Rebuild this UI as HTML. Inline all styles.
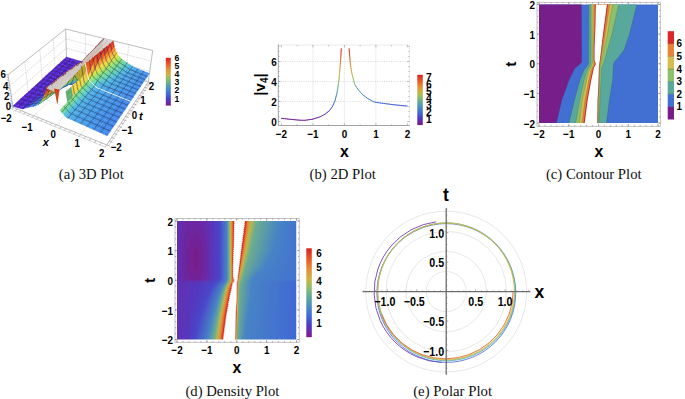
<!DOCTYPE html><html><head><meta charset="utf-8"><style>html,body{margin:0;padding:0;background:#fff;overflow:hidden}svg{display:block}</style></head><body>
<svg width="685" height="399" viewBox="0 0 685 399">
<rect width="685" height="399" fill="#fff"/>
<text x="58.8" y="179.2" textLength="64.9" lengthAdjust="spacingAndGlyphs" style="font-family:'Liberation Serif',serif;font-size:14px" fill="#111">(a) 3D Plot</text>
<text x="309.5" y="179.2" textLength="66.4" lengthAdjust="spacingAndGlyphs" style="font-family:'Liberation Serif',serif;font-size:14px" fill="#111">(b) 2D Plot</text>
<text x="545.9" y="179.2" textLength="95.7" lengthAdjust="spacingAndGlyphs" style="font-family:'Liberation Serif',serif;font-size:14px" fill="#111">(c) Contour Plot</text>
<text x="185.4" y="395.5" textLength="94.0" lengthAdjust="spacingAndGlyphs" style="font-family:'Liberation Serif',serif;font-size:14px" fill="#111">(d) Density Plot</text>
<text x="413.2" y="395.5" textLength="78.9" lengthAdjust="spacingAndGlyphs" style="font-family:'Liberation Serif',serif;font-size:14px" fill="#111">(e) Polar Plot</text>
<g transform="translate(539,4.5)">
<rect x="0" y="0" width="119.0" height="118.5" fill="#4270d2"/>
<polygon points="0,0 42.4,0 42.4,0.5 42.4,1 42.41,1.5 42.41,2 42.41,2.5 42.41,3 42.41,3.5 42.41,4 42.42,4.5 42.42,5 42.42,5.5 42.42,6 42.42,6.5 42.42,7 42.43,7.5 42.43,8 42.43,8.5 42.43,9 42.43,9.5 42.43,10 42.44,10.5 42.44,11 42.44,11.5 42.44,12 42.44,12.5 42.45,13 42.45,13.5 42.45,14 42.45,14.5 42.45,15 42.45,15.5 42.46,16 42.46,16.5 42.46,17 42.46,17.5 42.46,18 42.46,18.5 42.47,19 42.47,19.5 42.47,20 42.47,20.5 42.47,21 42.47,21.5 42.48,22 42.48,22.5 42.48,23 42.48,23.5 42.48,24 42.49,24.5 42.49,25 42.49,25.5 42.49,26 42.49,26.5 42.49,27 42.5,27.5 42.5,28 42.5,28.5 42.5,29 42.5,29.5 42.5,30 42.51,30.5 42.51,31 42.51,31.5 42.51,32 42.51,32.5 42.51,33 42.52,33.5 42.52,34 42.52,34.5 42.52,35 42.52,35.5 42.53,36 42.53,36.5 42.53,37 42.53,37.5 42.53,38 42.53,38.5 42.54,39 42.54,39.5 42.54,40 42.54,40.5 42.54,41 42.54,41.5 42.55,42 42.55,42.5 42.55,43 42.55,43.5 42.55,44 42.55,44.5 42.56,45 42.56,45.5 42.56,46 42.56,46.5 42.56,47 42.57,47.5 42.57,48 42.57,48.5 42.57,49 42.57,49.5 42.57,50 42.58,50.5 42.58,51 42.58,51.5 42.58,52 42.58,52.5 42.58,53 42.59,53.5 42.59,54 42.59,54.5 42.59,55 42.59,55.5 42.59,56 42.6,56.5 42.6,57 42.6,57.5 42.17,58 41.73,58.5 41.3,59 40.87,59.5 40.43,60 40,60.5 39.33,61 38.67,61.5 38,62 37.33,62.5 36.67,63 36,63.5 35.75,64 35.5,64.5 35.25,65 35,65.5 34.75,66 34.5,66.5 34.25,67 34,67.5 33.75,68 33.5,68.5 33.25,69 33,69.5 32.75,70 32.5,70.5 32.25,71 32,71.5 31.75,72 31.5,72.5 31.25,73 31,73.5 30.75,74 30.5,74.5 30.25,75 30,75.5 29.82,76 29.64,76.5 29.46,77 29.28,77.5 29.1,78 28.92,78.5 28.74,79 28.56,79.5 28.38,80 28.2,80.5 28.02,81 27.84,81.5 27.66,82 27.48,82.5 27.3,83 27.12,83.5 26.94,84 26.76,84.5 26.58,85 26.4,85.5 26.22,86 26.04,86.5 25.86,87 25.68,87.5 25.5,88 25.32,88.5 25.14,89 24.96,89.5 24.78,90 24.6,90.5 24.42,91 24.24,91.5 24.06,92 23.88,92.5 23.7,93 23.52,93.5 23.34,94 23.16,94.5 22.98,95 22.8,95.5 22.68,96 22.57,96.5 22.45,97 22.33,97.5 22.21,98 22.1,98.5 21.98,99 21.86,99.5 21.74,100 21.63,100.5 21.51,101 21.39,101.5 21.27,102 21.16,102.5 21.04,103 20.92,103.5 20.8,104 20.69,104.5 20.57,105 20.45,105.5 20.33,106 20.22,106.5 20.1,107 19.98,107.5 19.87,108 19.75,108.5 19.63,109 19.51,109.5 19.4,110 19.28,110.5 19.16,111 19.04,111.5 18.93,112 18.81,112.5 18.69,113 18.57,113.5 18.46,114 18.34,114.5 18.22,115 18.1,115.5 17.99,116 17.87,116.5 17.75,117 17.63,117.5 17.52,118 17.4,118.5 0,118.5" fill="#781e8a"/>
<polygon points="49.75,0 49.75,0.5 49.75,1 49.74,1.5 49.74,2 49.74,2.5 49.74,3 49.74,3.5 49.73,4 49.73,4.5 49.73,5 49.73,5.5 49.72,6 49.72,6.5 49.72,7 49.72,7.5 49.72,8 49.71,8.5 49.71,9 49.71,9.5 49.71,10 49.71,10.5 49.7,11 49.7,11.5 49.7,12 49.7,12.5 49.69,13 49.69,13.5 49.69,14 49.69,14.5 49.69,15 49.68,15.5 49.68,16 49.68,16.5 49.68,17 49.68,17.5 49.67,18 49.67,18.5 49.67,19 49.67,19.5 49.66,20 49.66,20.5 49.66,21 49.66,21.5 49.66,22 49.65,22.5 49.65,23 49.65,23.5 49.65,24 49.65,24.5 49.64,25 49.64,25.5 49.64,26 49.64,26.5 49.63,27 49.63,27.5 49.63,28 49.63,28.5 49.63,29 49.62,29.5 49.62,30 49.62,30.5 49.62,31 49.62,31.5 49.61,32 49.61,32.5 49.61,33 49.61,33.5 49.6,34 49.6,34.5 49.6,35 49.6,35.5 49.6,36 49.59,36.5 49.59,37 49.59,37.5 49.59,38 49.59,38.5 49.58,39 49.58,39.5 49.58,40 49.58,40.5 49.57,41 49.57,41.5 49.57,42 49.57,42.5 49.57,43 49.56,43.5 49.56,44 49.56,44.5 49.56,45 49.56,45.5 49.55,46 49.55,46.5 49.55,47 49.55,47.5 49.54,48 49.54,48.5 49.54,49 49.54,49.5 49.54,50 49.53,50.5 49.53,51 49.53,51.5 49.53,52 49.53,52.5 49.52,53 49.52,53.5 49.52,54 49.52,54.5 49.51,55 49.51,55.5 49.51,56 49.51,56.5 49.51,57 49.5,57.5 49.5,58 49.5,58.5 49.38,59 49.25,59.5 49.12,60 49,60.5 48.6,61 48.2,61.5 47.8,62 47.4,62.5 47,63 46.6,63.5 46.2,64 45.8,64.5 45.4,65 45,65.5 44.8,66 44.6,66.5 44.4,67 44.2,67.5 44,68 43.8,68.5 43.6,69 43.4,69.5 43.2,70 43,70.5 42.8,71 42.6,71.5 42.4,72 42.2,72.5 42,73 41.8,73.5 41.6,74 41.4,74.5 41.2,75 41,75.5 40.86,76 40.73,76.5 40.59,77 40.45,77.5 40.31,78 40.17,78.5 40.04,79 39.9,79.5 39.76,80 39.62,80.5 39.49,81 39.35,81.5 39.21,82 39.08,82.5 38.94,83 38.8,83.5 38.66,84 38.52,84.5 38.39,85 38.25,85.5 38.11,86 37.98,86.5 37.84,87 37.7,87.5 37.56,88 37.42,88.5 37.29,89 37.15,89.5 37.01,90 36.88,90.5 36.74,91 36.6,91.5 36.46,92 36.33,92.5 36.19,93 36.05,93.5 35.91,94 35.77,94.5 35.64,95 35.5,95.5 35.38,96 35.26,96.5 35.14,97 35.02,97.5 34.9,98 34.78,98.5 34.66,99 34.54,99.5 34.42,100 34.3,100.5 34.18,101 34.07,101.5 33.95,102 33.83,102.5 33.71,103 33.59,103.5 33.47,104 33.35,104.5 33.23,105 33.11,105.5 32.99,106 32.87,106.5 32.75,107 32.63,107.5 32.51,108 32.39,108.5 32.27,109 32.15,109.5 32.03,110 31.91,110.5 31.79,111 31.67,111.5 31.55,112 31.43,112.5 31.32,113 31.2,113.5 31.08,114 30.96,114.5 30.84,115 30.72,115.5 30.6,116 30.48,116.5 30.36,117 30.24,117.5 30.12,118 30,118.5 67.4,118.5 67.47,118 67.53,117.5 67.6,117 67.66,116.5 67.73,116 67.79,115.5 67.86,115 67.92,114.5 67.99,114 68.05,113.5 68.12,113 68.18,112.5 68.25,112 68.31,111.5 68.38,111 68.44,110.5 68.51,110 68.57,109.5 68.64,109 68.7,108.5 68.77,108 68.83,107.5 68.9,107 68.97,106.5 69.03,106 69.1,105.5 69.16,105 69.23,104.5 69.29,104 69.36,103.5 69.42,103 69.49,102.5 69.55,102 69.62,101.5 69.68,101 69.75,100.5 69.81,100 69.88,99.5 69.94,99 70.01,98.5 70.07,98 70.14,97.5 70.2,97 70.27,96.5 70.33,96 70.4,95.5 70.48,95 70.56,94.5 70.64,94 70.72,93.5 70.8,93 70.88,92.5 70.96,92 71.04,91.5 71.12,91 71.2,90.5 71.28,90 71.36,89.5 71.44,89 71.52,88.5 71.6,88 71.68,87.5 71.76,87 71.84,86.5 71.92,86 72,85.5 72.08,85 72.16,84.5 72.24,84 72.32,83.5 72.4,83 72.48,82.5 72.56,82 72.64,81.5 72.72,81 72.8,80.5 72.88,80 72.96,79.5 73.04,79 73.12,78.5 73.2,78 73.28,77.5 73.36,77 73.44,76.5 73.52,76 73.6,75.5 73.63,75 73.66,74.5 73.69,74 73.72,73.5 73.75,73 73.78,72.5 73.81,72 73.84,71.5 73.87,71 73.9,70.5 73.93,70 73.97,69.5 74,69 74.03,68.5 74.06,68 74.09,67.5 74.12,67 74.15,66.5 74.18,66 74.21,65.5 74.24,65 74.27,64.5 74.3,64 74.31,63.5 74.33,63 74.34,62.5 74.36,62 74.37,61.5 74.39,61 74.4,60.5 74.55,60 74.7,59.5 74.85,59 75,58.5 75.15,58 75.3,57.5 75.74,57 76.17,56.5 76.61,56 77.05,55.5 77.49,55 77.92,54.5 78.36,54 78.8,53.5 79.19,53 79.58,52.5 79.96,52 80.35,51.5 80.74,51 81.12,50.5 81.51,50 81.9,49.5 82.29,49 82.67,48.5 83.06,48 83.45,47.5 83.84,47 84.22,46.5 84.61,46 85,45.5 85.17,45 85.35,44.5 85.52,44 85.69,43.5 85.87,43 86.04,42.5 86.21,42 86.39,41.5 86.56,41 86.73,40.5 86.91,40 87.08,39.5 87.25,39 87.43,38.5 87.6,38 87.77,37.5 87.95,37 88.12,36.5 88.29,36 88.47,35.5 88.64,35 88.81,34.5 88.99,34 89.16,33.5 89.33,33 89.51,32.5 89.68,32 89.85,31.5 90.03,31 90.2,30.5 90.33,30 90.45,29.5 90.58,29 90.7,28.5 90.83,28 90.95,27.5 91.08,27 91.21,26.5 91.33,26 91.46,25.5 91.58,25 91.71,24.5 91.83,24 91.96,23.5 92.09,23 92.21,22.5 92.34,22 92.46,21.5 92.59,21 92.71,20.5 92.84,20 92.97,19.5 93.09,19 93.22,18.5 93.34,18 93.47,17.5 93.59,17 93.72,16.5 93.85,16 93.97,15.5 94.1,15 94.22,14.5 94.35,14 94.47,13.5 94.6,13 94.72,12.5 94.85,12 94.97,11.5 95.09,11 95.22,10.5 95.34,10 95.46,9.5 95.58,9 95.71,8.5 95.83,8 95.95,7.5 96.08,7 96.2,6.5 96.32,6 96.45,5.5 96.57,5 96.69,4.5 96.82,4 96.94,3.5 97.06,3 97.18,2.5 97.31,2 97.43,1.5 97.55,1 97.68,0.5 97.8,0" fill="#58a89c"/>
<polygon points="51.4,0 51.41,0.5 51.41,1 51.42,1.5 51.42,2 51.43,2.5 51.43,3 51.44,3.5 51.44,4 51.45,4.5 51.45,5 51.46,5.5 51.46,6 51.47,6.5 51.47,7 51.48,7.5 51.48,8 51.49,8.5 51.49,9 51.5,9.5 51.5,10 51.51,10.5 51.51,11 51.52,11.5 51.52,12 51.53,12.5 51.53,13 51.54,13.5 51.54,14 51.55,14.5 51.55,15 51.56,15.5 51.56,16 51.57,16.5 51.57,17 51.58,17.5 51.58,18 51.59,18.5 51.59,19 51.6,19.5 51.61,20 51.61,20.5 51.62,21 51.62,21.5 51.63,22 51.63,22.5 51.64,23 51.64,23.5 51.65,24 51.65,24.5 51.66,25 51.66,25.5 51.67,26 51.67,26.5 51.68,27 51.68,27.5 51.69,28 51.69,28.5 51.7,29 51.7,29.5 51.71,30 51.71,30.5 51.72,31 51.72,31.5 51.73,32 51.73,32.5 51.74,33 51.74,33.5 51.75,34 51.75,34.5 51.76,35 51.76,35.5 51.77,36 51.77,36.5 51.78,37 51.78,37.5 51.79,38 51.79,38.5 51.8,39 51.81,39.5 51.81,40 51.82,40.5 51.82,41 51.83,41.5 51.83,42 51.84,42.5 51.84,43 51.85,43.5 51.85,44 51.86,44.5 51.86,45 51.87,45.5 51.87,46 51.88,46.5 51.88,47 51.89,47.5 51.89,48 51.9,48.5 51.9,49 51.91,49.5 51.91,50 51.92,50.5 51.92,51 51.93,51.5 51.93,52 51.94,52.5 51.94,53 51.95,53.5 51.95,54 51.96,54.5 51.96,55 51.97,55.5 51.97,56 51.98,56.5 51.98,57 51.99,57.5 51.99,58 52,58.5 51.8,59 51.6,59.5 51.4,60 51.2,60.5 51,61 50.7,61.5 50.4,62 50.1,62.5 49.8,63 49.5,63.5 49.2,64 48.9,64.5 48.6,65 48.3,65.5 48,66 47.85,66.5 47.69,67 47.54,67.5 47.39,68 47.24,68.5 47.08,69 46.93,69.5 46.78,70 46.63,70.5 46.47,71 46.32,71.5 46.17,72 46.02,72.5 45.86,73 45.71,73.5 45.56,74 45.41,74.5 45.25,75 45.1,75.5 45,76 44.89,76.5 44.79,77 44.68,77.5 44.58,78 44.47,78.5 44.37,79 44.26,79.5 44.16,80 44.05,80.5 43.95,81 43.84,81.5 43.73,82 43.63,82.5 43.52,83 43.42,83.5 43.31,84 43.21,84.5 43.1,85 43,85.5 42.9,86 42.79,86.5 42.69,87 42.58,87.5 42.48,88 42.37,88.5 42.27,89 42.16,89.5 42.05,90 41.95,90.5 41.84,91 41.74,91.5 41.63,92 41.53,92.5 41.42,93 41.32,93.5 41.21,94 41.11,94.5 41,95 40.9,95.5 40.81,96 40.72,96.5 40.63,97 40.53,97.5 40.44,98 40.35,98.5 40.26,99 40.17,99.5 40.08,100 39.99,100.5 39.9,101 39.8,101.5 39.71,102 39.62,102.5 39.53,103 39.44,103.5 39.35,104 39.26,104.5 39.17,105 39.07,105.5 38.98,106 38.89,106.5 38.8,107 38.71,107.5 38.62,108 38.53,108.5 38.43,109 38.34,109.5 38.25,110 38.16,110.5 38.07,111 37.98,111.5 37.89,112 37.8,112.5 37.7,113 37.61,113.5 37.52,114 37.43,114.5 37.34,115 37.25,115.5 37.16,116 37.07,116.5 36.97,117 36.88,117.5 36.79,118 36.7,118.5 59.8,118.5 59.83,118 59.85,117.5 59.88,117 59.9,116.5 59.93,116 59.96,115.5 59.98,115 60.01,114.5 60.03,114 60.06,113.5 60.09,113 60.11,112.5 60.14,112 60.17,111.5 60.19,111 60.22,110.5 60.24,110 60.27,109.5 60.3,109 60.32,108.5 60.35,108 60.37,107.5 60.4,107 60.43,106.5 60.45,106 60.48,105.5 60.5,105 60.53,104.5 60.56,104 60.58,103.5 60.61,103 60.63,102.5 60.66,102 60.69,101.5 60.71,101 60.74,100.5 60.77,100 60.79,99.5 60.82,99 60.84,98.5 60.87,98 60.9,97.5 60.92,97 60.95,96.5 60.97,96 61,95.5 61.02,95 61.05,94.5 61.08,94 61.1,93.5 61.12,93 61.15,92.5 61.17,92 61.2,91.5 61.23,91 61.25,90.5 61.27,90 61.3,89.5 61.33,89 61.35,88.5 61.38,88 61.4,87.5 61.42,87 61.45,86.5 61.48,86 61.5,85.5 61.52,85 61.55,84.5 61.58,84 61.6,83.5 61.62,83 61.65,82.5 61.67,82 61.7,81.5 61.73,81 61.75,80.5 61.77,80 61.8,79.5 61.83,79 61.85,78.5 61.88,78 61.9,77.5 61.92,77 61.95,76.5 61.98,76 62,75.5 62.02,75 62.05,74.5 62.08,74 62.1,73.5 62.12,73 62.15,72.5 62.17,72 62.2,71.5 62.23,71 62.25,70.5 62.27,70 62.3,69.5 62.33,69 62.35,68.5 62.38,68 62.4,67.5 62.42,67 62.45,66.5 62.48,66 62.5,65.5 62.57,65 62.64,64.5 62.71,64 62.79,63.5 62.86,63 62.93,62.5 63,62 63.28,61.5 63.56,61 63.84,60.5 64.12,60 64.4,59.5 64.55,59 64.7,58.5 64.85,58 65,57.5 65.15,57 65.3,56.5 65.45,56 65.6,55.5 65.74,55 65.88,54.5 66.03,54 66.17,53.5 66.31,53 66.45,52.5 66.59,52 66.74,51.5 66.88,51 67.02,50.5 67.16,50 67.3,49.5 67.45,49 67.59,48.5 67.73,48 67.87,47.5 68.01,47 68.16,46.5 68.3,46 68.44,45.5 68.58,45 68.72,44.5 68.87,44 69.01,43.5 69.15,43 69.29,42.5 69.43,42 69.58,41.5 69.72,41 69.86,40.5 70,40 70.14,39.5 70.29,39 70.43,38.5 70.57,38 70.71,37.5 70.85,37 71,36.5 71.14,36 71.28,35.5 71.42,35 71.56,34.5 71.71,34 71.85,33.5 71.99,33 72.13,32.5 72.27,32 72.42,31.5 72.56,31 72.7,30.5 72.81,30 72.93,29.5 73.04,29 73.16,28.5 73.27,28 73.39,27.5 73.5,27 73.62,26.5 73.73,26 73.85,25.5 73.96,25 74.08,24.5 74.19,24 74.31,23.5 74.42,23 74.54,22.5 74.65,22 74.77,21.5 74.88,21 75,20.5 75.11,20 75.22,19.5 75.34,19 75.45,18.5 75.57,18 75.68,17.5 75.8,17 75.91,16.5 76.03,16 76.14,15.5 76.26,15 76.37,14.5 76.49,14 76.6,13.5 76.72,13 76.83,12.5 76.95,12 77.06,11.5 77.18,11 77.29,10.5 77.4,10 77.52,9.5 77.63,9 77.75,8.5 77.86,8 77.98,7.5 78.09,7 78.21,6.5 78.32,6 78.44,5.5 78.55,5 78.67,4.5 78.78,4 78.9,3.5 79.01,3 79.13,2.5 79.24,2 79.36,1.5 79.47,1 79.59,0.5 79.7,0" fill="#8cc06c"/>
<polygon points="53,0 53,0.5 53.01,1 53.01,1.5 53.02,2 53.02,2.5 53.03,3 53.03,3.5 53.03,4 53.04,4.5 53.04,5 53.05,5.5 53.05,6 53.06,6.5 53.06,7 53.06,7.5 53.07,8 53.07,8.5 53.08,9 53.08,9.5 53.09,10 53.09,10.5 53.09,11 53.1,11.5 53.1,12 53.11,12.5 53.11,13 53.12,13.5 53.12,14 53.12,14.5 53.13,15 53.13,15.5 53.14,16 53.14,16.5 53.15,17 53.15,17.5 53.15,18 53.16,18.5 53.16,19 53.17,19.5 53.17,20 53.18,20.5 53.18,21 53.18,21.5 53.19,22 53.19,22.5 53.2,23 53.2,23.5 53.21,24 53.21,24.5 53.21,25 53.22,25.5 53.22,26 53.23,26.5 53.23,27 53.24,27.5 53.24,28 53.24,28.5 53.25,29 53.25,29.5 53.26,30 53.26,30.5 53.26,31 53.27,31.5 53.27,32 53.28,32.5 53.28,33 53.29,33.5 53.29,34 53.29,34.5 53.3,35 53.3,35.5 53.31,36 53.31,36.5 53.32,37 53.32,37.5 53.32,38 53.33,38.5 53.33,39 53.34,39.5 53.34,40 53.35,40.5 53.35,41 53.35,41.5 53.36,42 53.36,42.5 53.37,43 53.37,43.5 53.38,44 53.38,44.5 53.38,45 53.39,45.5 53.39,46 53.4,46.5 53.4,47 53.41,47.5 53.41,48 53.41,48.5 53.42,49 53.42,49.5 53.43,50 53.43,50.5 53.44,51 53.44,51.5 53.44,52 53.45,52.5 53.45,53 53.46,53.5 53.46,54 53.47,54.5 53.47,55 53.47,55.5 53.48,56 53.48,56.5 53.49,57 53.49,57.5 53.5,58 53.5,58.5 53.33,59 53.17,59.5 53,60 52.83,60.5 52.67,61 52.5,61.5 52.23,62 51.95,62.5 51.68,63 51.41,63.5 51.14,64 50.86,64.5 50.59,65 50.32,65.5 50.05,66 49.77,66.5 49.5,67 49.38,67.5 49.26,68 49.15,68.5 49.03,69 48.91,69.5 48.79,70 48.68,70.5 48.56,71 48.44,71.5 48.32,72 48.21,72.5 48.09,73 47.97,73.5 47.85,74 47.74,74.5 47.62,75 47.5,75.5 47.4,76 47.29,76.5 47.19,77 47.08,77.5 46.98,78 46.87,78.5 46.77,79 46.66,79.5 46.55,80 46.45,80.5 46.34,81 46.24,81.5 46.13,82 46.03,82.5 45.92,83 45.82,83.5 45.71,84 45.61,84.5 45.5,85 45.4,85.5 45.3,86 45.19,86.5 45.09,87 44.98,87.5 44.88,88 44.77,88.5 44.66,89 44.56,89.5 44.45,90 44.35,90.5 44.24,91 44.14,91.5 44.03,92 43.93,92.5 43.82,93 43.72,93.5 43.61,94 43.51,94.5 43.41,95 43.3,95.5 43.23,96 43.17,96.5 43.1,97 43.04,97.5 42.97,98 42.91,98.5 42.84,99 42.78,99.5 42.71,100 42.65,100.5 42.58,101 42.52,101.5 42.45,102 42.39,102.5 42.32,103 42.26,103.5 42.19,104 42.13,104.5 42.06,105 42,105.5 41.93,106 41.87,106.5 41.8,107 41.73,107.5 41.67,108 41.6,108.5 41.54,109 41.47,109.5 41.41,110 41.34,110.5 41.28,111 41.21,111.5 41.15,112 41.08,112.5 41.02,113 40.95,113.5 40.89,114 40.82,114.5 40.76,115 40.69,115.5 40.63,116 40.56,116.5 40.5,117 40.43,117.5 40.37,118 40.3,118.5 59.3,118.5 59.32,118 59.33,117.5 59.35,117 59.36,116.5 59.38,116 59.39,115.5 59.41,115 59.42,114.5 59.44,114 59.45,113.5 59.47,113 59.48,112.5 59.5,112 59.51,111.5 59.53,111 59.54,110.5 59.56,110 59.57,109.5 59.59,109 59.6,108.5 59.62,108 59.63,107.5 59.65,107 59.67,106.5 59.68,106 59.7,105.5 59.71,105 59.73,104.5 59.74,104 59.76,103.5 59.77,103 59.79,102.5 59.8,102 59.82,101.5 59.83,101 59.85,100.5 59.86,100 59.88,99.5 59.89,99 59.91,98.5 59.92,98 59.94,97.5 59.95,97 59.97,96.5 59.98,96 60,95.5 60.01,95 60.02,94.5 60.04,94 60.05,93.5 60.06,93 60.07,92.5 60.09,92 60.1,91.5 60.11,91 60.12,90.5 60.13,90 60.15,89.5 60.16,89 60.17,88.5 60.18,88 60.2,87.5 60.21,87 60.22,86.5 60.23,86 60.24,85.5 60.26,85 60.27,84.5 60.28,84 60.29,83.5 60.3,83 60.32,82.5 60.33,82 60.34,81.5 60.35,81 60.37,80.5 60.38,80 60.39,79.5 60.4,79 60.41,78.5 60.43,78 60.44,77.5 60.45,77 60.46,76.5 60.48,76 60.49,75.5 60.5,75 60.52,74.5 60.54,74 60.56,73.5 60.58,73 60.6,72.5 60.62,72 60.63,71.5 60.65,71 60.67,70.5 60.69,70 60.71,69.5 60.73,69 60.75,68.5 60.77,68 60.79,67.5 60.81,67 60.83,66.5 60.85,66 60.87,65.5 60.88,65 60.9,64.5 60.92,64 60.94,63.5 60.96,63 60.98,62.5 61,62 61.1,61.5 61.2,61 61.3,60.5 61.4,60 61.5,59.5 61.62,59 61.75,58.5 61.88,58 62,57.5 62.12,57 62.25,56.5 62.38,56 62.5,55.5 62.62,55 62.73,54.5 62.85,54 62.96,53.5 63.08,53 63.2,52.5 63.31,52 63.43,51.5 63.54,51 63.66,50.5 63.78,50 63.89,49.5 64.01,49 64.12,48.5 64.24,48 64.36,47.5 64.47,47 64.59,46.5 64.7,46 64.82,45.5 64.94,45 65.05,44.5 65.17,44 65.28,43.5 65.4,43 65.52,42.5 65.63,42 65.75,41.5 65.86,41 65.98,40.5 66.1,40 66.21,39.5 66.33,39 66.44,38.5 66.56,38 66.68,37.5 66.79,37 66.91,36.5 67.02,36 67.14,35.5 67.26,35 67.37,34.5 67.49,34 67.6,33.5 67.72,33 67.84,32.5 67.95,32 68.07,31.5 68.18,31 68.3,30.5 68.39,30 68.47,29.5 68.56,29 68.64,28.5 68.73,28 68.81,27.5 68.9,27 68.98,26.5 69.07,26 69.15,25.5 69.24,25 69.32,24.5 69.41,24 69.49,23.5 69.58,23 69.66,22.5 69.75,22 69.83,21.5 69.92,21 70,20.5 70.09,20 70.18,19.5 70.26,19 70.35,18.5 70.43,18 70.52,17.5 70.6,17 70.69,16.5 70.77,16 70.86,15.5 70.94,15 71.03,14.5 71.11,14 71.2,13.5 71.28,13 71.37,12.5 71.45,12 71.54,11.5 71.62,11 71.71,10.5 71.8,10 71.88,9.5 71.97,9 72.05,8.5 72.14,8 72.22,7.5 72.31,7 72.39,6.5 72.48,6 72.56,5.5 72.65,5 72.73,4.5 72.82,4 72.9,3.5 72.99,3 73.07,2.5 73.16,2 73.24,1.5 73.33,1 73.41,0.5 73.5,0" fill="#d4bc4e"/>
<polygon points="54.9,0 54.9,0.5 54.89,1 54.89,1.5 54.89,2 54.89,2.5 54.88,3 54.88,3.5 54.88,4 54.88,4.5 54.87,5 54.87,5.5 54.87,6 54.86,6.5 54.86,7 54.86,7.5 54.86,8 54.85,8.5 54.85,9 54.85,9.5 54.84,10 54.84,10.5 54.84,11 54.84,11.5 54.83,12 54.83,12.5 54.83,13 54.83,13.5 54.82,14 54.82,14.5 54.82,15 54.81,15.5 54.81,16 54.81,16.5 54.81,17 54.8,17.5 54.8,18 54.8,18.5 54.79,19 54.79,19.5 54.79,20 54.79,20.5 54.78,21 54.78,21.5 54.78,22 54.78,22.5 54.77,23 54.77,23.5 54.77,24 54.76,24.5 54.76,25 54.76,25.5 54.75,26 54.74,26.5 54.74,27 54.73,27.5 54.72,28 54.71,28.5 54.7,29 54.7,29.5 54.69,30 54.68,30.5 54.67,31 54.66,31.5 54.66,32 54.65,32.5 54.64,33 54.63,33.5 54.63,34 54.62,34.5 54.61,35 54.6,35.5 54.59,36 54.59,36.5 54.58,37 54.57,37.5 54.56,38 54.55,38.5 54.55,39 54.54,39.5 54.53,40 54.52,40.5 54.52,41 54.51,41.5 54.5,42 54.49,42.5 54.48,43 54.48,43.5 54.47,44 54.46,44.5 54.45,45 54.44,45.5 54.45,46 54.45,46.5 54.45,47 54.45,47.5 54.46,48 54.46,48.5 54.46,49 54.46,49.5 54.46,50 54.47,50.5 54.47,51 54.47,51.5 54.47,52 54.47,52.5 54.48,53 54.48,53.5 54.48,54 54.48,54.5 54.49,55 54.49,55.5 54.57,56 54.66,56.5 54.74,57 54.83,57.5 54.91,58 55,58.5 55.04,59 55.08,59.5 54.86,60 54.63,60.5 54.4,61 54.18,61.5 53.9,62 53.62,62.5 53.34,63 53.15,63.5 52.97,64 52.78,64.5 52.6,65 52.41,65.5 52.22,66 52.03,66.5 51.84,67 51.72,67.5 51.61,68 51.49,68.5 51.38,69 51.27,69.5 51.15,70 51.04,70.5 50.92,71 50.81,71.5 50.7,72 50.58,72.5 50.47,73 50.36,73.5 50.24,74 50.13,74.5 50.01,75 49.9,75.5 49.8,76 49.7,76.5 49.61,77 49.51,77.5 49.41,78 49.31,78.5 49.22,79 49.12,79.5 49.02,80 48.92,80.5 48.83,81 48.73,81.5 48.63,82 48.53,82.5 48.44,83 48.34,83.5 48.24,84 48.14,84.5 48.05,85 47.95,85.5 47.85,86 47.75,86.5 47.66,87 47.56,87.5 47.46,88 47.36,88.5 47.27,89 47.17,89.5 47.07,90 46.97,90.5 46.88,91 46.78,91.5 46.68,92 46.59,92.5 46.49,93 46.39,93.5 46.29,94 46.2,94.5 46.1,95 46,95.5 45.93,96 45.87,96.5 45.8,97 45.74,97.5 45.67,98 45.61,98.5 45.54,99 45.48,99.5 45.41,100 45.35,100.5 45.28,101 45.22,101.5 45.15,102 45.09,102.5 45.02,103 44.96,103.5 44.89,104 44.83,104.5 44.76,105 44.7,105.5 44.63,106 44.57,106.5 44.5,107 44.43,107.5 44.37,108 44.3,108.5 44.24,109 44.17,109.5 44.11,110 44.04,110.5 43.98,111 43.91,111.5 43.85,112 43.78,112.5 43.72,113 43.65,113.5 43.59,114 43.52,114.5 43.46,115 43.39,115.5 43.33,116 43.26,116.5 43.2,117 43.13,117.5 43.07,118 43,118.5 58.8,118.5 58.81,118 58.82,117.5 58.83,117 58.84,116.5 58.85,116 58.87,115.5 58.88,115 58.89,114.5 58.9,114 58.91,113.5 58.92,113 58.93,112.5 58.94,112 58.95,111.5 58.96,111 58.97,110.5 58.98,110 59,109.5 59.01,109 59.02,108.5 59.03,108 59.04,107.5 59.05,107 59.06,106.5 59.07,106 59.08,105.5 59.09,105 59.1,104.5 59.12,104 59.13,103.5 59.14,103 59.15,102.5 59.16,102 59.17,101.5 59.18,101 59.19,100.5 59.2,100 59.21,99.5 59.22,99 59.23,98.5 59.25,98 59.26,97.5 59.27,97 59.28,96.5 59.29,96 59.3,95.5 59.32,95 59.34,94.5 59.36,94 59.38,93.5 59.41,93 59.43,92.5 59.45,92 59.47,91.5 59.49,91 59.51,90.5 59.53,90 59.55,89.5 59.57,89 59.6,88.5 59.62,88 59.64,87.5 59.66,87 59.68,86.5 59.7,86 59.72,85.5 59.74,85 59.76,84.5 59.79,84 59.81,83.5 59.83,83 59.85,82.5 59.87,82 59.89,81.5 59.91,81 59.93,80.5 59.95,80 59.96,79.5 59.97,79 59.98,78.5 60,78 60.01,77.5 60.02,77 60.03,76.5 60.05,76 60.06,75.5 60.07,75 60.09,74.5 60.1,74 60.12,73.5 60.13,73 60.15,72.5 60.17,72 60.18,71.5 60.2,71 60.21,70.5 60.23,70 60.25,69.5 60.26,69 60.28,68.5 60.29,68 60.31,67.5 60.33,67 60.34,66.5 60.36,66 60.38,65.5 60.39,65 60.41,64.5 60.42,64 60.44,63.5 60.46,63 60.47,62.5 60.49,62 60.54,61.5 60.6,61 60.72,60.5 60.83,60 60.95,59.5 61.04,59 61.14,58.5 61.23,58 61.33,57.5 61.42,57 61.51,56.5 61.61,56 61.7,55.5 61.79,55 61.88,54.5 61.96,54 62.05,53.5 62.14,53 62.23,52.5 62.32,52 62.4,51.5 62.49,51 62.58,50.5 62.67,50 62.76,49.5 62.84,49 62.93,48.5 63.02,48 63.11,47.5 63.2,47 63.28,46.5 63.37,46 63.46,45.5 63.55,45 63.64,44.5 63.72,44 63.81,43.5 63.9,43 63.99,42.5 64.08,42 64.16,41.5 64.25,41 64.34,40.5 64.43,40 64.52,39.5 64.6,39 64.69,38.5 64.78,38 64.87,37.5 64.96,37 65.04,36.5 65.13,36 65.22,35.5 65.31,35 65.4,34.5 65.48,34 65.57,33.5 65.66,33 65.75,32.5 65.84,32 65.92,31.5 66.01,31 66.1,30.5 66.18,30 66.25,29.5 66.33,29 66.4,28.5 66.48,28 66.55,27.5 66.63,27 66.7,26.5 66.78,26 66.85,25.5 66.93,25 67,24.5 67.08,24 67.16,23.5 67.23,23 67.31,22.5 67.38,22 67.46,21.5 67.53,21 67.61,20.5 67.68,20 67.76,19.5 67.83,19 67.91,18.5 67.99,18 68.06,17.5 68.14,17 68.21,16.5 68.29,16 68.36,15.5 68.44,15 68.51,14.5 68.59,14 68.66,13.5 68.74,13 68.81,12.5 68.89,12 68.97,11.5 69.04,11 69.12,10.5 69.19,10 69.27,9.5 69.34,9 69.42,8.5 69.49,8 69.57,7.5 69.64,7 69.72,6.5 69.8,6 69.87,5.5 69.95,5 70.02,4.5 70.1,4 70.17,3.5 70.25,3 70.32,2.5 70.4,2 70.47,1.5 70.55,1 70.62,0.5 70.7,0" fill="#e8843a"/>
<polygon points="56.12,0 56.11,0.5 56.1,1 56.09,1.5 56.09,2 56.08,2.5 56.07,3 56.07,3.5 56.06,4 56.05,4.5 56.04,5 56.04,5.5 56.03,6 56.02,6.5 56.01,7 56.01,7.5 56,8 55.99,8.5 55.99,9 55.98,9.5 55.97,10 55.96,10.5 55.96,11 55.95,11.5 55.94,12 55.93,12.5 55.93,13 55.92,13.5 55.91,14 55.91,14.5 55.9,15 55.89,15.5 55.88,16 55.88,16.5 55.87,17 55.86,17.5 55.85,18 55.85,18.5 55.84,19 55.83,19.5 55.83,20 55.82,20.5 55.81,21 55.8,21.5 55.8,22 55.79,22.5 55.78,23 55.77,23.5 55.77,24 55.76,24.5 55.75,25 55.75,25.5 55.73,26 55.71,26.5 55.7,27 55.68,27.5 55.67,28 55.65,28.5 55.64,29 55.62,29.5 55.6,30 55.59,30.5 55.57,31 55.56,31.5 55.54,32 55.53,32.5 55.51,33 55.5,33.5 55.48,34 55.46,34.5 55.45,35 55.43,35.5 55.42,36 55.4,36.5 55.39,37 55.37,37.5 55.35,38 55.34,38.5 55.32,39 55.31,39.5 55.29,40 55.28,40.5 55.26,41 55.25,41.5 55.23,42 55.21,42.5 55.2,43 55.18,43.5 55.17,44 55.15,44.5 55.14,45 55.12,45.5 55.12,46 55.12,46.5 55.12,47 55.12,47.5 55.12,48 55.12,48.5 55.13,49 55.13,49.5 55.13,50 55.13,50.5 55.13,51 55.13,51.5 55.13,52 55.13,52.5 55.13,53 55.13,53.5 55.13,54 55.13,54.5 55.13,55 55.14,55.5 55.27,56 55.41,56.5 55.55,57 55.69,57.5 55.82,58 55.96,58.5 56.13,59 56.31,59.5 56.05,60 55.78,60.5 55.52,61 55.25,61.5 54.97,62 54.69,62.5 54.4,63 54.27,63.5 54.14,64 54.01,64.5 53.88,65 53.75,65.5 53.61,66 53.47,66.5 53.33,67 53.22,67.5 53.11,68 53,68.5 52.88,69 52.77,69.5 52.66,70 52.55,70.5 52.44,71 52.33,71.5 52.22,72 52.1,72.5 51.99,73 51.88,73.5 51.77,74 51.66,74.5 51.55,75 51.44,75.5 51.34,76 51.25,76.5 51.16,77 51.07,77.5 50.97,78 50.88,78.5 50.79,79 50.69,79.5 50.6,80 50.51,80.5 50.42,81 50.32,81.5 50.23,82 50.14,82.5 50.05,83 49.95,83.5 49.86,84 49.77,84.5 49.67,85 49.58,85.5 49.49,86 49.4,86.5 49.3,87 49.21,87.5 49.12,88 49.03,88.5 48.93,89 48.84,89.5 48.75,90 48.66,90.5 48.56,91 48.47,91.5 48.38,92 48.28,92.5 48.19,93 48.1,93.5 48.01,94 47.91,94.5 47.82,95 47.73,95.5 47.66,96 47.6,96.5 47.53,97 47.47,97.5 47.4,98 47.34,98.5 47.27,99 47.21,99.5 47.14,100 47.08,100.5 47.01,101 46.95,101.5 46.88,102 46.81,102.5 46.75,103 46.68,103.5 46.62,104 46.55,104.5 46.49,105 46.42,105.5 46.36,106 46.29,106.5 46.23,107 46.16,107.5 46.1,108 46.03,108.5 45.97,109 45.9,109.5 45.84,110 45.77,110.5 45.71,111 45.64,111.5 45.58,112 45.51,112.5 45.45,113 45.38,113.5 45.31,114 45.25,114.5 45.18,115 45.12,115.5 45.05,116 44.99,116.5 44.92,117 44.86,117.5 44.79,118 44.73,118.5 58.48,118.5 58.49,118 58.5,117.5 58.5,117 58.51,116.5 58.52,116 58.53,115.5 58.54,115 58.54,114.5 58.55,114 58.56,113.5 58.57,113 58.58,112.5 58.59,112 58.59,111.5 58.6,111 58.61,110.5 58.62,110 58.63,109.5 58.63,109 58.64,108.5 58.65,108 58.66,107.5 58.67,107 58.67,106.5 58.68,106 58.69,105.5 58.7,105 58.71,104.5 58.71,104 58.72,103.5 58.73,103 58.74,102.5 58.75,102 58.75,101.5 58.76,101 58.77,100.5 58.78,100 58.79,99.5 58.8,99 58.8,98.5 58.81,98 58.82,97.5 58.83,97 58.84,96.5 58.84,96 58.85,95.5 58.88,95 58.91,94.5 58.93,94 58.96,93.5 58.99,93 59.01,92.5 59.04,92 59.07,91.5 59.09,91 59.12,90.5 59.15,90 59.17,89.5 59.2,89 59.23,88.5 59.25,88 59.28,87.5 59.31,87 59.33,86.5 59.36,86 59.39,85.5 59.41,85 59.44,84.5 59.47,84 59.5,83.5 59.52,83 59.55,82.5 59.58,82 59.6,81.5 59.63,81 59.66,80.5 59.67,80 59.68,79.5 59.69,79 59.71,78.5 59.72,78 59.73,77.5 59.74,77 59.76,76.5 59.77,76 59.78,75.5 59.8,75 59.81,74.5 59.82,74 59.84,73.5 59.85,73 59.87,72.5 59.88,72 59.89,71.5 59.91,71 59.92,70.5 59.94,70 59.95,69.5 59.96,69 59.98,68.5 59.99,68 60.01,67.5 60.02,67 60.03,66.5 60.05,66 60.06,65.5 60.08,65 60.09,64.5 60.1,64 60.12,63.5 60.13,63 60.14,62.5 60.16,62 60.19,61.5 60.22,61 60.34,60.5 60.47,60 60.6,59.5 60.67,59 60.75,58.5 60.82,58 60.89,57.5 60.97,57 61.04,56.5 61.11,56 61.19,55.5 61.26,55 61.33,54.5 61.4,54 61.47,53.5 61.54,53 61.61,52.5 61.68,52 61.75,51.5 61.82,51 61.89,50.5 61.96,50 62.03,49.5 62.1,49 62.17,48.5 62.24,48 62.31,47.5 62.38,47 62.45,46.5 62.52,46 62.59,45.5 62.66,45 62.73,44.5 62.8,44 62.87,43.5 62.94,43 63.01,42.5 63.08,42 63.15,41.5 63.22,41 63.29,40.5 63.36,40 63.43,39.5 63.5,39 63.57,38.5 63.64,38 63.71,37.5 63.78,37 63.85,36.5 63.92,36 63.99,35.5 64.06,35 64.13,34.5 64.2,34 64.27,33.5 64.34,33 64.41,32.5 64.48,32 64.55,31.5 64.62,31 64.69,30.5 64.76,30 64.83,29.5 64.9,29 64.97,28.5 65.04,28 65.11,27.5 65.18,27 65.24,26.5 65.31,26 65.38,25.5 65.45,25 65.52,24.5 65.59,24 65.66,23.5 65.73,23 65.8,22.5 65.87,22 65.94,21.5 66.01,21 66.07,20.5 66.14,20 66.21,19.5 66.28,19 66.35,18.5 66.42,18 66.49,17.5 66.56,17 66.63,16.5 66.7,16 66.77,15.5 66.83,15 66.9,14.5 66.97,14 67.04,13.5 67.11,13 67.18,12.5 67.25,12 67.32,11.5 67.39,11 67.46,10.5 67.53,10 67.59,9.5 67.66,9 67.73,8.5 67.8,8 67.87,7.5 67.94,7 68.01,6.5 68.08,6 68.15,5.5 68.22,5 68.29,4.5 68.36,4 68.42,3.5 68.49,3 68.56,2.5 68.63,2 68.7,1.5 68.77,1 68.84,0.5 68.91,0" fill="#d8282a"/>
<polygon points="56.8,0 56.79,0.5 56.78,1 56.77,1.5 56.76,2 56.75,2.5 56.74,3 56.73,3.5 56.72,4 56.71,4.5 56.7,5 56.69,5.5 56.68,6 56.67,6.5 56.66,7 56.65,7.5 56.64,8 56.63,8.5 56.62,9 56.61,9.5 56.6,10 56.59,10.5 56.58,11 56.57,11.5 56.56,12 56.55,12.5 56.55,13 56.54,13.5 56.53,14 56.52,14.5 56.51,15 56.5,15.5 56.49,16 56.48,16.5 56.47,17 56.46,17.5 56.45,18 56.44,18.5 56.43,19 56.42,19.5 56.41,20 56.4,20.5 56.39,21 56.38,21.5 56.37,22 56.36,22.5 56.35,23 56.34,23.5 56.33,24 56.32,24.5 56.31,25 56.3,25.5 56.28,26 56.26,26.5 56.24,27 56.22,27.5 56.2,28 56.18,28.5 56.16,29 56.14,29.5 56.12,30 56.1,30.5 56.08,31 56.06,31.5 56.04,32 56.02,32.5 56,33 55.98,33.5 55.96,34 55.94,34.5 55.92,35 55.9,35.5 55.88,36 55.86,36.5 55.84,37 55.82,37.5 55.8,38 55.78,38.5 55.76,39 55.74,39.5 55.72,40 55.7,40.5 55.68,41 55.66,41.5 55.64,42 55.62,42.5 55.6,43 55.58,43.5 55.56,44 55.54,44.5 55.52,45 55.5,45.5 55.5,46 55.5,46.5 55.5,47 55.5,47.5 55.5,48 55.5,48.5 55.5,49 55.5,49.5 55.5,50 55.5,50.5 55.5,51 55.5,51.5 55.5,52 55.5,52.5 55.5,53 55.5,53.5 55.5,54 55.5,54.5 55.5,55 55.5,55.5 55.67,56 55.83,56.5 56,57 56.17,57.5 56.33,58 56.5,58.5 56.75,59 57,59.5 56.71,60 56.43,60.5 56.14,61 55.86,61.5 55.57,62 55.29,62.5 55,63 54.9,63.5 54.8,64 54.7,64.5 54.6,65 54.5,65.5 54.39,66 54.28,66.5 54.17,67 54.06,67.5 53.95,68 53.84,68.5 53.73,69 53.62,69.5 53.51,70 53.4,70.5 53.29,71 53.18,71.5 53.07,72 52.96,72.5 52.85,73 52.74,73.5 52.63,74 52.52,74.5 52.41,75 52.3,75.5 52.21,76 52.12,76.5 52.03,77 51.94,77.5 51.85,78 51.76,78.5 51.67,79 51.58,79.5 51.49,80 51.4,80.5 51.31,81 51.22,81.5 51.13,82 51.04,82.5 50.95,83 50.86,83.5 50.77,84 50.68,84.5 50.59,85 50.5,85.5 50.41,86 50.32,86.5 50.23,87 50.14,87.5 50.05,88 49.96,88.5 49.87,89 49.78,89.5 49.69,90 49.6,90.5 49.51,91 49.42,91.5 49.33,92 49.24,92.5 49.15,93 49.06,93.5 48.97,94 48.88,94.5 48.79,95 48.7,95.5 48.63,96 48.57,96.5 48.5,97 48.44,97.5 48.37,98 48.31,98.5 48.24,99 48.18,99.5 48.11,100 48.05,100.5 47.98,101 47.92,101.5 47.85,102 47.79,102.5 47.72,103 47.66,103.5 47.59,104 47.53,104.5 47.46,105 47.4,105.5 47.33,106 47.27,106.5 47.2,107 47.13,107.5 47.07,108 47,108.5 46.94,109 46.87,109.5 46.81,110 46.74,110.5 46.68,111 46.61,111.5 46.55,112 46.48,112.5 46.42,113 46.35,113.5 46.29,114 46.22,114.5 46.16,115 46.09,115.5 46.03,116 45.96,116.5 45.9,117 45.83,117.5 45.77,118 45.7,118.5 58.3,118.5 58.31,118 58.31,117.5 58.32,117 58.33,116.5 58.33,116 58.34,115.5 58.35,115 58.35,114.5 58.36,114 58.37,113.5 58.37,113 58.38,112.5 58.38,112 58.39,111.5 58.4,111 58.4,110.5 58.41,110 58.42,109.5 58.42,109 58.43,108.5 58.44,108 58.44,107.5 58.45,107 58.46,106.5 58.46,106 58.47,105.5 58.48,105 58.48,104.5 58.49,104 58.5,103.5 58.5,103 58.51,102.5 58.52,102 58.52,101.5 58.53,101 58.53,100.5 58.54,100 58.55,99.5 58.55,99 58.56,98.5 58.57,98 58.57,97.5 58.58,97 58.59,96.5 58.59,96 58.6,95.5 58.63,95 58.66,94.5 58.69,94 58.72,93.5 58.75,93 58.78,92.5 58.81,92 58.84,91.5 58.87,91 58.9,90.5 58.93,90 58.96,89.5 58.99,89 59.02,88.5 59.05,88 59.08,87.5 59.11,87 59.14,86.5 59.17,86 59.2,85.5 59.23,85 59.26,84.5 59.29,84 59.32,83.5 59.35,83 59.38,82.5 59.41,82 59.44,81.5 59.47,81 59.5,80.5 59.51,80 59.53,79.5 59.54,79 59.55,78.5 59.56,78 59.58,77.5 59.59,77 59.6,76.5 59.62,76 59.63,75.5 59.64,75 59.65,74.5 59.67,74 59.68,73.5 59.69,73 59.71,72.5 59.72,72 59.73,71.5 59.74,71 59.76,70.5 59.77,70 59.78,69.5 59.79,69 59.81,68.5 59.82,68 59.83,67.5 59.85,67 59.86,66.5 59.87,66 59.88,65.5 59.9,65 59.91,64.5 59.92,64 59.94,63.5 59.95,63 59.96,62.5 59.97,62 59.99,61.5 60,61 60.13,60.5 60.27,60 60.4,59.5 60.46,59 60.52,58.5 60.59,58 60.65,57.5 60.71,57 60.77,56.5 60.84,56 60.9,55.5 60.96,55 61.02,54.5 61.08,54 61.14,53.5 61.2,53 61.26,52.5 61.32,52 61.38,51.5 61.44,51 61.5,50.5 61.56,50 61.62,49.5 61.68,49 61.74,48.5 61.8,48 61.86,47.5 61.92,47 61.98,46.5 62.04,46 62.1,45.5 62.16,45 62.22,44.5 62.28,44 62.34,43.5 62.4,43 62.46,42.5 62.52,42 62.58,41.5 62.64,41 62.7,40.5 62.76,40 62.82,39.5 62.88,39 62.94,38.5 63,38 63.06,37.5 63.12,37 63.18,36.5 63.24,36 63.3,35.5 63.36,35 63.42,34.5 63.48,34 63.54,33.5 63.6,33 63.66,32.5 63.72,32 63.78,31.5 63.84,31 63.9,30.5 63.97,30 64.03,29.5 64.1,29 64.16,28.5 64.23,28 64.29,27.5 64.36,27 64.42,26.5 64.49,26 64.56,25.5 64.62,25 64.69,24.5 64.75,24 64.82,23.5 64.88,23 64.95,22.5 65.01,22 65.08,21.5 65.15,21 65.21,20.5 65.28,20 65.34,19.5 65.41,19 65.47,18.5 65.54,18 65.6,17.5 65.67,17 65.74,16.5 65.8,16 65.87,15.5 65.93,15 66,14.5 66.06,14 66.13,13.5 66.2,13 66.26,12.5 66.33,12 66.39,11.5 66.46,11 66.52,10.5 66.59,10 66.65,9.5 66.72,9 66.79,8.5 66.85,8 66.92,7.5 66.98,7 67.05,6.5 67.11,6 67.18,5.5 67.24,5 67.31,4.5 67.38,4 67.44,3.5 67.51,3 67.57,2.5 67.64,2 67.7,1.5 67.77,1 67.83,0.5 67.9,0" fill="#fff"/>
<polyline points="42.4,0 42.4,0.5 42.4,1 42.41,1.5 42.41,2 42.41,2.5 42.41,3 42.41,3.5 42.41,4 42.42,4.5 42.42,5 42.42,5.5 42.42,6 42.42,6.5 42.42,7 42.43,7.5 42.43,8 42.43,8.5 42.43,9 42.43,9.5 42.43,10 42.44,10.5 42.44,11 42.44,11.5 42.44,12 42.44,12.5 42.45,13 42.45,13.5 42.45,14 42.45,14.5 42.45,15 42.45,15.5 42.46,16 42.46,16.5 42.46,17 42.46,17.5 42.46,18 42.46,18.5 42.47,19 42.47,19.5 42.47,20 42.47,20.5 42.47,21 42.47,21.5 42.48,22 42.48,22.5 42.48,23 42.48,23.5 42.48,24 42.49,24.5 42.49,25 42.49,25.5 42.49,26 42.49,26.5 42.49,27 42.5,27.5 42.5,28 42.5,28.5 42.5,29 42.5,29.5 42.5,30 42.51,30.5 42.51,31 42.51,31.5 42.51,32 42.51,32.5 42.51,33 42.52,33.5 42.52,34 42.52,34.5 42.52,35 42.52,35.5 42.53,36 42.53,36.5 42.53,37 42.53,37.5 42.53,38 42.53,38.5 42.54,39 42.54,39.5 42.54,40 42.54,40.5 42.54,41 42.54,41.5 42.55,42 42.55,42.5 42.55,43 42.55,43.5 42.55,44 42.55,44.5 42.56,45 42.56,45.5 42.56,46 42.56,46.5 42.56,47 42.57,47.5 42.57,48 42.57,48.5 42.57,49 42.57,49.5 42.57,50 42.58,50.5 42.58,51 42.58,51.5 42.58,52 42.58,52.5 42.58,53 42.59,53.5 42.59,54 42.59,54.5 42.59,55 42.59,55.5 42.59,56 42.6,56.5 42.6,57 42.6,57.5 42.17,58 41.73,58.5 41.3,59 40.87,59.5 40.43,60 40,60.5 39.33,61 38.67,61.5 38,62 37.33,62.5 36.67,63 36,63.5 35.75,64 35.5,64.5 35.25,65 35,65.5 34.75,66 34.5,66.5 34.25,67 34,67.5 33.75,68 33.5,68.5 33.25,69 33,69.5 32.75,70 32.5,70.5 32.25,71 32,71.5 31.75,72 31.5,72.5 31.25,73 31,73.5 30.75,74 30.5,74.5 30.25,75 30,75.5 29.82,76 29.64,76.5 29.46,77 29.28,77.5 29.1,78 28.92,78.5 28.74,79 28.56,79.5 28.38,80 28.2,80.5 28.02,81 27.84,81.5 27.66,82 27.48,82.5 27.3,83 27.12,83.5 26.94,84 26.76,84.5 26.58,85 26.4,85.5 26.22,86 26.04,86.5 25.86,87 25.68,87.5 25.5,88 25.32,88.5 25.14,89 24.96,89.5 24.78,90 24.6,90.5 24.42,91 24.24,91.5 24.06,92 23.88,92.5 23.7,93 23.52,93.5 23.34,94 23.16,94.5 22.98,95 22.8,95.5 22.68,96 22.57,96.5 22.45,97 22.33,97.5 22.21,98 22.1,98.5 21.98,99 21.86,99.5 21.74,100 21.63,100.5 21.51,101 21.39,101.5 21.27,102 21.16,102.5 21.04,103 20.92,103.5 20.8,104 20.69,104.5 20.57,105 20.45,105.5 20.33,106 20.22,106.5 20.1,107 19.98,107.5 19.87,108 19.75,108.5 19.63,109 19.51,109.5 19.4,110 19.28,110.5 19.16,111 19.04,111.5 18.93,112 18.81,112.5 18.69,113 18.57,113.5 18.46,114 18.34,114.5 18.22,115 18.1,115.5 17.99,116 17.87,116.5 17.75,117 17.63,117.5 17.52,118 17.4,118.5" fill="none" stroke="rgba(40,40,40,0.35)" stroke-width="0.45"/>
<polyline points="49.75,0 49.75,0.5 49.75,1 49.74,1.5 49.74,2 49.74,2.5 49.74,3 49.74,3.5 49.73,4 49.73,4.5 49.73,5 49.73,5.5 49.72,6 49.72,6.5 49.72,7 49.72,7.5 49.72,8 49.71,8.5 49.71,9 49.71,9.5 49.71,10 49.71,10.5 49.7,11 49.7,11.5 49.7,12 49.7,12.5 49.69,13 49.69,13.5 49.69,14 49.69,14.5 49.69,15 49.68,15.5 49.68,16 49.68,16.5 49.68,17 49.68,17.5 49.67,18 49.67,18.5 49.67,19 49.67,19.5 49.66,20 49.66,20.5 49.66,21 49.66,21.5 49.66,22 49.65,22.5 49.65,23 49.65,23.5 49.65,24 49.65,24.5 49.64,25 49.64,25.5 49.64,26 49.64,26.5 49.63,27 49.63,27.5 49.63,28 49.63,28.5 49.63,29 49.62,29.5 49.62,30 49.62,30.5 49.62,31 49.62,31.5 49.61,32 49.61,32.5 49.61,33 49.61,33.5 49.6,34 49.6,34.5 49.6,35 49.6,35.5 49.6,36 49.59,36.5 49.59,37 49.59,37.5 49.59,38 49.59,38.5 49.58,39 49.58,39.5 49.58,40 49.58,40.5 49.57,41 49.57,41.5 49.57,42 49.57,42.5 49.57,43 49.56,43.5 49.56,44 49.56,44.5 49.56,45 49.56,45.5 49.55,46 49.55,46.5 49.55,47 49.55,47.5 49.54,48 49.54,48.5 49.54,49 49.54,49.5 49.54,50 49.53,50.5 49.53,51 49.53,51.5 49.53,52 49.53,52.5 49.52,53 49.52,53.5 49.52,54 49.52,54.5 49.51,55 49.51,55.5 49.51,56 49.51,56.5 49.51,57 49.5,57.5 49.5,58 49.5,58.5 49.38,59 49.25,59.5 49.12,60 49,60.5 48.6,61 48.2,61.5 47.8,62 47.4,62.5 47,63 46.6,63.5 46.2,64 45.8,64.5 45.4,65 45,65.5 44.8,66 44.6,66.5 44.4,67 44.2,67.5 44,68 43.8,68.5 43.6,69 43.4,69.5 43.2,70 43,70.5 42.8,71 42.6,71.5 42.4,72 42.2,72.5 42,73 41.8,73.5 41.6,74 41.4,74.5 41.2,75 41,75.5 40.86,76 40.73,76.5 40.59,77 40.45,77.5 40.31,78 40.17,78.5 40.04,79 39.9,79.5 39.76,80 39.62,80.5 39.49,81 39.35,81.5 39.21,82 39.08,82.5 38.94,83 38.8,83.5 38.66,84 38.52,84.5 38.39,85 38.25,85.5 38.11,86 37.98,86.5 37.84,87 37.7,87.5 37.56,88 37.42,88.5 37.29,89 37.15,89.5 37.01,90 36.88,90.5 36.74,91 36.6,91.5 36.46,92 36.33,92.5 36.19,93 36.05,93.5 35.91,94 35.77,94.5 35.64,95 35.5,95.5 35.38,96 35.26,96.5 35.14,97 35.02,97.5 34.9,98 34.78,98.5 34.66,99 34.54,99.5 34.42,100 34.3,100.5 34.18,101 34.07,101.5 33.95,102 33.83,102.5 33.71,103 33.59,103.5 33.47,104 33.35,104.5 33.23,105 33.11,105.5 32.99,106 32.87,106.5 32.75,107 32.63,107.5 32.51,108 32.39,108.5 32.27,109 32.15,109.5 32.03,110 31.91,110.5 31.79,111 31.67,111.5 31.55,112 31.43,112.5 31.32,113 31.2,113.5 31.08,114 30.96,114.5 30.84,115 30.72,115.5 30.6,116 30.48,116.5 30.36,117 30.24,117.5 30.12,118 30,118.5" fill="none" stroke="rgba(40,40,40,0.35)" stroke-width="0.45"/>
<polyline points="51.4,0 51.41,0.5 51.41,1 51.42,1.5 51.42,2 51.43,2.5 51.43,3 51.44,3.5 51.44,4 51.45,4.5 51.45,5 51.46,5.5 51.46,6 51.47,6.5 51.47,7 51.48,7.5 51.48,8 51.49,8.5 51.49,9 51.5,9.5 51.5,10 51.51,10.5 51.51,11 51.52,11.5 51.52,12 51.53,12.5 51.53,13 51.54,13.5 51.54,14 51.55,14.5 51.55,15 51.56,15.5 51.56,16 51.57,16.5 51.57,17 51.58,17.5 51.58,18 51.59,18.5 51.59,19 51.6,19.5 51.61,20 51.61,20.5 51.62,21 51.62,21.5 51.63,22 51.63,22.5 51.64,23 51.64,23.5 51.65,24 51.65,24.5 51.66,25 51.66,25.5 51.67,26 51.67,26.5 51.68,27 51.68,27.5 51.69,28 51.69,28.5 51.7,29 51.7,29.5 51.71,30 51.71,30.5 51.72,31 51.72,31.5 51.73,32 51.73,32.5 51.74,33 51.74,33.5 51.75,34 51.75,34.5 51.76,35 51.76,35.5 51.77,36 51.77,36.5 51.78,37 51.78,37.5 51.79,38 51.79,38.5 51.8,39 51.81,39.5 51.81,40 51.82,40.5 51.82,41 51.83,41.5 51.83,42 51.84,42.5 51.84,43 51.85,43.5 51.85,44 51.86,44.5 51.86,45 51.87,45.5 51.87,46 51.88,46.5 51.88,47 51.89,47.5 51.89,48 51.9,48.5 51.9,49 51.91,49.5 51.91,50 51.92,50.5 51.92,51 51.93,51.5 51.93,52 51.94,52.5 51.94,53 51.95,53.5 51.95,54 51.96,54.5 51.96,55 51.97,55.5 51.97,56 51.98,56.5 51.98,57 51.99,57.5 51.99,58 52,58.5 51.8,59 51.6,59.5 51.4,60 51.2,60.5 51,61 50.7,61.5 50.4,62 50.1,62.5 49.8,63 49.5,63.5 49.2,64 48.9,64.5 48.6,65 48.3,65.5 48,66 47.85,66.5 47.69,67 47.54,67.5 47.39,68 47.24,68.5 47.08,69 46.93,69.5 46.78,70 46.63,70.5 46.47,71 46.32,71.5 46.17,72 46.02,72.5 45.86,73 45.71,73.5 45.56,74 45.41,74.5 45.25,75 45.1,75.5 45,76 44.89,76.5 44.79,77 44.68,77.5 44.58,78 44.47,78.5 44.37,79 44.26,79.5 44.16,80 44.05,80.5 43.95,81 43.84,81.5 43.73,82 43.63,82.5 43.52,83 43.42,83.5 43.31,84 43.21,84.5 43.1,85 43,85.5 42.9,86 42.79,86.5 42.69,87 42.58,87.5 42.48,88 42.37,88.5 42.27,89 42.16,89.5 42.05,90 41.95,90.5 41.84,91 41.74,91.5 41.63,92 41.53,92.5 41.42,93 41.32,93.5 41.21,94 41.11,94.5 41,95 40.9,95.5 40.81,96 40.72,96.5 40.63,97 40.53,97.5 40.44,98 40.35,98.5 40.26,99 40.17,99.5 40.08,100 39.99,100.5 39.9,101 39.8,101.5 39.71,102 39.62,102.5 39.53,103 39.44,103.5 39.35,104 39.26,104.5 39.17,105 39.07,105.5 38.98,106 38.89,106.5 38.8,107 38.71,107.5 38.62,108 38.53,108.5 38.43,109 38.34,109.5 38.25,110 38.16,110.5 38.07,111 37.98,111.5 37.89,112 37.8,112.5 37.7,113 37.61,113.5 37.52,114 37.43,114.5 37.34,115 37.25,115.5 37.16,116 37.07,116.5 36.97,117 36.88,117.5 36.79,118 36.7,118.5" fill="none" stroke="rgba(40,40,40,0.35)" stroke-width="0.45"/>
<polyline points="53,0 53,0.5 53.01,1 53.01,1.5 53.02,2 53.02,2.5 53.03,3 53.03,3.5 53.03,4 53.04,4.5 53.04,5 53.05,5.5 53.05,6 53.06,6.5 53.06,7 53.06,7.5 53.07,8 53.07,8.5 53.08,9 53.08,9.5 53.09,10 53.09,10.5 53.09,11 53.1,11.5 53.1,12 53.11,12.5 53.11,13 53.12,13.5 53.12,14 53.12,14.5 53.13,15 53.13,15.5 53.14,16 53.14,16.5 53.15,17 53.15,17.5 53.15,18 53.16,18.5 53.16,19 53.17,19.5 53.17,20 53.18,20.5 53.18,21 53.18,21.5 53.19,22 53.19,22.5 53.2,23 53.2,23.5 53.21,24 53.21,24.5 53.21,25 53.22,25.5 53.22,26 53.23,26.5 53.23,27 53.24,27.5 53.24,28 53.24,28.5 53.25,29 53.25,29.5 53.26,30 53.26,30.5 53.26,31 53.27,31.5 53.27,32 53.28,32.5 53.28,33 53.29,33.5 53.29,34 53.29,34.5 53.3,35 53.3,35.5 53.31,36 53.31,36.5 53.32,37 53.32,37.5 53.32,38 53.33,38.5 53.33,39 53.34,39.5 53.34,40 53.35,40.5 53.35,41 53.35,41.5 53.36,42 53.36,42.5 53.37,43 53.37,43.5 53.38,44 53.38,44.5 53.38,45 53.39,45.5 53.39,46 53.4,46.5 53.4,47 53.41,47.5 53.41,48 53.41,48.5 53.42,49 53.42,49.5 53.43,50 53.43,50.5 53.44,51 53.44,51.5 53.44,52 53.45,52.5 53.45,53 53.46,53.5 53.46,54 53.47,54.5 53.47,55 53.47,55.5 53.48,56 53.48,56.5 53.49,57 53.49,57.5 53.5,58 53.5,58.5 53.33,59 53.17,59.5 53,60 52.83,60.5 52.67,61 52.5,61.5 52.23,62 51.95,62.5 51.68,63 51.41,63.5 51.14,64 50.86,64.5 50.59,65 50.32,65.5 50.05,66 49.77,66.5 49.5,67 49.38,67.5 49.26,68 49.15,68.5 49.03,69 48.91,69.5 48.79,70 48.68,70.5 48.56,71 48.44,71.5 48.32,72 48.21,72.5 48.09,73 47.97,73.5 47.85,74 47.74,74.5 47.62,75 47.5,75.5 47.4,76 47.29,76.5 47.19,77 47.08,77.5 46.98,78 46.87,78.5 46.77,79 46.66,79.5 46.55,80 46.45,80.5 46.34,81 46.24,81.5 46.13,82 46.03,82.5 45.92,83 45.82,83.5 45.71,84 45.61,84.5 45.5,85 45.4,85.5 45.3,86 45.19,86.5 45.09,87 44.98,87.5 44.88,88 44.77,88.5 44.66,89 44.56,89.5 44.45,90 44.35,90.5 44.24,91 44.14,91.5 44.03,92 43.93,92.5 43.82,93 43.72,93.5 43.61,94 43.51,94.5 43.41,95 43.3,95.5 43.23,96 43.17,96.5 43.1,97 43.04,97.5 42.97,98 42.91,98.5 42.84,99 42.78,99.5 42.71,100 42.65,100.5 42.58,101 42.52,101.5 42.45,102 42.39,102.5 42.32,103 42.26,103.5 42.19,104 42.13,104.5 42.06,105 42,105.5 41.93,106 41.87,106.5 41.8,107 41.73,107.5 41.67,108 41.6,108.5 41.54,109 41.47,109.5 41.41,110 41.34,110.5 41.28,111 41.21,111.5 41.15,112 41.08,112.5 41.02,113 40.95,113.5 40.89,114 40.82,114.5 40.76,115 40.69,115.5 40.63,116 40.56,116.5 40.5,117 40.43,117.5 40.37,118 40.3,118.5" fill="none" stroke="rgba(40,40,40,0.35)" stroke-width="0.45"/>
<polyline points="54.9,0 54.9,0.5 54.89,1 54.89,1.5 54.89,2 54.89,2.5 54.88,3 54.88,3.5 54.88,4 54.88,4.5 54.87,5 54.87,5.5 54.87,6 54.86,6.5 54.86,7 54.86,7.5 54.86,8 54.85,8.5 54.85,9 54.85,9.5 54.84,10 54.84,10.5 54.84,11 54.84,11.5 54.83,12 54.83,12.5 54.83,13 54.83,13.5 54.82,14 54.82,14.5 54.82,15 54.81,15.5 54.81,16 54.81,16.5 54.81,17 54.8,17.5 54.8,18 54.8,18.5 54.79,19 54.79,19.5 54.79,20 54.79,20.5 54.78,21 54.78,21.5 54.78,22 54.78,22.5 54.77,23 54.77,23.5 54.77,24 54.76,24.5 54.76,25 54.76,25.5 54.75,26 54.74,26.5 54.74,27 54.73,27.5 54.72,28 54.71,28.5 54.7,29 54.7,29.5 54.69,30 54.68,30.5 54.67,31 54.66,31.5 54.66,32 54.65,32.5 54.64,33 54.63,33.5 54.63,34 54.62,34.5 54.61,35 54.6,35.5 54.59,36 54.59,36.5 54.58,37 54.57,37.5 54.56,38 54.55,38.5 54.55,39 54.54,39.5 54.53,40 54.52,40.5 54.52,41 54.51,41.5 54.5,42 54.49,42.5 54.48,43 54.48,43.5 54.47,44 54.46,44.5 54.45,45 54.44,45.5 54.45,46 54.45,46.5 54.45,47 54.45,47.5 54.46,48 54.46,48.5 54.46,49 54.46,49.5 54.46,50 54.47,50.5 54.47,51 54.47,51.5 54.47,52 54.47,52.5 54.48,53 54.48,53.5 54.48,54 54.48,54.5 54.49,55 54.49,55.5 54.57,56 54.66,56.5 54.74,57 54.83,57.5 54.91,58 55,58.5 55.04,59 55.08,59.5 54.86,60 54.63,60.5 54.4,61 54.18,61.5 53.9,62 53.62,62.5 53.34,63 53.15,63.5 52.97,64 52.78,64.5 52.6,65 52.41,65.5 52.22,66 52.03,66.5 51.84,67 51.72,67.5 51.61,68 51.49,68.5 51.38,69 51.27,69.5 51.15,70 51.04,70.5 50.92,71 50.81,71.5 50.7,72 50.58,72.5 50.47,73 50.36,73.5 50.24,74 50.13,74.5 50.01,75 49.9,75.5 49.8,76 49.7,76.5 49.61,77 49.51,77.5 49.41,78 49.31,78.5 49.22,79 49.12,79.5 49.02,80 48.92,80.5 48.83,81 48.73,81.5 48.63,82 48.53,82.5 48.44,83 48.34,83.5 48.24,84 48.14,84.5 48.05,85 47.95,85.5 47.85,86 47.75,86.5 47.66,87 47.56,87.5 47.46,88 47.36,88.5 47.27,89 47.17,89.5 47.07,90 46.97,90.5 46.88,91 46.78,91.5 46.68,92 46.59,92.5 46.49,93 46.39,93.5 46.29,94 46.2,94.5 46.1,95 46,95.5 45.93,96 45.87,96.5 45.8,97 45.74,97.5 45.67,98 45.61,98.5 45.54,99 45.48,99.5 45.41,100 45.35,100.5 45.28,101 45.22,101.5 45.15,102 45.09,102.5 45.02,103 44.96,103.5 44.89,104 44.83,104.5 44.76,105 44.7,105.5 44.63,106 44.57,106.5 44.5,107 44.43,107.5 44.37,108 44.3,108.5 44.24,109 44.17,109.5 44.11,110 44.04,110.5 43.98,111 43.91,111.5 43.85,112 43.78,112.5 43.72,113 43.65,113.5 43.59,114 43.52,114.5 43.46,115 43.39,115.5 43.33,116 43.26,116.5 43.2,117 43.13,117.5 43.07,118 43,118.5" fill="none" stroke="rgba(40,40,40,0.35)" stroke-width="0.45"/>
<polyline points="56.12,0 56.11,0.5 56.1,1 56.09,1.5 56.09,2 56.08,2.5 56.07,3 56.07,3.5 56.06,4 56.05,4.5 56.04,5 56.04,5.5 56.03,6 56.02,6.5 56.01,7 56.01,7.5 56,8 55.99,8.5 55.99,9 55.98,9.5 55.97,10 55.96,10.5 55.96,11 55.95,11.5 55.94,12 55.93,12.5 55.93,13 55.92,13.5 55.91,14 55.91,14.5 55.9,15 55.89,15.5 55.88,16 55.88,16.5 55.87,17 55.86,17.5 55.85,18 55.85,18.5 55.84,19 55.83,19.5 55.83,20 55.82,20.5 55.81,21 55.8,21.5 55.8,22 55.79,22.5 55.78,23 55.77,23.5 55.77,24 55.76,24.5 55.75,25 55.75,25.5 55.73,26 55.71,26.5 55.7,27 55.68,27.5 55.67,28 55.65,28.5 55.64,29 55.62,29.5 55.6,30 55.59,30.5 55.57,31 55.56,31.5 55.54,32 55.53,32.5 55.51,33 55.5,33.5 55.48,34 55.46,34.5 55.45,35 55.43,35.5 55.42,36 55.4,36.5 55.39,37 55.37,37.5 55.35,38 55.34,38.5 55.32,39 55.31,39.5 55.29,40 55.28,40.5 55.26,41 55.25,41.5 55.23,42 55.21,42.5 55.2,43 55.18,43.5 55.17,44 55.15,44.5 55.14,45 55.12,45.5 55.12,46 55.12,46.5 55.12,47 55.12,47.5 55.12,48 55.12,48.5 55.13,49 55.13,49.5 55.13,50 55.13,50.5 55.13,51 55.13,51.5 55.13,52 55.13,52.5 55.13,53 55.13,53.5 55.13,54 55.13,54.5 55.13,55 55.14,55.5 55.27,56 55.41,56.5 55.55,57 55.69,57.5 55.82,58 55.96,58.5 56.13,59 56.31,59.5 56.05,60 55.78,60.5 55.52,61 55.25,61.5 54.97,62 54.69,62.5 54.4,63 54.27,63.5 54.14,64 54.01,64.5 53.88,65 53.75,65.5 53.61,66 53.47,66.5 53.33,67 53.22,67.5 53.11,68 53,68.5 52.88,69 52.77,69.5 52.66,70 52.55,70.5 52.44,71 52.33,71.5 52.22,72 52.1,72.5 51.99,73 51.88,73.5 51.77,74 51.66,74.5 51.55,75 51.44,75.5 51.34,76 51.25,76.5 51.16,77 51.07,77.5 50.97,78 50.88,78.5 50.79,79 50.69,79.5 50.6,80 50.51,80.5 50.42,81 50.32,81.5 50.23,82 50.14,82.5 50.05,83 49.95,83.5 49.86,84 49.77,84.5 49.67,85 49.58,85.5 49.49,86 49.4,86.5 49.3,87 49.21,87.5 49.12,88 49.03,88.5 48.93,89 48.84,89.5 48.75,90 48.66,90.5 48.56,91 48.47,91.5 48.38,92 48.28,92.5 48.19,93 48.1,93.5 48.01,94 47.91,94.5 47.82,95 47.73,95.5 47.66,96 47.6,96.5 47.53,97 47.47,97.5 47.4,98 47.34,98.5 47.27,99 47.21,99.5 47.14,100 47.08,100.5 47.01,101 46.95,101.5 46.88,102 46.81,102.5 46.75,103 46.68,103.5 46.62,104 46.55,104.5 46.49,105 46.42,105.5 46.36,106 46.29,106.5 46.23,107 46.16,107.5 46.1,108 46.03,108.5 45.97,109 45.9,109.5 45.84,110 45.77,110.5 45.71,111 45.64,111.5 45.58,112 45.51,112.5 45.45,113 45.38,113.5 45.31,114 45.25,114.5 45.18,115 45.12,115.5 45.05,116 44.99,116.5 44.92,117 44.86,117.5 44.79,118 44.73,118.5" fill="none" stroke="rgba(40,40,40,0.35)" stroke-width="0.45"/>
<polyline points="97.8,0 97.68,0.5 97.55,1 97.43,1.5 97.31,2 97.18,2.5 97.06,3 96.94,3.5 96.82,4 96.69,4.5 96.57,5 96.45,5.5 96.32,6 96.2,6.5 96.08,7 95.95,7.5 95.83,8 95.71,8.5 95.58,9 95.46,9.5 95.34,10 95.22,10.5 95.09,11 94.97,11.5 94.85,12 94.72,12.5 94.6,13 94.47,13.5 94.35,14 94.22,14.5 94.1,15 93.97,15.5 93.85,16 93.72,16.5 93.59,17 93.47,17.5 93.34,18 93.22,18.5 93.09,19 92.97,19.5 92.84,20 92.71,20.5 92.59,21 92.46,21.5 92.34,22 92.21,22.5 92.09,23 91.96,23.5 91.83,24 91.71,24.5 91.58,25 91.46,25.5 91.33,26 91.21,26.5 91.08,27 90.95,27.5 90.83,28 90.7,28.5 90.58,29 90.45,29.5 90.33,30 90.2,30.5 90.03,31 89.85,31.5 89.68,32 89.51,32.5 89.33,33 89.16,33.5 88.99,34 88.81,34.5 88.64,35 88.47,35.5 88.29,36 88.12,36.5 87.95,37 87.77,37.5 87.6,38 87.43,38.5 87.25,39 87.08,39.5 86.91,40 86.73,40.5 86.56,41 86.39,41.5 86.21,42 86.04,42.5 85.87,43 85.69,43.5 85.52,44 85.35,44.5 85.17,45 85,45.5 84.61,46 84.22,46.5 83.84,47 83.45,47.5 83.06,48 82.67,48.5 82.29,49 81.9,49.5 81.51,50 81.12,50.5 80.74,51 80.35,51.5 79.96,52 79.58,52.5 79.19,53 78.8,53.5 78.36,54 77.92,54.5 77.49,55 77.05,55.5 76.61,56 76.17,56.5 75.74,57 75.3,57.5 75.15,58 75,58.5 74.85,59 74.7,59.5 74.55,60 74.4,60.5 74.39,61 74.37,61.5 74.36,62 74.34,62.5 74.33,63 74.31,63.5 74.3,64 74.27,64.5 74.24,65 74.21,65.5 74.18,66 74.15,66.5 74.12,67 74.09,67.5 74.06,68 74.03,68.5 74,69 73.97,69.5 73.93,70 73.9,70.5 73.87,71 73.84,71.5 73.81,72 73.78,72.5 73.75,73 73.72,73.5 73.69,74 73.66,74.5 73.63,75 73.6,75.5 73.52,76 73.44,76.5 73.36,77 73.28,77.5 73.2,78 73.12,78.5 73.04,79 72.96,79.5 72.88,80 72.8,80.5 72.72,81 72.64,81.5 72.56,82 72.48,82.5 72.4,83 72.32,83.5 72.24,84 72.16,84.5 72.08,85 72,85.5 71.92,86 71.84,86.5 71.76,87 71.68,87.5 71.6,88 71.52,88.5 71.44,89 71.36,89.5 71.28,90 71.2,90.5 71.12,91 71.04,91.5 70.96,92 70.88,92.5 70.8,93 70.72,93.5 70.64,94 70.56,94.5 70.48,95 70.4,95.5 70.33,96 70.27,96.5 70.2,97 70.14,97.5 70.07,98 70.01,98.5 69.94,99 69.88,99.5 69.81,100 69.75,100.5 69.68,101 69.62,101.5 69.55,102 69.49,102.5 69.42,103 69.36,103.5 69.29,104 69.23,104.5 69.16,105 69.1,105.5 69.03,106 68.97,106.5 68.9,107 68.83,107.5 68.77,108 68.7,108.5 68.64,109 68.57,109.5 68.51,110 68.44,110.5 68.38,111 68.31,111.5 68.25,112 68.18,112.5 68.12,113 68.05,113.5 67.99,114 67.92,114.5 67.86,115 67.79,115.5 67.73,116 67.66,116.5 67.6,117 67.53,117.5 67.47,118 67.4,118.5" fill="none" stroke="rgba(40,40,40,0.35)" stroke-width="0.45"/>
<polyline points="79.7,0 79.59,0.5 79.47,1 79.36,1.5 79.24,2 79.13,2.5 79.01,3 78.9,3.5 78.78,4 78.67,4.5 78.55,5 78.44,5.5 78.32,6 78.21,6.5 78.09,7 77.98,7.5 77.86,8 77.75,8.5 77.63,9 77.52,9.5 77.4,10 77.29,10.5 77.18,11 77.06,11.5 76.95,12 76.83,12.5 76.72,13 76.6,13.5 76.49,14 76.37,14.5 76.26,15 76.14,15.5 76.03,16 75.91,16.5 75.8,17 75.68,17.5 75.57,18 75.45,18.5 75.34,19 75.22,19.5 75.11,20 75,20.5 74.88,21 74.77,21.5 74.65,22 74.54,22.5 74.42,23 74.31,23.5 74.19,24 74.08,24.5 73.96,25 73.85,25.5 73.73,26 73.62,26.5 73.5,27 73.39,27.5 73.27,28 73.16,28.5 73.04,29 72.93,29.5 72.81,30 72.7,30.5 72.56,31 72.42,31.5 72.27,32 72.13,32.5 71.99,33 71.85,33.5 71.71,34 71.56,34.5 71.42,35 71.28,35.5 71.14,36 71,36.5 70.85,37 70.71,37.5 70.57,38 70.43,38.5 70.29,39 70.14,39.5 70,40 69.86,40.5 69.72,41 69.58,41.5 69.43,42 69.29,42.5 69.15,43 69.01,43.5 68.87,44 68.72,44.5 68.58,45 68.44,45.5 68.3,46 68.16,46.5 68.01,47 67.87,47.5 67.73,48 67.59,48.5 67.45,49 67.3,49.5 67.16,50 67.02,50.5 66.88,51 66.74,51.5 66.59,52 66.45,52.5 66.31,53 66.17,53.5 66.03,54 65.88,54.5 65.74,55 65.6,55.5 65.45,56 65.3,56.5 65.15,57 65,57.5 64.85,58 64.7,58.5 64.55,59 64.4,59.5 64.12,60 63.84,60.5 63.56,61 63.28,61.5 63,62 62.93,62.5 62.86,63 62.79,63.5 62.71,64 62.64,64.5 62.57,65 62.5,65.5 62.48,66 62.45,66.5 62.42,67 62.4,67.5 62.38,68 62.35,68.5 62.33,69 62.3,69.5 62.27,70 62.25,70.5 62.23,71 62.2,71.5 62.17,72 62.15,72.5 62.12,73 62.1,73.5 62.08,74 62.05,74.5 62.02,75 62,75.5 61.98,76 61.95,76.5 61.92,77 61.9,77.5 61.88,78 61.85,78.5 61.83,79 61.8,79.5 61.77,80 61.75,80.5 61.73,81 61.7,81.5 61.67,82 61.65,82.5 61.62,83 61.6,83.5 61.58,84 61.55,84.5 61.52,85 61.5,85.5 61.48,86 61.45,86.5 61.42,87 61.4,87.5 61.38,88 61.35,88.5 61.33,89 61.3,89.5 61.27,90 61.25,90.5 61.23,91 61.2,91.5 61.17,92 61.15,92.5 61.12,93 61.1,93.5 61.08,94 61.05,94.5 61.02,95 61,95.5 60.97,96 60.95,96.5 60.92,97 60.9,97.5 60.87,98 60.84,98.5 60.82,99 60.79,99.5 60.77,100 60.74,100.5 60.71,101 60.69,101.5 60.66,102 60.63,102.5 60.61,103 60.58,103.5 60.56,104 60.53,104.5 60.5,105 60.48,105.5 60.45,106 60.43,106.5 60.4,107 60.37,107.5 60.35,108 60.32,108.5 60.3,109 60.27,109.5 60.24,110 60.22,110.5 60.19,111 60.17,111.5 60.14,112 60.11,112.5 60.09,113 60.06,113.5 60.03,114 60.01,114.5 59.98,115 59.96,115.5 59.93,116 59.9,116.5 59.88,117 59.85,117.5 59.83,118 59.8,118.5" fill="none" stroke="rgba(40,40,40,0.35)" stroke-width="0.45"/>
<polyline points="73.5,0 73.41,0.5 73.33,1 73.24,1.5 73.16,2 73.07,2.5 72.99,3 72.9,3.5 72.82,4 72.73,4.5 72.65,5 72.56,5.5 72.48,6 72.39,6.5 72.31,7 72.22,7.5 72.14,8 72.05,8.5 71.97,9 71.88,9.5 71.8,10 71.71,10.5 71.62,11 71.54,11.5 71.45,12 71.37,12.5 71.28,13 71.2,13.5 71.11,14 71.03,14.5 70.94,15 70.86,15.5 70.77,16 70.69,16.5 70.6,17 70.52,17.5 70.43,18 70.35,18.5 70.26,19 70.18,19.5 70.09,20 70,20.5 69.92,21 69.83,21.5 69.75,22 69.66,22.5 69.58,23 69.49,23.5 69.41,24 69.32,24.5 69.24,25 69.15,25.5 69.07,26 68.98,26.5 68.9,27 68.81,27.5 68.73,28 68.64,28.5 68.56,29 68.47,29.5 68.39,30 68.3,30.5 68.18,31 68.07,31.5 67.95,32 67.84,32.5 67.72,33 67.6,33.5 67.49,34 67.37,34.5 67.26,35 67.14,35.5 67.02,36 66.91,36.5 66.79,37 66.68,37.5 66.56,38 66.44,38.5 66.33,39 66.21,39.5 66.1,40 65.98,40.5 65.86,41 65.75,41.5 65.63,42 65.52,42.5 65.4,43 65.28,43.5 65.17,44 65.05,44.5 64.94,45 64.82,45.5 64.7,46 64.59,46.5 64.47,47 64.36,47.5 64.24,48 64.12,48.5 64.01,49 63.89,49.5 63.78,50 63.66,50.5 63.54,51 63.43,51.5 63.31,52 63.2,52.5 63.08,53 62.96,53.5 62.85,54 62.73,54.5 62.62,55 62.5,55.5 62.38,56 62.25,56.5 62.12,57 62,57.5 61.88,58 61.75,58.5 61.62,59 61.5,59.5 61.4,60 61.3,60.5 61.2,61 61.1,61.5 61,62 60.98,62.5 60.96,63 60.94,63.5 60.92,64 60.9,64.5 60.88,65 60.87,65.5 60.85,66 60.83,66.5 60.81,67 60.79,67.5 60.77,68 60.75,68.5 60.73,69 60.71,69.5 60.69,70 60.67,70.5 60.65,71 60.63,71.5 60.62,72 60.6,72.5 60.58,73 60.56,73.5 60.54,74 60.52,74.5 60.5,75 60.49,75.5 60.48,76 60.46,76.5 60.45,77 60.44,77.5 60.43,78 60.41,78.5 60.4,79 60.39,79.5 60.38,80 60.37,80.5 60.35,81 60.34,81.5 60.33,82 60.32,82.5 60.3,83 60.29,83.5 60.28,84 60.27,84.5 60.26,85 60.24,85.5 60.23,86 60.22,86.5 60.21,87 60.2,87.5 60.18,88 60.17,88.5 60.16,89 60.15,89.5 60.13,90 60.12,90.5 60.11,91 60.1,91.5 60.09,92 60.07,92.5 60.06,93 60.05,93.5 60.04,94 60.02,94.5 60.01,95 60,95.5 59.98,96 59.97,96.5 59.95,97 59.94,97.5 59.92,98 59.91,98.5 59.89,99 59.88,99.5 59.86,100 59.85,100.5 59.83,101 59.82,101.5 59.8,102 59.79,102.5 59.77,103 59.76,103.5 59.74,104 59.73,104.5 59.71,105 59.7,105.5 59.68,106 59.67,106.5 59.65,107 59.63,107.5 59.62,108 59.6,108.5 59.59,109 59.57,109.5 59.56,110 59.54,110.5 59.53,111 59.51,111.5 59.5,112 59.48,112.5 59.47,113 59.45,113.5 59.44,114 59.42,114.5 59.41,115 59.39,115.5 59.38,116 59.36,116.5 59.35,117 59.33,117.5 59.32,118 59.3,118.5" fill="none" stroke="rgba(40,40,40,0.35)" stroke-width="0.45"/>
<polyline points="70.7,0 70.62,0.5 70.55,1 70.47,1.5 70.4,2 70.32,2.5 70.25,3 70.17,3.5 70.1,4 70.02,4.5 69.95,5 69.87,5.5 69.8,6 69.72,6.5 69.64,7 69.57,7.5 69.49,8 69.42,8.5 69.34,9 69.27,9.5 69.19,10 69.12,10.5 69.04,11 68.97,11.5 68.89,12 68.81,12.5 68.74,13 68.66,13.5 68.59,14 68.51,14.5 68.44,15 68.36,15.5 68.29,16 68.21,16.5 68.14,17 68.06,17.5 67.99,18 67.91,18.5 67.83,19 67.76,19.5 67.68,20 67.61,20.5 67.53,21 67.46,21.5 67.38,22 67.31,22.5 67.23,23 67.16,23.5 67.08,24 67,24.5 66.93,25 66.85,25.5 66.78,26 66.7,26.5 66.63,27 66.55,27.5 66.48,28 66.4,28.5 66.33,29 66.25,29.5 66.18,30 66.1,30.5 66.01,31 65.92,31.5 65.84,32 65.75,32.5 65.66,33 65.57,33.5 65.48,34 65.4,34.5 65.31,35 65.22,35.5 65.13,36 65.04,36.5 64.96,37 64.87,37.5 64.78,38 64.69,38.5 64.6,39 64.52,39.5 64.43,40 64.34,40.5 64.25,41 64.16,41.5 64.08,42 63.99,42.5 63.9,43 63.81,43.5 63.72,44 63.64,44.5 63.55,45 63.46,45.5 63.37,46 63.28,46.5 63.2,47 63.11,47.5 63.02,48 62.93,48.5 62.84,49 62.76,49.5 62.67,50 62.58,50.5 62.49,51 62.4,51.5 62.32,52 62.23,52.5 62.14,53 62.05,53.5 61.96,54 61.88,54.5 61.79,55 61.7,55.5 61.61,56 61.51,56.5 61.42,57 61.33,57.5 61.23,58 61.14,58.5 61.04,59 60.95,59.5 60.83,60 60.72,60.5 60.6,61 60.54,61.5 60.49,62 60.47,62.5 60.46,63 60.44,63.5 60.42,64 60.41,64.5 60.39,65 60.38,65.5 60.36,66 60.34,66.5 60.33,67 60.31,67.5 60.29,68 60.28,68.5 60.26,69 60.25,69.5 60.23,70 60.21,70.5 60.2,71 60.18,71.5 60.17,72 60.15,72.5 60.13,73 60.12,73.5 60.1,74 60.09,74.5 60.07,75 60.06,75.5 60.05,76 60.03,76.5 60.02,77 60.01,77.5 60,78 59.98,78.5 59.97,79 59.96,79.5 59.95,80 59.93,80.5 59.91,81 59.89,81.5 59.87,82 59.85,82.5 59.83,83 59.81,83.5 59.79,84 59.76,84.5 59.74,85 59.72,85.5 59.7,86 59.68,86.5 59.66,87 59.64,87.5 59.62,88 59.6,88.5 59.57,89 59.55,89.5 59.53,90 59.51,90.5 59.49,91 59.47,91.5 59.45,92 59.43,92.5 59.41,93 59.38,93.5 59.36,94 59.34,94.5 59.32,95 59.3,95.5 59.29,96 59.28,96.5 59.27,97 59.26,97.5 59.25,98 59.23,98.5 59.22,99 59.21,99.5 59.2,100 59.19,100.5 59.18,101 59.17,101.5 59.16,102 59.15,102.5 59.14,103 59.13,103.5 59.12,104 59.1,104.5 59.09,105 59.08,105.5 59.07,106 59.06,106.5 59.05,107 59.04,107.5 59.03,108 59.02,108.5 59.01,109 59,109.5 58.98,110 58.97,110.5 58.96,111 58.95,111.5 58.94,112 58.93,112.5 58.92,113 58.91,113.5 58.9,114 58.89,114.5 58.88,115 58.87,115.5 58.85,116 58.84,116.5 58.83,117 58.82,117.5 58.81,118 58.8,118.5" fill="none" stroke="rgba(40,40,40,0.35)" stroke-width="0.45"/>
<polyline points="68.91,0 68.84,0.5 68.77,1 68.7,1.5 68.63,2 68.56,2.5 68.49,3 68.42,3.5 68.36,4 68.29,4.5 68.22,5 68.15,5.5 68.08,6 68.01,6.5 67.94,7 67.87,7.5 67.8,8 67.73,8.5 67.66,9 67.59,9.5 67.53,10 67.46,10.5 67.39,11 67.32,11.5 67.25,12 67.18,12.5 67.11,13 67.04,13.5 66.97,14 66.9,14.5 66.83,15 66.77,15.5 66.7,16 66.63,16.5 66.56,17 66.49,17.5 66.42,18 66.35,18.5 66.28,19 66.21,19.5 66.14,20 66.07,20.5 66.01,21 65.94,21.5 65.87,22 65.8,22.5 65.73,23 65.66,23.5 65.59,24 65.52,24.5 65.45,25 65.38,25.5 65.31,26 65.24,26.5 65.18,27 65.11,27.5 65.04,28 64.97,28.5 64.9,29 64.83,29.5 64.76,30 64.69,30.5 64.62,31 64.55,31.5 64.48,32 64.41,32.5 64.34,33 64.27,33.5 64.2,34 64.13,34.5 64.06,35 63.99,35.5 63.92,36 63.85,36.5 63.78,37 63.71,37.5 63.64,38 63.57,38.5 63.5,39 63.43,39.5 63.36,40 63.29,40.5 63.22,41 63.15,41.5 63.08,42 63.01,42.5 62.94,43 62.87,43.5 62.8,44 62.73,44.5 62.66,45 62.59,45.5 62.52,46 62.45,46.5 62.38,47 62.31,47.5 62.24,48 62.17,48.5 62.1,49 62.03,49.5 61.96,50 61.89,50.5 61.82,51 61.75,51.5 61.68,52 61.61,52.5 61.54,53 61.47,53.5 61.4,54 61.33,54.5 61.26,55 61.19,55.5 61.11,56 61.04,56.5 60.97,57 60.89,57.5 60.82,58 60.75,58.5 60.67,59 60.6,59.5 60.47,60 60.34,60.5 60.22,61 60.19,61.5 60.16,62 60.14,62.5 60.13,63 60.12,63.5 60.1,64 60.09,64.5 60.08,65 60.06,65.5 60.05,66 60.03,66.5 60.02,67 60.01,67.5 59.99,68 59.98,68.5 59.96,69 59.95,69.5 59.94,70 59.92,70.5 59.91,71 59.89,71.5 59.88,72 59.87,72.5 59.85,73 59.84,73.5 59.82,74 59.81,74.5 59.8,75 59.78,75.5 59.77,76 59.76,76.5 59.74,77 59.73,77.5 59.72,78 59.71,78.5 59.69,79 59.68,79.5 59.67,80 59.66,80.5 59.63,81 59.6,81.5 59.58,82 59.55,82.5 59.52,83 59.5,83.5 59.47,84 59.44,84.5 59.41,85 59.39,85.5 59.36,86 59.33,86.5 59.31,87 59.28,87.5 59.25,88 59.23,88.5 59.2,89 59.17,89.5 59.15,90 59.12,90.5 59.09,91 59.07,91.5 59.04,92 59.01,92.5 58.99,93 58.96,93.5 58.93,94 58.91,94.5 58.88,95 58.85,95.5 58.84,96 58.84,96.5 58.83,97 58.82,97.5 58.81,98 58.8,98.5 58.8,99 58.79,99.5 58.78,100 58.77,100.5 58.76,101 58.75,101.5 58.75,102 58.74,102.5 58.73,103 58.72,103.5 58.71,104 58.71,104.5 58.7,105 58.69,105.5 58.68,106 58.67,106.5 58.67,107 58.66,107.5 58.65,108 58.64,108.5 58.63,109 58.63,109.5 58.62,110 58.61,110.5 58.6,111 58.59,111.5 58.59,112 58.58,112.5 58.57,113 58.56,113.5 58.55,114 58.54,114.5 58.54,115 58.53,115.5 58.52,116 58.51,116.5 58.5,117 58.5,117.5 58.49,118 58.48,118.5" fill="none" stroke="rgba(40,40,40,0.35)" stroke-width="0.45"/>
</g>
<rect x="537" y="2.3" width="123.29999999999995" height="124.0" fill="none" stroke="#b4b4b4" stroke-width="0.8"/>
<path d="M539,126.3v-2.2M539,2.3v2.2M568.75,126.3v-2.2M568.75,2.3v2.2M598.5,126.3v-2.2M598.5,2.3v2.2M628.25,126.3v-2.2M628.25,2.3v2.2M658,126.3v-2.2M658,2.3v2.2M537,4.5h2.2M660.3,4.5h-2.2M537,34.12h2.2M660.3,34.12h-2.2M537,63.75h2.2M660.3,63.75h-2.2M537,93.38h2.2M660.3,93.38h-2.2M537,123h2.2M660.3,123h-2.2M539,126.3v-1.2M539,2.3v1.2M544.95,126.3v-1.2M544.95,2.3v1.2M550.9,126.3v-1.2M550.9,2.3v1.2M556.85,126.3v-1.2M556.85,2.3v1.2M562.8,126.3v-1.2M562.8,2.3v1.2M568.75,126.3v-1.2M568.75,2.3v1.2M574.7,126.3v-1.2M574.7,2.3v1.2M580.65,126.3v-1.2M580.65,2.3v1.2M586.6,126.3v-1.2M586.6,2.3v1.2M592.55,126.3v-1.2M592.55,2.3v1.2M598.5,126.3v-1.2M598.5,2.3v1.2M604.45,126.3v-1.2M604.45,2.3v1.2M610.4,126.3v-1.2M610.4,2.3v1.2M616.35,126.3v-1.2M616.35,2.3v1.2M622.3,126.3v-1.2M622.3,2.3v1.2M628.25,126.3v-1.2M628.25,2.3v1.2M634.2,126.3v-1.2M634.2,2.3v1.2M640.15,126.3v-1.2M640.15,2.3v1.2M646.1,126.3v-1.2M646.1,2.3v1.2M652.05,126.3v-1.2M652.05,2.3v1.2M658,126.3v-1.2M658,2.3v1.2M537,123h1.2M660.3,123h-1.2M537,117.07h1.2M660.3,117.07h-1.2M537,111.15h1.2M660.3,111.15h-1.2M537,105.23h1.2M660.3,105.23h-1.2M537,99.3h1.2M660.3,99.3h-1.2M537,93.38h1.2M660.3,93.38h-1.2M537,87.45h1.2M660.3,87.45h-1.2M537,81.53h1.2M660.3,81.53h-1.2M537,75.6h1.2M660.3,75.6h-1.2M537,69.68h1.2M660.3,69.68h-1.2M537,63.75h1.2M660.3,63.75h-1.2M537,57.83h1.2M660.3,57.83h-1.2M537,51.9h1.2M660.3,51.9h-1.2M537,45.98h1.2M660.3,45.98h-1.2M537,40.05h1.2M660.3,40.05h-1.2M537,34.13h1.2M660.3,34.13h-1.2M537,28.2h1.2M660.3,28.2h-1.2M537,22.28h1.2M660.3,22.28h-1.2M537,16.35h1.2M660.3,16.35h-1.2M537,10.43h1.2M660.3,10.43h-1.2M537,4.5h1.2M660.3,4.5h-1.2" stroke="#8c8c8c" stroke-width="0.7" fill="none"/>
<text transform="translate(539,138.1) scale(0.87,1)" text-anchor="middle" style="font-family:'Liberation Sans',sans-serif;font-weight:bold;font-size:11.37px" fill="#000" >−2</text>
<text transform="translate(568.75,138.1) scale(0.87,1)" text-anchor="middle" style="font-family:'Liberation Sans',sans-serif;font-weight:bold;font-size:11.37px" fill="#000" >−1</text>
<text transform="translate(598.5,138.1) scale(0.87,1)" text-anchor="middle" style="font-family:'Liberation Sans',sans-serif;font-weight:bold;font-size:11.37px" fill="#000" >0</text>
<text transform="translate(628.25,138.1) scale(0.87,1)" text-anchor="middle" style="font-family:'Liberation Sans',sans-serif;font-weight:bold;font-size:11.37px" fill="#000" >1</text>
<text transform="translate(658,138.1) scale(0.87,1)" text-anchor="middle" style="font-family:'Liberation Sans',sans-serif;font-weight:bold;font-size:11.37px" fill="#000" >2</text>
<text transform="translate(535,9.2) scale(0.87,1)" text-anchor="end" style="font-family:'Liberation Sans',sans-serif;font-weight:bold;font-size:11.37px" fill="#000" >2</text>
<text transform="translate(535,38.83) scale(0.87,1)" text-anchor="end" style="font-family:'Liberation Sans',sans-serif;font-weight:bold;font-size:11.37px" fill="#000" >1</text>
<text transform="translate(535,68.45) scale(0.87,1)" text-anchor="end" style="font-family:'Liberation Sans',sans-serif;font-weight:bold;font-size:11.37px" fill="#000" >0</text>
<text transform="translate(535,98.08) scale(0.87,1)" text-anchor="end" style="font-family:'Liberation Sans',sans-serif;font-weight:bold;font-size:11.37px" fill="#000" >−1</text>
<text transform="translate(535,127.7) scale(0.87,1)" text-anchor="end" style="font-family:'Liberation Sans',sans-serif;font-weight:bold;font-size:11.37px" fill="#000" >−2</text>
<text x="598.8" y="156.6" text-anchor="middle" style="font-family:'Liberation Sans',sans-serif;font-weight:bold;font-size:15.8px" fill="#000" >x</text>
<text transform="translate(516.3,64.2) rotate(-90)" text-anchor="middle" style="font-family:'Liberation Sans',sans-serif;font-weight:bold;font-size:15.5px">t</text>
<rect x="667.7" y="31.20" width="6.3" height="12.7" fill="#d8282a"/>
<rect x="667.7" y="43.80" width="6.3" height="12.7" fill="#e8843a"/>
<rect x="667.7" y="56.40" width="6.3" height="12.7" fill="#d4bc4e"/>
<rect x="667.7" y="69.00" width="6.3" height="12.7" fill="#8cc06c"/>
<rect x="667.7" y="81.60" width="6.3" height="12.7" fill="#58a89c"/>
<rect x="667.7" y="94.20" width="6.3" height="12.7" fill="#4270d2"/>
<rect x="667.7" y="106.80" width="6.3" height="12.7" fill="#781e8a"/>
<line x1="667.7" x2="674" y1="43.80" y2="43.80" stroke="rgba(60,60,60,0.5)" stroke-width="0.5"/>
<text transform="translate(676.5,47.3) scale(0.87,1)" text-anchor="start" style="font-family:'Liberation Sans',sans-serif;font-weight:bold;font-size:11.37px" fill="#000" >6</text>
<line x1="667.7" x2="674" y1="56.40" y2="56.40" stroke="rgba(60,60,60,0.5)" stroke-width="0.5"/>
<text transform="translate(676.5,59.9) scale(0.87,1)" text-anchor="start" style="font-family:'Liberation Sans',sans-serif;font-weight:bold;font-size:11.37px" fill="#000" >5</text>
<line x1="667.7" x2="674" y1="69.00" y2="69.00" stroke="rgba(60,60,60,0.5)" stroke-width="0.5"/>
<text transform="translate(676.5,72.5) scale(0.87,1)" text-anchor="start" style="font-family:'Liberation Sans',sans-serif;font-weight:bold;font-size:11.37px" fill="#000" >4</text>
<line x1="667.7" x2="674" y1="81.60" y2="81.60" stroke="rgba(60,60,60,0.5)" stroke-width="0.5"/>
<text transform="translate(676.5,85.1) scale(0.87,1)" text-anchor="start" style="font-family:'Liberation Sans',sans-serif;font-weight:bold;font-size:11.37px" fill="#000" >3</text>
<line x1="667.7" x2="674" y1="94.20" y2="94.20" stroke="rgba(60,60,60,0.5)" stroke-width="0.5"/>
<text transform="translate(676.5,97.7) scale(0.87,1)" text-anchor="start" style="font-family:'Liberation Sans',sans-serif;font-weight:bold;font-size:11.37px" fill="#000" >2</text>
<line x1="667.7" x2="674" y1="106.80" y2="106.80" stroke="rgba(60,60,60,0.5)" stroke-width="0.5"/>
<text transform="translate(676.5,110.3) scale(0.87,1)" text-anchor="start" style="font-family:'Liberation Sans',sans-serif;font-weight:bold;font-size:11.37px" fill="#000" >1</text>
<defs><clipPath id="dclip"><rect x="0" y="0" width="119.0" height="118.5"/></clipPath><filter id="dblur" x="-5%" y="-5%" width="110%" height="110%"><feGaussianBlur stdDeviation="0 1.1"/></filter></defs>
<g transform="translate(177,221) scale(1.004201680672269,1)" clip-path="url(#dclip)">
<defs>
<linearGradient id="g1"><stop offset="0.000" stop-color="#6130b1"/><stop offset="0.084" stop-color="#6c28a5"/><stop offset="0.160" stop-color="#6e26a1"/><stop offset="0.235" stop-color="#682baa"/><stop offset="0.303" stop-color="#5637bd"/><stop offset="0.356" stop-color="#4946ca"/><stop offset="0.418" stop-color="#4783c6"/><stop offset="0.432" stop-color="#6bad8f"/><stop offset="0.445" stop-color="#bfb74a"/><stop offset="0.461" stop-color="#e58133"/><stop offset="0.472" stop-color="#e03725"/><stop offset="0.477" stop-color="#db2122"/><stop offset="0.480" stop-color="#fff"/><stop offset="0.568" stop-color="#fff"/><stop offset="0.571" stop-color="#db2122"/><stop offset="0.579" stop-color="#e03725"/><stop offset="0.594" stop-color="#e58133"/><stop offset="0.618" stop-color="#bfb74a"/><stop offset="0.670" stop-color="#6bad8f"/><stop offset="0.864" stop-color="#4783c6"/><stop offset="1.000" stop-color="#4373cf"/></linearGradient>
<linearGradient id="g2"><stop offset="0.000" stop-color="#6130b1"/><stop offset="0.084" stop-color="#6c28a5"/><stop offset="0.160" stop-color="#6e26a1"/><stop offset="0.235" stop-color="#682baa"/><stop offset="0.303" stop-color="#5637bd"/><stop offset="0.356" stop-color="#4946ca"/><stop offset="0.418" stop-color="#4783c6"/><stop offset="0.432" stop-color="#6bad8f"/><stop offset="0.445" stop-color="#bfb74a"/><stop offset="0.461" stop-color="#e58133"/><stop offset="0.471" stop-color="#e03725"/><stop offset="0.477" stop-color="#db2122"/><stop offset="0.480" stop-color="#fff"/><stop offset="0.567" stop-color="#fff"/><stop offset="0.569" stop-color="#db2122"/><stop offset="0.578" stop-color="#e03725"/><stop offset="0.593" stop-color="#e58133"/><stop offset="0.616" stop-color="#bfb74a"/><stop offset="0.668" stop-color="#6bad8f"/><stop offset="0.862" stop-color="#4783c6"/><stop offset="1.000" stop-color="#4373cf"/></linearGradient>
<linearGradient id="g3"><stop offset="0.000" stop-color="#6130b1"/><stop offset="0.084" stop-color="#6c28a5"/><stop offset="0.160" stop-color="#6e26a0"/><stop offset="0.235" stop-color="#682ba9"/><stop offset="0.303" stop-color="#5637bd"/><stop offset="0.356" stop-color="#4946ca"/><stop offset="0.418" stop-color="#4783c6"/><stop offset="0.432" stop-color="#6bad8f"/><stop offset="0.446" stop-color="#bfb74a"/><stop offset="0.461" stop-color="#e58133"/><stop offset="0.471" stop-color="#e03725"/><stop offset="0.477" stop-color="#db2122"/><stop offset="0.479" stop-color="#fff"/><stop offset="0.565" stop-color="#fff"/><stop offset="0.567" stop-color="#db2122"/><stop offset="0.576" stop-color="#e03725"/><stop offset="0.590" stop-color="#e58133"/><stop offset="0.613" stop-color="#bfb74a"/><stop offset="0.664" stop-color="#6bad8f"/><stop offset="0.858" stop-color="#4783c6"/><stop offset="1.000" stop-color="#4373cf"/></linearGradient>
<linearGradient id="g4"><stop offset="0.000" stop-color="#6130b1"/><stop offset="0.084" stop-color="#6c28a4"/><stop offset="0.160" stop-color="#6e269f"/><stop offset="0.235" stop-color="#682aa9"/><stop offset="0.303" stop-color="#5637bd"/><stop offset="0.356" stop-color="#4946ca"/><stop offset="0.418" stop-color="#4783c6"/><stop offset="0.432" stop-color="#6bad8f"/><stop offset="0.446" stop-color="#bfb74a"/><stop offset="0.461" stop-color="#e58133"/><stop offset="0.471" stop-color="#e03725"/><stop offset="0.476" stop-color="#db2122"/><stop offset="0.479" stop-color="#fff"/><stop offset="0.563" stop-color="#fff"/><stop offset="0.565" stop-color="#db2122"/><stop offset="0.573" stop-color="#e03725"/><stop offset="0.588" stop-color="#e58133"/><stop offset="0.610" stop-color="#bfb74a"/><stop offset="0.660" stop-color="#6bad8f"/><stop offset="0.854" stop-color="#4783c6"/><stop offset="1.000" stop-color="#4373cf"/></linearGradient>
<linearGradient id="g5"><stop offset="0.000" stop-color="#6130b1"/><stop offset="0.084" stop-color="#6d27a4"/><stop offset="0.160" stop-color="#6f259e"/><stop offset="0.235" stop-color="#692aa8"/><stop offset="0.303" stop-color="#5637bd"/><stop offset="0.357" stop-color="#4946ca"/><stop offset="0.418" stop-color="#4783c6"/><stop offset="0.433" stop-color="#6bad8f"/><stop offset="0.446" stop-color="#bfb74a"/><stop offset="0.461" stop-color="#e58133"/><stop offset="0.471" stop-color="#e03725"/><stop offset="0.476" stop-color="#db2122"/><stop offset="0.479" stop-color="#fff"/><stop offset="0.560" stop-color="#fff"/><stop offset="0.563" stop-color="#db2122"/><stop offset="0.571" stop-color="#e03725"/><stop offset="0.585" stop-color="#e58133"/><stop offset="0.608" stop-color="#bfb74a"/><stop offset="0.656" stop-color="#6bad8f"/><stop offset="0.849" stop-color="#4783c6"/><stop offset="1.000" stop-color="#4373cf"/></linearGradient>
<linearGradient id="g6"><stop offset="0.000" stop-color="#6130b1"/><stop offset="0.084" stop-color="#6d27a3"/><stop offset="0.160" stop-color="#6f259d"/><stop offset="0.235" stop-color="#692aa8"/><stop offset="0.303" stop-color="#5637bd"/><stop offset="0.357" stop-color="#4946ca"/><stop offset="0.418" stop-color="#4783c6"/><stop offset="0.433" stop-color="#6bad8f"/><stop offset="0.446" stop-color="#bfb74a"/><stop offset="0.461" stop-color="#e58133"/><stop offset="0.470" stop-color="#e03725"/><stop offset="0.476" stop-color="#db2122"/><stop offset="0.478" stop-color="#fff"/><stop offset="0.558" stop-color="#fff"/><stop offset="0.561" stop-color="#db2122"/><stop offset="0.569" stop-color="#e03725"/><stop offset="0.583" stop-color="#e58133"/><stop offset="0.605" stop-color="#bfb74a"/><stop offset="0.652" stop-color="#6bad8f"/><stop offset="0.845" stop-color="#4783c6"/><stop offset="1.000" stop-color="#4373cf"/></linearGradient>
<linearGradient id="g7"><stop offset="0.000" stop-color="#6130b1"/><stop offset="0.084" stop-color="#6d27a2"/><stop offset="0.160" stop-color="#70249b"/><stop offset="0.235" stop-color="#6a29a7"/><stop offset="0.303" stop-color="#5637bd"/><stop offset="0.357" stop-color="#4946ca"/><stop offset="0.418" stop-color="#4783c6"/><stop offset="0.433" stop-color="#6bad8f"/><stop offset="0.446" stop-color="#bfb74a"/><stop offset="0.461" stop-color="#e58133"/><stop offset="0.470" stop-color="#e03725"/><stop offset="0.475" stop-color="#db2122"/><stop offset="0.478" stop-color="#fff"/><stop offset="0.556" stop-color="#fff"/><stop offset="0.558" stop-color="#db2122"/><stop offset="0.566" stop-color="#e03725"/><stop offset="0.580" stop-color="#e58133"/><stop offset="0.602" stop-color="#bfb74a"/><stop offset="0.649" stop-color="#6bad8f"/><stop offset="0.841" stop-color="#4783c6"/><stop offset="1.000" stop-color="#4373cf"/></linearGradient>
<linearGradient id="g8"><stop offset="0.000" stop-color="#6130b1"/><stop offset="0.084" stop-color="#6d27a2"/><stop offset="0.160" stop-color="#70249a"/><stop offset="0.235" stop-color="#6a29a7"/><stop offset="0.303" stop-color="#5637bd"/><stop offset="0.357" stop-color="#4946ca"/><stop offset="0.418" stop-color="#4783c6"/><stop offset="0.433" stop-color="#6bad8f"/><stop offset="0.446" stop-color="#bfb74a"/><stop offset="0.461" stop-color="#e58133"/><stop offset="0.470" stop-color="#e03725"/><stop offset="0.475" stop-color="#db2122"/><stop offset="0.478" stop-color="#fff"/><stop offset="0.554" stop-color="#fff"/><stop offset="0.556" stop-color="#db2122"/><stop offset="0.564" stop-color="#e03725"/><stop offset="0.578" stop-color="#e58133"/><stop offset="0.599" stop-color="#bfb74a"/><stop offset="0.645" stop-color="#6bad8f"/><stop offset="0.837" stop-color="#4783c6"/><stop offset="1.000" stop-color="#4373cf"/></linearGradient>
<linearGradient id="g9"><stop offset="0.000" stop-color="#6130b1"/><stop offset="0.084" stop-color="#6e26a1"/><stop offset="0.160" stop-color="#712398"/><stop offset="0.235" stop-color="#6b29a6"/><stop offset="0.303" stop-color="#5637bd"/><stop offset="0.357" stop-color="#4946ca"/><stop offset="0.418" stop-color="#4783c6"/><stop offset="0.433" stop-color="#6bad8f"/><stop offset="0.446" stop-color="#bfb74a"/><stop offset="0.461" stop-color="#e58133"/><stop offset="0.470" stop-color="#e03725"/><stop offset="0.475" stop-color="#db2122"/><stop offset="0.477" stop-color="#fff"/><stop offset="0.552" stop-color="#fff"/><stop offset="0.554" stop-color="#db2122"/><stop offset="0.562" stop-color="#e03725"/><stop offset="0.575" stop-color="#e58133"/><stop offset="0.596" stop-color="#bfb74a"/><stop offset="0.641" stop-color="#6bad8f"/><stop offset="0.833" stop-color="#4783c6"/><stop offset="1.000" stop-color="#4373cf"/></linearGradient>
<linearGradient id="g10"><stop offset="0.000" stop-color="#6130b1"/><stop offset="0.084" stop-color="#6e26a0"/><stop offset="0.160" stop-color="#722297"/><stop offset="0.235" stop-color="#6c28a5"/><stop offset="0.303" stop-color="#5637bd"/><stop offset="0.357" stop-color="#4946ca"/><stop offset="0.417" stop-color="#4783c6"/><stop offset="0.433" stop-color="#6bad8f"/><stop offset="0.447" stop-color="#bfb74a"/><stop offset="0.461" stop-color="#e58133"/><stop offset="0.469" stop-color="#e03725"/><stop offset="0.475" stop-color="#db2122"/><stop offset="0.477" stop-color="#fff"/><stop offset="0.549" stop-color="#fff"/><stop offset="0.552" stop-color="#db2122"/><stop offset="0.559" stop-color="#e03725"/><stop offset="0.573" stop-color="#e58133"/><stop offset="0.593" stop-color="#bfb74a"/><stop offset="0.637" stop-color="#6bad8f"/><stop offset="0.829" stop-color="#4783c6"/><stop offset="1.000" stop-color="#4373cf"/></linearGradient>
<linearGradient id="g11"><stop offset="0.000" stop-color="#6130b1"/><stop offset="0.084" stop-color="#6e269f"/><stop offset="0.160" stop-color="#722295"/><stop offset="0.235" stop-color="#6c28a4"/><stop offset="0.303" stop-color="#5637bd"/><stop offset="0.357" stop-color="#4946ca"/><stop offset="0.417" stop-color="#4783c6"/><stop offset="0.434" stop-color="#6bad8f"/><stop offset="0.447" stop-color="#bfb74a"/><stop offset="0.460" stop-color="#e58133"/><stop offset="0.469" stop-color="#e03725"/><stop offset="0.474" stop-color="#db2122"/><stop offset="0.477" stop-color="#fff"/><stop offset="0.547" stop-color="#fff"/><stop offset="0.550" stop-color="#db2122"/><stop offset="0.557" stop-color="#e03725"/><stop offset="0.570" stop-color="#e58133"/><stop offset="0.590" stop-color="#bfb74a"/><stop offset="0.633" stop-color="#6bad8f"/><stop offset="0.824" stop-color="#4783c6"/><stop offset="1.000" stop-color="#4373cf"/></linearGradient>
<linearGradient id="g12"><stop offset="0.000" stop-color="#6130b1"/><stop offset="0.084" stop-color="#6f259e"/><stop offset="0.160" stop-color="#732193"/><stop offset="0.235" stop-color="#6d27a4"/><stop offset="0.303" stop-color="#5637bd"/><stop offset="0.357" stop-color="#4946ca"/><stop offset="0.417" stop-color="#4783c6"/><stop offset="0.434" stop-color="#6bad8f"/><stop offset="0.447" stop-color="#bfb74a"/><stop offset="0.460" stop-color="#e58133"/><stop offset="0.469" stop-color="#e03725"/><stop offset="0.474" stop-color="#db2122"/><stop offset="0.476" stop-color="#fff"/><stop offset="0.545" stop-color="#fff"/><stop offset="0.547" stop-color="#db2122"/><stop offset="0.555" stop-color="#e03725"/><stop offset="0.568" stop-color="#e58133"/><stop offset="0.588" stop-color="#bfb74a"/><stop offset="0.629" stop-color="#6bad8f"/><stop offset="0.820" stop-color="#4783c6"/><stop offset="1.000" stop-color="#4373cf"/></linearGradient>
<linearGradient id="g13"><stop offset="0.000" stop-color="#6130b1"/><stop offset="0.084" stop-color="#6f259d"/><stop offset="0.160" stop-color="#732192"/><stop offset="0.235" stop-color="#6d27a3"/><stop offset="0.303" stop-color="#5637bd"/><stop offset="0.357" stop-color="#4946ca"/><stop offset="0.417" stop-color="#4783c6"/><stop offset="0.434" stop-color="#6bad8f"/><stop offset="0.447" stop-color="#bfb74a"/><stop offset="0.460" stop-color="#e58133"/><stop offset="0.469" stop-color="#e03725"/><stop offset="0.474" stop-color="#db2122"/><stop offset="0.476" stop-color="#fff"/><stop offset="0.543" stop-color="#fff"/><stop offset="0.545" stop-color="#db2122"/><stop offset="0.552" stop-color="#e03725"/><stop offset="0.565" stop-color="#e58133"/><stop offset="0.585" stop-color="#bfb74a"/><stop offset="0.625" stop-color="#6bad8f"/><stop offset="0.816" stop-color="#4783c6"/><stop offset="1.000" stop-color="#4373cf"/></linearGradient>
<linearGradient id="g14"><stop offset="0.000" stop-color="#6130b1"/><stop offset="0.084" stop-color="#6f259d"/><stop offset="0.160" stop-color="#742090"/><stop offset="0.235" stop-color="#6d27a2"/><stop offset="0.303" stop-color="#5637bd"/><stop offset="0.357" stop-color="#4946ca"/><stop offset="0.417" stop-color="#4783c6"/><stop offset="0.434" stop-color="#6bad8f"/><stop offset="0.447" stop-color="#bfb74a"/><stop offset="0.460" stop-color="#e58133"/><stop offset="0.469" stop-color="#e03725"/><stop offset="0.473" stop-color="#db2122"/><stop offset="0.476" stop-color="#fff"/><stop offset="0.541" stop-color="#fff"/><stop offset="0.543" stop-color="#db2122"/><stop offset="0.550" stop-color="#e03725"/><stop offset="0.562" stop-color="#e58133"/><stop offset="0.582" stop-color="#bfb74a"/><stop offset="0.622" stop-color="#6bad8f"/><stop offset="0.812" stop-color="#4783c6"/><stop offset="1.000" stop-color="#4373cf"/></linearGradient>
<linearGradient id="g15"><stop offset="0.000" stop-color="#6130b1"/><stop offset="0.084" stop-color="#70249c"/><stop offset="0.160" stop-color="#751f8f"/><stop offset="0.235" stop-color="#6d27a1"/><stop offset="0.304" stop-color="#5637bd"/><stop offset="0.357" stop-color="#4946ca"/><stop offset="0.417" stop-color="#4783c6"/><stop offset="0.434" stop-color="#6bad8f"/><stop offset="0.447" stop-color="#bfb74a"/><stop offset="0.460" stop-color="#e58133"/><stop offset="0.468" stop-color="#e03725"/><stop offset="0.473" stop-color="#db2122"/><stop offset="0.475" stop-color="#fff"/><stop offset="0.538" stop-color="#fff"/><stop offset="0.541" stop-color="#db2122"/><stop offset="0.548" stop-color="#e03725"/><stop offset="0.560" stop-color="#e58133"/><stop offset="0.579" stop-color="#bfb74a"/><stop offset="0.618" stop-color="#6bad8f"/><stop offset="0.807" stop-color="#4783c6"/><stop offset="1.000" stop-color="#4373cf"/></linearGradient>
<linearGradient id="g16"><stop offset="0.000" stop-color="#6130b1"/><stop offset="0.084" stop-color="#70249b"/><stop offset="0.160" stop-color="#751f8d"/><stop offset="0.235" stop-color="#6e26a1"/><stop offset="0.304" stop-color="#5637bd"/><stop offset="0.357" stop-color="#4946ca"/><stop offset="0.417" stop-color="#4783c6"/><stop offset="0.434" stop-color="#6bad8f"/><stop offset="0.447" stop-color="#bfb74a"/><stop offset="0.460" stop-color="#e58133"/><stop offset="0.468" stop-color="#e03725"/><stop offset="0.472" stop-color="#db2122"/><stop offset="0.474" stop-color="#fff"/><stop offset="0.536" stop-color="#fff"/><stop offset="0.539" stop-color="#db2122"/><stop offset="0.545" stop-color="#e03725"/><stop offset="0.557" stop-color="#e58133"/><stop offset="0.576" stop-color="#bfb74a"/><stop offset="0.614" stop-color="#6bad8f"/><stop offset="0.803" stop-color="#4783c6"/><stop offset="1.000" stop-color="#4373cf"/></linearGradient>
<linearGradient id="g17"><stop offset="0.000" stop-color="#6130b1"/><stop offset="0.084" stop-color="#70249b"/><stop offset="0.160" stop-color="#761e8c"/><stop offset="0.235" stop-color="#6e26a0"/><stop offset="0.304" stop-color="#5637bd"/><stop offset="0.357" stop-color="#4946ca"/><stop offset="0.417" stop-color="#4783c6"/><stop offset="0.435" stop-color="#6bad8f"/><stop offset="0.448" stop-color="#bfb74a"/><stop offset="0.459" stop-color="#e58133"/><stop offset="0.467" stop-color="#e03725"/><stop offset="0.471" stop-color="#db2122"/><stop offset="0.474" stop-color="#fff"/><stop offset="0.534" stop-color="#fff"/><stop offset="0.536" stop-color="#db2122"/><stop offset="0.543" stop-color="#e03725"/><stop offset="0.555" stop-color="#e58133"/><stop offset="0.573" stop-color="#bfb74a"/><stop offset="0.610" stop-color="#6bad8f"/><stop offset="0.797" stop-color="#4783c6"/><stop offset="1.000" stop-color="#4373cf"/></linearGradient>
<linearGradient id="g18"><stop offset="0.000" stop-color="#6130b1"/><stop offset="0.084" stop-color="#70249a"/><stop offset="0.160" stop-color="#761e8b"/><stop offset="0.235" stop-color="#6e26a0"/><stop offset="0.304" stop-color="#5637bd"/><stop offset="0.357" stop-color="#4946ca"/><stop offset="0.417" stop-color="#4783c6"/><stop offset="0.435" stop-color="#6bad8f"/><stop offset="0.448" stop-color="#bfb74a"/><stop offset="0.459" stop-color="#e58133"/><stop offset="0.466" stop-color="#e03725"/><stop offset="0.471" stop-color="#db2122"/><stop offset="0.473" stop-color="#fff"/><stop offset="0.532" stop-color="#fff"/><stop offset="0.534" stop-color="#db2122"/><stop offset="0.541" stop-color="#e03725"/><stop offset="0.552" stop-color="#e58133"/><stop offset="0.569" stop-color="#bfb74a"/><stop offset="0.605" stop-color="#6bad8f"/><stop offset="0.788" stop-color="#4783c6"/><stop offset="1.000" stop-color="#4373cf"/></linearGradient>
<linearGradient id="g19"><stop offset="0.000" stop-color="#6130b1"/><stop offset="0.084" stop-color="#70249a"/><stop offset="0.160" stop-color="#761e8b"/><stop offset="0.235" stop-color="#6e269f"/><stop offset="0.304" stop-color="#5637bd"/><stop offset="0.357" stop-color="#4946ca"/><stop offset="0.417" stop-color="#4783c6"/><stop offset="0.435" stop-color="#6bad8f"/><stop offset="0.448" stop-color="#bfb74a"/><stop offset="0.459" stop-color="#e58133"/><stop offset="0.466" stop-color="#e03725"/><stop offset="0.470" stop-color="#db2122"/><stop offset="0.472" stop-color="#fff"/><stop offset="0.530" stop-color="#fff"/><stop offset="0.532" stop-color="#db2122"/><stop offset="0.538" stop-color="#e03725"/><stop offset="0.549" stop-color="#e58133"/><stop offset="0.565" stop-color="#bfb74a"/><stop offset="0.600" stop-color="#6bad8f"/><stop offset="0.779" stop-color="#4783c6"/><stop offset="1.000" stop-color="#4373cf"/></linearGradient>
<linearGradient id="g20"><stop offset="0.000" stop-color="#6130b1"/><stop offset="0.084" stop-color="#70249a"/><stop offset="0.160" stop-color="#761e8a"/><stop offset="0.235" stop-color="#6e269f"/><stop offset="0.304" stop-color="#5637bd"/><stop offset="0.357" stop-color="#4946ca"/><stop offset="0.417" stop-color="#4783c6"/><stop offset="0.435" stop-color="#6bad8f"/><stop offset="0.448" stop-color="#bfb74a"/><stop offset="0.459" stop-color="#e58133"/><stop offset="0.465" stop-color="#e03725"/><stop offset="0.469" stop-color="#db2122"/><stop offset="0.472" stop-color="#fff"/><stop offset="0.528" stop-color="#fff"/><stop offset="0.530" stop-color="#db2122"/><stop offset="0.536" stop-color="#e03725"/><stop offset="0.546" stop-color="#e58133"/><stop offset="0.561" stop-color="#bfb74a"/><stop offset="0.595" stop-color="#6bad8f"/><stop offset="0.771" stop-color="#4783c6"/><stop offset="1.000" stop-color="#4373cf"/></linearGradient>
<linearGradient id="g21"><stop offset="0.000" stop-color="#6130b1"/><stop offset="0.084" stop-color="#70249a"/><stop offset="0.160" stop-color="#761e8a"/><stop offset="0.235" stop-color="#6e269f"/><stop offset="0.304" stop-color="#5637bd"/><stop offset="0.357" stop-color="#4946ca"/><stop offset="0.417" stop-color="#4783c6"/><stop offset="0.435" stop-color="#6bad8f"/><stop offset="0.448" stop-color="#bfb74a"/><stop offset="0.458" stop-color="#e58133"/><stop offset="0.465" stop-color="#e03725"/><stop offset="0.469" stop-color="#db2122"/><stop offset="0.471" stop-color="#fff"/><stop offset="0.526" stop-color="#fff"/><stop offset="0.528" stop-color="#db2122"/><stop offset="0.534" stop-color="#e03725"/><stop offset="0.543" stop-color="#e58133"/><stop offset="0.557" stop-color="#bfb74a"/><stop offset="0.591" stop-color="#6bad8f"/><stop offset="0.762" stop-color="#4783c6"/><stop offset="1.000" stop-color="#4373cf"/></linearGradient>
<linearGradient id="g22"><stop offset="0.000" stop-color="#6130b1"/><stop offset="0.084" stop-color="#70249a"/><stop offset="0.160" stop-color="#761e8a"/><stop offset="0.235" stop-color="#6e269f"/><stop offset="0.304" stop-color="#5637bd"/><stop offset="0.358" stop-color="#4946ca"/><stop offset="0.417" stop-color="#4783c6"/><stop offset="0.435" stop-color="#6bad8f"/><stop offset="0.448" stop-color="#bfb74a"/><stop offset="0.458" stop-color="#e58133"/><stop offset="0.464" stop-color="#e03725"/><stop offset="0.468" stop-color="#db2122"/><stop offset="0.470" stop-color="#fff"/><stop offset="0.524" stop-color="#fff"/><stop offset="0.526" stop-color="#db2122"/><stop offset="0.531" stop-color="#e03725"/><stop offset="0.540" stop-color="#e58133"/><stop offset="0.553" stop-color="#bfb74a"/><stop offset="0.586" stop-color="#6bad8f"/><stop offset="0.753" stop-color="#4783c6"/><stop offset="1.000" stop-color="#4373cf"/></linearGradient>
<linearGradient id="g23"><stop offset="0.000" stop-color="#6130b1"/><stop offset="0.084" stop-color="#70249a"/><stop offset="0.160" stop-color="#761e8b"/><stop offset="0.235" stop-color="#6e269f"/><stop offset="0.304" stop-color="#5637bd"/><stop offset="0.358" stop-color="#4946ca"/><stop offset="0.417" stop-color="#4783c6"/><stop offset="0.436" stop-color="#6bad8f"/><stop offset="0.448" stop-color="#bfb74a"/><stop offset="0.458" stop-color="#e58133"/><stop offset="0.464" stop-color="#e03725"/><stop offset="0.467" stop-color="#db2122"/><stop offset="0.470" stop-color="#fff"/><stop offset="0.522" stop-color="#fff"/><stop offset="0.524" stop-color="#db2122"/><stop offset="0.529" stop-color="#e03725"/><stop offset="0.537" stop-color="#e58133"/><stop offset="0.550" stop-color="#bfb74a"/><stop offset="0.581" stop-color="#6bad8f"/><stop offset="0.745" stop-color="#4783c6"/><stop offset="1.000" stop-color="#4373cf"/></linearGradient>
<linearGradient id="g24"><stop offset="0.000" stop-color="#6130b1"/><stop offset="0.084" stop-color="#70249a"/><stop offset="0.160" stop-color="#761e8c"/><stop offset="0.235" stop-color="#6e26a0"/><stop offset="0.304" stop-color="#5637bd"/><stop offset="0.358" stop-color="#4946ca"/><stop offset="0.416" stop-color="#4783c6"/><stop offset="0.436" stop-color="#6bad8f"/><stop offset="0.449" stop-color="#bfb74a"/><stop offset="0.458" stop-color="#e58133"/><stop offset="0.463" stop-color="#e03725"/><stop offset="0.467" stop-color="#db2122"/><stop offset="0.469" stop-color="#fff"/><stop offset="0.520" stop-color="#fff"/><stop offset="0.522" stop-color="#db2122"/><stop offset="0.527" stop-color="#e03725"/><stop offset="0.534" stop-color="#e58133"/><stop offset="0.546" stop-color="#bfb74a"/><stop offset="0.576" stop-color="#6bad8f"/><stop offset="0.736" stop-color="#4783c6"/><stop offset="1.000" stop-color="#4373cf"/></linearGradient>
<linearGradient id="g25"><stop offset="0.000" stop-color="#6130b1"/><stop offset="0.084" stop-color="#70249b"/><stop offset="0.160" stop-color="#751f8d"/><stop offset="0.235" stop-color="#6e26a0"/><stop offset="0.304" stop-color="#5637bd"/><stop offset="0.358" stop-color="#4946ca"/><stop offset="0.416" stop-color="#4783c6"/><stop offset="0.436" stop-color="#6bad8f"/><stop offset="0.449" stop-color="#bfb74a"/><stop offset="0.458" stop-color="#e58133"/><stop offset="0.463" stop-color="#e03725"/><stop offset="0.466" stop-color="#db2122"/><stop offset="0.469" stop-color="#fff"/><stop offset="0.518" stop-color="#fff"/><stop offset="0.520" stop-color="#db2122"/><stop offset="0.524" stop-color="#e03725"/><stop offset="0.531" stop-color="#e58133"/><stop offset="0.542" stop-color="#bfb74a"/><stop offset="0.572" stop-color="#6bad8f"/><stop offset="0.722" stop-color="#4783c6"/><stop offset="1.000" stop-color="#4373cf"/></linearGradient>
<linearGradient id="g26"><stop offset="0.000" stop-color="#6130b1"/><stop offset="0.084" stop-color="#70249c"/><stop offset="0.160" stop-color="#751f8e"/><stop offset="0.235" stop-color="#6e26a1"/><stop offset="0.304" stop-color="#5637bd"/><stop offset="0.358" stop-color="#4946ca"/><stop offset="0.416" stop-color="#4783c6"/><stop offset="0.436" stop-color="#6bad8f"/><stop offset="0.449" stop-color="#bfb74a"/><stop offset="0.458" stop-color="#e58133"/><stop offset="0.463" stop-color="#e03725"/><stop offset="0.466" stop-color="#db2122"/><stop offset="0.469" stop-color="#fff"/><stop offset="0.516" stop-color="#fff"/><stop offset="0.518" stop-color="#db2122"/><stop offset="0.522" stop-color="#e03725"/><stop offset="0.528" stop-color="#e58133"/><stop offset="0.538" stop-color="#bfb74a"/><stop offset="0.567" stop-color="#6bad8f"/><stop offset="0.706" stop-color="#4783c6"/><stop offset="1.000" stop-color="#4373cf"/></linearGradient>
<linearGradient id="g27"><stop offset="0.000" stop-color="#6130b1"/><stop offset="0.084" stop-color="#6f259c"/><stop offset="0.160" stop-color="#74208f"/><stop offset="0.235" stop-color="#6d27a2"/><stop offset="0.304" stop-color="#5637bd"/><stop offset="0.358" stop-color="#4946ca"/><stop offset="0.416" stop-color="#4783c6"/><stop offset="0.436" stop-color="#6bad8f"/><stop offset="0.449" stop-color="#bfb74a"/><stop offset="0.458" stop-color="#e58133"/><stop offset="0.463" stop-color="#e03725"/><stop offset="0.466" stop-color="#db2122"/><stop offset="0.469" stop-color="#fff"/><stop offset="0.514" stop-color="#fff"/><stop offset="0.516" stop-color="#db2122"/><stop offset="0.519" stop-color="#e03725"/><stop offset="0.525" stop-color="#e58133"/><stop offset="0.534" stop-color="#bfb74a"/><stop offset="0.562" stop-color="#6bad8f"/><stop offset="0.690" stop-color="#4783c6"/><stop offset="1.000" stop-color="#4373cf"/></linearGradient>
<linearGradient id="g28"><stop offset="0.000" stop-color="#6130b1"/><stop offset="0.084" stop-color="#6f259d"/><stop offset="0.160" stop-color="#742091"/><stop offset="0.235" stop-color="#6d27a2"/><stop offset="0.304" stop-color="#5637bd"/><stop offset="0.358" stop-color="#4946ca"/><stop offset="0.416" stop-color="#4783c6"/><stop offset="0.437" stop-color="#6bad8f"/><stop offset="0.449" stop-color="#bfb74a"/><stop offset="0.458" stop-color="#e58133"/><stop offset="0.463" stop-color="#e03725"/><stop offset="0.466" stop-color="#db2122"/><stop offset="0.469" stop-color="#fff"/><stop offset="0.512" stop-color="#fff"/><stop offset="0.514" stop-color="#db2122"/><stop offset="0.517" stop-color="#e03725"/><stop offset="0.522" stop-color="#e58133"/><stop offset="0.530" stop-color="#bfb74a"/><stop offset="0.557" stop-color="#6bad8f"/><stop offset="0.674" stop-color="#4783c6"/><stop offset="1.000" stop-color="#4373cf"/></linearGradient>
<linearGradient id="g29"><stop offset="0.000" stop-color="#6130b1"/><stop offset="0.084" stop-color="#6f259e"/><stop offset="0.160" stop-color="#732192"/><stop offset="0.235" stop-color="#6d27a3"/><stop offset="0.304" stop-color="#5637bd"/><stop offset="0.358" stop-color="#4946ca"/><stop offset="0.416" stop-color="#4783c6"/><stop offset="0.437" stop-color="#6bad8f"/><stop offset="0.449" stop-color="#bfb74a"/><stop offset="0.458" stop-color="#e58133"/><stop offset="0.463" stop-color="#e03725"/><stop offset="0.466" stop-color="#db2122"/><stop offset="0.469" stop-color="#fff"/><stop offset="0.510" stop-color="#fff"/><stop offset="0.512" stop-color="#db2122"/><stop offset="0.515" stop-color="#e03725"/><stop offset="0.519" stop-color="#e58133"/><stop offset="0.526" stop-color="#bfb74a"/><stop offset="0.552" stop-color="#6bad8f"/><stop offset="0.657" stop-color="#4783c6"/><stop offset="1.000" stop-color="#4373cf"/></linearGradient>
<linearGradient id="g30"><stop offset="0.000" stop-color="#6130b1"/><stop offset="0.084" stop-color="#6e269f"/><stop offset="0.160" stop-color="#732194"/><stop offset="0.235" stop-color="#6c28a4"/><stop offset="0.304" stop-color="#5637bd"/><stop offset="0.358" stop-color="#4946ca"/><stop offset="0.416" stop-color="#4783c6"/><stop offset="0.437" stop-color="#6bad8f"/><stop offset="0.449" stop-color="#bfb74a"/><stop offset="0.460" stop-color="#e58133"/><stop offset="0.467" stop-color="#e03725"/><stop offset="0.471" stop-color="#db2122"/><stop offset="0.473" stop-color="#fff"/><stop offset="0.508" stop-color="#fff"/><stop offset="0.510" stop-color="#db2122"/><stop offset="0.512" stop-color="#e03725"/><stop offset="0.516" stop-color="#e58133"/><stop offset="0.522" stop-color="#bfb74a"/><stop offset="0.547" stop-color="#6bad8f"/><stop offset="0.640" stop-color="#4783c6"/><stop offset="1.000" stop-color="#4373cf"/></linearGradient>
<linearGradient id="g31"><stop offset="0.000" stop-color="#6130b1"/><stop offset="0.084" stop-color="#6e26a0"/><stop offset="0.160" stop-color="#722296"/><stop offset="0.235" stop-color="#6c28a5"/><stop offset="0.295" stop-color="#5637bd"/><stop offset="0.347" stop-color="#4946ca"/><stop offset="0.415" stop-color="#4783c6"/><stop offset="0.435" stop-color="#6bad8f"/><stop offset="0.448" stop-color="#bfb74a"/><stop offset="0.463" stop-color="#e58133"/><stop offset="0.472" stop-color="#e03725"/><stop offset="0.477" stop-color="#db2122"/><stop offset="0.479" stop-color="#fff"/><stop offset="0.506" stop-color="#fff"/><stop offset="0.508" stop-color="#db2122"/><stop offset="0.510" stop-color="#e03725"/><stop offset="0.513" stop-color="#e58133"/><stop offset="0.518" stop-color="#bfb74a"/><stop offset="0.542" stop-color="#6bad8f"/><stop offset="0.629" stop-color="#4783c6"/><stop offset="1.000" stop-color="#4373cf"/></linearGradient>
<linearGradient id="g32"><stop offset="0.000" stop-color="#6130b1"/><stop offset="0.198" stop-color="#5438bf"/><stop offset="0.331" stop-color="#4946ca"/><stop offset="0.408" stop-color="#4783c6"/><stop offset="0.429" stop-color="#6bad8f"/><stop offset="0.443" stop-color="#bfb74a"/><stop offset="0.457" stop-color="#e58133"/><stop offset="0.467" stop-color="#e03725"/><stop offset="0.472" stop-color="#db2122"/><stop offset="0.474" stop-color="#fff"/><stop offset="0.502" stop-color="#fff"/><stop offset="0.504" stop-color="#db2122"/><stop offset="0.506" stop-color="#e03725"/><stop offset="0.509" stop-color="#e58133"/><stop offset="0.514" stop-color="#bfb74a"/><stop offset="0.534" stop-color="#6bad8f"/><stop offset="0.625" stop-color="#4783c6"/><stop offset="1.000" stop-color="#4168d4"/></linearGradient>
<linearGradient id="g33"><stop offset="0.000" stop-color="#6130b1"/><stop offset="0.185" stop-color="#5438bf"/><stop offset="0.308" stop-color="#4946ca"/><stop offset="0.395" stop-color="#4783c6"/><stop offset="0.418" stop-color="#6bad8f"/><stop offset="0.434" stop-color="#bfb74a"/><stop offset="0.448" stop-color="#e58133"/><stop offset="0.457" stop-color="#e03725"/><stop offset="0.462" stop-color="#db2122"/><stop offset="0.465" stop-color="#fff"/><stop offset="0.501" stop-color="#fff"/><stop offset="0.504" stop-color="#db2122"/><stop offset="0.505" stop-color="#e03725"/><stop offset="0.508" stop-color="#e58133"/><stop offset="0.512" stop-color="#bfb74a"/><stop offset="0.528" stop-color="#6bad8f"/><stop offset="0.625" stop-color="#4783c6"/><stop offset="1.000" stop-color="#4168d4"/></linearGradient>
<linearGradient id="g34"><stop offset="0.000" stop-color="#6130b1"/><stop offset="0.178" stop-color="#5438bf"/><stop offset="0.296" stop-color="#4946ca"/><stop offset="0.382" stop-color="#4783c6"/><stop offset="0.408" stop-color="#6bad8f"/><stop offset="0.425" stop-color="#bfb74a"/><stop offset="0.442" stop-color="#e58133"/><stop offset="0.453" stop-color="#e03725"/><stop offset="0.459" stop-color="#db2122"/><stop offset="0.461" stop-color="#fff"/><stop offset="0.501" stop-color="#fff"/><stop offset="0.503" stop-color="#db2122"/><stop offset="0.505" stop-color="#e03725"/><stop offset="0.507" stop-color="#e58133"/><stop offset="0.512" stop-color="#bfb74a"/><stop offset="0.526" stop-color="#6bad8f"/><stop offset="0.624" stop-color="#4783c6"/><stop offset="1.000" stop-color="#4168d4"/></linearGradient>
<linearGradient id="g35"><stop offset="0.000" stop-color="#6130b1"/><stop offset="0.173" stop-color="#5438bf"/><stop offset="0.288" stop-color="#4946ca"/><stop offset="0.373" stop-color="#4783c6"/><stop offset="0.401" stop-color="#6bad8f"/><stop offset="0.416" stop-color="#bfb74a"/><stop offset="0.436" stop-color="#e58133"/><stop offset="0.448" stop-color="#e03725"/><stop offset="0.455" stop-color="#db2122"/><stop offset="0.458" stop-color="#fff"/><stop offset="0.500" stop-color="#fff"/><stop offset="0.503" stop-color="#db2122"/><stop offset="0.504" stop-color="#e03725"/><stop offset="0.507" stop-color="#e58133"/><stop offset="0.511" stop-color="#bfb74a"/><stop offset="0.525" stop-color="#6bad8f"/><stop offset="0.623" stop-color="#4783c6"/><stop offset="1.000" stop-color="#4168d4"/></linearGradient>
<linearGradient id="g36"><stop offset="0.000" stop-color="#6130b1"/><stop offset="0.168" stop-color="#5438bf"/><stop offset="0.279" stop-color="#4946ca"/><stop offset="0.366" stop-color="#4783c6"/><stop offset="0.396" stop-color="#6bad8f"/><stop offset="0.412" stop-color="#bfb74a"/><stop offset="0.432" stop-color="#e58133"/><stop offset="0.444" stop-color="#e03725"/><stop offset="0.452" stop-color="#db2122"/><stop offset="0.454" stop-color="#fff"/><stop offset="0.500" stop-color="#fff"/><stop offset="0.502" stop-color="#db2122"/><stop offset="0.504" stop-color="#e03725"/><stop offset="0.506" stop-color="#e58133"/><stop offset="0.510" stop-color="#bfb74a"/><stop offset="0.524" stop-color="#6bad8f"/><stop offset="0.622" stop-color="#4783c6"/><stop offset="1.000" stop-color="#4168d4"/></linearGradient>
<linearGradient id="g37"><stop offset="0.000" stop-color="#6130b1"/><stop offset="0.163" stop-color="#5438bf"/><stop offset="0.271" stop-color="#4946ca"/><stop offset="0.360" stop-color="#4783c6"/><stop offset="0.391" stop-color="#6bad8f"/><stop offset="0.408" stop-color="#bfb74a"/><stop offset="0.428" stop-color="#e58133"/><stop offset="0.441" stop-color="#e03725"/><stop offset="0.448" stop-color="#db2122"/><stop offset="0.450" stop-color="#fff"/><stop offset="0.500" stop-color="#fff"/><stop offset="0.502" stop-color="#db2122"/><stop offset="0.503" stop-color="#e03725"/><stop offset="0.506" stop-color="#e58133"/><stop offset="0.510" stop-color="#bfb74a"/><stop offset="0.523" stop-color="#6bad8f"/><stop offset="0.621" stop-color="#4783c6"/><stop offset="1.000" stop-color="#4168d4"/></linearGradient>
<linearGradient id="g38"><stop offset="0.000" stop-color="#6130b1"/><stop offset="0.158" stop-color="#5438bf"/><stop offset="0.263" stop-color="#4946ca"/><stop offset="0.353" stop-color="#4783c6"/><stop offset="0.385" stop-color="#6bad8f"/><stop offset="0.404" stop-color="#bfb74a"/><stop offset="0.424" stop-color="#e58133"/><stop offset="0.437" stop-color="#e03725"/><stop offset="0.444" stop-color="#db2122"/><stop offset="0.447" stop-color="#fff"/><stop offset="0.499" stop-color="#fff"/><stop offset="0.502" stop-color="#db2122"/><stop offset="0.503" stop-color="#e03725"/><stop offset="0.505" stop-color="#e58133"/><stop offset="0.509" stop-color="#bfb74a"/><stop offset="0.522" stop-color="#6bad8f"/><stop offset="0.620" stop-color="#4783c6"/><stop offset="1.000" stop-color="#4168d4"/></linearGradient>
<linearGradient id="g39"><stop offset="0.000" stop-color="#6130b1"/><stop offset="0.153" stop-color="#5438bf"/><stop offset="0.254" stop-color="#4946ca"/><stop offset="0.346" stop-color="#4783c6"/><stop offset="0.380" stop-color="#6bad8f"/><stop offset="0.400" stop-color="#bfb74a"/><stop offset="0.420" stop-color="#e58133"/><stop offset="0.433" stop-color="#e03725"/><stop offset="0.440" stop-color="#db2122"/><stop offset="0.443" stop-color="#fff"/><stop offset="0.499" stop-color="#fff"/><stop offset="0.501" stop-color="#db2122"/><stop offset="0.502" stop-color="#e03725"/><stop offset="0.505" stop-color="#e58133"/><stop offset="0.508" stop-color="#bfb74a"/><stop offset="0.521" stop-color="#6bad8f"/><stop offset="0.619" stop-color="#4783c6"/><stop offset="1.000" stop-color="#4168d4"/></linearGradient>
<linearGradient id="g40"><stop offset="0.000" stop-color="#6130b1"/><stop offset="0.149" stop-color="#5438bf"/><stop offset="0.248" stop-color="#4946ca"/><stop offset="0.341" stop-color="#4783c6"/><stop offset="0.376" stop-color="#6bad8f"/><stop offset="0.397" stop-color="#bfb74a"/><stop offset="0.417" stop-color="#e58133"/><stop offset="0.430" stop-color="#e03725"/><stop offset="0.437" stop-color="#db2122"/><stop offset="0.440" stop-color="#fff"/><stop offset="0.498" stop-color="#fff"/><stop offset="0.501" stop-color="#db2122"/><stop offset="0.502" stop-color="#e03725"/><stop offset="0.504" stop-color="#e58133"/><stop offset="0.508" stop-color="#bfb74a"/><stop offset="0.520" stop-color="#6bad8f"/><stop offset="0.616" stop-color="#4783c6"/><stop offset="1.000" stop-color="#4168d4"/></linearGradient>
<linearGradient id="g41"><stop offset="0.000" stop-color="#6130b1"/><stop offset="0.145" stop-color="#5438bf"/><stop offset="0.242" stop-color="#4946ca"/><stop offset="0.336" stop-color="#4783c6"/><stop offset="0.373" stop-color="#6bad8f"/><stop offset="0.393" stop-color="#bfb74a"/><stop offset="0.414" stop-color="#e58133"/><stop offset="0.427" stop-color="#e03725"/><stop offset="0.434" stop-color="#db2122"/><stop offset="0.437" stop-color="#fff"/><stop offset="0.498" stop-color="#fff"/><stop offset="0.500" stop-color="#db2122"/><stop offset="0.502" stop-color="#e03725"/><stop offset="0.504" stop-color="#e58133"/><stop offset="0.508" stop-color="#bfb74a"/><stop offset="0.520" stop-color="#6bad8f"/><stop offset="0.614" stop-color="#4783c6"/><stop offset="1.000" stop-color="#4168d4"/></linearGradient>
<linearGradient id="g42"><stop offset="0.000" stop-color="#6130b1"/><stop offset="0.141" stop-color="#5438bf"/><stop offset="0.235" stop-color="#4946ca"/><stop offset="0.332" stop-color="#4783c6"/><stop offset="0.369" stop-color="#6bad8f"/><stop offset="0.389" stop-color="#bfb74a"/><stop offset="0.410" stop-color="#e58133"/><stop offset="0.424" stop-color="#e03725"/><stop offset="0.431" stop-color="#db2122"/><stop offset="0.434" stop-color="#fff"/><stop offset="0.497" stop-color="#fff"/><stop offset="0.500" stop-color="#db2122"/><stop offset="0.501" stop-color="#e03725"/><stop offset="0.503" stop-color="#e58133"/><stop offset="0.507" stop-color="#bfb74a"/><stop offset="0.519" stop-color="#6bad8f"/><stop offset="0.611" stop-color="#4783c6"/><stop offset="1.000" stop-color="#4168d4"/></linearGradient>
<linearGradient id="g43"><stop offset="0.000" stop-color="#6130b1"/><stop offset="0.138" stop-color="#5438bf"/><stop offset="0.229" stop-color="#4946ca"/><stop offset="0.327" stop-color="#4783c6"/><stop offset="0.366" stop-color="#6bad8f"/><stop offset="0.386" stop-color="#bfb74a"/><stop offset="0.407" stop-color="#e58133"/><stop offset="0.421" stop-color="#e03725"/><stop offset="0.428" stop-color="#db2122"/><stop offset="0.431" stop-color="#fff"/><stop offset="0.496" stop-color="#fff"/><stop offset="0.499" stop-color="#db2122"/><stop offset="0.500" stop-color="#e03725"/><stop offset="0.503" stop-color="#e58133"/><stop offset="0.507" stop-color="#bfb74a"/><stop offset="0.518" stop-color="#6bad8f"/><stop offset="0.608" stop-color="#4783c6"/><stop offset="1.000" stop-color="#4168d4"/></linearGradient>
<linearGradient id="g44"><stop offset="0.000" stop-color="#6130b1"/><stop offset="0.134" stop-color="#5438bf"/><stop offset="0.223" stop-color="#4946ca"/><stop offset="0.323" stop-color="#4783c6"/><stop offset="0.362" stop-color="#6bad8f"/><stop offset="0.382" stop-color="#bfb74a"/><stop offset="0.404" stop-color="#e58133"/><stop offset="0.417" stop-color="#e03725"/><stop offset="0.425" stop-color="#db2122"/><stop offset="0.428" stop-color="#fff"/><stop offset="0.495" stop-color="#fff"/><stop offset="0.498" stop-color="#db2122"/><stop offset="0.499" stop-color="#e03725"/><stop offset="0.502" stop-color="#e58133"/><stop offset="0.506" stop-color="#bfb74a"/><stop offset="0.517" stop-color="#6bad8f"/><stop offset="0.606" stop-color="#4783c6"/><stop offset="1.000" stop-color="#4168d4"/></linearGradient>
<linearGradient id="g45"><stop offset="0.000" stop-color="#6130b1"/><stop offset="0.130" stop-color="#5438bf"/><stop offset="0.217" stop-color="#4946ca"/><stop offset="0.318" stop-color="#4783c6"/><stop offset="0.359" stop-color="#6bad8f"/><stop offset="0.379" stop-color="#bfb74a"/><stop offset="0.400" stop-color="#e58133"/><stop offset="0.414" stop-color="#e03725"/><stop offset="0.422" stop-color="#db2122"/><stop offset="0.425" stop-color="#fff"/><stop offset="0.494" stop-color="#fff"/><stop offset="0.497" stop-color="#db2122"/><stop offset="0.498" stop-color="#e03725"/><stop offset="0.501" stop-color="#e58133"/><stop offset="0.506" stop-color="#bfb74a"/><stop offset="0.516" stop-color="#6bad8f"/><stop offset="0.603" stop-color="#4783c6"/><stop offset="1.000" stop-color="#4168d4"/></linearGradient>
<linearGradient id="g46"><stop offset="0.000" stop-color="#6130b1"/><stop offset="0.127" stop-color="#5438bf"/><stop offset="0.211" stop-color="#4946ca"/><stop offset="0.313" stop-color="#4783c6"/><stop offset="0.355" stop-color="#6bad8f"/><stop offset="0.375" stop-color="#bfb74a"/><stop offset="0.397" stop-color="#e58133"/><stop offset="0.411" stop-color="#e03725"/><stop offset="0.419" stop-color="#db2122"/><stop offset="0.422" stop-color="#fff"/><stop offset="0.493" stop-color="#fff"/><stop offset="0.496" stop-color="#db2122"/><stop offset="0.497" stop-color="#e03725"/><stop offset="0.501" stop-color="#e58133"/><stop offset="0.506" stop-color="#bfb74a"/><stop offset="0.515" stop-color="#6bad8f"/><stop offset="0.600" stop-color="#4783c6"/><stop offset="1.000" stop-color="#4168d4"/></linearGradient>
<linearGradient id="g47"><stop offset="0.000" stop-color="#6130b1"/><stop offset="0.123" stop-color="#5438bf"/><stop offset="0.205" stop-color="#4946ca"/><stop offset="0.309" stop-color="#4783c6"/><stop offset="0.352" stop-color="#6bad8f"/><stop offset="0.372" stop-color="#bfb74a"/><stop offset="0.394" stop-color="#e58133"/><stop offset="0.408" stop-color="#e03725"/><stop offset="0.416" stop-color="#db2122"/><stop offset="0.419" stop-color="#fff"/><stop offset="0.492" stop-color="#fff"/><stop offset="0.495" stop-color="#db2122"/><stop offset="0.497" stop-color="#e03725"/><stop offset="0.500" stop-color="#e58133"/><stop offset="0.505" stop-color="#bfb74a"/><stop offset="0.514" stop-color="#6bad8f"/><stop offset="0.598" stop-color="#4783c6"/><stop offset="1.000" stop-color="#4168d4"/></linearGradient>
<linearGradient id="g48"><stop offset="0.000" stop-color="#6130b1"/><stop offset="0.119" stop-color="#5438bf"/><stop offset="0.199" stop-color="#4946ca"/><stop offset="0.304" stop-color="#4783c6"/><stop offset="0.348" stop-color="#6bad8f"/><stop offset="0.368" stop-color="#bfb74a"/><stop offset="0.391" stop-color="#e58133"/><stop offset="0.405" stop-color="#e03725"/><stop offset="0.413" stop-color="#db2122"/><stop offset="0.416" stop-color="#fff"/><stop offset="0.491" stop-color="#fff"/><stop offset="0.494" stop-color="#db2122"/><stop offset="0.496" stop-color="#e03725"/><stop offset="0.499" stop-color="#e58133"/><stop offset="0.505" stop-color="#bfb74a"/><stop offset="0.514" stop-color="#6bad8f"/><stop offset="0.595" stop-color="#4783c6"/><stop offset="1.000" stop-color="#4168d4"/></linearGradient>
<linearGradient id="g49"><stop offset="0.000" stop-color="#6130b1"/><stop offset="0.116" stop-color="#5438bf"/><stop offset="0.193" stop-color="#4946ca"/><stop offset="0.299" stop-color="#4783c6"/><stop offset="0.345" stop-color="#6bad8f"/><stop offset="0.365" stop-color="#bfb74a"/><stop offset="0.387" stop-color="#e58133"/><stop offset="0.402" stop-color="#e03725"/><stop offset="0.410" stop-color="#db2122"/><stop offset="0.413" stop-color="#fff"/><stop offset="0.490" stop-color="#fff"/><stop offset="0.493" stop-color="#db2122"/><stop offset="0.495" stop-color="#e03725"/><stop offset="0.498" stop-color="#e58133"/><stop offset="0.504" stop-color="#bfb74a"/><stop offset="0.513" stop-color="#6bad8f"/><stop offset="0.592" stop-color="#4783c6"/><stop offset="1.000" stop-color="#4168d4"/></linearGradient>
<linearGradient id="g50"><stop offset="0.000" stop-color="#6130b1"/><stop offset="0.113" stop-color="#5438bf"/><stop offset="0.189" stop-color="#4946ca"/><stop offset="0.295" stop-color="#4783c6"/><stop offset="0.341" stop-color="#6bad8f"/><stop offset="0.362" stop-color="#bfb74a"/><stop offset="0.385" stop-color="#e58133"/><stop offset="0.399" stop-color="#e03725"/><stop offset="0.408" stop-color="#db2122"/><stop offset="0.410" stop-color="#fff"/><stop offset="0.490" stop-color="#fff"/><stop offset="0.492" stop-color="#db2122"/><stop offset="0.494" stop-color="#e03725"/><stop offset="0.498" stop-color="#e58133"/><stop offset="0.504" stop-color="#bfb74a"/><stop offset="0.512" stop-color="#6bad8f"/><stop offset="0.590" stop-color="#4783c6"/><stop offset="1.000" stop-color="#4168d4"/></linearGradient>
<linearGradient id="g51"><stop offset="0.000" stop-color="#6130b1"/><stop offset="0.111" stop-color="#5438bf"/><stop offset="0.185" stop-color="#4946ca"/><stop offset="0.291" stop-color="#4783c6"/><stop offset="0.338" stop-color="#6bad8f"/><stop offset="0.360" stop-color="#bfb74a"/><stop offset="0.383" stop-color="#e58133"/><stop offset="0.397" stop-color="#e03725"/><stop offset="0.405" stop-color="#db2122"/><stop offset="0.408" stop-color="#fff"/><stop offset="0.490" stop-color="#fff"/><stop offset="0.492" stop-color="#db2122"/><stop offset="0.494" stop-color="#e03725"/><stop offset="0.498" stop-color="#e58133"/><stop offset="0.503" stop-color="#bfb74a"/><stop offset="0.511" stop-color="#6bad8f"/><stop offset="0.588" stop-color="#4783c6"/><stop offset="1.000" stop-color="#4168d4"/></linearGradient>
<linearGradient id="g52"><stop offset="0.000" stop-color="#6130b1"/><stop offset="0.108" stop-color="#5438bf"/><stop offset="0.181" stop-color="#4946ca"/><stop offset="0.287" stop-color="#4783c6"/><stop offset="0.335" stop-color="#6bad8f"/><stop offset="0.358" stop-color="#bfb74a"/><stop offset="0.381" stop-color="#e58133"/><stop offset="0.395" stop-color="#e03725"/><stop offset="0.403" stop-color="#db2122"/><stop offset="0.406" stop-color="#fff"/><stop offset="0.489" stop-color="#fff"/><stop offset="0.492" stop-color="#db2122"/><stop offset="0.494" stop-color="#e03725"/><stop offset="0.497" stop-color="#e58133"/><stop offset="0.503" stop-color="#bfb74a"/><stop offset="0.510" stop-color="#6bad8f"/><stop offset="0.586" stop-color="#4783c6"/><stop offset="1.000" stop-color="#4168d4"/></linearGradient>
<linearGradient id="g53"><stop offset="0.000" stop-color="#6130b1"/><stop offset="0.106" stop-color="#5438bf"/><stop offset="0.177" stop-color="#4946ca"/><stop offset="0.283" stop-color="#4783c6"/><stop offset="0.332" stop-color="#6bad8f"/><stop offset="0.356" stop-color="#bfb74a"/><stop offset="0.378" stop-color="#e58133"/><stop offset="0.393" stop-color="#e03725"/><stop offset="0.401" stop-color="#db2122"/><stop offset="0.404" stop-color="#fff"/><stop offset="0.489" stop-color="#fff"/><stop offset="0.492" stop-color="#db2122"/><stop offset="0.494" stop-color="#e03725"/><stop offset="0.497" stop-color="#e58133"/><stop offset="0.502" stop-color="#bfb74a"/><stop offset="0.509" stop-color="#6bad8f"/><stop offset="0.583" stop-color="#4783c6"/><stop offset="1.000" stop-color="#4168d4"/></linearGradient>
<linearGradient id="g54"><stop offset="0.000" stop-color="#6130b1"/><stop offset="0.104" stop-color="#5438bf"/><stop offset="0.173" stop-color="#4946ca"/><stop offset="0.279" stop-color="#4783c6"/><stop offset="0.329" stop-color="#6bad8f"/><stop offset="0.353" stop-color="#bfb74a"/><stop offset="0.376" stop-color="#e58133"/><stop offset="0.391" stop-color="#e03725"/><stop offset="0.399" stop-color="#db2122"/><stop offset="0.401" stop-color="#fff"/><stop offset="0.489" stop-color="#fff"/><stop offset="0.491" stop-color="#db2122"/><stop offset="0.493" stop-color="#e03725"/><stop offset="0.497" stop-color="#e58133"/><stop offset="0.502" stop-color="#bfb74a"/><stop offset="0.508" stop-color="#6bad8f"/><stop offset="0.581" stop-color="#4783c6"/><stop offset="1.000" stop-color="#4168d4"/></linearGradient>
<linearGradient id="g55"><stop offset="0.000" stop-color="#6130b1"/><stop offset="0.101" stop-color="#5438bf"/><stop offset="0.169" stop-color="#4946ca"/><stop offset="0.275" stop-color="#4783c6"/><stop offset="0.326" stop-color="#6bad8f"/><stop offset="0.351" stop-color="#bfb74a"/><stop offset="0.374" stop-color="#e58133"/><stop offset="0.388" stop-color="#e03725"/><stop offset="0.397" stop-color="#db2122"/><stop offset="0.399" stop-color="#fff"/><stop offset="0.489" stop-color="#fff"/><stop offset="0.491" stop-color="#db2122"/><stop offset="0.493" stop-color="#e03725"/><stop offset="0.496" stop-color="#e58133"/><stop offset="0.501" stop-color="#bfb74a"/><stop offset="0.508" stop-color="#6bad8f"/><stop offset="0.579" stop-color="#4783c6"/><stop offset="1.000" stop-color="#4168d4"/></linearGradient>
<linearGradient id="g56"><stop offset="0.000" stop-color="#6130b1"/><stop offset="0.099" stop-color="#5438bf"/><stop offset="0.165" stop-color="#4946ca"/><stop offset="0.271" stop-color="#4783c6"/><stop offset="0.323" stop-color="#6bad8f"/><stop offset="0.349" stop-color="#bfb74a"/><stop offset="0.372" stop-color="#e58133"/><stop offset="0.386" stop-color="#e03725"/><stop offset="0.394" stop-color="#db2122"/><stop offset="0.397" stop-color="#fff"/><stop offset="0.488" stop-color="#fff"/><stop offset="0.491" stop-color="#db2122"/><stop offset="0.493" stop-color="#e03725"/><stop offset="0.496" stop-color="#e58133"/><stop offset="0.501" stop-color="#bfb74a"/><stop offset="0.507" stop-color="#6bad8f"/><stop offset="0.577" stop-color="#4783c6"/><stop offset="1.000" stop-color="#4168d4"/></linearGradient>
<linearGradient id="g57"><stop offset="0.000" stop-color="#6130b1"/><stop offset="0.097" stop-color="#5438bf"/><stop offset="0.161" stop-color="#4946ca"/><stop offset="0.267" stop-color="#4783c6"/><stop offset="0.320" stop-color="#6bad8f"/><stop offset="0.347" stop-color="#bfb74a"/><stop offset="0.370" stop-color="#e58133"/><stop offset="0.384" stop-color="#e03725"/><stop offset="0.392" stop-color="#db2122"/><stop offset="0.395" stop-color="#fff"/><stop offset="0.488" stop-color="#fff"/><stop offset="0.491" stop-color="#db2122"/><stop offset="0.492" stop-color="#e03725"/><stop offset="0.495" stop-color="#e58133"/><stop offset="0.500" stop-color="#bfb74a"/><stop offset="0.506" stop-color="#6bad8f"/><stop offset="0.575" stop-color="#4783c6"/><stop offset="1.000" stop-color="#4168d4"/></linearGradient>
<linearGradient id="g58"><stop offset="0.000" stop-color="#6130b1"/><stop offset="0.094" stop-color="#5438bf"/><stop offset="0.157" stop-color="#4946ca"/><stop offset="0.263" stop-color="#4783c6"/><stop offset="0.317" stop-color="#6bad8f"/><stop offset="0.345" stop-color="#bfb74a"/><stop offset="0.367" stop-color="#e58133"/><stop offset="0.382" stop-color="#e03725"/><stop offset="0.390" stop-color="#db2122"/><stop offset="0.393" stop-color="#fff"/><stop offset="0.488" stop-color="#fff"/><stop offset="0.491" stop-color="#db2122"/><stop offset="0.492" stop-color="#e03725"/><stop offset="0.495" stop-color="#e58133"/><stop offset="0.500" stop-color="#bfb74a"/><stop offset="0.505" stop-color="#6bad8f"/><stop offset="0.572" stop-color="#4783c6"/><stop offset="1.000" stop-color="#4168d4"/></linearGradient>
<linearGradient id="g59"><stop offset="0.000" stop-color="#6130b1"/><stop offset="0.092" stop-color="#5438bf"/><stop offset="0.153" stop-color="#4946ca"/><stop offset="0.259" stop-color="#4783c6"/><stop offset="0.314" stop-color="#6bad8f"/><stop offset="0.342" stop-color="#bfb74a"/><stop offset="0.365" stop-color="#e58133"/><stop offset="0.380" stop-color="#e03725"/><stop offset="0.388" stop-color="#db2122"/><stop offset="0.390" stop-color="#fff"/><stop offset="0.488" stop-color="#fff"/><stop offset="0.490" stop-color="#db2122"/><stop offset="0.492" stop-color="#e03725"/><stop offset="0.495" stop-color="#e58133"/><stop offset="0.499" stop-color="#bfb74a"/><stop offset="0.504" stop-color="#6bad8f"/><stop offset="0.570" stop-color="#4783c6"/><stop offset="1.000" stop-color="#4168d4"/></linearGradient>
<linearGradient id="g60"><stop offset="0.000" stop-color="#6130b1"/><stop offset="0.090" stop-color="#5438bf"/><stop offset="0.149" stop-color="#4946ca"/><stop offset="0.255" stop-color="#4783c6"/><stop offset="0.311" stop-color="#6bad8f"/><stop offset="0.340" stop-color="#bfb74a"/><stop offset="0.363" stop-color="#e58133"/><stop offset="0.378" stop-color="#e03725"/><stop offset="0.386" stop-color="#db2122"/><stop offset="0.388" stop-color="#fff"/><stop offset="0.488" stop-color="#fff"/><stop offset="0.490" stop-color="#db2122"/><stop offset="0.492" stop-color="#e03725"/><stop offset="0.494" stop-color="#e58133"/><stop offset="0.499" stop-color="#bfb74a"/><stop offset="0.503" stop-color="#6bad8f"/><stop offset="0.568" stop-color="#4783c6"/><stop offset="1.000" stop-color="#4168d4"/></linearGradient>
<linearGradient id="g61"><stop offset="0.000" stop-color="#6130b1"/><stop offset="0.088" stop-color="#5438bf"/><stop offset="0.146" stop-color="#4946ca"/><stop offset="0.252" stop-color="#4783c6"/><stop offset="0.308" stop-color="#6bad8f"/><stop offset="0.339" stop-color="#bfb74a"/><stop offset="0.361" stop-color="#e58133"/><stop offset="0.376" stop-color="#e03725"/><stop offset="0.384" stop-color="#db2122"/><stop offset="0.387" stop-color="#fff"/><stop offset="0.487" stop-color="#fff"/><stop offset="0.490" stop-color="#db2122"/><stop offset="0.491" stop-color="#e03725"/><stop offset="0.494" stop-color="#e58133"/><stop offset="0.498" stop-color="#bfb74a"/><stop offset="0.503" stop-color="#6bad8f"/><stop offset="0.566" stop-color="#4783c6"/><stop offset="1.000" stop-color="#4168d4"/></linearGradient>
<linearGradient id="g62"><stop offset="0.000" stop-color="#6130b1"/><stop offset="0.088" stop-color="#5438bf"/><stop offset="0.146" stop-color="#4946ca"/><stop offset="0.252" stop-color="#4783c6"/><stop offset="0.308" stop-color="#6bad8f"/><stop offset="0.339" stop-color="#bfb74a"/><stop offset="0.361" stop-color="#e58133"/><stop offset="0.376" stop-color="#e03725"/><stop offset="0.384" stop-color="#db2122"/><stop offset="0.387" stop-color="#fff"/><stop offset="0.487" stop-color="#fff"/><stop offset="0.490" stop-color="#db2122"/><stop offset="0.491" stop-color="#e03725"/><stop offset="0.494" stop-color="#e58133"/><stop offset="0.498" stop-color="#bfb74a"/><stop offset="0.503" stop-color="#6bad8f"/><stop offset="0.566" stop-color="#4783c6"/><stop offset="1.000" stop-color="#4168d4"/></linearGradient>
</defs>
<g filter="url(#dblur)"><rect y="-2" width="119.0" height="2" fill="url(#g1)"/><rect y="0" width="119.0" height="2" fill="url(#g2)"/><rect y="2" width="119.0" height="2" fill="url(#g3)"/><rect y="4" width="119.0" height="2" fill="url(#g4)"/><rect y="6" width="119.0" height="2" fill="url(#g5)"/><rect y="8" width="119.0" height="2" fill="url(#g6)"/><rect y="10" width="119.0" height="2" fill="url(#g7)"/><rect y="12" width="119.0" height="2" fill="url(#g8)"/><rect y="14" width="119.0" height="2" fill="url(#g9)"/><rect y="16" width="119.0" height="2" fill="url(#g10)"/><rect y="18" width="119.0" height="2" fill="url(#g11)"/><rect y="20" width="119.0" height="2" fill="url(#g12)"/><rect y="22" width="119.0" height="2" fill="url(#g13)"/><rect y="24" width="119.0" height="2" fill="url(#g14)"/><rect y="26" width="119.0" height="2" fill="url(#g15)"/><rect y="28" width="119.0" height="2" fill="url(#g16)"/><rect y="30" width="119.0" height="2" fill="url(#g17)"/><rect y="32" width="119.0" height="2" fill="url(#g18)"/><rect y="34" width="119.0" height="2" fill="url(#g19)"/><rect y="36" width="119.0" height="2" fill="url(#g20)"/><rect y="38" width="119.0" height="2" fill="url(#g21)"/><rect y="40" width="119.0" height="2" fill="url(#g22)"/><rect y="42" width="119.0" height="2" fill="url(#g23)"/><rect y="44" width="119.0" height="2" fill="url(#g24)"/><rect y="46" width="119.0" height="2" fill="url(#g25)"/><rect y="48" width="119.0" height="2" fill="url(#g26)"/><rect y="50" width="119.0" height="2" fill="url(#g27)"/><rect y="52" width="119.0" height="2" fill="url(#g28)"/><rect y="54" width="119.0" height="2" fill="url(#g29)"/><rect y="56" width="119.0" height="2" fill="url(#g30)"/><rect y="58" width="119.0" height="2" fill="url(#g31)"/><rect y="60" width="119.0" height="2" fill="url(#g32)"/><rect y="62" width="119.0" height="2" fill="url(#g33)"/><rect y="64" width="119.0" height="2" fill="url(#g34)"/><rect y="66" width="119.0" height="2" fill="url(#g35)"/><rect y="68" width="119.0" height="2" fill="url(#g36)"/><rect y="70" width="119.0" height="2" fill="url(#g37)"/><rect y="72" width="119.0" height="2" fill="url(#g38)"/><rect y="74" width="119.0" height="2" fill="url(#g39)"/><rect y="76" width="119.0" height="2" fill="url(#g40)"/><rect y="78" width="119.0" height="2" fill="url(#g41)"/><rect y="80" width="119.0" height="2" fill="url(#g42)"/><rect y="82" width="119.0" height="2" fill="url(#g43)"/><rect y="84" width="119.0" height="2" fill="url(#g44)"/><rect y="86" width="119.0" height="2" fill="url(#g45)"/><rect y="88" width="119.0" height="2" fill="url(#g46)"/><rect y="90" width="119.0" height="2" fill="url(#g47)"/><rect y="92" width="119.0" height="2" fill="url(#g48)"/><rect y="94" width="119.0" height="2" fill="url(#g49)"/><rect y="96" width="119.0" height="2" fill="url(#g50)"/><rect y="98" width="119.0" height="2" fill="url(#g51)"/><rect y="100" width="119.0" height="2" fill="url(#g52)"/><rect y="102" width="119.0" height="2" fill="url(#g53)"/><rect y="104" width="119.0" height="2" fill="url(#g54)"/><rect y="106" width="119.0" height="2" fill="url(#g55)"/><rect y="108" width="119.0" height="2" fill="url(#g56)"/><rect y="110" width="119.0" height="2" fill="url(#g57)"/><rect y="112" width="119.0" height="2" fill="url(#g58)"/><rect y="114" width="119.0" height="2" fill="url(#g59)"/><rect y="116" width="119.0" height="2" fill="url(#g60)"/><rect y="118" width="119.0" height="2" fill="url(#g61)"/><rect y="120" width="119.0" height="2" fill="url(#g62)"/></g>
<polygon points="56.8,0 56.79,0.5 56.78,1 56.77,1.5 56.76,2 56.75,2.5 56.74,3 56.73,3.5 56.72,4 56.71,4.5 56.7,5 56.69,5.5 56.68,6 56.67,6.5 56.66,7 56.65,7.5 56.64,8 56.63,8.5 56.62,9 56.61,9.5 56.6,10 56.59,10.5 56.58,11 56.57,11.5 56.56,12 56.55,12.5 56.55,13 56.54,13.5 56.53,14 56.52,14.5 56.51,15 56.5,15.5 56.49,16 56.48,16.5 56.47,17 56.46,17.5 56.45,18 56.44,18.5 56.43,19 56.42,19.5 56.41,20 56.4,20.5 56.39,21 56.38,21.5 56.37,22 56.36,22.5 56.35,23 56.34,23.5 56.33,24 56.32,24.5 56.31,25 56.3,25.5 56.28,26 56.26,26.5 56.24,27 56.22,27.5 56.2,28 56.18,28.5 56.16,29 56.14,29.5 56.12,30 56.1,30.5 56.08,31 56.06,31.5 56.04,32 56.02,32.5 56,33 55.98,33.5 55.96,34 55.94,34.5 55.92,35 55.9,35.5 55.88,36 55.86,36.5 55.84,37 55.82,37.5 55.8,38 55.78,38.5 55.76,39 55.74,39.5 55.72,40 55.7,40.5 55.68,41 55.66,41.5 55.64,42 55.62,42.5 55.6,43 55.58,43.5 55.56,44 55.54,44.5 55.52,45 55.5,45.5 55.5,46 55.5,46.5 55.5,47 55.5,47.5 55.5,48 55.5,48.5 55.5,49 55.5,49.5 55.5,50 55.5,50.5 55.5,51 55.5,51.5 55.5,52 55.5,52.5 55.5,53 55.5,53.5 55.5,54 55.5,54.5 55.5,55 55.5,55.5 55.67,56 55.83,56.5 56,57 56.17,57.5 56.33,58 56.5,58.5 56.75,59 57,59.5 56.71,60 56.43,60.5 56.14,61 55.86,61.5 55.57,62 55.29,62.5 55,63 54.9,63.5 54.8,64 54.7,64.5 54.6,65 54.5,65.5 54.39,66 54.28,66.5 54.17,67 54.06,67.5 53.95,68 53.84,68.5 53.73,69 53.62,69.5 53.51,70 53.4,70.5 53.29,71 53.18,71.5 53.07,72 52.96,72.5 52.85,73 52.74,73.5 52.63,74 52.52,74.5 52.41,75 52.3,75.5 52.21,76 52.12,76.5 52.03,77 51.94,77.5 51.85,78 51.76,78.5 51.67,79 51.58,79.5 51.49,80 51.4,80.5 51.31,81 51.22,81.5 51.13,82 51.04,82.5 50.95,83 50.86,83.5 50.77,84 50.68,84.5 50.59,85 50.5,85.5 50.41,86 50.32,86.5 50.23,87 50.14,87.5 50.05,88 49.96,88.5 49.87,89 49.78,89.5 49.69,90 49.6,90.5 49.51,91 49.42,91.5 49.33,92 49.24,92.5 49.15,93 49.06,93.5 48.97,94 48.88,94.5 48.79,95 48.7,95.5 48.63,96 48.57,96.5 48.5,97 48.44,97.5 48.37,98 48.31,98.5 48.24,99 48.18,99.5 48.11,100 48.05,100.5 47.98,101 47.92,101.5 47.85,102 47.79,102.5 47.72,103 47.66,103.5 47.59,104 47.53,104.5 47.46,105 47.4,105.5 47.33,106 47.27,106.5 47.2,107 47.13,107.5 47.07,108 47,108.5 46.94,109 46.87,109.5 46.81,110 46.74,110.5 46.68,111 46.61,111.5 46.55,112 46.48,112.5 46.42,113 46.35,113.5 46.29,114 46.22,114.5 46.16,115 46.09,115.5 46.03,116 45.96,116.5 45.9,117 45.83,117.5 45.77,118 45.7,118.5 58.3,118.5 58.31,118 58.31,117.5 58.32,117 58.33,116.5 58.33,116 58.34,115.5 58.35,115 58.35,114.5 58.36,114 58.37,113.5 58.37,113 58.38,112.5 58.38,112 58.39,111.5 58.4,111 58.4,110.5 58.41,110 58.42,109.5 58.42,109 58.43,108.5 58.44,108 58.44,107.5 58.45,107 58.46,106.5 58.46,106 58.47,105.5 58.48,105 58.48,104.5 58.49,104 58.5,103.5 58.5,103 58.51,102.5 58.52,102 58.52,101.5 58.53,101 58.53,100.5 58.54,100 58.55,99.5 58.55,99 58.56,98.5 58.57,98 58.57,97.5 58.58,97 58.59,96.5 58.59,96 58.6,95.5 58.63,95 58.66,94.5 58.69,94 58.72,93.5 58.75,93 58.78,92.5 58.81,92 58.84,91.5 58.87,91 58.9,90.5 58.93,90 58.96,89.5 58.99,89 59.02,88.5 59.05,88 59.08,87.5 59.11,87 59.14,86.5 59.17,86 59.2,85.5 59.23,85 59.26,84.5 59.29,84 59.32,83.5 59.35,83 59.38,82.5 59.41,82 59.44,81.5 59.47,81 59.5,80.5 59.51,80 59.53,79.5 59.54,79 59.55,78.5 59.56,78 59.58,77.5 59.59,77 59.6,76.5 59.62,76 59.63,75.5 59.64,75 59.65,74.5 59.67,74 59.68,73.5 59.69,73 59.71,72.5 59.72,72 59.73,71.5 59.74,71 59.76,70.5 59.77,70 59.78,69.5 59.79,69 59.81,68.5 59.82,68 59.83,67.5 59.85,67 59.86,66.5 59.87,66 59.88,65.5 59.9,65 59.91,64.5 59.92,64 59.94,63.5 59.95,63 59.96,62.5 59.97,62 59.99,61.5 60,61 60.13,60.5 60.27,60 60.4,59.5 60.46,59 60.52,58.5 60.59,58 60.65,57.5 60.71,57 60.77,56.5 60.84,56 60.9,55.5 60.96,55 61.02,54.5 61.08,54 61.14,53.5 61.2,53 61.26,52.5 61.32,52 61.38,51.5 61.44,51 61.5,50.5 61.56,50 61.62,49.5 61.68,49 61.74,48.5 61.8,48 61.86,47.5 61.92,47 61.98,46.5 62.04,46 62.1,45.5 62.16,45 62.22,44.5 62.28,44 62.34,43.5 62.4,43 62.46,42.5 62.52,42 62.58,41.5 62.64,41 62.7,40.5 62.76,40 62.82,39.5 62.88,39 62.94,38.5 63,38 63.06,37.5 63.12,37 63.18,36.5 63.24,36 63.3,35.5 63.36,35 63.42,34.5 63.48,34 63.54,33.5 63.6,33 63.66,32.5 63.72,32 63.78,31.5 63.84,31 63.9,30.5 63.97,30 64.03,29.5 64.1,29 64.16,28.5 64.23,28 64.29,27.5 64.36,27 64.42,26.5 64.49,26 64.56,25.5 64.62,25 64.69,24.5 64.75,24 64.82,23.5 64.88,23 64.95,22.5 65.01,22 65.08,21.5 65.15,21 65.21,20.5 65.28,20 65.34,19.5 65.41,19 65.47,18.5 65.54,18 65.6,17.5 65.67,17 65.74,16.5 65.8,16 65.87,15.5 65.93,15 66,14.5 66.06,14 66.13,13.5 66.2,13 66.26,12.5 66.33,12 66.39,11.5 66.46,11 66.52,10.5 66.59,10 66.65,9.5 66.72,9 66.79,8.5 66.85,8 66.92,7.5 66.98,7 67.05,6.5 67.11,6 67.18,5.5 67.24,5 67.31,4.5 67.38,4 67.44,3.5 67.51,3 67.57,2.5 67.64,2 67.7,1.5 67.77,1 67.83,0.5 67.9,0" fill="#fff"/>
<polyline points="56.8,0 56.79,0.5 56.78,1 56.77,1.5 56.76,2 56.75,2.5 56.74,3 56.73,3.5 56.72,4 56.71,4.5 56.7,5 56.69,5.5 56.68,6 56.67,6.5 56.66,7 56.65,7.5 56.64,8 56.63,8.5 56.62,9 56.61,9.5 56.6,10 56.59,10.5 56.58,11 56.57,11.5 56.56,12 56.55,12.5 56.55,13 56.54,13.5 56.53,14 56.52,14.5 56.51,15 56.5,15.5 56.49,16 56.48,16.5 56.47,17 56.46,17.5 56.45,18 56.44,18.5 56.43,19 56.42,19.5 56.41,20 56.4,20.5 56.39,21 56.38,21.5 56.37,22 56.36,22.5 56.35,23 56.34,23.5 56.33,24 56.32,24.5 56.31,25 56.3,25.5 56.28,26 56.26,26.5 56.24,27 56.22,27.5 56.2,28 56.18,28.5 56.16,29 56.14,29.5 56.12,30 56.1,30.5 56.08,31 56.06,31.5 56.04,32 56.02,32.5 56,33 55.98,33.5 55.96,34 55.94,34.5 55.92,35 55.9,35.5 55.88,36 55.86,36.5 55.84,37 55.82,37.5 55.8,38 55.78,38.5 55.76,39 55.74,39.5 55.72,40 55.7,40.5 55.68,41 55.66,41.5 55.64,42 55.62,42.5 55.6,43 55.58,43.5 55.56,44 55.54,44.5 55.52,45 55.5,45.5 55.5,46 55.5,46.5 55.5,47 55.5,47.5 55.5,48 55.5,48.5 55.5,49 55.5,49.5 55.5,50 55.5,50.5 55.5,51 55.5,51.5 55.5,52 55.5,52.5 55.5,53 55.5,53.5 55.5,54 55.5,54.5 55.5,55 55.5,55.5 55.67,56 55.83,56.5 56,57 56.17,57.5 56.33,58 56.5,58.5 56.75,59 57,59.5 56.71,60 56.43,60.5 56.14,61 55.86,61.5 55.57,62 55.29,62.5 55,63 54.9,63.5 54.8,64 54.7,64.5 54.6,65 54.5,65.5 54.39,66 54.28,66.5 54.17,67 54.06,67.5 53.95,68 53.84,68.5 53.73,69 53.62,69.5 53.51,70 53.4,70.5 53.29,71 53.18,71.5 53.07,72 52.96,72.5 52.85,73 52.74,73.5 52.63,74 52.52,74.5 52.41,75 52.3,75.5 52.21,76 52.12,76.5 52.03,77 51.94,77.5 51.85,78 51.76,78.5 51.67,79 51.58,79.5 51.49,80 51.4,80.5 51.31,81 51.22,81.5 51.13,82 51.04,82.5 50.95,83 50.86,83.5 50.77,84 50.68,84.5 50.59,85 50.5,85.5 50.41,86 50.32,86.5 50.23,87 50.14,87.5 50.05,88 49.96,88.5 49.87,89 49.78,89.5 49.69,90 49.6,90.5 49.51,91 49.42,91.5 49.33,92 49.24,92.5 49.15,93 49.06,93.5 48.97,94 48.88,94.5 48.79,95 48.7,95.5 48.63,96 48.57,96.5 48.5,97 48.44,97.5 48.37,98 48.31,98.5 48.24,99 48.18,99.5 48.11,100 48.05,100.5 47.98,101 47.92,101.5 47.85,102 47.79,102.5 47.72,103 47.66,103.5 47.59,104 47.53,104.5 47.46,105 47.4,105.5 47.33,106 47.27,106.5 47.2,107 47.13,107.5 47.07,108 47,108.5 46.94,109 46.87,109.5 46.81,110 46.74,110.5 46.68,111 46.61,111.5 46.55,112 46.48,112.5 46.42,113 46.35,113.5 46.29,114 46.22,114.5 46.16,115 46.09,115.5 46.03,116 45.96,116.5 45.9,117 45.83,117.5 45.77,118 45.7,118.5" fill="none" stroke="#dc3a28" stroke-width="0.9" stroke-dasharray="1.2 0.8"/>
<polyline points="67.9,0 67.83,0.5 67.77,1 67.7,1.5 67.64,2 67.57,2.5 67.51,3 67.44,3.5 67.38,4 67.31,4.5 67.24,5 67.18,5.5 67.11,6 67.05,6.5 66.98,7 66.92,7.5 66.85,8 66.79,8.5 66.72,9 66.65,9.5 66.59,10 66.52,10.5 66.46,11 66.39,11.5 66.33,12 66.26,12.5 66.2,13 66.13,13.5 66.06,14 66,14.5 65.93,15 65.87,15.5 65.8,16 65.74,16.5 65.67,17 65.6,17.5 65.54,18 65.47,18.5 65.41,19 65.34,19.5 65.28,20 65.21,20.5 65.15,21 65.08,21.5 65.01,22 64.95,22.5 64.88,23 64.82,23.5 64.75,24 64.69,24.5 64.62,25 64.56,25.5 64.49,26 64.42,26.5 64.36,27 64.29,27.5 64.23,28 64.16,28.5 64.1,29 64.03,29.5 63.97,30 63.9,30.5 63.84,31 63.78,31.5 63.72,32 63.66,32.5 63.6,33 63.54,33.5 63.48,34 63.42,34.5 63.36,35 63.3,35.5 63.24,36 63.18,36.5 63.12,37 63.06,37.5 63,38 62.94,38.5 62.88,39 62.82,39.5 62.76,40 62.7,40.5 62.64,41 62.58,41.5 62.52,42 62.46,42.5 62.4,43 62.34,43.5 62.28,44 62.22,44.5 62.16,45 62.1,45.5 62.04,46 61.98,46.5 61.92,47 61.86,47.5 61.8,48 61.74,48.5 61.68,49 61.62,49.5 61.56,50 61.5,50.5 61.44,51 61.38,51.5 61.32,52 61.26,52.5 61.2,53 61.14,53.5 61.08,54 61.02,54.5 60.96,55 60.9,55.5 60.84,56 60.77,56.5 60.71,57 60.65,57.5 60.59,58 60.52,58.5 60.46,59 60.4,59.5 60.27,60 60.13,60.5 60,61 59.99,61.5 59.97,62 59.96,62.5 59.95,63 59.94,63.5 59.92,64 59.91,64.5 59.9,65 59.88,65.5 59.87,66 59.86,66.5 59.85,67 59.83,67.5 59.82,68 59.81,68.5 59.79,69 59.78,69.5 59.77,70 59.76,70.5 59.74,71 59.73,71.5 59.72,72 59.71,72.5 59.69,73 59.68,73.5 59.67,74 59.65,74.5 59.64,75 59.63,75.5 59.62,76 59.6,76.5 59.59,77 59.58,77.5 59.56,78 59.55,78.5 59.54,79 59.53,79.5 59.51,80 59.5,80.5 59.47,81 59.44,81.5 59.41,82 59.38,82.5 59.35,83 59.32,83.5 59.29,84 59.26,84.5 59.23,85 59.2,85.5 59.17,86 59.14,86.5 59.11,87 59.08,87.5 59.05,88 59.02,88.5 58.99,89 58.96,89.5 58.93,90 58.9,90.5 58.87,91 58.84,91.5 58.81,92 58.78,92.5 58.75,93 58.72,93.5 58.69,94 58.66,94.5 58.63,95 58.6,95.5 58.59,96 58.59,96.5 58.58,97 58.57,97.5 58.57,98 58.56,98.5 58.55,99 58.55,99.5 58.54,100 58.53,100.5 58.53,101 58.52,101.5 58.52,102 58.51,102.5 58.5,103 58.5,103.5 58.49,104 58.48,104.5 58.48,105 58.47,105.5 58.46,106 58.46,106.5 58.45,107 58.44,107.5 58.44,108 58.43,108.5 58.42,109 58.42,109.5 58.41,110 58.4,110.5 58.4,111 58.39,111.5 58.38,112 58.38,112.5 58.37,113 58.37,113.5 58.36,114 58.35,114.5 58.35,115 58.34,115.5 58.33,116 58.33,116.5 58.32,117 58.31,117.5 58.31,118 58.3,118.5" fill="none" stroke="#dc3a28" stroke-width="0.9" stroke-dasharray="1.2 0.8"/>
</g>
<rect x="175" y="218.6" width="124.19999999999999" height="123.70000000000002" fill="none" stroke="#b4b4b4" stroke-width="0.8"/>
<path d="M177,342.3v-2.2M177,218.6v2.2M206.88,342.3v-2.2M206.88,218.6v2.2M236.75,342.3v-2.2M236.75,218.6v2.2M266.62,342.3v-2.2M266.62,218.6v2.2M296.5,342.3v-2.2M296.5,218.6v2.2M175,221h2.2M299.2,221h-2.2M175,250.62h2.2M299.2,250.62h-2.2M175,280.25h2.2M299.2,280.25h-2.2M175,309.88h2.2M299.2,309.88h-2.2M175,339.5h2.2M299.2,339.5h-2.2M177,342.3v-1.2M177,218.6v1.2M182.97,342.3v-1.2M182.97,218.6v1.2M188.95,342.3v-1.2M188.95,218.6v1.2M194.93,342.3v-1.2M194.93,218.6v1.2M200.9,342.3v-1.2M200.9,218.6v1.2M206.88,342.3v-1.2M206.88,218.6v1.2M212.85,342.3v-1.2M212.85,218.6v1.2M218.82,342.3v-1.2M218.82,218.6v1.2M224.8,342.3v-1.2M224.8,218.6v1.2M230.77,342.3v-1.2M230.77,218.6v1.2M236.75,342.3v-1.2M236.75,218.6v1.2M242.72,342.3v-1.2M242.72,218.6v1.2M248.7,342.3v-1.2M248.7,218.6v1.2M254.67,342.3v-1.2M254.67,218.6v1.2M260.65,342.3v-1.2M260.65,218.6v1.2M266.62,342.3v-1.2M266.62,218.6v1.2M272.6,342.3v-1.2M272.6,218.6v1.2M278.57,342.3v-1.2M278.57,218.6v1.2M284.55,342.3v-1.2M284.55,218.6v1.2M290.52,342.3v-1.2M290.52,218.6v1.2M296.5,342.3v-1.2M296.5,218.6v1.2M175,339.5h1.2M299.2,339.5h-1.2M175,333.57h1.2M299.2,333.57h-1.2M175,327.65h1.2M299.2,327.65h-1.2M175,321.73h1.2M299.2,321.73h-1.2M175,315.8h1.2M299.2,315.8h-1.2M175,309.88h1.2M299.2,309.88h-1.2M175,303.95h1.2M299.2,303.95h-1.2M175,298.03h1.2M299.2,298.03h-1.2M175,292.1h1.2M299.2,292.1h-1.2M175,286.18h1.2M299.2,286.18h-1.2M175,280.25h1.2M299.2,280.25h-1.2M175,274.33h1.2M299.2,274.33h-1.2M175,268.4h1.2M299.2,268.4h-1.2M175,262.48h1.2M299.2,262.48h-1.2M175,256.55h1.2M299.2,256.55h-1.2M175,250.63h1.2M299.2,250.63h-1.2M175,244.7h1.2M299.2,244.7h-1.2M175,238.78h1.2M299.2,238.78h-1.2M175,232.85h1.2M299.2,232.85h-1.2M175,226.93h1.2M299.2,226.93h-1.2M175,221h1.2M299.2,221h-1.2" stroke="#8c8c8c" stroke-width="0.7" fill="none"/>
<text transform="translate(177,354.2) scale(0.87,1)" text-anchor="middle" style="font-family:'Liberation Sans',sans-serif;font-weight:bold;font-size:11.37px" fill="#000" >−2</text>
<text transform="translate(206.88,354.2) scale(0.87,1)" text-anchor="middle" style="font-family:'Liberation Sans',sans-serif;font-weight:bold;font-size:11.37px" fill="#000" >−1</text>
<text transform="translate(236.75,354.2) scale(0.87,1)" text-anchor="middle" style="font-family:'Liberation Sans',sans-serif;font-weight:bold;font-size:11.37px" fill="#000" >0</text>
<text transform="translate(266.62,354.2) scale(0.87,1)" text-anchor="middle" style="font-family:'Liberation Sans',sans-serif;font-weight:bold;font-size:11.37px" fill="#000" >1</text>
<text transform="translate(296.5,354.2) scale(0.87,1)" text-anchor="middle" style="font-family:'Liberation Sans',sans-serif;font-weight:bold;font-size:11.37px" fill="#000" >2</text>
<text transform="translate(173,225.8) scale(0.87,1)" text-anchor="end" style="font-family:'Liberation Sans',sans-serif;font-weight:bold;font-size:11.37px" fill="#000" >2</text>
<text transform="translate(173,255.43) scale(0.87,1)" text-anchor="end" style="font-family:'Liberation Sans',sans-serif;font-weight:bold;font-size:11.37px" fill="#000" >1</text>
<text transform="translate(173,285.05) scale(0.87,1)" text-anchor="end" style="font-family:'Liberation Sans',sans-serif;font-weight:bold;font-size:11.37px" fill="#000" >0</text>
<text transform="translate(173,314.68) scale(0.87,1)" text-anchor="end" style="font-family:'Liberation Sans',sans-serif;font-weight:bold;font-size:11.37px" fill="#000" >−1</text>
<text transform="translate(173,344.3) scale(0.87,1)" text-anchor="end" style="font-family:'Liberation Sans',sans-serif;font-weight:bold;font-size:11.37px" fill="#000" >−2</text>
<text x="236.9" y="372.9" text-anchor="middle" style="font-family:'Liberation Sans',sans-serif;font-weight:bold;font-size:15.8px" fill="#000" >x</text>
<text transform="translate(154.5,280.5) rotate(-90)" text-anchor="middle" style="font-family:'Liberation Sans',sans-serif;font-weight:bold;font-size:15.5px">t</text>
<defs><linearGradient id="cbd" x1="0" x2="0" y1="0" y2="1"><stop offset="0.000" stop-color="#db2122"/><stop offset="0.130" stop-color="#e85c2a"/><stop offset="0.240" stop-color="#e49137"/><stop offset="0.350" stop-color="#c8b644"/><stop offset="0.450" stop-color="#8cbc6e"/><stop offset="0.540" stop-color="#64aa96"/><stop offset="0.640" stop-color="#4b91be"/><stop offset="0.760" stop-color="#4169d4"/><stop offset="0.860" stop-color="#4b3ec8"/><stop offset="0.940" stop-color="#6c28a5"/><stop offset="1.000" stop-color="#781c86"/></linearGradient></defs>
<rect x="306.3" y="248.3" width="5.5" height="88.9" fill="url(#cbd)"/>
<text transform="translate(316.3,256.56) scale(0.87,1)" text-anchor="start" style="font-family:'Liberation Sans',sans-serif;font-weight:bold;font-size:11.37px" fill="#000" >6</text>
<text transform="translate(316.3,270.6) scale(0.87,1)" text-anchor="start" style="font-family:'Liberation Sans',sans-serif;font-weight:bold;font-size:11.37px" fill="#000" >5</text>
<text transform="translate(316.3,284.64) scale(0.87,1)" text-anchor="start" style="font-family:'Liberation Sans',sans-serif;font-weight:bold;font-size:11.37px" fill="#000" >4</text>
<text transform="translate(316.3,298.68) scale(0.87,1)" text-anchor="start" style="font-family:'Liberation Sans',sans-serif;font-weight:bold;font-size:11.37px" fill="#000" >3</text>
<text transform="translate(316.3,312.72) scale(0.87,1)" text-anchor="start" style="font-family:'Liberation Sans',sans-serif;font-weight:bold;font-size:11.37px" fill="#000" >2</text>
<text transform="translate(316.3,326.76) scale(0.87,1)" text-anchor="start" style="font-family:'Liberation Sans',sans-serif;font-weight:bold;font-size:11.37px" fill="#000" >1</text>
<path d="M312.9,45V125.5M344.4,45V125.5M375.9,45V125.5M278.3,101.5H409.5M278.3,81.5H409.5M278.3,61.5H409.5" stroke="#bdbdbd" stroke-width="0.6" stroke-dasharray="1 1.3" fill="none"/>
<path d="M409.5,45V125.5M278.3,45H409.5" stroke="#e2e2e2" stroke-width="0.7" fill="none"/>
<path d="M278.3,44.5V125.5H409.8" stroke="#9a9a9a" stroke-width="0.9" fill="none"/>
<path d="M281.4,125.5v-2.2M281.4,45v2.2M297.15,125.5v-1.2M297.15,45v1.2M312.9,125.5v-2.2M312.9,45v2.2M328.65,125.5v-1.2M328.65,45v1.2M344.4,125.5v-2.2M344.4,45v2.2M360.15,125.5v-1.2M360.15,45v1.2M375.9,125.5v-2.2M375.9,45v2.2M391.65,125.5v-1.2M391.65,45v1.2M407.4,125.5v-2.2M407.4,45v2.2M278.3,121.5h2.2M409.5,121.5h-2.2M278.3,116.5h1.2M409.5,116.5h-1.2M278.3,111.5h1.2M409.5,111.5h-1.2M278.3,106.5h1.2M409.5,106.5h-1.2M278.3,101.5h2.2M409.5,101.5h-2.2M278.3,96.5h1.2M409.5,96.5h-1.2M278.3,91.5h1.2M409.5,91.5h-1.2M278.3,86.5h1.2M409.5,86.5h-1.2M278.3,81.5h2.2M409.5,81.5h-2.2M278.3,76.5h1.2M409.5,76.5h-1.2M278.3,71.5h1.2M409.5,71.5h-1.2M278.3,66.5h1.2M409.5,66.5h-1.2M278.3,61.5h2.2M409.5,61.5h-2.2M278.3,56.5h1.2M409.5,56.5h-1.2M278.3,51.5h1.2M409.5,51.5h-1.2M278.3,46.5h1.2M409.5,46.5h-1.2" stroke="#8c8c8c" stroke-width="0.6" fill="none"/>
<line x1="281.4" y1="118.3" x2="283.55" y2="118.55" stroke="#70249c" stroke-width="0.95" stroke-linecap="round"/>
<line x1="283.55" y1="118.55" x2="285.7" y2="118.8" stroke="#70249a" stroke-width="0.95" stroke-linecap="round"/>
<line x1="285.7" y1="118.8" x2="287.85" y2="119.05" stroke="#712398" stroke-width="0.95" stroke-linecap="round"/>
<line x1="287.85" y1="119.05" x2="290" y2="119.3" stroke="#722296" stroke-width="0.95" stroke-linecap="round"/>
<line x1="290" y1="119.3" x2="292" y2="119.48" stroke="#722295" stroke-width="0.95" stroke-linecap="round"/>
<line x1="292" y1="119.48" x2="294" y2="119.66" stroke="#732194" stroke-width="0.95" stroke-linecap="round"/>
<line x1="294" y1="119.66" x2="296" y2="119.84" stroke="#732192" stroke-width="0.95" stroke-linecap="round"/>
<line x1="296" y1="119.84" x2="298" y2="120.02" stroke="#742091" stroke-width="0.95" stroke-linecap="round"/>
<line x1="298" y1="120.02" x2="300" y2="120.2" stroke="#742090" stroke-width="0.95" stroke-linecap="round"/>
<line x1="300" y1="120.2" x2="302.5" y2="120.25" stroke="#751f8f" stroke-width="0.95" stroke-linecap="round"/>
<line x1="302.5" y1="120.25" x2="305" y2="120.3" stroke="#751f8f" stroke-width="0.95" stroke-linecap="round"/>
<line x1="305" y1="120.3" x2="307.57" y2="119.93" stroke="#742090" stroke-width="0.95" stroke-linecap="round"/>
<line x1="307.57" y1="119.93" x2="310.13" y2="119.57" stroke="#732192" stroke-width="0.95" stroke-linecap="round"/>
<line x1="310.13" y1="119.57" x2="312.7" y2="119.2" stroke="#722295" stroke-width="0.95" stroke-linecap="round"/>
<line x1="312.7" y1="119.2" x2="315.13" y2="118.4" stroke="#712399" stroke-width="0.95" stroke-linecap="round"/>
<line x1="315.13" y1="118.4" x2="317.57" y2="117.6" stroke="#6e269f" stroke-width="0.95" stroke-linecap="round"/>
<line x1="317.57" y1="117.6" x2="320" y2="116.8" stroke="#6c28a4" stroke-width="0.95" stroke-linecap="round"/>
<line x1="320" y1="116.8" x2="322.5" y2="115.5" stroke="#672cab" stroke-width="0.95" stroke-linecap="round"/>
<line x1="322.5" y1="115.5" x2="325" y2="114.2" stroke="#5f31b3" stroke-width="0.95" stroke-linecap="round"/>
<line x1="325" y1="114.2" x2="327.15" y2="112.5" stroke="#5736bc" stroke-width="0.95" stroke-linecap="round"/>
<line x1="327.15" y1="112.5" x2="329.3" y2="110.8" stroke="#4d3dc6" stroke-width="0.95" stroke-linecap="round"/>
<line x1="329.3" y1="110.8" x2="330.9" y2="108.65" stroke="#4947cb" stroke-width="0.95" stroke-linecap="round"/>
<line x1="330.9" y1="108.65" x2="332.5" y2="106.5" stroke="#4654ce" stroke-width="0.95" stroke-linecap="round"/>
<line x1="332.5" y1="106.5" x2="333.33" y2="104.6" stroke="#4360d1" stroke-width="0.95" stroke-linecap="round"/>
<line x1="333.33" y1="104.6" x2="334.17" y2="102.7" stroke="#416bd3" stroke-width="0.95" stroke-linecap="round"/>
<line x1="334.17" y1="102.7" x2="335" y2="100.8" stroke="#4473ce" stroke-width="0.95" stroke-linecap="round"/>
<line x1="335" y1="100.8" x2="335.5" y2="98.85" stroke="#467cca" stroke-width="0.95" stroke-linecap="round"/>
<line x1="335.5" y1="98.85" x2="336" y2="96.9" stroke="#4885c5" stroke-width="0.95" stroke-linecap="round"/>
<line x1="336" y1="96.9" x2="336.5" y2="94.95" stroke="#4a8ec0" stroke-width="0.95" stroke-linecap="round"/>
<line x1="336.5" y1="94.95" x2="337" y2="93" stroke="#4f95b7" stroke-width="0.95" stroke-linecap="round"/>
<line x1="337" y1="93" x2="337.32" y2="91" stroke="#569cac" stroke-width="0.95" stroke-linecap="round"/>
<line x1="337.32" y1="91" x2="337.64" y2="89" stroke="#5da3a1" stroke-width="0.95" stroke-linecap="round"/>
<line x1="337.64" y1="89" x2="337.96" y2="87" stroke="#64aa96" stroke-width="0.95" stroke-linecap="round"/>
<line x1="337.96" y1="87" x2="338.28" y2="85" stroke="#70af8a" stroke-width="0.95" stroke-linecap="round"/>
<line x1="338.28" y1="85" x2="338.6" y2="83" stroke="#7cb57e" stroke-width="0.95" stroke-linecap="round"/>
<line x1="338.6" y1="83" x2="338.82" y2="80.8" stroke="#89ba71" stroke-width="0.95" stroke-linecap="round"/>
<line x1="338.82" y1="80.8" x2="339.04" y2="78.6" stroke="#9abb65" stroke-width="0.95" stroke-linecap="round"/>
<line x1="339.04" y1="78.6" x2="339.26" y2="76.4" stroke="#acb958" stroke-width="0.95" stroke-linecap="round"/>
<line x1="339.26" y1="76.4" x2="339.48" y2="74.2" stroke="#beb74b" stroke-width="0.95" stroke-linecap="round"/>
<line x1="339.48" y1="74.2" x2="339.7" y2="72" stroke="#cbb242" stroke-width="0.95" stroke-linecap="round"/>
<line x1="339.7" y1="72" x2="339.86" y2="69.88" stroke="#d3a83f" stroke-width="0.95" stroke-linecap="round"/>
<line x1="339.86" y1="69.88" x2="340.02" y2="67.76" stroke="#da9e3c" stroke-width="0.95" stroke-linecap="round"/>
<line x1="340.02" y1="67.76" x2="340.18" y2="65.64" stroke="#e29438" stroke-width="0.95" stroke-linecap="round"/>
<line x1="340.18" y1="65.64" x2="340.34" y2="63.52" stroke="#e58735" stroke-width="0.95" stroke-linecap="round"/>
<line x1="340.34" y1="63.52" x2="340.5" y2="61.4" stroke="#e67a31" stroke-width="0.95" stroke-linecap="round"/>
<line x1="340.5" y1="61.4" x2="340.63" y2="59.27" stroke="#e76b2e" stroke-width="0.95" stroke-linecap="round"/>
<line x1="340.63" y1="59.27" x2="340.77" y2="57.13" stroke="#e85d2a" stroke-width="0.95" stroke-linecap="round"/>
<line x1="340.77" y1="57.13" x2="340.9" y2="55" stroke="#e55028" stroke-width="0.95" stroke-linecap="round"/>
<line x1="340.9" y1="55" x2="341.03" y2="52.87" stroke="#e24327" stroke-width="0.95" stroke-linecap="round"/>
<line x1="341.03" y1="52.87" x2="341.17" y2="50.73" stroke="#e03625" stroke-width="0.95" stroke-linecap="round"/>
<line x1="341.17" y1="50.73" x2="341.3" y2="48.6" stroke="#dd2823" stroke-width="0.95" stroke-linecap="round"/>
<line x1="349.1" y1="48.6" x2="349.28" y2="50.95" stroke="#dd2923" stroke-width="0.95" stroke-linecap="round"/>
<line x1="349.28" y1="50.95" x2="349.45" y2="53.3" stroke="#e03825" stroke-width="0.95" stroke-linecap="round"/>
<line x1="349.45" y1="53.3" x2="349.62" y2="55.65" stroke="#e34627" stroke-width="0.95" stroke-linecap="round"/>
<line x1="349.62" y1="55.65" x2="349.8" y2="58" stroke="#e65529" stroke-width="0.95" stroke-linecap="round"/>
<line x1="349.8" y1="58" x2="350" y2="60" stroke="#e7632c" stroke-width="0.95" stroke-linecap="round"/>
<line x1="350" y1="60" x2="350.2" y2="62" stroke="#e7702f" stroke-width="0.95" stroke-linecap="round"/>
<line x1="350.2" y1="62" x2="350.4" y2="64" stroke="#e67d32" stroke-width="0.95" stroke-linecap="round"/>
<line x1="350.4" y1="64" x2="350.6" y2="66" stroke="#e58a35" stroke-width="0.95" stroke-linecap="round"/>
<line x1="350.6" y1="66" x2="351" y2="68.25" stroke="#e09639" stroke-width="0.95" stroke-linecap="round"/>
<line x1="351" y1="68.25" x2="351.4" y2="70.5" stroke="#d8a03c" stroke-width="0.95" stroke-linecap="round"/>
<line x1="351.4" y1="70.5" x2="351.8" y2="72.75" stroke="#d0ab40" stroke-width="0.95" stroke-linecap="round"/>
<line x1="351.8" y1="72.75" x2="352.2" y2="75" stroke="#c9b544" stroke-width="0.95" stroke-linecap="round"/>
<line x1="352.2" y1="75" x2="352.8" y2="77.17" stroke="#b7b850" stroke-width="0.95" stroke-linecap="round"/>
<line x1="352.8" y1="77.17" x2="353.4" y2="79.33" stroke="#a5b95c" stroke-width="0.95" stroke-linecap="round"/>
<line x1="353.4" y1="79.33" x2="354" y2="81.5" stroke="#94bb69" stroke-width="0.95" stroke-linecap="round"/>
<line x1="354" y1="81.5" x2="355" y2="85" stroke="#80b77a" stroke-width="0.95" stroke-linecap="round"/>
<line x1="355" y1="85" x2="356.17" y2="86.67" stroke="#71b089" stroke-width="0.95" stroke-linecap="round"/>
<line x1="356.17" y1="86.67" x2="357.33" y2="88.33" stroke="#67ab93" stroke-width="0.95" stroke-linecap="round"/>
<line x1="357.33" y1="88.33" x2="358.5" y2="90" stroke="#60a69d" stroke-width="0.95" stroke-linecap="round"/>
<line x1="358.5" y1="90" x2="360" y2="91.67" stroke="#5aa0a6" stroke-width="0.95" stroke-linecap="round"/>
<line x1="360" y1="91.67" x2="361.5" y2="93.33" stroke="#549aaf" stroke-width="0.95" stroke-linecap="round"/>
<line x1="361.5" y1="93.33" x2="363" y2="95" stroke="#4f95b8" stroke-width="0.95" stroke-linecap="round"/>
<line x1="363" y1="95" x2="364.67" y2="96.23" stroke="#4b8fbf" stroke-width="0.95" stroke-linecap="round"/>
<line x1="364.67" y1="96.23" x2="366.33" y2="97.47" stroke="#498ac2" stroke-width="0.95" stroke-linecap="round"/>
<line x1="366.33" y1="97.47" x2="368" y2="98.7" stroke="#4884c5" stroke-width="0.95" stroke-linecap="round"/>
<line x1="368" y1="98.7" x2="370.5" y2="100.1" stroke="#467ec8" stroke-width="0.95" stroke-linecap="round"/>
<line x1="370.5" y1="100.1" x2="373" y2="101.5" stroke="#4578cc" stroke-width="0.95" stroke-linecap="round"/>
<line x1="373" y1="101.5" x2="375.5" y2="102.3" stroke="#4372cf" stroke-width="0.95" stroke-linecap="round"/>
<line x1="375.5" y1="102.3" x2="377.88" y2="102.62" stroke="#4370d0" stroke-width="0.95" stroke-linecap="round"/>
<line x1="377.88" y1="102.62" x2="380.25" y2="102.95" stroke="#426ed1" stroke-width="0.95" stroke-linecap="round"/>
<line x1="380.25" y1="102.95" x2="382.62" y2="103.27" stroke="#426dd2" stroke-width="0.95" stroke-linecap="round"/>
<line x1="382.62" y1="103.27" x2="385" y2="103.6" stroke="#426bd3" stroke-width="0.95" stroke-linecap="round"/>
<line x1="385" y1="103.6" x2="387" y2="103.86" stroke="#416ad3" stroke-width="0.95" stroke-linecap="round"/>
<line x1="387" y1="103.86" x2="389" y2="104.12" stroke="#4169d4" stroke-width="0.95" stroke-linecap="round"/>
<line x1="389" y1="104.12" x2="391" y2="104.38" stroke="#4167d4" stroke-width="0.95" stroke-linecap="round"/>
<line x1="391" y1="104.38" x2="393" y2="104.64" stroke="#4266d3" stroke-width="0.95" stroke-linecap="round"/>
<line x1="393" y1="104.64" x2="395" y2="104.9" stroke="#4264d3" stroke-width="0.95" stroke-linecap="round"/>
<line x1="395" y1="104.9" x2="397.07" y2="105.1" stroke="#4263d2" stroke-width="0.95" stroke-linecap="round"/>
<line x1="397.07" y1="105.1" x2="399.13" y2="105.3" stroke="#4362d2" stroke-width="0.95" stroke-linecap="round"/>
<line x1="399.13" y1="105.3" x2="401.2" y2="105.5" stroke="#4361d2" stroke-width="0.95" stroke-linecap="round"/>
<line x1="401.2" y1="105.5" x2="403.27" y2="105.7" stroke="#435fd1" stroke-width="0.95" stroke-linecap="round"/>
<line x1="403.27" y1="105.7" x2="405.33" y2="105.9" stroke="#435ed1" stroke-width="0.95" stroke-linecap="round"/>
<line x1="405.33" y1="105.9" x2="407.4" y2="106.1" stroke="#445dd1" stroke-width="0.95" stroke-linecap="round"/>
<text transform="translate(281.4,137.6) scale(0.87,1)" text-anchor="middle" style="font-family:'Liberation Sans',sans-serif;font-weight:bold;font-size:11.37px" fill="#000" >−2</text>
<text transform="translate(312.9,137.6) scale(0.87,1)" text-anchor="middle" style="font-family:'Liberation Sans',sans-serif;font-weight:bold;font-size:11.37px" fill="#000" >−1</text>
<text transform="translate(344.4,137.6) scale(0.87,1)" text-anchor="middle" style="font-family:'Liberation Sans',sans-serif;font-weight:bold;font-size:11.37px" fill="#000" >0</text>
<text transform="translate(375.9,137.6) scale(0.87,1)" text-anchor="middle" style="font-family:'Liberation Sans',sans-serif;font-weight:bold;font-size:11.37px" fill="#000" >1</text>
<text transform="translate(407.4,137.6) scale(0.87,1)" text-anchor="middle" style="font-family:'Liberation Sans',sans-serif;font-weight:bold;font-size:11.37px" fill="#000" >2</text>
<text transform="translate(276.8,125.8) scale(0.87,1)" text-anchor="end" style="font-family:'Liberation Sans',sans-serif;font-weight:bold;font-size:11.37px" fill="#000" >0</text>
<text transform="translate(276.8,105.8) scale(0.87,1)" text-anchor="end" style="font-family:'Liberation Sans',sans-serif;font-weight:bold;font-size:11.37px" fill="#000" >2</text>
<text transform="translate(276.8,85.8) scale(0.87,1)" text-anchor="end" style="font-family:'Liberation Sans',sans-serif;font-weight:bold;font-size:11.37px" fill="#000" >4</text>
<text transform="translate(276.8,65.8) scale(0.87,1)" text-anchor="end" style="font-family:'Liberation Sans',sans-serif;font-weight:bold;font-size:11.37px" fill="#000" >6</text>
<text x="344.4" y="156.5" text-anchor="middle" style="font-family:'Liberation Sans',sans-serif;font-weight:bold;font-size:15.8px" fill="#000" >x</text>
<text transform="translate(264.6,84.5) rotate(-90)" text-anchor="middle" style="font-family:'Liberation Sans',sans-serif;font-weight:bold;font-size:15px">|v<tspan style="font-size:10px" dy="3">4</tspan><tspan dy="-3">|</tspan></text>
<defs><linearGradient id="cbb" x1="0" x2="0" y1="0" y2="1"><stop offset="0.000" stop-color="#db2122"/><stop offset="0.130" stop-color="#e85c2a"/><stop offset="0.240" stop-color="#e49137"/><stop offset="0.350" stop-color="#c8b644"/><stop offset="0.450" stop-color="#8cbc6e"/><stop offset="0.540" stop-color="#64aa96"/><stop offset="0.640" stop-color="#4b91be"/><stop offset="0.760" stop-color="#4169d4"/><stop offset="0.860" stop-color="#4b3ec8"/><stop offset="0.940" stop-color="#6c28a5"/><stop offset="1.000" stop-color="#781c86"/></linearGradient></defs>
<rect x="417.3" y="74.8" width="5.5" height="50.3" fill="url(#cbb)"/>
<text transform="translate(426,81.3) scale(0.87,1)" text-anchor="start" style="font-family:'Liberation Sans',sans-serif;font-weight:bold;font-size:11.83px" fill="#000" >7</text>
<text transform="translate(426,88.2) scale(0.87,1)" text-anchor="start" style="font-family:'Liberation Sans',sans-serif;font-weight:bold;font-size:11.83px" fill="#000" >6</text>
<text transform="translate(426,95.1) scale(0.87,1)" text-anchor="start" style="font-family:'Liberation Sans',sans-serif;font-weight:bold;font-size:11.83px" fill="#000" >5</text>
<text transform="translate(426,102) scale(0.87,1)" text-anchor="start" style="font-family:'Liberation Sans',sans-serif;font-weight:bold;font-size:11.83px" fill="#000" >4</text>
<text transform="translate(426,108.9) scale(0.87,1)" text-anchor="start" style="font-family:'Liberation Sans',sans-serif;font-weight:bold;font-size:11.83px" fill="#000" >3</text>
<text transform="translate(426,115.8) scale(0.87,1)" text-anchor="start" style="font-family:'Liberation Sans',sans-serif;font-weight:bold;font-size:11.83px" fill="#000" >2</text>
<text transform="translate(426,122.7) scale(0.87,1)" text-anchor="start" style="font-family:'Liberation Sans',sans-serif;font-weight:bold;font-size:11.83px" fill="#000" >1</text>
<circle cx="446.2" cy="291.6" r="20.1" fill="none" stroke="#d6d6d6" stroke-width="0.6"/>
<circle cx="446.2" cy="291.6" r="40.2" fill="none" stroke="#d6d6d6" stroke-width="0.6"/>
<circle cx="446.2" cy="291.6" r="60.3" fill="none" stroke="#d6d6d6" stroke-width="0.6"/>
<circle cx="446.2" cy="291.6" r="80.4" fill="none" stroke="#d6d6d6" stroke-width="0.6"/>
<path d="M436.1,221.83A70.6,70.6 0 0 0 442.24,362.46" fill="none" stroke="#7a3cb0" stroke-width="0.9"/>
<circle cx="446.3" cy="293" r="69.4" fill="none" stroke="#4a64d8" stroke-width="0.8"/>
<circle cx="446.4" cy="291.8" r="69.0" fill="none" stroke="#4aa8c8" stroke-width="0.8"/>
<circle cx="446.3" cy="291.6" r="68.5" fill="none" stroke="#8cc060" stroke-width="0.8"/>
<circle cx="446" cy="291.3" r="68.3" fill="none" stroke="#e0b840" stroke-width="0.8"/>
<path d="M381.69,314.19A67.8,67.8 0 0 0 513.2,291" fill="none" stroke="#e06a30" stroke-width="0.9"/>
<path d="M362.5,291.6H530.4M446.2,208.2V374.5" stroke="#6e6e6e" stroke-width="1.3" fill="none"/>
<path d="M363.74,291.6v-1.2M446.2,374.06h1.2M369.63,291.6v-1.2M446.2,368.17h1.2M375.52,291.6v-1.2M446.2,362.28h1.2M381.41,291.6v-1.2M446.2,356.39h1.2M387.3,291.6v-2.2M446.2,350.5h2.2M393.19,291.6v-1.2M446.2,344.61h1.2M399.08,291.6v-1.2M446.2,338.72h1.2M404.97,291.6v-1.2M446.2,332.83h1.2M410.86,291.6v-1.2M446.2,326.94h1.2M416.75,291.6v-2.2M446.2,321.05h2.2M422.64,291.6v-1.2M446.2,315.16h1.2M428.53,291.6v-1.2M446.2,309.27h1.2M434.42,291.6v-1.2M446.2,303.38h1.2M440.31,291.6v-1.2M446.2,297.49h1.2M452.09,291.6v-1.2M446.2,285.71h1.2M457.98,291.6v-1.2M446.2,279.82h1.2M463.87,291.6v-1.2M446.2,273.93h1.2M469.76,291.6v-1.2M446.2,268.04h1.2M475.65,291.6v-2.2M446.2,262.15h2.2M481.54,291.6v-1.2M446.2,256.26h1.2M487.43,291.6v-1.2M446.2,250.37h1.2M493.32,291.6v-1.2M446.2,244.48h1.2M499.21,291.6v-1.2M446.2,238.59h1.2M505.1,291.6v-2.2M446.2,232.7h2.2M510.99,291.6v-1.2M446.2,226.81h1.2M516.88,291.6v-1.2M446.2,220.92h1.2M522.77,291.6v-1.2M446.2,215.03h1.2M528.66,291.6v-1.2M446.2,209.14h1.2" stroke="#6e6e6e" stroke-width="0.6" fill="none"/>
<text transform="translate(384.8,305.7) scale(0.87,1)" text-anchor="middle" style="font-family:'Liberation Sans',sans-serif;font-weight:bold;font-size:12.3px" fill="#000" >−1.0</text>
<text transform="translate(414.25,305.7) scale(0.87,1)" text-anchor="middle" style="font-family:'Liberation Sans',sans-serif;font-weight:bold;font-size:12.3px" fill="#000" >−0.5</text>
<text transform="translate(475.65,305.7) scale(0.87,1)" text-anchor="middle" style="font-family:'Liberation Sans',sans-serif;font-weight:bold;font-size:12.3px" fill="#000" >0.5</text>
<text transform="translate(505.1,305.7) scale(0.87,1)" text-anchor="middle" style="font-family:'Liberation Sans',sans-serif;font-weight:bold;font-size:12.3px" fill="#000" >1.0</text>
<text transform="translate(444.2,237.9) scale(0.87,1)" text-anchor="end" style="font-family:'Liberation Sans',sans-serif;font-weight:bold;font-size:12.3px" fill="#000" >1.0</text>
<text transform="translate(444.2,267.35) scale(0.87,1)" text-anchor="end" style="font-family:'Liberation Sans',sans-serif;font-weight:bold;font-size:12.3px" fill="#000" >0.5</text>
<text transform="translate(444.2,326.25) scale(0.87,1)" text-anchor="end" style="font-family:'Liberation Sans',sans-serif;font-weight:bold;font-size:12.3px" fill="#000" >−0.5</text>
<text transform="translate(444.2,355.7) scale(0.87,1)" text-anchor="end" style="font-family:'Liberation Sans',sans-serif;font-weight:bold;font-size:12.3px" fill="#000" >−1.0</text>
<text x="539.4" y="298" text-anchor="middle" style="font-family:'Liberation Sans',sans-serif;font-weight:bold;font-size:17.5px" fill="#000" >x</text>
<text x="446" y="201" text-anchor="middle" style="font-family:'Liberation Sans',sans-serif;font-weight:bold;font-size:17.5px" fill="#000" >t</text>
<style>.s3 polygon{stroke-width:0.3;stroke-linejoin:round}.s3 .m{fill:none;stroke:#1a2040;stroke-opacity:0.8;stroke-width:0.6}.s3 .w{fill:none;stroke:#fff;stroke-width:0.9}.q0{fill:#5520d3;stroke:#5520d3}.q1{fill:#5520d2;stroke:#5520d2}.q2{fill:#551fd2;stroke:#551fd2}.q3{fill:#561ed2;stroke:#561ed2}.q4{fill:#561fd2;stroke:#561fd2}.q5{fill:#5421d3;stroke:#5421d3}.q6{fill:#4f24cf;stroke:#4f24cf}.q7{fill:#4a2ad0;stroke:#4a2ad0}.q8{fill:#453fd6;stroke:#453fd6}.q9{fill:#414dda;stroke:#414dda}.q10{fill:#453ed6;stroke:#453ed6}.q11{fill:#3d5bde;stroke:#3d5bde}.q12{fill:#4a29d0;stroke:#4a29d0}.q13{fill:#414cda;stroke:#414cda}.q14{fill:#3b68db;stroke:#3b68db}.q15{fill:#453cd5;stroke:#453cd5}.q16{fill:#3d59dd;stroke:#3d59dd}.q17{fill:#4b29d0;stroke:#4b29d0}.q18{fill:#3c78dd;stroke:#3c78dd}.q19{fill:#424bda;stroke:#424bda}.q20{fill:#3b66db;stroke:#3b66db}.q21{fill:#5420d3;stroke:#5420d3}.q22{fill:#463bd5;stroke:#463bd5}.q23{fill:#3e58de;stroke:#3e58de}.q24{fill:#4f23d0;stroke:#4f23d0}.q25{fill:#3e8ade;stroke:#3e8ade}.q26{fill:#3c77dd;stroke:#3c77dd}.q27{fill:#4249d9;stroke:#4249d9}.q28{fill:#3b65db;stroke:#3b65db}.q29{fill:#463ad5;stroke:#463ad5}.q30{fill:#3e57de;stroke:#3e57de}.q31{fill:#429ed1;stroke:#429ed1}.q32{fill:#3e88de;stroke:#3e88de}.q33{fill:#5124d4;stroke:#5124d4}.q34{fill:#3c76dd;stroke:#3c76dd}.q35{fill:#4248d9;stroke:#4248d9}.q36{fill:#3c65dc;stroke:#3c65dc}.q37{fill:#4639d4;stroke:#4639d4}.q38{fill:#429cd5;stroke:#429cd5}.q39{fill:#3e55dd;stroke:#3e55dd}.q40{fill:#3e87de;stroke:#3e87de}.q41{fill:#5224d4;stroke:#5224d4}.q42{fill:#3c74dd;stroke:#3c74dd}.q43{fill:#4247d9;stroke:#4247d9}.q44{fill:#3b64dc;stroke:#3b64dc}.q45{fill:#64ae64;stroke:#64ae64}.q46{fill:#429bd8;stroke:#429bd8}.q47{fill:#4638d4;stroke:#4638d4}.q48{fill:#3f54dd;stroke:#3f54dd}.q49{fill:#3d86df;stroke:#3d86df}.q50{fill:#3c73dd;stroke:#3c73dd}.q51{fill:#4346d8;stroke:#4346d8}.q52{fill:#5dac72;stroke:#5dac72}.q53{fill:#3b63dc;stroke:#3b63dc}.q54{fill:#439ada;stroke:#439ada}.q55{fill:#4737d4;stroke:#4737d4}.q56{fill:#3f53dc;stroke:#3f53dc}.q57{fill:#3d85df;stroke:#3d85df}.q58{fill:#4c29d0;stroke:#4c29d0}.q59{fill:#3c72dd;stroke:#3c72dd}.q60{fill:#55ac80;stroke:#55ac80}.q61{fill:#4345d8;stroke:#4345d8}.q62{fill:#3b61dd;stroke:#3b61dd}.q63{fill:#c29c2c;stroke:#c29c2c}.q64{fill:#4299db;stroke:#4299db}.q65{fill:#4736d3;stroke:#4736d3}.q66{fill:#3f52dc;stroke:#3f52dc}.q67{fill:#3d84df;stroke:#3d84df}.q68{fill:#4c28d0;stroke:#4c28d0}.q69{fill:#4fab8d;stroke:#4fab8d}.q70{fill:#3c71dd;stroke:#3c71dd}.q71{fill:#4344d8;stroke:#4344d8}.q72{fill:#3b60dc;stroke:#3b60dc}.q73{fill:#c1a12d;stroke:#c1a12d}.q74{fill:#4297dc;stroke:#4297dc}.q75{fill:#4734d3;stroke:#4734d3}.q76{fill:#4051dc;stroke:#4051dc}.q77{fill:#3d82df;stroke:#3d82df}.q78{fill:#4cab97;stroke:#4cab97}.q79{fill:#3b70dc;stroke:#3b70dc}.q80{fill:#4443d7;stroke:#4443d7}.q81{fill:#bfa72e;stroke:#bfa72e}.q82{fill:#3b60dd;stroke:#3b60dd}.q83{fill:#4196dc;stroke:#4196dc}.q84{fill:#4833d3;stroke:#4833d3}.q85{fill:#b5461b;stroke:#b5461b}.q86{fill:#4050db;stroke:#4050db}.q87{fill:#3d81df;stroke:#3d81df}.q88{fill:#4aa99f;stroke:#4aa99f}.q89{fill:#5223d4;stroke:#5223d4}.q90{fill:#3b6edc;stroke:#3b6edc}.q91{fill:#b6a830;stroke:#b6a830}.q92{fill:#4441d7;stroke:#4441d7}.q93{fill:#3b5fdd;stroke:#3b5fdd}.q94{fill:#4194dc;stroke:#4194dc}.q95{fill:#b64c1c;stroke:#b64c1c}.q96{fill:#4832d2;stroke:#4832d2}.q97{fill:#a0e162;stroke:#a0e162}.q98{fill:#404fdb;stroke:#404fdb}.q99{fill:#4aa9a7;stroke:#4aa9a7}.q100{fill:#5323d3;stroke:#5323d3}.q101{fill:#3d80de;stroke:#3d80de}.q102{fill:#cfdf49;stroke:#cfdf49}.q103{fill:#7cdd86;stroke:#7cdd86}.q104{fill:#5223d3;stroke:#5223d3}.q105{fill:#aeaa34;stroke:#aeaa34}.q106{fill:#f1d83d;stroke:#f1d83d}.q107{fill:#3b6ddc;stroke:#3b6ddc}.q108{fill:#5322d3;stroke:#5322d3}.q109{fill:#4440d7;stroke:#4440d7}.q110{fill:#65d6aa;stroke:#65d6aa}.q111{fill:#f7ba35;stroke:#f7ba35}.q112{fill:#3b5ede;stroke:#3b5ede}.q113{fill:#d4d4d4;stroke:#d4d4d4}.q114{fill:#871b12;stroke:#871b12}.q115{fill:#b7511d;stroke:#b7511d}.q116{fill:#58c8c6;stroke:#58c8c6}.q117{fill:#4193dc;stroke:#4193dc}.q118{fill:#95e169;stroke:#95e169}.q119{fill:#c1e14f;stroke:#c1e14f}.q120{fill:#4831d2;stroke:#4831d2}.q121{fill:#48a8ae;stroke:#48a8ae}.q122{fill:#414ddb;stroke:#414ddb}.q123{fill:#3d7ede;stroke:#3d7ede}.q124{fill:#a6ad37;stroke:#a6ad37}.q125{fill:#4db8df;stroke:#4db8df}.q126{fill:#e6da41;stroke:#e6da41}.q127{fill:#78db8d;stroke:#78db8d}.q128{fill:#f4862b;stroke:#f4862b}.q129{fill:#4d27d0;stroke:#4d27d0}.q130{fill:#3b6bdc;stroke:#3b6bdc}.q131{fill:#f6c538;stroke:#f6c538}.q132{fill:#61d4b1;stroke:#61d4b1}.q133{fill:#5125d4;stroke:#5125d4}.q134{fill:#49abe6;stroke:#49abe6}.q135{fill:#3c5cde;stroke:#3c5cde}.q136{fill:#b8571e;stroke:#b8571e}.q137{fill:#55c5cb;stroke:#55c5cb}.q138{fill:#b1e158;stroke:#b1e158}.q139{fill:#4091dd;stroke:#4091dd}.q140{fill:#8be16f;stroke:#8be16f}.q141{fill:#f6972e;stroke:#f6972e}.q142{fill:#48a7b5;stroke:#48a7b5}.q143{fill:#9eb03a;stroke:#9eb03a}.q144{fill:#dadd45;stroke:#dadd45}.q145{fill:#4830d2;stroke:#4830d2}.q146{fill:#47a4e7;stroke:#47a4e7}.q147{fill:#3c7dde;stroke:#3c7dde}.q148{fill:#4bb4e3;stroke:#4bb4e3}.q149{fill:#73da95;stroke:#73da95}.q150{fill:#f5cf3a;stroke:#f5cf3a}.q151{fill:#5026d4;stroke:#5026d4}.q152{fill:#e0311e;stroke:#e0311e}.q153{fill:#3b6adc;stroke:#3b6adc}.q154{fill:#5ed2b7;stroke:#5ed2b7}.q155{fill:#48a9e6;stroke:#48a9e6}.q156{fill:#459ee8;stroke:#459ee8}.q157{fill:#4f27d5;stroke:#4f27d5}.q158{fill:#b95e1f;stroke:#b95e1f}.q159{fill:#881b12;stroke:#881b12}.q160{fill:#3d5cde;stroke:#3d5cde}.q161{fill:#a5e160;stroke:#a5e160}.q162{fill:#f8a630;stroke:#f8a630}.q163{fill:#53c1d0;stroke:#53c1d0}.q164{fill:#86df77;stroke:#86df77}.q165{fill:#d8291e;stroke:#d8291e}.q166{fill:#cde049;stroke:#cde049}.q167{fill:#4090dd;stroke:#4090dd}.q168{fill:#94b140;stroke:#94b140}.q169{fill:#47a6bd;stroke:#47a6bd}.q170{fill:#e74821;stroke:#e74821}.q171{fill:#492fd1;stroke:#492fd1}.q172{fill:#47a3e7;stroke:#47a3e7}.q173{fill:#4498e9;stroke:#4498e9}.q174{fill:#4e29d5;stroke:#4e29d5}.q175{fill:#4ab2e4;stroke:#4ab2e4}.q176{fill:#3c7cde;stroke:#3c7cde}.q177{fill:#f4d73c;stroke:#f4d73c}.q178{fill:#6fd89c;stroke:#6fd89c}.q179{fill:#3b69db;stroke:#3b69db}.q180{fill:#4f28d5;stroke:#4f28d5}.q181{fill:#5ccebc;stroke:#5ccebc}.q182{fill:#ba6720;stroke:#ba6720}.q183{fill:#4a2cd1;stroke:#4a2cd1}.q184{fill:#48a8e6;stroke:#48a8e6}.q185{fill:#f7b233;stroke:#f7b233}.q186{fill:#891c12;stroke:#891c12}.q187{fill:#459de8;stroke:#459de8}.q188{fill:#453dd6;stroke:#453dd6}.q189{fill:#4291ea;stroke:#4291ea}.q190{fill:#98e167;stroke:#98e167}.q191{fill:#5126d4;stroke:#5126d4}.q192{fill:#3d5add;stroke:#3d5add}.q193{fill:#bde151;stroke:#bde151}.q194{fill:#da2b1e;stroke:#da2b1e}.q195{fill:#ec5a24;stroke:#ec5a24}.q196{fill:#51bed5;stroke:#51bed5}.q197{fill:#8ab347;stroke:#8ab347}.q198{fill:#81de7f;stroke:#81de7f}.q199{fill:#408edd;stroke:#408edd}.q200{fill:#45a5c3;stroke:#45a5c3}.q201{fill:#e8da40;stroke:#e8da40}.q202{fill:#4a34d8;stroke:#4a34d8}.q203{fill:#47a2e7;stroke:#47a2e7}.q204{fill:#4ab0e5;stroke:#4ab0e5}.q205{fill:#6ad7a3;stroke:#6ad7a3}.q206{fill:#4497e9;stroke:#4497e9}.q207{fill:#3c7ade;stroke:#3c7ade}.q208{fill:#418beb;stroke:#418beb}.q209{fill:#414bda;stroke:#414bda}.q210{fill:#463bd6;stroke:#463bd6}.q211{fill:#4c2cd6;stroke:#4c2cd6}.q212{fill:#ba6e22;stroke:#ba6e22}.q213{fill:#3b67db;stroke:#3b67db}.q214{fill:#f7be36;stroke:#f7be36}.q215{fill:#59cbc2;stroke:#59cbc2}.q216{fill:#f16e27;stroke:#f16e27}.q217{fill:#891d12;stroke:#891d12}.q218{fill:#90e16c;stroke:#90e16c}.q219{fill:#48a7e6;stroke:#48a7e6}.q220{fill:#dc2d1e;stroke:#dc2d1e}.q221{fill:#afe15a;stroke:#afe15a}.q222{fill:#459ce8;stroke:#459ce8}.q223{fill:#80b54e;stroke:#80b54e}.q224{fill:#4fbadb;stroke:#4fbadb}.q225{fill:#4346d9;stroke:#4346d9}.q226{fill:#7ddd85;stroke:#7ddd85}.q227{fill:#dbdd45;stroke:#dbdd45}.q228{fill:#44a3ca;stroke:#44a3ca}.q229{fill:#3f8ddd;stroke:#3f8ddd}.q230{fill:#4546de;stroke:#4546de}.q231{fill:#49ade5;stroke:#49ade5}.q232{fill:#f4832a;stroke:#f4832a}.q233{fill:#46a1e7;stroke:#46a1e7}.q234{fill:#3c79de;stroke:#3c79de}.q235{fill:#f6c939;stroke:#f6c939}.q236{fill:#bb7622;stroke:#bb7622}.q237{fill:#4740dc;stroke:#4740dc}.q238{fill:#4051dd;stroke:#4051dd}.q239{fill:#57c8c6;stroke:#57c8c6}.q240{fill:#de2f1e;stroke:#de2f1e}.q241{fill:#a1e162;stroke:#a1e162}.q242{fill:#8a1d12;stroke:#8a1d12}.q243{fill:#8ae071;stroke:#8ae071}.q244{fill:#77b756;stroke:#77b756}.q245{fill:#47a6e6;stroke:#47a6e6}.q246{fill:#4b29d1;stroke:#4b29d1}.q247{fill:#4253e2;stroke:#4253e2}.q248{fill:#4db7e0;stroke:#4db7e0}.q249{fill:#3c5edf;stroke:#3c5edf}.q250{fill:#f6952d;stroke:#f6952d}.q251{fill:#43a2ce;stroke:#43a2ce}.q252{fill:#3f8bde;stroke:#3f8bde}.q253{fill:#f5d43b;stroke:#f5d43b}.q254{fill:#61d4b2;stroke:#61d4b2}.q255{fill:#ba7b24;stroke:#ba7b24}.q256{fill:#3d5cdf;stroke:#3d5cdf}.q257{fill:#4496e9;stroke:#4496e9}.q258{fill:#4254e2;stroke:#4254e2}.q259{fill:#e1321e;stroke:#e1321e}.q260{fill:#55c4cc;stroke:#55c4cc}.q261{fill:#6fb861;stroke:#6fb861}.q262{fill:#4347da;stroke:#4347da}.q263{fill:#8a1e12;stroke:#8a1e12}.q264{fill:#bbe152;stroke:#bbe152}.q265{fill:#3c69dc;stroke:#3c69dc}.q266{fill:#85df78;stroke:#85df78}.q267{fill:#47a5e7;stroke:#47a5e7}.q268{fill:#463ad6;stroke:#463ad6}.q269{fill:#4bb4e4;stroke:#4bb4e4}.q270{fill:#459be8;stroke:#459be8}.q271{fill:#3c66e1;stroke:#3c66e1}.q272{fill:#74da94;stroke:#74da94}.q273{fill:#4a2bd1;stroke:#4a2bd1}.q274{fill:#ebd93f;stroke:#ebd93f}.q275{fill:#43a0d1;stroke:#43a0d1}.q276{fill:#3e8add;stroke:#3e8add}.q277{fill:#b87f25;stroke:#b87f25}.q278{fill:#3c61df;stroke:#3c61df}.q279{fill:#5ed2b8;stroke:#5ed2b8}.q280{fill:#46a0e7;stroke:#46a0e7}.q281{fill:#418ceb;stroke:#418ceb}.q282{fill:#3c70e0;stroke:#3c70e0}.q283{fill:#8ce16e;stroke:#8ce16e}.q284{fill:#53c1d1;stroke:#53c1d1}.q285{fill:#aae15d;stroke:#aae15d}.q286{fill:#68b86f;stroke:#68b86f}.q287{fill:#f7b333;stroke:#f7b333}.q288{fill:#8c1f12;stroke:#8c1f12}.q289{fill:#80de81;stroke:#80de81}.q290{fill:#3c5de0;stroke:#3c5de0}.q291{fill:#3c6bdf;stroke:#3c6bdf}.q292{fill:#d9dd45;stroke:#d9dd45}.q293{fill:#4050dc;stroke:#4050dc}.q294{fill:#4ab1e4;stroke:#4ab1e4}.q295{fill:#6ed89d;stroke:#6ed89d}.q296{fill:#e95022;stroke:#e95022}.q297{fill:#4441d8;stroke:#4441d8}.q298{fill:#439fd3;stroke:#439fd3}.q299{fill:#b58426;stroke:#b58426}.q300{fill:#4930d3;stroke:#4930d3}.q301{fill:#3d7be0;stroke:#3d7be0}.q302{fill:#5bcebe;stroke:#5bcebe}.q303{fill:#f6c437;stroke:#f6c437}.q304{fill:#469fe8;stroke:#469fe8}.q305{fill:#61b87d;stroke:#61b87d}.q306{fill:#3d77e0;stroke:#3d77e0}.q307{fill:#4396e9;stroke:#4396e9}.q308{fill:#50bdd7;stroke:#50bdd7}.q309{fill:#3c6cdf;stroke:#3c6cdf}.q310{fill:#c4e14d;stroke:#c4e14d}.q311{fill:#8c2012;stroke:#8c2012}.q312{fill:#7adc8a;stroke:#7adc8a}.q313{fill:#ef6525;stroke:#ef6525}.q314{fill:#3f8ae0;stroke:#3f8ae0}.q315{fill:#68d6a7;stroke:#68d6a7}.q316{fill:#4aafe5;stroke:#4aafe5}.q317{fill:#3d66e0;stroke:#3d66e0}.q318{fill:#b48a27;stroke:#b48a27}.q319{fill:#459ae8;stroke:#459ae8}.q320{fill:#f5d63c;stroke:#f5d63c}.q321{fill:#3e59de;stroke:#3e59de}.q322{fill:#439fd4;stroke:#439fd4}.q323{fill:#3e84e2;stroke:#3e84e2}.q324{fill:#58c9c5;stroke:#58c9c5}.q325{fill:#4248da;stroke:#4248da}.q326{fill:#f3812a;stroke:#f3812a}.q327{fill:#4735d4;stroke:#4735d4}.q328{fill:#8de16e;stroke:#8de16e}.q329{fill:#aee15a;stroke:#aee15a}.q330{fill:#5ab78a;stroke:#5ab78a}.q331{fill:#80de80;stroke:#80de80}.q332{fill:#8c2213;stroke:#8c2213}.q333{fill:#429ad9;stroke:#429ad9}.q334{fill:#dd2e1e;stroke:#dd2e1e}.q335{fill:#e1db43;stroke:#e1db43}.q336{fill:#4191e0;stroke:#4191e0}.q337{fill:#f79d2f;stroke:#f79d2f}.q338{fill:#61d5b0;stroke:#61d5b0}.q339{fill:#b39028;stroke:#b39028}.q340{fill:#49ace5;stroke:#49ace5}.q341{fill:#3d76e1;stroke:#3d76e1}.q342{fill:#459ae9;stroke:#459ae9}.q343{fill:#9ae166;stroke:#9ae166}.q344{fill:#3c6ee0;stroke:#3c6ee0}.q345{fill:#57b68f;stroke:#57b68f}.q346{fill:#48a6e6;stroke:#48a6e6}.q347{fill:#7adc8b;stroke:#7adc8b}.q348{fill:#cae14a;stroke:#cae14a}.q349{fill:#44a0d8;stroke:#44a0d8}.q350{fill:#3e82e2;stroke:#3e82e2}.q351{fill:#469ee8;stroke:#469ee8}.q352{fill:#6dd89e;stroke:#6dd89e}.q353{fill:#4395e9;stroke:#4395e9}.q354{fill:#5027d5;stroke:#5027d5}.q355{fill:#8c2413;stroke:#8c2413}.q356{fill:#b4992b;stroke:#b4992b}.q357{fill:#4db1b6;stroke:#4db1b6}.q358{fill:#5dd1b9;stroke:#5dd1b9}.q359{fill:#46a2e7;stroke:#46a2e7}.q360{fill:#f6cb39;stroke:#f6cb39}.q361{fill:#52bfd4;stroke:#52bfd4}.q362{fill:#449ae9;stroke:#449ae9}.q363{fill:#408fe2;stroke:#408fe2}.q364{fill:#4290ea;stroke:#4290ea}.q365{fill:#3d7fe2;stroke:#3d7fe2}.q366{fill:#449fda;stroke:#449fda}.q367{fill:#b0e159;stroke:#b0e159}.q368{fill:#7fdd83;stroke:#7fdd83}.q369{fill:#e33b1f;stroke:#e33b1f}.q370{fill:#72d997;stroke:#72d997}.q371{fill:#64d6ac;stroke:#64d6ac}.q372{fill:#b2a22e;stroke:#b2a22e}.q373{fill:#50b8af;stroke:#50b8af}.q374{fill:#3e56dd;stroke:#3e56dd}.q375{fill:#4343d7;stroke:#4343d7}.q376{fill:#8d2713;stroke:#8d2713}.q377{fill:#482dd1;stroke:#482dd1}.q378{fill:#59cac3;stroke:#59cac3}.q379{fill:#3f8be2;stroke:#3f8be2}.q380{fill:#449cde;stroke:#449cde}.q381{fill:#e53f20;stroke:#e53f20}.q382{fill:#4db8de;stroke:#4db8de}.q383{fill:#83de7c;stroke:#83de7c}.q384{fill:#4499e9;stroke:#4499e9}.q385{fill:#74da93;stroke:#74da93}.q386{fill:#4eb3b6;stroke:#4eb3b6}.q387{fill:#82bb53;stroke:#82bb53}.q388{fill:#66d6aa;stroke:#66d6aa}.q389{fill:#cfe049;stroke:#cfe049}.q390{fill:#5bcebd;stroke:#5bcebd}.q391{fill:#f17027;stroke:#f17027}.q392{fill:#3e86e3;stroke:#3e86e3}.q393{fill:#4298e0;stroke:#4298e0}.q394{fill:#afa731;stroke:#afa731}.q395{fill:#8e2a14;stroke:#8e2a14}.q396{fill:#48abc9;stroke:#48abc9}.q397{fill:#3e7ce2;stroke:#3e7ce2}.q398{fill:#3d6ce1;stroke:#3d6ce1}.q399{fill:#4395ea;stroke:#4395ea}.q400{fill:#3c5fdf;stroke:#3c5fdf}.q401{fill:#4732d1;stroke:#4732d1}.q402{fill:#414ad9;stroke:#414ad9}.q403{fill:#4d27d1;stroke:#4d27d1}.q404{fill:#88e074;stroke:#88e074}.q405{fill:#d92a1e;stroke:#d92a1e}.q406{fill:#77db8e;stroke:#77db8e}.q407{fill:#86be53;stroke:#86be53}.q408{fill:#66d6a9;stroke:#66d6a9}.q409{fill:#b2e158;stroke:#b2e158}.q410{fill:#4193e1;stroke:#4193e1}.q411{fill:#5bcdbe;stroke:#5bcdbe}.q412{fill:#45a6d8;stroke:#45a6d8}.q413{fill:#f7b935;stroke:#f7b935}.q414{fill:#4bb3e4;stroke:#4bb3e4}.q415{fill:#79c463;stroke:#79c463}.q416{fill:#8f2e15;stroke:#8f2e15}.q417{fill:#3f8ce2;stroke:#3f8ce2}.q418{fill:#44a0dd;stroke:#44a0dd}.q419{fill:#62c38f;stroke:#62c38f}.q420{fill:#4394ea;stroke:#4394ea}.q421{fill:#99e167;stroke:#99e167}.q422{fill:#53c0d2;stroke:#53c0d2}.q423{fill:#3f82e3;stroke:#3f82e3}.q424{fill:#3d73e1;stroke:#3d73e1}.q425{fill:#4636d3;stroke:#4636d3}.q426{fill:#3c65e0;stroke:#3c65e0}.q427{fill:#4051db;stroke:#4051db}.q428{fill:#53bbad;stroke:#53bbad}.q429{fill:#d5de47;stroke:#d5de47}.q430{fill:#4399e0;stroke:#4399e0}.q431{fill:#c0922a;stroke:#c0922a}.q432{fill:#913215;stroke:#913215}.q433{fill:#4aaec5;stroke:#4aaec5}.q434{fill:#84df7a;stroke:#84df7a}.q435{fill:#71d998;stroke:#71d998}.q436{fill:#5ed3b5;stroke:#5ed3b5}.q437{fill:#56c5ca;stroke:#56c5ca}.q438{fill:#cba52e;stroke:#cba52e}.q439{fill:#4193e2;stroke:#4193e2}.q440{fill:#49aee5;stroke:#49aee5}.q441{fill:#e74921;stroke:#e74921}.q442{fill:#46a6d9;stroke:#46a6d9}.q443{fill:#4c28cf;stroke:#4c28cf}.q444{fill:#453bd4;stroke:#453bd4}.q445{fill:#983616;stroke:#983616}.q446{fill:#c5b233;stroke:#c5b233}.q447{fill:#3f87e4;stroke:#3f87e4}.q448{fill:#3e56dc;stroke:#3e56dc}.q449{fill:#3e79e2;stroke:#3e79e2}.q450{fill:#3d69e0;stroke:#3d69e0}.q451{fill:#a4c043;stroke:#a4c043}.q452{fill:#7eca61;stroke:#7eca61}.q453{fill:#449fdf;stroke:#449fdf}.q454{fill:#92e16b;stroke:#92e16b}.q455{fill:#7cdc86;stroke:#7cdc86}.q456{fill:#64c692;stroke:#64c692}.q457{fill:#ed5f25;stroke:#ed5f25}.q458{fill:#6ad7a2;stroke:#6ad7a2}.q459{fill:#5ccfbb;stroke:#5ccfbb}.q460{fill:#54c2cf;stroke:#54c2cf}.q461{fill:#4cb5e2;stroke:#4cb5e2}.q462{fill:#51b9b4;stroke:#51b9b4}.q463{fill:#4393ea;stroke:#4393ea}.q464{fill:#f7bd36;stroke:#f7bd36}.q465{fill:#f06826;stroke:#f06826}.q466{fill:#46a0e8;stroke:#46a0e8}.q467{fill:#4399e1;stroke:#4399e1}.q468{fill:#4a28cf;stroke:#4a28cf}.q469{fill:#48accd;stroke:#48accd}.q470{fill:#4340d5;stroke:#4340d5}.q471{fill:#3d6de1;stroke:#3d6de1}.q472{fill:#418de3;stroke:#418de3}.q473{fill:#3e7ee3;stroke:#3e7ee3}.q474{fill:#eed93e;stroke:#eed93e}.q475{fill:#8de16d;stroke:#8de16d}.q476{fill:#a33017;stroke:#a33017}.q477{fill:#7bdc89;stroke:#7bdc89}.q478{fill:#69d7a4;stroke:#69d7a4}.q479{fill:#45a5da;stroke:#45a5da}.q480{fill:#5bcebc;stroke:#5bcebc}.q481{fill:#54c2d0;stroke:#54c2d0}.q482{fill:#c3b837;stroke:#c3b837}.q483{fill:#9cc54d;stroke:#9cc54d}.q484{fill:#4cb5e3;stroke:#4cb5e3}.q485{fill:#be551e;stroke:#be551e}.q486{fill:#cf9d2c;stroke:#cf9d2c}.q487{fill:#73cb78;stroke:#73cb78}.q488{fill:#cd7924;stroke:#cd7924}.q489{fill:#5ac5a2;stroke:#5ac5a2}.q490{fill:#449fe0;stroke:#449fe0}.q491{fill:#4a29ce;stroke:#4a29ce}.q492{fill:#4246d7;stroke:#4246d7}.q493{fill:#3d71e1;stroke:#3d71e1}.q494{fill:#4293e2;stroke:#4293e2}.q495{fill:#428fea;stroke:#428fea}.q496{fill:#4fb7bb;stroke:#4fb7bb}.q497{fill:#7adc89;stroke:#7adc89}.q498{fill:#68d7a5;stroke:#68d7a5}.q499{fill:#bf9e2c;stroke:#bf9e2c}.q500{fill:#48acd2;stroke:#48acd2}.q501{fill:#4392ea;stroke:#4392ea}.q502{fill:#b0c03e;stroke:#b0c03e}.q503{fill:#87cb5e;stroke:#87cb5e}.q504{fill:#d1ac30;stroke:#d1ac30}.q505{fill:#46a4dd;stroke:#46a4dd}.q506{fill:#d28828;stroke:#d28828}.q507{fill:#6aca89;stroke:#6aca89}.q508{fill:#404cd8;stroke:#404cd8}.q509{fill:#428feb;stroke:#428feb}.q510{fill:#bda72f;stroke:#bda72f}.q511{fill:#3e75e2;stroke:#3e75e2}.q512{fill:#c8591f;stroke:#c8591f}.q513{fill:#3f86e4;stroke:#3f86e4}.q514{fill:#4397e1;stroke:#4397e1}.q515{fill:#79dc8b;stroke:#79dc8b}.q516{fill:#67d6a7;stroke:#67d6a7}.q517{fill:#5bcdbf;stroke:#5bcdbf}.q518{fill:#b02717;stroke:#b02717}.q519{fill:#52c0d2;stroke:#52c0d2}.q520{fill:#56c2ab;stroke:#56c2ab}.q521{fill:#4db4c3;stroke:#4db4c3}.q522{fill:#edd93f;stroke:#edd93f}.q523{fill:#47a9d8;stroke:#47a9d8}.q524{fill:#8be170;stroke:#8be170}.q525{fill:#9fc64b;stroke:#9fc64b}.q526{fill:#c7b836;stroke:#c7b836}.q527{fill:#59cbc1;stroke:#59cbc1}.q528{fill:#d39b2c;stroke:#d39b2c}.q529{fill:#7ace71;stroke:#7ace71}.q530{fill:#4089e4;stroke:#4089e4}.q531{fill:#439ddf;stroke:#439ddf}.q532{fill:#cf7024;stroke:#cf7024}.q533{fill:#861a12;stroke:#861a12}.q534{fill:#62c999;stroke:#62c999}.q535{fill:#4188eb;stroke:#4188eb}.q536{fill:#be3f1b;stroke:#be3f1b}.q537{fill:#a52216;stroke:#a52216}.q538{fill:#53bdb7;stroke:#53bdb7}.q539{fill:#f2d83d;stroke:#f2d83d}.q540{fill:#77db8f;stroke:#77db8f}.q541{fill:#63d5ae;stroke:#63d5ae}.q542{fill:#58c9c4;stroke:#58c9c4}.q543{fill:#50bbd9;stroke:#50bbd9}.q544{fill:#4aafce;stroke:#4aafce}.q545{fill:#418ee3;stroke:#418ee3}.q546{fill:#45a3dd;stroke:#45a3dd}.q547{fill:#b4c03e;stroke:#b4c03e}.q548{fill:#4185ea;stroke:#4185ea}.q549{fill:#8acd5e;stroke:#8acd5e}.q550{fill:#49aae6;stroke:#49aae6}.q551{fill:#d2ac30;stroke:#d2ac30}.q552{fill:#d48928;stroke:#d48928}.q553{fill:#6dcc88;stroke:#6dcc88}.q554{fill:#ca5a20;stroke:#ca5a20}.q555{fill:#871a12;stroke:#871a12}.q556{fill:#58c6ab;stroke:#58c6ab}.q557{fill:#89e073;stroke:#89e073}.q558{fill:#b22618;stroke:#b22618}.q559{fill:#75da92;stroke:#75da92}.q560{fill:#57c7c8;stroke:#57c7c8}.q561{fill:#4eb8de;stroke:#4eb8de}.q562{fill:#4fb7c1;stroke:#4fb7c1}.q563{fill:#47a7db;stroke:#47a7db}.q564{fill:#9aca51;stroke:#9aca51}.q565{fill:#c6bb37;stroke:#c6bb37}.q566{fill:#78d078;stroke:#78d078}.q567{fill:#d49c2c;stroke:#d49c2c}.q568{fill:#d27425;stroke:#d27425}.q569{fill:#f5d53c;stroke:#f5d53c}.q570{fill:#851912;stroke:#851912}.q571{fill:#62ca9a;stroke:#62ca9a}.q572{fill:#c3451d;stroke:#c3451d}.q573{fill:#aa2417;stroke:#aa2417}.q574{fill:#48aae6;stroke:#48aae6}.q575{fill:#54c0b5;stroke:#54c0b5}.q576{fill:#48add6;stroke:#48add6}.q577{fill:#aac747;stroke:#aac747}.q578{fill:#4189eb;stroke:#4189eb}.q579{fill:#d4b834;stroke:#d4b834}.q580{fill:#87df76;stroke:#87df76}.q581{fill:#84d265;stroke:#84d265}.q582{fill:#d68f29;stroke:#d68f29}.q583{fill:#6dcd8a;stroke:#6dcd8a}.q584{fill:#ce6021;stroke:#ce6021}.q585{fill:#bc3019;stroke:#bc3019}.q586{fill:#59c8aa;stroke:#59c8aa}.q587{fill:#5ccfbc;stroke:#5ccfbc}.q588{fill:#6fd99c;stroke:#6fd99c}.q589{fill:#4ab1e5;stroke:#4ab1e5}.q590{fill:#b9c53f;stroke:#b9c53f}.q591{fill:#5baa71;stroke:#5baa71}.q592{fill:#d7af31;stroke:#d7af31}.q593{fill:#94cf5a;stroke:#94cf5a}.q594{fill:#d68527;stroke:#d68527}.q595{fill:#78d17b;stroke:#78d17b}.q596{fill:#c94f1e;stroke:#c94f1e}.q597{fill:#50bcd7;stroke:#50bcd7}.q598{fill:#b22518;stroke:#b22518}.q599{fill:#5caa6f;stroke:#5caa6f}.q600{fill:#c8c33b;stroke:#c8c33b}.q601{fill:#a2cd50;stroke:#a2cd50}.q602{fill:#d7a62f;stroke:#d7a62f}.q603{fill:#4186ea;stroke:#4186ea}.q604{fill:#d47b26;stroke:#d47b26}.q605{fill:#851812;stroke:#851812}.q606{fill:#6bd7a2;stroke:#6bd7a2}.q607{fill:#c5441d;stroke:#c5441d}.q608{fill:#a92317;stroke:#a92317}.q609{fill:#5eab6c;stroke:#5eab6c}.q610{fill:#d6c237;stroke:#d6c237}.q611{fill:#d89c2c;stroke:#d89c2c}.q612{fill:#d26e24;stroke:#d26e24}.q613{fill:#81de7e;stroke:#81de7e}.q614{fill:#c0381b;stroke:#c0381b}.q615{fill:#951d14;stroke:#951d14}.q616{fill:#4bb5e3;stroke:#4bb5e3}.q617{fill:#56c6c9;stroke:#56c6c9}.q618{fill:#d8932a;stroke:#d8932a}.q619{fill:#47a6e7;stroke:#47a6e7}.q620{fill:#80dd81;stroke:#80dd81}.q621{fill:#cf6221;stroke:#cf6221}.q622{fill:#bb2c19;stroke:#bb2c19}.q623{fill:#7edd84;stroke:#7edd84}.q624{fill:#cb541f;stroke:#cb541f}.q625{fill:#b42618;stroke:#b42618}.q626{fill:#ad2417;stroke:#ad2417}</style>
<line x1="12.8" y1="106.3" x2="66.5" y2="57.3" stroke="#b4b4b4" stroke-width="0.5" stroke-dasharray="1.6 0.9"/>
<line x1="66.5" y1="57.3" x2="148.3" y2="81.1" stroke="#b4b4b4" stroke-width="0.5" stroke-dasharray="1.6 0.9"/>
<line x1="11.3" y1="96.3" x2="66.2" y2="48.2" stroke="#b4b4b4" stroke-width="0.5" stroke-dasharray="1.6 0.9"/>
<line x1="66.2" y1="48.2" x2="149.7" y2="71.3" stroke="#b4b4b4" stroke-width="0.5" stroke-dasharray="1.6 0.9"/>
<line x1="9.7" y1="85.8" x2="65.9" y2="38.8" stroke="#b4b4b4" stroke-width="0.5" stroke-dasharray="1.6 0.9"/>
<line x1="65.9" y1="38.8" x2="151.2" y2="61.1" stroke="#b4b4b4" stroke-width="0.5" stroke-dasharray="1.6 0.9"/>
<line x1="28.4" y1="93.2" x2="24.8" y2="61.5" stroke="#b4b4b4" stroke-width="0.5" stroke-dasharray="1.6 0.9"/>
<line x1="28.4" y1="93.2" x2="118.9" y2="126.5" stroke="#c4c4c4" stroke-width="0.5" stroke-dasharray="1.6 0.9"/>
<line x1="42.4" y1="80.4" x2="39.8" y2="49.5" stroke="#b4b4b4" stroke-width="0.5" stroke-dasharray="1.6 0.9"/>
<line x1="42.4" y1="80.4" x2="129.7" y2="110.0" stroke="#c4c4c4" stroke-width="0.5" stroke-dasharray="1.6 0.9"/>
<line x1="55.0" y1="68.8" x2="53.3" y2="38.7" stroke="#b4b4b4" stroke-width="0.5" stroke-dasharray="1.6 0.9"/>
<line x1="55.0" y1="68.8" x2="139.4" y2="95.4" stroke="#c4c4c4" stroke-width="0.5" stroke-dasharray="1.6 0.9"/>
<line x1="85.2" y1="63.7" x2="85.4" y2="33.8" stroke="#b4b4b4" stroke-width="0.5" stroke-dasharray="1.6 0.9"/>
<line x1="33.9" y1="115.8" x2="85.2" y2="63.7" stroke="#c4c4c4" stroke-width="0.5" stroke-dasharray="1.6 0.9"/>
<line x1="104.9" y1="69.5" x2="106.4" y2="39.1" stroke="#b4b4b4" stroke-width="0.5" stroke-dasharray="1.6 0.9"/>
<line x1="56.4" y1="124.8" x2="104.9" y2="69.5" stroke="#c4c4c4" stroke-width="0.5" stroke-dasharray="1.6 0.9"/>
<line x1="125.9" y1="75.6" x2="128.8" y2="44.6" stroke="#b4b4b4" stroke-width="0.5" stroke-dasharray="1.6 0.9"/>
<line x1="80.6" y1="134.5" x2="125.9" y2="75.6" stroke="#c4c4c4" stroke-width="0.5" stroke-dasharray="1.6 0.9"/>
<line x1="8.0" y1="74.9" x2="65.6" y2="29.0" stroke="#a0a0a0" stroke-width="0.7"/>
<line x1="65.6" y1="29.0" x2="152.7" y2="50.5" stroke="#a0a0a0" stroke-width="0.7"/>
<line x1="66.5" y1="58.3" x2="65.6" y2="29.0" stroke="#a0a0a0" stroke-width="0.7"/>
<line x1="148.2" y1="82.1" x2="152.7" y2="50.5" stroke="#a0a0a0" stroke-width="0.7"/>
<line x1="13.0" y1="107.4" x2="8.0" y2="74.9" stroke="#a0a0a0" stroke-width="0.7"/>
<line x1="66.5" y1="58.3" x2="148.2" y2="82.1" stroke="#a0a0a0" stroke-width="0.6"/>
<line x1="13.0" y1="107.4" x2="66.5" y2="58.3" stroke="#a0a0a0" stroke-width="0.6"/>
<g class="s3"><polygon class="q0" points="65.1,58.2 67.4,58.9 68.8,57.7 66.5,56.9"/><polygon class="q1" points="67.4,58.9 69.7,59.7 71.0,58.4 68.8,57.7"/><polygon class="q0" points="63.7,59.5 66.0,60.2 67.4,58.9 65.1,58.2"/><polygon class="q2" points="69.7,59.7 72.0,60.4 73.4,59.1 71.0,58.4"/><path class="m" d="M69.7,59.7L71.0,58.4"/><polygon class="q1" points="66.0,60.2 68.3,61.0 69.7,59.7 67.4,58.9"/><polygon class="q2" points="72.0,60.4 74.3,61.2 75.7,59.9 73.4,59.1"/><polygon class="q0" points="62.3,60.8 64.6,61.5 66.0,60.2 63.7,59.5"/><path class="m" d="M63.7,59.5L66.0,60.2"/><polygon class="q2" points="68.3,61.0 70.6,61.7 72.0,60.4 69.7,59.7"/><path class="m" d="M68.3,61.0L69.7,59.7"/><polygon class="q3" points="74.3,61.2 76.7,61.9 78.0,60.6 75.7,59.9"/><path class="m" d="M74.3,61.2L75.7,59.9"/><polygon class="q1" points="64.6,61.5 66.9,62.3 68.3,61.0 66.0,60.2"/><path class="m" d="M66.0,60.2L68.3,61.0"/><polygon class="q2" points="70.6,61.7 73.0,62.5 74.3,61.2 72.0,60.4"/><polygon class="q0" points="60.8,62.1 63.1,62.8 64.6,61.5 62.3,60.8"/><polygon class="q4" points="76.7,61.9 79.1,62.5 80.4,61.1 78.0,60.6"/><polygon class="q2" points="66.9,62.3 69.2,63.0 70.6,61.7 68.3,61.0"/><path class="m" d="M66.9,62.3L68.3,61.0"/><path class="m" d="M68.3,61.0L70.6,61.7"/><polygon class="q3" points="73.0,62.5 75.3,63.3 76.7,61.9 74.3,61.2"/><path class="m" d="M73.0,62.5L74.3,61.2"/><polygon class="q1" points="63.1,62.8 65.5,63.6 66.9,62.3 64.6,61.5"/><polygon class="q0" points="79.1,62.5 81.5,62.9 82.8,61.6 80.4,61.1"/><path class="m" d="M79.1,62.5L80.4,61.1"/><polygon class="q2" points="69.2,63.0 71.6,63.8 73.0,62.5 70.6,61.7"/><path class="m" d="M70.6,61.7L73.0,62.5"/><polygon class="q0" points="59.4,63.4 61.7,64.2 63.1,62.8 60.8,62.1"/><path class="m" d="M60.8,62.1L63.1,62.8"/><polygon class="q4" points="75.3,63.3 77.7,63.8 79.1,62.5 76.7,61.9"/><polygon class="q2" points="65.5,63.6 67.8,64.4 69.2,63.0 66.9,62.3"/><path class="m" d="M65.5,63.6L66.9,62.3"/><polygon class="q3" points="71.6,63.8 74.0,64.6 75.3,63.3 73.0,62.5"/><path class="m" d="M71.6,63.8L73.0,62.5"/><path class="m" d="M73.0,62.5L75.3,63.3"/><polygon class="q5" points="81.5,62.9 83.9,63.4 85.2,62.1 82.8,61.6"/><polygon class="q1" points="61.7,64.2 64.0,64.9 65.5,63.6 63.1,62.8"/><path class="m" d="M63.1,62.8L65.5,63.6"/><polygon class="q0" points="77.7,63.8 80.1,64.3 81.5,62.9 79.1,62.5"/><path class="m" d="M77.7,63.8L79.1,62.5"/><polygon class="q2" points="67.8,64.4 70.2,65.2 71.6,63.8 69.2,63.0"/><polygon class="q0" points="57.9,64.7 60.2,65.5 61.7,64.2 59.4,63.4"/><polygon class="q4" points="74.0,64.6 76.3,65.1 77.7,63.8 75.3,63.3"/><path class="m" d="M75.3,63.3L77.7,63.8"/><polygon class="q2" points="64.0,64.9 66.4,65.7 67.8,64.4 65.5,63.6"/><path class="m" d="M64.0,64.9L65.5,63.6"/><path class="m" d="M65.5,63.6L67.8,64.4"/><polygon class="q6" points="83.9,63.4 86.3,63.1 87.6,61.7 85.2,62.1"/><path class="m" d="M83.9,63.4L85.2,62.1"/><polygon class="q3" points="70.2,65.2 72.6,66.0 74.0,64.6 71.6,63.8"/><path class="m" d="M70.2,65.2L71.6,63.8"/><polygon class="q5" points="80.1,64.3 82.5,64.8 83.9,63.4 81.5,62.9"/><polygon class="q1" points="60.2,65.5 62.6,66.3 64.0,64.9 61.7,64.2"/><polygon class="q0" points="76.3,65.1 78.7,65.6 80.1,64.3 77.7,63.8"/><path class="m" d="M76.3,65.1L77.7,63.8"/><path class="m" d="M77.7,63.8L80.1,64.3"/><polygon class="q2" points="66.4,65.7 68.8,66.5 70.2,65.2 67.8,64.4"/><path class="m" d="M67.8,64.4L70.2,65.2"/><polygon class="q0" points="56.4,66.1 58.8,66.9 60.2,65.5 57.9,64.7"/><path class="m" d="M57.9,64.7L60.2,65.5"/><polygon class="q4" points="72.6,66.0 75.0,66.5 76.3,65.1 74.0,64.6"/><polygon class="q2" points="62.6,66.3 65.0,67.1 66.4,65.7 64.0,64.9"/><path class="m" d="M62.6,66.3L64.0,64.9"/><polygon class="q6" points="82.5,64.8 85.0,64.5 86.3,63.1 83.9,63.4"/><path class="m" d="M82.5,64.8L83.9,63.4"/><polygon class="q7" points="86.3,63.1 88.8,62.6 90.1,61.2 87.6,61.7"/><polygon class="q3" points="68.8,66.5 71.2,67.3 72.6,66.0 70.2,65.2"/><path class="m" d="M68.8,66.5L70.2,65.2"/><path class="m" d="M70.2,65.2L72.6,66.0"/><polygon class="q5" points="78.7,65.6 81.2,66.1 82.5,64.8 80.1,64.3"/><path class="m" d="M80.1,64.3L82.5,64.8"/><polygon class="q1" points="58.8,66.9 61.1,67.7 62.6,66.3 60.2,65.5"/><path class="m" d="M60.2,65.5L62.6,66.3"/><polygon class="q0" points="75.0,66.5 77.4,67.0 78.7,65.6 76.3,65.1"/><path class="m" d="M75.0,66.5L76.3,65.1"/><polygon class="q2" points="65.0,67.1 67.3,67.9 68.8,66.5 66.4,65.7"/><polygon class="q0" points="54.9,67.5 57.3,68.2 58.8,66.9 56.4,66.1"/><polygon class="q4" points="71.2,67.3 73.6,67.9 75.0,66.5 72.6,66.0"/><path class="m" d="M72.6,66.0L75.0,66.5"/><polygon class="q8" points="88.8,62.6 90.0,62.4 91.3,61.0 90.1,61.2"/><path class="m" d="M88.8,62.6L90.1,61.2"/><polygon class="q2" points="61.1,67.7 63.5,68.5 65.0,67.1 62.6,66.3"/><path class="m" d="M61.1,67.7L62.6,66.3"/><path class="m" d="M62.6,66.3L65.0,67.1"/><polygon class="q6" points="81.2,66.1 83.6,65.9 85.0,64.5 82.5,64.8"/><path class="m" d="M81.2,66.1L82.5,64.8"/><path class="m" d="M82.5,64.8L85.0,64.5"/><polygon class="q7" points="85.0,64.5 87.4,64.0 88.8,62.6 86.3,63.1"/><polygon class="q3" points="67.3,67.9 69.7,68.7 71.2,67.3 68.8,66.5"/><path class="m" d="M67.3,67.9L68.8,66.5"/><polygon class="q5" points="77.4,67.0 79.8,67.5 81.2,66.1 78.7,65.6"/><polygon class="q1" points="57.3,68.2 59.6,69.1 61.1,67.7 58.8,66.9"/><polygon class="q9" points="90.0,62.4 91.3,62.1 92.6,60.7 91.3,61.0"/><polygon class="q1" points="73.6,67.9 76.0,68.4 77.4,67.0 75.0,66.5"/><path class="m" d="M73.6,67.9L75.0,66.5"/><path class="m" d="M75.0,66.5L77.4,67.0"/><polygon class="q2" points="63.5,68.5 65.9,69.3 67.3,67.9 65.0,67.1"/><path class="m" d="M65.0,67.1L67.3,67.9"/><polygon class="q0" points="53.4,68.9 55.8,69.6 57.3,68.2 54.9,67.5"/><path class="m" d="M54.9,67.5L57.3,68.2"/><polygon class="q4" points="69.7,68.7 72.1,69.3 73.6,67.9 71.2,67.3"/><polygon class="q10" points="87.4,64.0 88.7,63.8 90.0,62.4 88.8,62.6"/><path class="m" d="M87.4,64.0L88.8,62.6"/><polygon class="q11" points="91.3,62.1 92.5,61.8 93.8,60.3 92.6,60.7"/><polygon class="q2" points="59.6,69.1 62.0,69.9 63.5,68.5 61.1,67.7"/><path class="m" d="M59.6,69.1L61.1,67.7"/><polygon class="q6" points="79.8,67.5 82.3,67.3 83.6,65.9 81.2,66.1"/><path class="m" d="M79.8,67.5L81.2,66.1"/><polygon class="q12" points="83.6,65.9 86.1,65.5 87.4,64.0 85.0,64.5"/><path class="m" d="M85.0,64.5L87.4,64.0"/><polygon class="q3" points="65.9,69.3 68.3,70.1 69.7,68.7 67.3,67.9"/><path class="m" d="M65.9,69.3L67.3,67.9"/><path class="m" d="M67.3,67.9L69.7,68.7"/><polygon class="q5" points="76.0,68.4 78.4,68.9 79.8,67.5 77.4,67.0"/><path class="m" d="M77.4,67.0L79.8,67.5"/><polygon class="q1" points="55.8,69.6 58.1,70.5 59.6,69.1 57.3,68.2"/><path class="m" d="M57.3,68.2L59.6,69.1"/><polygon class="q13" points="88.7,63.8 89.9,63.5 91.3,62.1 90.0,62.4"/><polygon class="q1" points="72.1,69.3 74.6,69.8 76.0,68.4 73.6,67.9"/><path class="m" d="M72.1,69.3L73.6,67.9"/><polygon class="q2" points="62.0,69.9 64.4,70.7 65.9,69.3 63.5,68.5"/><polygon class="q14" points="92.5,61.8 93.8,61.0 95.1,59.5 93.8,60.3"/><polygon class="q0" points="51.9,70.3 54.2,71.1 55.8,69.6 53.4,68.9"/><polygon class="q4" points="68.3,70.1 70.7,70.7 72.1,69.3 69.7,68.7"/><path class="m" d="M69.7,68.7L72.1,69.3"/><polygon class="q15" points="86.1,65.5 87.4,65.2 88.7,63.8 87.4,64.0"/><path class="m" d="M86.1,65.5L87.4,64.0"/><path class="m" d="M87.4,64.0L88.7,63.8"/><polygon class="q16" points="89.9,63.5 91.2,63.3 92.5,61.8 91.3,62.1"/><polygon class="q2" points="58.1,70.5 60.5,71.3 62.0,69.9 59.6,69.1"/><path class="m" d="M58.1,70.5L59.6,69.1"/><path class="m" d="M59.6,69.1L62.0,69.9"/><polygon class="q6" points="78.4,68.9 80.9,68.8 82.3,67.3 79.8,67.5"/><path class="m" d="M78.4,68.9L79.8,67.5"/><path class="m" d="M79.8,67.5L82.3,67.3"/><polygon class="q17" points="82.3,67.3 84.7,66.9 86.1,65.5 83.6,65.9"/><polygon class="q3" points="64.4,70.7 66.8,71.5 68.3,70.1 65.9,69.3"/><path class="m" d="M64.4,70.7L65.9,69.3"/><polygon class="q5" points="74.6,69.8 77.0,70.3 78.4,68.9 76.0,68.4"/><polygon class="q18" points="93.8,61.0 95.1,60.1 96.4,58.7 95.1,59.5"/><path class="m" d="M93.8,61.0L95.1,59.5"/><polygon class="q1" points="54.2,71.1 56.6,71.9 58.1,70.5 55.8,69.6"/><polygon class="q19" points="87.4,65.2 88.6,65.0 89.9,63.5 88.7,63.8"/><path class="m" d="M88.7,63.8L89.9,63.5"/><polygon class="q1" points="70.7,70.7 73.1,71.3 74.6,69.8 72.1,69.3"/><path class="m" d="M70.7,70.7L72.1,69.3"/><path class="m" d="M72.1,69.3L74.6,69.8"/><polygon class="q20" points="91.2,63.3 92.5,62.4 93.8,61.0 92.5,61.8"/><polygon class="q2" points="60.5,71.3 62.9,72.1 64.4,70.7 62.0,69.9"/><path class="m" d="M62.0,69.9L64.4,70.7"/><polygon class="q21" points="50.3,71.7 52.7,72.5 54.2,71.1 51.9,70.3"/><path class="m" d="M51.9,70.3L54.2,71.1"/><polygon class="q4" points="66.8,71.5 69.3,72.2 70.7,70.7 68.3,70.1"/><polygon class="q22" points="84.7,66.9 86.0,66.7 87.4,65.2 86.1,65.5"/><path class="m" d="M84.7,66.9L86.1,65.5"/><polygon class="q23" points="88.6,65.0 89.9,64.7 91.2,63.3 89.9,63.5"/><path class="m" d="M89.9,63.5L91.2,63.3"/><polygon class="q2" points="56.6,71.9 59.0,72.7 60.5,71.3 58.1,70.5"/><path class="m" d="M56.6,71.9L58.1,70.5"/><polygon class="q17" points="80.9,68.8 83.4,68.4 84.7,66.9 82.3,67.3"/><path class="m" d="M82.3,67.3L84.7,66.9"/><polygon class="q24" points="77.0,70.3 79.5,70.2 80.9,68.8 78.4,68.9"/><path class="m" d="M77.0,70.3L78.4,68.9"/><polygon class="q25" points="95.1,60.1 96.4,59.3 97.7,57.8 96.4,58.7"/><polygon class="q3" points="62.9,72.1 65.4,73.0 66.8,71.5 64.4,70.7"/><path class="m" d="M62.9,72.1L64.4,70.7"/><path class="m" d="M64.4,70.7L66.8,71.5"/><polygon class="q5" points="73.1,71.3 75.6,71.8 77.0,70.3 74.6,69.8"/><path class="m" d="M74.6,69.8L77.0,70.3"/><polygon class="q26" points="92.5,62.4 93.8,61.6 95.1,60.1 93.8,61.0"/><path class="m" d="M92.5,62.4L93.8,61.0"/><polygon class="q27" points="86.0,66.7 87.3,66.4 88.6,65.0 87.4,65.2"/><polygon class="q0" points="52.7,72.5 55.1,73.3 56.6,71.9 54.2,71.1"/><path class="m" d="M54.2,71.1L56.6,71.9"/><polygon class="q1" points="69.3,72.2 71.7,72.7 73.1,71.3 70.7,70.7"/><path class="m" d="M69.3,72.2L70.7,70.7"/><polygon class="q28" points="89.9,64.7 91.2,63.9 92.5,62.4 91.2,63.3"/><path class="m" d="M91.2,63.3L92.5,62.4"/><polygon class="q2" points="59.0,72.7 61.4,73.6 62.9,72.1 60.5,71.3"/><polygon class="q21" points="48.7,73.1 51.1,73.9 52.7,72.5 50.3,71.7"/><polygon class="q3" points="65.4,73.0 67.8,73.6 69.3,72.2 66.8,71.5"/><path class="m" d="M66.8,71.5L69.3,72.2"/><polygon class="q29" points="83.4,68.4 84.6,68.1 86.0,66.7 84.7,66.9"/><path class="m" d="M83.4,68.4L84.7,66.9"/><path class="m" d="M84.7,66.9L86.0,66.7"/><polygon class="q30" points="87.3,66.4 88.5,66.2 89.9,64.7 88.6,65.0"/><polygon class="q31" points="96.4,59.3 97.7,57.7 99.0,56.0 97.7,57.8"/><polygon class="q2" points="55.1,73.3 57.5,74.2 59.0,72.7 56.6,71.9"/><path class="m" d="M55.1,73.3L56.6,71.9"/><path class="m" d="M56.6,71.9L59.0,72.7"/><polygon class="q32" points="93.8,61.6 95.1,60.7 96.4,59.3 95.1,60.1"/><polygon class="q17" points="79.5,70.2 82.0,69.8 83.4,68.4 80.9,68.8"/><polygon class="q33" points="75.6,71.8 78.1,71.7 79.5,70.2 77.0,70.3"/><path class="m" d="M75.6,71.8L77.0,70.3"/><path class="m" d="M77.0,70.3L79.5,70.2"/><polygon class="q3" points="61.4,73.6 63.9,74.4 65.4,73.0 62.9,72.1"/><path class="m" d="M61.4,73.6L62.9,72.1"/><polygon class="q5" points="71.7,72.7 74.2,73.2 75.6,71.8 73.1,71.3"/><polygon class="q34" points="91.2,63.9 92.5,63.1 93.8,61.6 92.5,62.4"/><path class="m" d="M91.2,63.9L92.5,62.4"/><path class="m" d="M92.5,62.4L93.8,61.6"/><polygon class="q35" points="84.6,68.1 85.9,67.9 87.3,66.4 86.0,66.7"/><path class="m" d="M86.0,66.7L87.3,66.4"/><polygon class="q0" points="51.1,73.9 53.5,74.8 55.1,73.3 52.7,72.5"/><polygon class="q1" points="67.8,73.6 70.2,74.2 71.7,72.7 69.3,72.2"/><path class="m" d="M67.8,73.6L69.3,72.2"/><path class="m" d="M69.3,72.2L71.7,72.7"/><polygon class="q36" points="88.5,66.2 89.8,65.4 91.2,63.9 89.9,64.7"/><polygon class="q2" points="57.5,74.2 59.9,75.0 61.4,73.6 59.0,72.7"/><path class="m" d="M59.0,72.7L61.4,73.6"/><polygon class="q21" points="47.1,74.6 49.5,75.4 51.1,73.9 48.7,73.1"/><path class="m" d="M48.7,73.1L51.1,73.9"/><polygon class="q37" points="82.0,69.8 83.2,69.6 84.6,68.1 83.4,68.4"/><path class="m" d="M82.0,69.8L83.4,68.4"/><polygon class="q3" points="63.9,74.4 66.3,75.1 67.8,73.6 65.4,73.0"/><polygon class="q38" points="95.1,60.7 96.4,59.4 97.7,57.7 96.4,59.3"/><polygon class="q39" points="85.9,67.9 87.2,67.6 88.5,66.2 87.3,66.4"/><path class="m" d="M87.3,66.4L88.5,66.2"/><polygon class="q2" points="53.5,74.8 55.9,75.6 57.5,74.2 55.1,73.3"/><path class="m" d="M53.5,74.8L55.1,73.3"/><polygon class="q40" points="92.5,63.1 93.8,62.2 95.1,60.7 93.8,61.6"/><path class="m" d="M93.8,61.6L95.1,60.7"/><polygon class="q17" points="78.1,71.7 80.6,71.3 82.0,69.8 79.5,70.2"/><path class="m" d="M79.5,70.2L82.0,69.8"/><polygon class="q41" points="74.2,73.2 76.7,73.2 78.1,71.7 75.6,71.8"/><path class="m" d="M74.2,73.2L75.6,71.8"/><polygon class="q3" points="59.9,75.0 62.3,75.9 63.9,74.4 61.4,73.6"/><path class="m" d="M59.9,75.0L61.4,73.6"/><path class="m" d="M61.4,73.6L63.9,74.4"/><polygon class="q5" points="70.2,74.2 72.7,74.7 74.2,73.2 71.7,72.7"/><path class="m" d="M71.7,72.7L74.2,73.2"/><polygon class="q42" points="89.8,65.4 91.1,64.5 92.5,63.1 91.2,63.9"/><path class="m" d="M89.8,65.4L91.2,63.9"/><polygon class="q43" points="83.2,69.6 84.5,69.4 85.9,67.9 84.6,68.1"/><polygon class="q0" points="49.5,75.4 51.9,76.2 53.5,74.8 51.1,73.9"/><path class="m" d="M51.1,73.9L53.5,74.8"/><polygon class="q44" points="87.2,67.6 88.5,66.9 89.8,65.4 88.5,66.2"/><path class="m" d="M88.5,66.2L89.8,65.4"/><polygon class="q2" points="66.3,75.1 68.8,75.6 70.2,74.2 67.8,73.6"/><path class="m" d="M66.3,75.1L67.8,73.6"/><polygon class="q45" points="97.7,57.7 99.2,52.6 100.5,50.8 99.0,56.0"/><polygon class="q2" points="55.9,75.6 58.4,76.5 59.9,75.0 57.5,74.2"/><polygon class="q21" points="45.5,76.0 47.9,76.9 49.5,75.4 47.1,74.6"/><polygon class="q46" points="93.8,62.2 95.1,61.2 96.4,59.4 95.1,60.7"/><path class="m" d="M95.1,60.7L96.4,59.4"/><polygon class="q47" points="80.6,71.3 81.8,71.1 83.2,69.6 82.0,69.8"/><path class="m" d="M80.6,71.3L82.0,69.8"/><path class="m" d="M82.0,69.8L83.2,69.6"/><polygon class="q3" points="62.3,75.9 64.8,76.6 66.3,75.1 63.9,74.4"/><path class="m" d="M63.9,74.4L66.3,75.1"/><polygon class="q48" points="84.5,69.4 85.8,69.1 87.2,67.6 85.9,67.9"/><polygon class="q49" points="91.1,64.5 92.4,63.7 93.8,62.2 92.5,63.1"/><polygon class="q2" points="51.9,76.2 54.4,77.1 55.9,75.6 53.5,74.8"/><path class="m" d="M51.9,76.2L53.5,74.8"/><path class="m" d="M53.5,74.8L55.9,75.6"/><polygon class="q17" points="76.7,73.2 79.2,72.8 80.6,71.3 78.1,71.7"/><polygon class="q41" points="72.7,74.7 75.2,74.7 76.7,73.2 74.2,73.2"/><path class="m" d="M72.7,74.7L74.2,73.2"/><path class="m" d="M74.2,73.2L76.7,73.2"/><polygon class="q3" points="58.4,76.5 60.8,77.4 62.3,75.9 59.9,75.0"/><path class="m" d="M58.4,76.5L59.9,75.0"/><polygon class="q50" points="88.5,66.9 89.8,66.1 91.1,64.5 89.8,65.4"/><path class="m" d="M88.5,66.9L89.8,65.4"/><path class="m" d="M89.8,65.4L91.1,64.5"/><polygon class="q5" points="68.8,75.6 71.3,76.2 72.7,74.7 70.2,74.2"/><polygon class="q51" points="81.8,71.1 83.1,70.9 84.5,69.4 83.2,69.6"/><path class="m" d="M83.2,69.6L84.5,69.4"/><polygon class="q52" points="96.4,59.4 97.9,54.5 99.2,52.6 97.7,57.7"/><polygon class="q0" points="47.9,76.9 50.3,77.7 51.9,76.2 49.5,75.4"/><polygon class="q53" points="85.8,69.1 87.1,68.4 88.5,66.9 87.2,67.6"/><polygon class="q2" points="64.8,76.6 67.3,77.1 68.8,75.6 66.3,75.1"/><path class="m" d="M64.8,76.6L66.3,75.1"/><path class="m" d="M66.3,75.1L68.8,75.6"/><polygon class="q2" points="54.4,77.1 56.8,78.0 58.4,76.5 55.9,75.6"/><path class="m" d="M55.9,75.6L58.4,76.5"/><polygon class="q54" points="92.4,63.7 93.8,62.8 95.1,61.2 93.8,62.2"/><polygon class="q21" points="43.9,77.5 46.3,78.4 47.9,76.9 45.5,76.0"/><path class="m" d="M45.5,76.0L47.9,76.9"/><polygon class="q55" points="79.2,72.8 80.4,72.6 81.8,71.1 80.6,71.3"/><path class="m" d="M79.2,72.8L80.6,71.3"/><polygon class="q3" points="60.8,77.4 63.3,78.1 64.8,76.6 62.3,75.9"/><polygon class="q56" points="83.1,70.9 84.4,70.6 85.8,69.1 84.5,69.4"/><path class="m" d="M84.5,69.4L85.8,69.1"/><polygon class="q57" points="89.8,66.1 91.1,65.2 92.4,63.7 91.1,64.5"/><path class="m" d="M91.1,64.5L92.4,63.7"/><polygon class="q58" points="75.2,74.7 77.7,74.4 79.2,72.8 76.7,73.2"/><path class="m" d="M76.7,73.2L79.2,72.8"/><polygon class="q2" points="50.3,77.7 52.8,78.6 54.4,77.1 51.9,76.2"/><path class="m" d="M50.3,77.7L51.9,76.2"/><polygon class="q41" points="71.3,76.2 73.8,76.3 75.2,74.7 72.7,74.7"/><path class="m" d="M71.3,76.2L72.7,74.7"/><polygon class="q59" points="87.1,68.4 88.4,67.6 89.8,66.1 88.5,66.9"/><path class="m" d="M87.1,68.4L88.5,66.9"/><polygon class="q3" points="56.8,78.0 59.3,78.9 60.8,77.4 58.4,76.5"/><path class="m" d="M56.8,78.0L58.4,76.5"/><path class="m" d="M58.4,76.5L60.8,77.4"/><polygon class="q60" points="95.1,61.2 96.5,56.5 97.9,54.5 96.4,59.4"/><path class="m" d="M96.4,59.4L97.9,54.5"/><polygon class="q5" points="67.3,77.1 69.8,77.7 71.3,76.2 68.8,75.6"/><path class="m" d="M68.8,75.6L71.3,76.2"/><polygon class="q61" points="80.4,72.6 81.7,72.4 83.1,70.9 81.8,71.1"/><polygon class="q0" points="46.3,78.4 48.7,79.2 50.3,77.7 47.9,76.9"/><path class="m" d="M47.9,76.9L50.3,77.7"/><polygon class="q62" points="84.4,70.6 85.7,70.0 87.1,68.4 85.8,69.1"/><path class="m" d="M85.8,69.1L87.1,68.4"/><polygon class="q2" points="63.3,78.1 65.8,78.7 67.3,77.1 64.8,76.6"/><path class="m" d="M63.3,78.1L64.8,76.6"/><polygon class="q2" points="52.8,78.6 55.2,79.5 56.8,78.0 54.4,77.1"/><polygon class="q63" points="99.2,52.6 100.7,47.5 102.1,45.8 100.5,50.8"/><path class="m" d="M99.2,52.6L100.5,50.8"/><polygon class="q64" points="91.1,65.2 92.4,64.3 93.8,62.8 92.4,63.7"/><path class="m" d="M92.4,63.7L93.8,62.8"/><polygon class="q65" points="77.7,74.4 79.0,74.1 80.4,72.6 79.2,72.8"/><path class="m" d="M77.7,74.4L79.2,72.8"/><path class="m" d="M79.2,72.8L80.4,72.6"/><polygon class="q0" points="42.2,79.2 44.7,79.9 46.3,78.4 43.9,77.5"/><polygon class="q3" points="59.3,78.9 61.7,79.6 63.3,78.1 60.8,77.4"/><path class="m" d="M60.8,77.4L63.3,78.1"/><polygon class="q66" points="81.7,72.4 83.0,72.1 84.4,70.6 83.1,70.9"/><polygon class="q67" points="88.4,67.6 89.7,66.7 91.1,65.2 89.8,66.1"/><polygon class="q68" points="73.8,76.3 76.3,75.9 77.7,74.4 75.2,74.7"/><polygon class="q2" points="48.7,79.2 51.2,80.1 52.8,78.6 50.3,77.7"/><path class="m" d="M48.7,79.2L50.3,77.7"/><path class="m" d="M50.3,77.7L52.8,78.6"/><polygon class="q41" points="69.8,77.7 72.3,77.8 73.8,76.3 71.3,76.2"/><path class="m" d="M69.8,77.7L71.3,76.2"/><path class="m" d="M71.3,76.2L73.8,76.3"/><polygon class="q69" points="93.8,62.8 95.2,58.4 96.5,56.5 95.1,61.2"/><polygon class="q70" points="85.7,70.0 87.0,69.1 88.4,67.6 87.1,68.4"/><path class="m" d="M85.7,70.0L87.1,68.4"/><path class="m" d="M87.1,68.4L88.4,67.6"/><polygon class="q3" points="55.2,79.5 57.7,80.4 59.3,78.9 56.8,78.0"/><path class="m" d="M55.2,79.5L56.8,78.0"/><polygon class="q5" points="65.8,78.7 68.3,79.2 69.8,77.7 67.3,77.1"/><polygon class="q71" points="79.0,74.1 80.3,73.9 81.7,72.4 80.4,72.6"/><path class="m" d="M80.4,72.6L81.7,72.4"/><polygon class="q0" points="44.7,79.9 47.1,80.6 48.7,79.2 46.3,78.4"/><polygon class="q72" points="83.0,72.1 84.3,71.6 85.7,70.0 84.4,70.6"/><polygon class="q73" points="97.9,54.5 99.4,49.3 100.7,47.5 99.2,52.6"/><path class="m" d="M97.9,54.5L99.2,52.6"/><polygon class="q2" points="61.7,79.6 64.2,80.2 65.8,78.7 63.3,78.1"/><path class="m" d="M61.7,79.6L63.3,78.1"/><path class="m" d="M63.3,78.1L65.8,78.7"/><polygon class="q2" points="51.2,80.1 53.6,81.0 55.2,79.5 52.8,78.6"/><path class="m" d="M52.8,78.6L55.2,79.5"/><polygon class="q74" points="89.7,66.7 91.0,65.8 92.4,64.3 91.1,65.2"/><polygon class="q75" points="76.3,75.9 77.5,75.7 79.0,74.1 77.7,74.4"/><path class="m" d="M76.3,75.9L77.7,74.4"/><polygon class="q1" points="40.6,80.7 43.0,81.5 44.7,79.9 42.2,79.2"/><path class="m" d="M42.2,79.2L44.7,79.9"/><polygon class="q76" points="80.3,73.9 81.6,73.7 83.0,72.1 81.7,72.4"/><path class="m" d="M81.7,72.4L83.0,72.1"/><polygon class="q3" points="57.7,80.4 60.2,81.2 61.7,79.6 59.3,78.9"/><polygon class="q77" points="87.0,69.1 88.3,68.3 89.7,66.7 88.4,67.6"/><path class="m" d="M88.4,67.6L89.7,66.7"/><polygon class="q68" points="72.3,77.8 74.8,77.5 76.3,75.9 73.8,76.3"/><path class="m" d="M73.8,76.3L76.3,75.9"/><polygon class="q78" points="92.4,64.3 93.8,60.3 95.2,58.4 93.8,62.8"/><path class="m" d="M93.8,62.8L95.2,58.4"/><polygon class="q41" points="68.3,79.2 70.8,79.4 72.3,77.8 69.8,77.7"/><path class="m" d="M68.3,79.2L69.8,77.7"/><polygon class="q21" points="47.1,80.6 49.5,81.2 51.2,80.1 48.7,79.2"/><path class="m" d="M47.1,80.6L48.7,79.2"/><polygon class="q79" points="84.3,71.6 85.6,70.7 87.0,69.1 85.7,70.0"/><path class="m" d="M84.3,71.6L85.7,70.0"/><polygon class="q4" points="53.6,81.0 56.1,81.9 57.7,80.4 55.2,79.5"/><path class="m" d="M53.6,81.0L55.2,79.5"/><path class="m" d="M55.2,79.5L57.7,80.4"/><polygon class="q5" points="64.2,80.2 66.7,80.8 68.3,79.2 65.8,78.7"/><path class="m" d="M65.8,78.7L68.3,79.2"/><polygon class="q80" points="77.5,75.7 78.8,75.5 80.3,73.9 79.0,74.1"/><polygon class="q81" points="96.5,56.5 98.0,51.1 99.4,49.3 97.9,54.5"/><path class="m" d="M96.5,56.5L97.9,54.5"/><path class="m" d="M97.9,54.5L99.4,49.3"/><polygon class="q82" points="81.6,73.7 82.9,73.2 84.3,71.6 83.0,72.1"/><path class="m" d="M83.0,72.1L84.3,71.6"/><polygon class="q21" points="43.0,81.5 45.4,82.1 47.1,80.6 44.7,79.9"/><path class="m" d="M44.7,79.9L47.1,80.6"/><polygon class="q2" points="60.2,81.2 62.7,81.8 64.2,80.2 61.7,79.6"/><path class="m" d="M60.2,81.2L61.7,79.6"/><polygon class="q83" points="88.3,68.3 89.6,67.4 91.0,65.8 89.7,66.7"/><path class="m" d="M89.7,66.7L91.0,65.8"/><polygon class="q5" points="49.5,81.2 52.0,81.9 53.6,81.0 51.2,80.1"/><polygon class="q84" points="74.8,77.5 76.1,77.3 77.5,75.7 76.3,75.9"/><path class="m" d="M74.8,77.5L76.3,75.9"/><path class="m" d="M76.3,75.9L77.5,75.7"/><polygon class="q1" points="38.9,82.2 41.3,83.0 43.0,81.5 40.6,80.7"/><polygon class="q85" points="100.7,47.5 102.3,41.7 103.6,40.0 102.1,45.8"/><polygon class="q86" points="78.8,75.5 80.1,75.2 81.6,73.7 80.3,73.9"/><polygon class="q3" points="56.1,81.9 58.6,82.7 60.2,81.2 57.7,80.4"/><path class="m" d="M57.7,80.4L60.2,81.2"/><polygon class="q87" points="85.6,70.7 86.9,69.8 88.3,68.3 87.0,69.1"/><polygon class="q88" points="91.0,65.8 92.4,62.1 93.8,60.3 92.4,64.3"/><polygon class="q68" points="70.8,79.4 73.3,79.1 74.8,77.5 72.3,77.8"/><polygon class="q89" points="66.7,80.8 69.3,81.0 70.8,79.4 68.3,79.2"/><path class="m" d="M66.7,80.8L68.3,79.2"/><path class="m" d="M68.3,79.2L70.8,79.4"/><polygon class="q90" points="82.9,73.2 84.2,72.3 85.6,70.7 84.3,71.6"/><path class="m" d="M82.9,73.2L84.3,71.6"/><path class="m" d="M84.3,71.6L85.6,70.7"/><polygon class="q5" points="45.4,82.1 47.9,82.7 49.5,81.2 47.1,80.6"/><path class="m" d="M45.4,82.1L47.1,80.6"/><path class="m" d="M47.1,80.6L49.5,81.2"/><polygon class="q91" points="95.2,58.4 96.7,52.9 98.0,51.1 96.5,56.5"/><path class="m" d="M95.2,58.4L96.5,56.5"/><polygon class="q5" points="62.7,81.8 65.2,82.3 66.7,80.8 64.2,80.2"/><polygon class="q92" points="76.1,77.3 77.4,77.0 78.8,75.5 77.5,75.7"/><path class="m" d="M77.5,75.7L78.8,75.5"/><polygon class="q5" points="52.0,81.9 54.4,82.5 56.1,81.9 53.6,81.0"/><path class="m" d="M52.0,81.9L53.6,81.0"/><polygon class="q93" points="80.1,75.2 81.4,74.8 82.9,73.2 81.6,73.7"/><polygon class="q21" points="41.3,83.0 43.7,83.6 45.4,82.1 43.0,81.5"/><polygon class="q2" points="58.6,82.7 61.1,83.3 62.7,81.8 60.2,81.2"/><path class="m" d="M58.6,82.7L60.2,81.2"/><path class="m" d="M60.2,81.2L62.7,81.8"/><polygon class="q94" points="86.9,69.8 88.2,69.0 89.6,67.4 88.3,68.3"/><polygon class="q95" points="99.4,49.3 101.0,43.4 102.3,41.7 100.7,47.5"/><polygon class="q96" points="73.3,79.1 74.6,78.9 76.1,77.3 74.8,77.5"/><path class="m" d="M73.3,79.1L74.8,77.5"/><polygon class="q1" points="37.2,83.8 39.6,84.6 41.3,83.0 38.9,82.2"/><path class="m" d="M38.9,82.2L41.3,83.0"/><polygon class="q97" points="117.9,58.4 120.5,60.7 121.8,59.1 119.2,56.5"/><polygon class="q98" points="77.4,77.0 78.7,76.8 80.1,75.2 78.8,75.5"/><path class="m" d="M78.8,75.5L80.1,75.2"/><polygon class="q99" points="89.6,67.4 91.0,64.0 92.4,62.1 91.0,65.8"/><path class="m" d="M91.0,65.8L92.4,62.1"/><polygon class="q100" points="47.9,82.7 50.3,83.4 52.0,81.9 49.5,81.2"/><path class="m" d="M49.5,81.2L52.0,81.9"/><polygon class="q101" points="84.2,72.3 85.5,71.4 86.9,69.8 85.6,70.7"/><path class="m" d="M85.6,70.7L86.9,69.8"/><polygon class="q102" points="116.7,56.5 117.9,58.4 119.2,56.5 117.9,54.7"/><polygon class="q68" points="69.3,81.0 71.8,80.7 73.3,79.1 70.8,79.4"/><path class="m" d="M70.8,79.4L73.3,79.1"/><polygon class="q103" points="120.5,60.7 123.2,62.5 124.4,60.9 121.8,59.1"/><path class="m" d="M120.5,60.7L121.8,59.1"/><polygon class="q104" points="65.2,82.3 67.7,82.6 69.3,81.0 66.7,80.8"/><path class="m" d="M65.2,82.3L66.7,80.8"/><polygon class="q105" points="93.8,60.3 95.3,54.8 96.7,52.9 95.2,58.4"/><path class="m" d="M93.8,60.3L95.2,58.4"/><path class="m" d="M95.2,58.4L96.7,52.9"/><polygon class="q5" points="54.4,82.5 57.0,83.2 58.6,82.7 56.1,81.9"/><polygon class="q106" points="115.4,54.6 116.7,56.5 117.9,54.7 116.7,52.8"/><polygon class="q107" points="81.4,74.8 82.7,73.9 84.2,72.3 82.9,73.2"/><path class="m" d="M81.4,74.8L82.9,73.2"/><polygon class="q108" points="43.7,83.6 46.2,84.3 47.9,82.7 45.4,82.1"/><path class="m" d="M43.7,83.6L45.4,82.1"/><polygon class="q5" points="61.1,83.3 63.6,83.9 65.2,82.3 62.7,81.8"/><path class="m" d="M62.7,81.8L65.2,82.3"/><polygon class="q109" points="74.6,78.9 75.9,78.6 77.4,77.0 76.1,77.3"/><polygon class="q110" points="123.2,62.5 125.9,64.3 127.1,62.7 124.4,60.9"/><polygon class="q111" points="114.2,52.1 115.4,54.6 116.7,52.8 115.5,49.9"/><path class="m" d="M115.4,54.6L116.7,52.8"/><polygon class="q112" points="78.7,76.8 80.0,76.4 81.4,74.8 80.1,75.2"/><path class="m" d="M80.1,75.2L81.4,74.8"/><polygon class="q113" points="102.5,39.7 103.8,40.0 105.1,38.7 103.8,38.4"/><polygon class="q114" points="102.3,41.7 102.5,39.7 103.8,38.4 103.6,40.0"/><polygon class="q21" points="39.6,84.6 42.0,85.2 43.7,83.6 41.3,83.0"/><path class="m" d="M41.3,83.0L43.7,83.6"/><polygon class="q41" points="50.3,83.4 52.8,84.0 54.4,82.5 52.0,81.9"/><path class="m" d="M50.3,83.4L52.0,81.9"/><path class="m" d="M52.0,81.9L54.4,82.5"/><polygon class="q115" points="98.0,51.1 99.6,45.2 101.0,43.4 99.4,49.3"/><path class="m" d="M99.4,49.3L101.0,43.4"/><polygon class="q116" points="125.9,64.3 128.6,66.1 129.8,64.4 127.1,62.7"/><path class="m" d="M125.9,64.3L127.1,62.7"/><polygon class="q117" points="85.5,71.4 86.8,70.5 88.2,69.0 86.9,69.8"/><path class="m" d="M86.9,69.8L88.2,69.0"/><polygon class="q118" points="116.6,60.5 119.3,62.4 120.5,60.7 117.9,58.4"/><polygon class="q119" points="115.4,58.5 116.6,60.5 117.9,58.4 116.7,56.5"/><polygon class="q108" points="57.0,83.2 59.5,83.9 61.1,83.3 58.6,82.7"/><path class="m" d="M57.0,83.2L58.6,82.7"/><polygon class="q120" points="71.8,80.7 73.1,80.5 74.6,78.9 73.3,79.1"/><path class="m" d="M71.8,80.7L73.3,79.1"/><path class="m" d="M73.3,79.1L74.6,78.9"/><polygon class="q121" points="88.2,69.0 89.6,65.8 91.0,64.0 89.6,67.4"/><polygon class="q1" points="35.4,85.4 37.9,86.2 39.6,84.6 37.2,83.8"/><polygon class="q122" points="75.9,78.6 77.2,78.4 78.7,76.8 77.4,77.0"/><polygon class="q123" points="82.7,73.9 84.0,73.0 85.5,71.4 84.2,72.3"/><polygon class="q100" points="46.2,84.3 48.7,84.9 50.3,83.4 47.9,82.7"/><polygon class="q124" points="92.4,62.1 93.9,56.8 95.3,54.8 93.8,60.3"/><path class="m" d="M92.4,62.1L93.8,60.3"/><polygon class="q125" points="128.6,66.1 131.3,67.9 132.5,66.2 129.8,64.4"/><polygon class="q126" points="114.1,56.5 115.4,58.5 116.7,56.5 115.4,54.6"/><polygon class="q127" points="119.3,62.4 122.0,64.2 123.2,62.5 120.5,60.7"/><path class="m" d="M119.3,62.4L120.5,60.7"/><polygon class="q128" points="113.0,48.3 114.2,52.1 115.5,49.9 114.3,46.2"/><polygon class="q129" points="67.7,82.6 70.3,82.3 71.8,80.7 69.3,81.0"/><polygon class="q113" points="103.8,40.0 105.1,40.4 106.4,39.1 105.1,38.7"/><polygon class="q104" points="63.6,83.9 66.2,84.2 67.7,82.6 65.2,82.3"/><path class="m" d="M63.6,83.9L65.2,82.3"/><path class="m" d="M65.2,82.3L67.7,82.6"/><polygon class="q130" points="80.0,76.4 81.3,75.5 82.7,73.9 81.4,74.8"/><path class="m" d="M80.0,76.4L81.4,74.8"/><path class="m" d="M81.4,74.8L82.7,73.9"/><polygon class="q131" points="112.8,54.5 114.1,56.5 115.4,54.6 114.2,52.1"/><path class="m" d="M114.1,56.5L115.4,54.6"/><polygon class="q108" points="42.0,85.2 44.5,85.8 46.2,84.3 43.7,83.6"/><path class="m" d="M42.0,85.2L43.7,83.6"/><path class="m" d="M43.7,83.6L46.2,84.3"/><polygon class="q132" points="122.0,64.2 124.7,66.0 125.9,64.3 123.2,62.5"/><polygon class="q133" points="52.8,84.0 55.3,84.7 57.0,83.2 54.4,82.5"/><path class="m" d="M54.4,82.5L57.0,83.2"/><polygon class="q134" points="131.3,67.9 134.1,69.1 135.3,67.6 132.5,66.2"/><path class="m" d="M131.3,67.9L132.5,66.2"/><polygon class="q8" points="73.1,80.5 74.4,80.3 75.9,78.6 74.6,78.9"/><path class="m" d="M74.6,78.9L75.9,78.6"/><polygon class="q113" points="105.1,40.4 106.5,40.7 107.8,39.4 106.4,39.1"/><polygon class="q113" points="101.2,41.0 102.4,41.3 103.8,40.0 102.5,39.7"/><polygon class="q114" points="101.0,43.4 101.2,41.0 102.5,39.7 102.3,41.7"/><polygon class="q135" points="77.2,78.4 78.5,78.1 80.0,76.4 78.7,76.8"/><polygon class="q136" points="96.7,52.9 98.2,47.0 99.6,45.2 98.0,51.1"/><polygon class="q41" points="59.5,83.9 62.0,84.1 63.6,83.9 61.1,83.3"/><polygon class="q21" points="37.9,86.2 40.3,86.8 42.0,85.2 39.6,84.6"/><polygon class="q137" points="124.7,66.0 127.4,67.8 128.6,66.1 125.9,64.3"/><path class="m" d="M124.7,66.0L125.9,64.3"/><polygon class="q138" points="114.1,60.5 115.4,62.2 116.6,60.5 115.4,58.5"/><path class="m" d="M115.4,58.5L116.6,60.5"/><polygon class="q41" points="48.7,84.9 51.2,85.6 52.8,84.0 50.3,83.4"/><path class="m" d="M48.7,84.9L50.3,83.4"/><polygon class="q139" points="84.0,73.0 85.4,72.1 86.8,70.5 85.5,71.4"/><polygon class="q140" points="115.4,62.2 118.1,64.0 119.3,62.4 116.6,60.5"/><path class="m" d="M116.6,60.5L119.3,62.4"/><polygon class="q113" points="106.5,40.7 107.8,41.0 109.1,39.7 107.8,39.4"/><polygon class="q141" points="111.7,50.6 112.8,54.5 114.2,52.1 113.0,48.3"/><polygon class="q142" points="86.8,70.5 88.2,67.7 89.6,65.8 88.2,69.0"/><path class="m" d="M88.2,69.0L89.6,65.8"/><polygon class="q143" points="91.0,64.0 92.5,58.8 93.9,56.8 92.4,62.1"/><path class="m" d="M91.0,64.0L92.4,62.1"/><path class="m" d="M92.4,62.1L93.9,56.8"/><polygon class="q144" points="112.8,58.4 114.1,60.5 115.4,58.5 114.1,56.5"/><path class="m" d="M114.1,56.5L115.4,58.5"/><polygon class="q145" points="70.3,82.3 71.6,82.1 73.1,80.5 71.8,80.7"/><path class="m" d="M70.3,82.3L71.8,80.7"/><polygon class="q146" points="134.1,69.1 136.9,70.3 138.0,68.8 135.3,67.6"/><polygon class="q1" points="33.7,87.0 36.1,87.8 37.9,86.2 35.4,85.4"/><path class="m" d="M35.4,85.4L37.9,86.2"/><polygon class="q9" points="74.4,80.3 75.7,80.0 77.2,78.4 75.9,78.6"/><path class="m" d="M75.9,78.6L77.2,78.4"/><polygon class="q147" points="81.3,75.5 82.6,74.7 84.0,73.0 82.7,73.9"/><path class="m" d="M82.7,73.9L84.0,73.0"/><polygon class="q148" points="127.4,67.8 130.2,69.6 131.3,67.9 128.6,66.1"/><polygon class="q149" points="118.1,64.0 120.8,65.9 122.0,64.2 119.3,62.4"/><path class="m" d="M118.1,64.0L119.3,62.4"/><path class="m" d="M119.3,62.4L122.0,64.2"/><polygon class="q104" points="44.5,85.8 47.0,86.5 48.7,84.9 46.2,84.3"/><path class="m" d="M46.2,84.3L48.7,84.9"/><polygon class="q150" points="111.5,56.3 112.8,58.4 114.1,56.5 112.8,54.5"/><path class="m" d="M112.8,54.5L114.1,56.5"/><path class="m" d="M112.8,58.4L114.1,56.5"/><polygon class="q129" points="66.2,84.2 68.7,83.9 70.3,82.3 67.7,82.6"/><path class="m" d="M67.7,82.6L70.3,82.3"/><polygon class="q113" points="107.8,41.0 109.2,41.4 110.5,40.1 109.1,39.7"/><polygon class="q151" points="55.3,84.7 57.8,85.0 59.5,83.9 57.0,83.2"/><path class="m" d="M55.3,84.7L57.0,83.2"/><path class="m" d="M57.0,83.2L59.5,83.9"/><polygon class="q113" points="113.4,40.8 113.3,40.7 112.7,41.3"/><polygon class="q152" points="111.9,42.8 113.0,48.3 114.3,46.2 113.4,40.8 112.7,41.3"/><polygon class="q113" points="102.4,41.3 103.8,41.7 105.1,40.4 103.8,40.0"/><polygon class="q153" points="78.5,78.1 79.8,77.2 81.3,75.5 80.0,76.4"/><path class="m" d="M78.5,78.1L80.0,76.4"/><polygon class="q154" points="120.8,65.9 123.5,67.7 124.7,66.0 122.0,64.2"/><path class="m" d="M122.0,64.2L124.7,66.0"/><polygon class="q108" points="40.3,86.8 42.8,87.4 44.5,85.8 42.0,85.2"/><path class="m" d="M40.3,86.8L42.0,85.2"/><polygon class="q155" points="130.2,69.6 133.0,70.7 134.1,69.1 131.3,67.9"/><path class="m" d="M130.2,69.6L131.3,67.9"/><polygon class="q156" points="136.9,70.3 139.8,71.5 140.9,69.9 138.0,68.8"/><path class="m" d="M136.9,70.3L138.0,68.8"/><polygon class="q10" points="71.6,82.1 72.9,81.9 74.4,80.3 73.1,80.5"/><polygon class="q133" points="51.2,85.6 53.7,86.2 55.3,84.7 52.8,84.0"/><polygon class="q113" points="109.2,41.4 110.6,41.7 111.9,40.4 110.5,40.1"/><polygon class="q157" points="62.0,84.1 64.6,84.2 66.2,84.2 63.6,83.9"/><path class="m" d="M62.0,84.1L63.6,83.9"/><polygon class="q158" points="95.3,54.8 96.8,48.9 98.2,47.0 96.7,52.9"/><path class="m" d="M96.7,52.9L98.2,47.0"/><polygon class="q113" points="99.9,42.4 101.1,42.7 102.4,41.3 101.2,41.0"/><polygon class="q159" points="99.6,45.2 99.9,42.4 101.2,41.0 101.0,43.4"/><path class="m" d="M101.0,43.4L102.4,41.3"/><polygon class="q113" points="103.8,41.7 105.2,42.0 106.5,40.7 105.1,40.4"/><polygon class="q160" points="75.7,80.0 77.0,79.7 78.5,78.1 77.2,78.4"/><path class="m" d="M77.2,78.4L78.5,78.1"/><polygon class="q161" points="112.8,62.6 114.1,63.9 115.4,62.2 114.1,60.5"/><polygon class="q162" points="110.3,52.8 111.5,56.3 112.8,54.5 111.7,50.6"/><path class="m" d="M111.7,50.6L112.8,54.5"/><polygon class="q163" points="123.5,67.7 126.2,69.5 127.4,67.8 124.7,66.0"/><path class="m" d="M123.5,67.7L124.7,66.0"/><path class="m" d="M124.7,66.0L127.4,67.8"/><polygon class="q21" points="36.1,87.8 38.6,88.4 40.3,86.8 37.9,86.2"/><path class="m" d="M37.9,86.2L40.3,86.8"/><polygon class="q164" points="114.1,63.9 116.8,65.8 118.1,64.0 115.4,62.2"/><polygon class="q113" points="110.6,41.7 111.9,42.1 112.7,41.3 113.3,40.7 111.9,40.4"/><polygon class="q165" points="111.9,42.1 111.9,42.8 112.7,41.3"/><polygon class="q166" points="111.5,60.5 112.8,62.6 114.1,60.5 112.8,58.4"/><polygon class="q167" points="82.6,74.7 83.9,73.8 85.4,72.1 84.0,73.0"/><path class="m" d="M84.0,73.0L85.4,72.1"/><polygon class="q168" points="89.6,65.8 91.1,60.8 92.5,58.8 91.0,64.0"/><path class="m" d="M89.6,65.8L91.0,64.0"/><polygon class="q33" points="47.0,86.5 49.5,87.1 51.2,85.6 48.7,84.9"/><path class="m" d="M47.0,86.5L48.7,84.9"/><path class="m" d="M48.7,84.9L51.2,85.6"/><polygon class="q169" points="85.4,72.1 86.7,69.6 88.2,67.7 86.8,70.5"/><polygon class="q113" points="105.2,42.0 106.5,42.4 107.8,41.0 106.5,40.7"/><polygon class="q170" points="110.6,45.4 111.7,50.6 113.0,48.3 111.9,42.8"/><polygon class="q171" points="68.7,83.9 70.0,83.7 71.6,82.1 70.3,82.3"/><path class="m" d="M68.7,83.9L70.3,82.3"/><path class="m" d="M70.3,82.3L71.6,82.1"/><polygon class="q172" points="133.0,70.7 135.8,71.9 136.9,70.3 134.1,69.1"/><polygon class="q173" points="139.8,71.5 142.6,72.7 143.7,71.1 140.9,69.9"/><polygon class="q174" points="57.8,85.0 60.4,85.0 62.0,84.1 59.5,83.9"/><path class="m" d="M59.5,83.9L62.0,84.1"/><polygon class="q175" points="126.2,69.5 129.0,71.1 130.2,69.6 127.4,67.8"/><path class="m" d="M127.4,67.8L130.2,69.6"/><polygon class="q176" points="79.8,77.2 81.1,76.3 82.6,74.7 81.3,75.5"/><polygon class="q13" points="72.9,81.9 74.2,81.7 75.7,80.0 74.4,80.3"/><polygon class="q177" points="110.2,58.3 111.5,60.5 112.8,58.4 111.5,56.3"/><path class="m" d="M111.5,60.5L112.8,58.4"/><polygon class="q1" points="31.9,88.6 34.4,89.5 36.1,87.8 33.7,87.0"/><polygon class="q178" points="116.8,65.8 119.5,67.6 120.8,65.9 118.1,64.0"/><path class="m" d="M116.8,65.8L118.1,64.0"/><polygon class="q104" points="42.8,87.4 45.3,88.1 47.0,86.5 44.5,85.8"/><polygon class="q113" points="106.5,42.4 107.9,42.7 109.2,41.4 107.8,41.0"/><polygon class="q179" points="77.0,79.7 78.3,78.9 79.8,77.2 78.5,78.1"/><path class="m" d="M77.0,79.7L78.5,78.1"/><path class="m" d="M78.5,78.1L79.8,77.2"/><polygon class="q113" points="101.1,42.7 102.4,43.0 103.8,41.7 102.4,41.3"/><polygon class="q180" points="53.7,86.2 56.2,86.3 57.8,85.0 55.3,84.7"/><path class="m" d="M53.7,86.2L55.3,84.7"/><polygon class="q181" points="119.5,67.6 122.3,69.4 123.5,67.7 120.8,65.9"/><polygon class="q182" points="93.9,56.8 95.4,50.8 96.8,48.9 95.3,54.8"/><polygon class="q183" points="64.6,84.2 67.1,84.3 68.7,83.9 66.2,84.2"/><polygon class="q108" points="38.6,88.4 41.0,89.1 42.8,87.4 40.3,86.8"/><path class="m" d="M38.6,88.4L40.3,86.8"/><path class="m" d="M40.3,86.8L42.8,87.4"/><polygon class="q184" points="129.0,71.1 131.8,72.3 133.0,70.7 130.2,69.6"/><path class="m" d="M129.0,71.1L130.2,69.6"/><path class="m" d="M130.2,69.6L133.0,70.7"/><polygon class="q185" points="109.0,55.2 110.2,58.3 111.5,56.3 110.3,52.8"/><polygon class="q113" points="98.6,43.8 99.7,44.0 101.1,42.7 99.9,42.4"/><polygon class="q186" points="98.2,47.0 98.6,43.8 99.9,42.4 99.6,45.2"/><polygon class="q187" points="135.8,71.9 138.6,73.1 139.8,71.5 136.9,70.3"/><path class="m" d="M135.8,71.9L136.9,70.3"/><polygon class="q188" points="70.0,83.7 71.3,83.5 72.9,81.9 71.6,82.1"/><path class="m" d="M71.6,82.1L72.9,81.9"/><polygon class="q189" points="142.6,72.7 145.5,73.9 146.5,72.3 143.7,71.1"/><path class="m" d="M142.6,72.7L143.7,71.1"/><polygon class="q190" points="111.4,64.7 112.8,65.6 114.1,63.9 112.8,62.6"/><path class="m" d="M112.8,62.6L114.1,63.9"/><polygon class="q113" points="107.9,42.7 109.3,43.1 110.6,41.7 109.2,41.4"/><polygon class="q191" points="49.5,87.1 52.0,87.7 53.7,86.2 51.2,85.6"/><path class="m" d="M51.2,85.6L53.7,86.2"/><polygon class="q192" points="74.2,81.7 75.5,81.4 77.0,79.7 75.7,80.0"/><polygon class="q113" points="102.4,43.0 103.8,43.4 105.2,42.0 103.8,41.7"/><polygon class="q193" points="110.2,62.5 111.4,64.7 112.8,62.6 111.5,60.5"/><path class="m" d="M111.5,60.5L112.8,62.6"/><polygon class="q113" points="109.3,43.1 110.5,43.4 111.9,42.1 110.6,41.7"/><polygon class="q194" points="110.5,43.4 110.6,45.4 111.9,42.8 111.9,42.1"/><polygon class="q195" points="109.2,47.9 110.3,52.8 111.7,50.6 110.6,45.4"/><path class="m" d="M110.6,45.4L111.7,50.6"/><polygon class="q196" points="122.3,69.4 125.0,71.3 126.2,69.5 123.5,67.7"/><path class="m" d="M122.3,69.4L123.5,67.7"/><polygon class="q197" points="88.2,67.7 89.6,62.9 91.1,60.8 89.6,65.8"/><path class="m" d="M88.2,67.7L89.6,65.8"/><path class="m" d="M89.6,65.8L91.1,60.8"/><polygon class="q198" points="112.8,65.6 115.5,67.4 116.8,65.8 114.1,63.9"/><path class="m" d="M114.1,63.9L116.8,65.8"/><polygon class="q21" points="34.4,89.5 36.8,90.1 38.6,88.4 36.1,87.8"/><polygon class="q199" points="81.1,76.3 82.4,75.4 83.9,73.8 82.6,74.7"/><polygon class="q200" points="83.9,73.8 85.3,71.4 86.7,69.6 85.4,72.1"/><path class="m" d="M85.4,72.1L86.7,69.6"/><polygon class="q133" points="45.3,88.1 47.8,88.7 49.5,87.1 47.0,86.5"/><path class="m" d="M45.3,88.1L47.0,86.5"/><polygon class="q201" points="108.9,60.3 110.2,62.5 111.5,60.5 110.2,58.3"/><path class="m" d="M110.2,58.3L111.5,60.5"/><path class="m" d="M110.2,62.5L111.5,60.5"/><polygon class="q113" points="103.8,43.4 105.2,43.7 106.5,42.4 105.2,42.0"/><polygon class="q202" points="60.4,85.0 62.9,85.0 64.6,84.2 62.0,84.1"/><path class="m" d="M60.4,85.0L62.0,84.1"/><path class="m" d="M62.0,84.1L64.6,84.2"/><polygon class="q203" points="131.8,72.3 134.6,73.5 135.8,71.9 133.0,70.7"/><path class="m" d="M133.0,70.7L135.8,71.9"/><polygon class="q204" points="125.0,71.3 127.8,72.8 129.0,71.1 126.2,69.5"/><polygon class="q205" points="115.5,67.4 118.3,69.3 119.5,67.6 116.8,65.8"/><path class="m" d="M115.5,67.4L116.8,65.8"/><path class="m" d="M116.8,65.8L119.5,67.6"/><polygon class="q206" points="138.6,73.1 141.5,74.3 142.6,72.7 139.8,71.5"/><polygon class="q207" points="78.3,78.9 79.6,78.0 81.1,76.3 79.8,77.2"/><path class="m" d="M79.8,77.2L81.1,76.3"/><polygon class="q208" points="145.5,73.9 148.3,75.1 149.4,73.5 146.5,72.3"/><polygon class="q209" points="71.3,83.5 72.6,83.3 74.2,81.7 72.9,81.9"/><path class="m" d="M72.9,81.9L74.2,81.7"/><polygon class="q1" points="30.1,90.3 32.6,91.1 34.4,89.5 31.9,88.6"/><path class="m" d="M31.9,88.6L34.4,89.5"/><polygon class="q210" points="67.1,84.3 68.4,84.4 70.0,83.7 68.7,83.9"/><path class="m" d="M67.1,84.3L68.7,83.9"/><polygon class="q89" points="41.0,89.1 43.5,89.7 45.3,88.1 42.8,87.4"/><path class="m" d="M42.8,87.4L45.3,88.1"/><polygon class="q211" points="56.2,86.3 58.7,86.3 60.4,85.0 57.8,85.0"/><polygon class="q212" points="92.5,58.8 94.0,52.8 95.4,50.8 93.9,56.8"/><path class="m" d="M93.9,56.8L95.4,50.8"/><polygon class="q113" points="105.2,43.7 106.6,44.1 107.9,42.7 106.5,42.4"/><polygon class="q213" points="75.5,81.4 76.8,80.6 78.3,78.9 77.0,79.7"/><path class="m" d="M75.5,81.4L77.0,79.7"/><polygon class="q214" points="107.6,57.6 108.9,60.3 110.2,58.3 109.0,55.2"/><path class="m" d="M109.0,55.2L110.2,58.3"/><polygon class="q113" points="99.7,44.0 101.1,44.4 102.4,43.0 101.1,42.7"/><polygon class="q215" points="118.3,69.3 121.0,71.2 122.3,69.4 119.5,67.6"/><path class="m" d="M119.5,67.6L122.3,69.4"/><polygon class="q216" points="107.8,50.8 109.0,55.2 110.3,52.8 109.2,47.9"/><polygon class="q174" points="52.0,87.7 54.5,87.7 56.2,86.3 53.7,86.2"/><path class="m" d="M52.0,87.7L53.7,86.2"/><path class="m" d="M53.7,86.2L56.2,86.3"/><polygon class="q113" points="97.3,45.2 98.3,45.4 99.7,44.0 98.6,43.8"/><polygon class="q217" points="96.8,48.9 97.3,45.2 98.6,43.8 98.2,47.0"/><path class="m" d="M98.2,47.0L99.7,44.0"/><polygon class="q218" points="110.1,66.4 111.5,67.3 112.8,65.6 111.4,64.7"/><polygon class="q219" points="127.8,72.8 130.6,73.9 131.8,72.3 129.0,71.1"/><path class="m" d="M127.8,72.8L129.0,71.1"/><polygon class="q113" points="108.0,44.4 108.8,44.7 110.5,43.4 109.3,43.1"/><polygon class="q220" points="108.8,44.7 109.2,47.9 110.6,45.4 110.5,43.4"/><path class="m" d="M109.3,43.1L110.6,45.4"/><polygon class="q221" points="108.8,64.6 110.1,66.4 111.4,64.7 110.2,62.5"/><polygon class="q108" points="36.8,90.1 39.3,90.7 41.0,89.1 38.6,88.4"/><path class="m" d="M36.8,90.1L38.6,88.4"/><polygon class="q222" points="134.6,73.5 137.5,74.6 138.6,73.1 135.8,71.9"/><path class="m" d="M134.6,73.5L135.8,71.9"/><path class="m" d="M135.8,71.9L138.6,73.1"/><polygon class="q189" points="141.5,74.3 144.4,75.4 145.5,73.9 142.6,72.7"/><path class="m" d="M141.5,74.3L142.6,72.7"/><polygon class="q223" points="86.7,69.6 88.2,64.9 89.6,62.9 88.2,67.7"/><path class="m" d="M86.7,69.6L88.2,67.7"/><polygon class="q113" points="106.6,44.1 108.0,44.4 109.3,43.1 107.9,42.7"/><polygon class="q23" points="72.6,83.3 73.9,83.1 75.5,81.4 74.2,81.7"/><path class="m" d="M74.2,81.7L75.5,81.4"/><polygon class="q224" points="121.0,71.2 123.8,73.0 125.0,71.3 122.3,69.4"/><path class="m" d="M121.0,71.2L122.3,69.4"/><path class="m" d="M122.3,69.4L125.0,71.3"/><polygon class="q151" points="47.8,88.7 50.3,89.1 52.0,87.7 49.5,87.1"/><polygon class="q113" points="101.1,44.4 102.5,44.7 103.8,43.4 102.4,43.0"/><polygon class="q225" points="68.4,84.4 69.7,84.4 71.3,83.5 70.0,83.7"/><polygon class="q226" points="111.5,67.3 114.2,69.2 115.5,67.4 112.8,65.6"/><polygon class="q227" points="107.5,62.3 108.8,64.6 110.2,62.5 108.9,60.3"/><path class="m" d="M108.8,64.6L110.2,62.5"/><polygon class="q21" points="32.6,91.1 35.0,91.7 36.8,90.1 34.4,89.5"/><path class="m" d="M34.4,89.5L36.8,90.1"/><polygon class="q228" points="82.4,75.4 83.8,73.3 85.3,71.4 83.9,73.8"/><polygon class="q229" points="79.6,78.0 81.0,77.1 82.4,75.4 81.1,76.3"/><path class="m" d="M81.1,76.3L82.4,75.4"/><polygon class="q230" points="62.9,85.0 65.5,85.1 67.1,84.3 64.6,84.2"/><path class="m" d="M64.6,84.2L67.1,84.3"/><polygon class="q133" points="43.5,89.7 46.1,90.3 47.8,88.7 45.3,88.1"/><path class="m" d="M43.5,89.7L45.3,88.1"/><path class="m" d="M45.3,88.1L47.8,88.7"/><polygon class="q113" points="102.5,44.7 103.9,45.1 105.2,43.7 103.8,43.4"/><polygon class="q110" points="114.2,69.2 117.0,71.0 118.3,69.3 115.5,67.4"/><path class="m" d="M114.2,69.2L115.5,67.4"/><polygon class="q231" points="123.8,73.0 126.6,74.4 127.8,72.8 125.0,71.3"/><path class="m" d="M125.0,71.3L127.8,72.8"/><polygon class="q232" points="106.4,53.3 107.6,57.6 109.0,55.2 107.8,50.8"/><path class="m" d="M107.8,50.8L109.0,55.2"/><polygon class="q233" points="130.6,73.9 133.5,75.1 134.6,73.5 131.8,72.3"/><polygon class="q234" points="76.8,80.6 78.1,79.7 79.6,78.0 78.3,78.9"/><polygon class="q206" points="137.5,74.6 140.4,75.8 141.5,74.3 138.6,73.1"/><path class="m" d="M138.6,73.1L141.5,74.3"/><polygon class="q235" points="106.2,60.0 107.5,62.3 108.9,60.3 107.6,57.6"/><polygon class="q208" points="144.4,75.4 147.3,76.6 148.3,75.1 145.5,73.9"/><polygon class="q236" points="91.1,60.8 92.6,54.7 94.0,52.8 92.5,58.8"/><polygon class="q2" points="28.3,91.9 30.7,92.8 32.6,91.1 30.1,90.3"/><polygon class="q237" points="58.7,86.3 61.3,86.3 62.9,85.0 60.4,85.0"/><path class="m" d="M58.7,86.3L60.4,85.0"/><polygon class="q238" points="69.7,84.4 71.1,84.5 72.6,83.3 71.3,83.5"/><polygon class="q41" points="39.3,90.7 41.8,91.3 43.5,89.7 41.0,89.1"/><polygon class="q20" points="73.9,83.1 75.2,82.3 76.8,80.6 75.5,81.4"/><path class="m" d="M73.9,83.1L75.5,81.4"/><path class="m" d="M75.5,81.4L76.8,80.6"/><polygon class="q239" points="117.0,71.0 119.7,72.9 121.0,71.2 118.3,69.3"/><polygon class="q113" points="103.9,45.1 105.2,45.5 106.6,44.1 105.2,43.7"/><polygon class="q113" points="106.6,45.8 107.2,46.0 108.8,44.7 108.0,44.4"/><polygon class="q240" points="107.2,46.0 107.8,50.8 109.2,47.9 108.8,44.7"/><polygon class="q113" points="98.3,45.4 99.7,45.8 101.1,44.4 99.7,44.0"/><polygon class="q84" points="54.5,87.7 57.0,87.6 58.7,86.3 56.2,86.3"/><path class="m" d="M56.2,86.3L58.7,86.3"/><polygon class="q241" points="107.4,66.9 108.8,68.1 110.1,66.4 108.8,64.6"/><path class="m" d="M108.8,64.6L110.1,66.4"/><polygon class="q113" points="96.1,46.6 96.9,46.8 98.3,45.4 97.3,45.2"/><polygon class="q242" points="95.4,50.8 96.1,46.6 97.3,45.2 96.8,48.9"/><polygon class="q243" points="108.8,68.1 110.2,69.1 111.5,67.3 110.1,66.4"/><path class="m" d="M110.1,66.4L111.5,67.3"/><polygon class="q244" points="85.3,71.4 86.7,67.0 88.2,64.9 86.7,69.6"/><path class="m" d="M85.3,71.4L86.7,69.6"/><path class="m" d="M86.7,69.6L88.2,64.9"/><polygon class="q245" points="126.6,74.4 129.4,75.5 130.6,73.9 127.8,72.8"/><path class="m" d="M126.6,74.4L127.8,72.8"/><path class="m" d="M127.8,72.8L130.6,73.9"/><polygon class="q246" points="50.3,89.1 52.8,89.0 54.5,87.7 52.0,87.7"/><path class="m" d="M50.3,89.1L52.0,87.7"/><polygon class="q108" points="35.0,91.7 37.5,92.4 39.3,90.7 36.8,90.1"/><path class="m" d="M35.0,91.7L36.8,90.1"/><path class="m" d="M36.8,90.1L39.3,90.7"/><polygon class="q222" points="133.5,75.1 136.4,76.3 137.5,74.6 134.6,73.5"/><path class="m" d="M133.5,75.1L134.6,73.5"/><polygon class="q166" points="106.2,64.5 107.4,66.9 108.8,64.6 107.5,62.3"/><path class="m" d="M107.5,62.3L108.8,64.6"/><path class="m" d="M107.4,66.9L108.8,64.6"/><polygon class="q247" points="65.5,85.1 66.8,85.1 68.4,84.4 67.1,84.3"/><path class="m" d="M65.5,85.1L67.1,84.3"/><path class="m" d="M67.1,84.3L68.4,84.4"/><polygon class="q189" points="140.4,75.8 143.3,77.0 144.4,75.4 141.5,74.3"/><path class="m" d="M140.4,75.8L141.5,74.3"/><path class="m" d="M141.5,74.3L144.4,75.4"/><polygon class="q248" points="119.7,72.9 122.5,74.8 123.8,73.0 121.0,71.2"/><path class="m" d="M119.7,72.9L121.0,71.2"/><polygon class="q113" points="105.2,45.5 106.6,45.8 108.0,44.4 106.6,44.1"/><polygon class="q127" points="110.2,69.1 112.9,70.9 114.2,69.2 111.5,67.3"/><path class="m" d="M111.5,67.3L114.2,69.2"/><polygon class="q113" points="99.7,45.8 101.1,46.1 102.5,44.7 101.1,44.4"/><polygon class="q249" points="71.1,84.5 72.4,84.1 73.9,83.1 72.6,83.3"/><polygon class="q157" points="46.1,90.3 48.6,90.6 50.3,89.1 47.8,88.7"/><path class="m" d="M47.8,88.7L50.3,89.1"/><polygon class="q250" points="105.0,55.6 106.2,60.0 107.6,57.6 106.4,53.3"/><polygon class="q251" points="81.0,77.1 82.3,75.2 83.8,73.3 82.4,75.4"/><path class="m" d="M82.4,75.4L83.8,73.3"/><polygon class="q252" points="78.1,79.7 79.4,78.8 81.0,77.1 79.6,78.0"/><polygon class="q21" points="30.7,92.8 33.2,93.4 35.0,91.7 32.6,91.1"/><polygon class="q253" points="104.9,62.0 106.2,64.5 107.5,62.3 106.2,60.0"/><path class="m" d="M106.2,60.0L107.5,62.3"/><polygon class="q254" points="112.9,70.9 115.7,72.8 117.0,71.0 114.2,69.2"/><path class="m" d="M112.9,70.9L114.2,69.2"/><path class="m" d="M114.2,69.2L117.0,71.0"/><polygon class="q133" points="41.8,91.3 44.3,92.0 46.1,90.3 43.5,89.7"/><path class="m" d="M41.8,91.3L43.5,89.7"/><polygon class="q134" points="122.5,74.8 125.4,76.0 126.6,74.4 123.8,73.0"/><polygon class="q255" points="89.6,62.9 91.1,56.4 92.6,54.7 91.1,60.8"/><path class="m" d="M91.1,60.8L92.6,54.7"/><polygon class="q113" points="101.1,46.1 102.5,46.5 103.9,45.1 102.5,44.7"/><polygon class="q233" points="129.4,75.5 132.3,76.7 133.5,75.1 130.6,73.9"/><path class="m" d="M130.6,73.9L133.5,75.1"/><polygon class="q26" points="75.2,82.3 76.6,81.4 78.1,79.7 76.8,80.6"/><path class="m" d="M76.8,80.6L78.1,79.7"/><polygon class="q256" points="66.8,85.1 68.1,84.6 69.7,84.4 68.4,84.4"/><path class="m" d="M68.4,84.4L69.7,84.4"/><polygon class="q257" points="136.4,76.3 139.3,77.4 140.4,75.8 137.5,74.6"/><polygon class="q208" points="143.3,77.0 146.2,78.2 147.3,76.6 144.4,75.4"/><path class="m" d="M144.4,75.4L147.3,76.6"/><polygon class="q258" points="61.3,86.3 63.9,86.2 65.5,85.1 62.9,85.0"/><polygon class="q2" points="26.4,93.6 28.9,94.5 30.7,92.8 28.3,91.9"/><path class="m" d="M28.3,91.9L30.7,92.8"/><polygon class="q113" points="105.3,47.2 105.4,47.3 107.2,46.0 106.6,45.8"/><polygon class="q259" points="105.4,47.3 106.4,53.3 107.8,50.8 107.2,46.0"/><path class="m" d="M106.6,45.8L107.8,50.8"/><polygon class="q260" points="115.7,72.8 118.5,74.7 119.7,72.9 117.0,71.0"/><path class="m" d="M117.0,71.0L119.7,72.9"/><polygon class="q118" points="106.1,68.9 107.5,69.8 108.8,68.1 107.4,66.9"/><polygon class="q41" points="37.5,92.4 40.0,93.0 41.8,91.3 39.3,90.7"/><path class="m" d="M39.3,90.7L41.8,91.3"/><polygon class="q113" points="102.5,46.5 103.9,46.9 105.2,45.5 103.9,45.1"/><polygon class="q261" points="83.8,73.3 85.2,69.2 86.7,67.0 85.3,71.4"/><path class="m" d="M83.8,73.3L85.3,71.4"/><polygon class="q262" points="57.0,87.6 59.6,87.5 61.3,86.3 58.7,86.3"/><path class="m" d="M57.0,87.6L58.7,86.3"/><path class="m" d="M58.7,86.3L61.3,86.3"/><polygon class="q113" points="94.8,48.0 95.5,48.2 96.9,46.8 96.1,46.6"/><polygon class="q263" points="94.0,52.8 94.8,48.0 96.1,46.6 95.4,50.8"/><path class="m" d="M95.4,50.8L96.9,46.8"/><polygon class="q264" points="104.8,66.6 106.1,68.9 107.4,66.9 106.2,64.5"/><path class="m" d="M106.1,68.9L107.4,66.9"/><polygon class="q265" points="72.4,84.1 73.7,83.4 75.2,82.3 73.9,83.1"/><path class="m" d="M72.4,84.1L73.9,83.1"/><polygon class="q113" points="96.9,46.8 98.3,47.2 99.7,45.8 98.3,45.4"/><polygon class="q266" points="107.5,69.8 108.8,70.8 110.2,69.1 108.8,68.1"/><polygon class="q162" points="103.6,58.1 104.9,62.0 106.2,60.0 105.0,55.6"/><path class="m" d="M105.0,55.6L106.2,60.0"/><polygon class="q267" points="125.4,76.0 128.2,77.2 129.4,75.5 126.6,74.4"/><path class="m" d="M125.4,76.0L126.6,74.4"/><polygon class="q268" points="52.8,89.0 55.4,88.9 57.0,87.6 54.5,87.7"/><polygon class="q269" points="118.5,74.7 121.3,76.5 122.5,74.8 119.7,72.9"/><path class="m" d="M118.5,74.7L119.7,72.9"/><path class="m" d="M119.7,72.9L122.5,74.8"/><polygon class="q270" points="132.3,76.7 135.2,77.9 136.4,76.3 133.5,75.1"/><path class="m" d="M132.3,76.7L133.5,75.1"/><path class="m" d="M133.5,75.1L136.4,76.3"/><polygon class="q108" points="33.2,93.4 35.7,94.0 37.5,92.4 35.0,91.7"/><path class="m" d="M33.2,93.4L35.0,91.7"/><polygon class="q271" points="68.1,84.6 69.4,84.2 71.1,84.5 69.7,84.4"/><path class="m" d="M69.7,84.4L71.1,84.5"/><polygon class="q189" points="139.3,77.4 142.2,78.6 143.3,77.0 140.4,75.8"/><path class="m" d="M139.3,77.4L140.4,75.8"/><polygon class="q272" points="108.8,70.8 111.6,72.7 112.9,70.9 110.2,69.1"/><polygon class="q113" points="103.9,46.9 105.3,47.2 106.6,45.8 105.2,45.5"/><polygon class="q273" points="48.6,90.6 51.1,90.4 52.8,89.0 50.3,89.1"/><path class="m" d="M48.6,90.6L50.3,89.1"/><path class="m" d="M50.3,89.1L52.8,89.0"/><polygon class="q113" points="98.3,47.2 99.7,47.5 101.1,46.1 99.7,45.8"/><polygon class="q274" points="103.5,64.1 104.8,66.6 106.2,64.5 104.9,62.0"/><polygon class="q275" points="79.4,78.8 80.8,77.1 82.3,75.2 81.0,77.1"/><polygon class="q180" points="44.3,92.0 46.8,92.0 48.6,90.6 46.1,90.3"/><polygon class="q276" points="76.6,81.4 77.9,80.5 79.4,78.8 78.1,79.7"/><path class="m" d="M78.1,79.7L79.4,78.8"/><polygon class="q21" points="28.9,94.5 31.4,95.1 33.2,93.4 30.7,92.8"/><path class="m" d="M30.7,92.8L33.2,93.4"/><polygon class="q277" points="88.2,64.9 89.6,58.3 91.1,56.4 89.6,62.9"/><polygon class="q278" points="63.9,86.2 65.2,85.7 66.8,85.1 65.5,85.1"/><path class="m" d="M63.9,86.2L65.5,85.1"/><polygon class="q279" points="111.6,72.7 114.4,74.6 115.7,72.8 112.9,70.9"/><path class="m" d="M111.6,72.7L112.9,70.9"/><polygon class="q113" points="105.4,47.3 105.3,47.2 104.7,47.9"/><polygon class="q259" points="103.9,49.5 105.0,55.6 106.4,53.3 105.4,47.3 104.7,47.9"/><polygon class="q155" points="121.3,76.5 124.1,77.7 125.4,76.0 122.5,74.8"/><path class="m" d="M122.5,74.8L125.4,76.0"/><polygon class="q133" points="40.0,93.0 42.6,93.6 44.3,92.0 41.8,91.3"/><path class="m" d="M40.0,93.0L41.8,91.3"/><path class="m" d="M41.8,91.3L44.3,92.0"/><polygon class="q113" points="99.7,47.5 101.1,47.9 102.5,46.5 101.1,46.1"/><polygon class="q280" points="128.2,77.2 131.1,78.3 132.3,76.7 129.4,75.5"/><polygon class="q257" points="135.2,77.9 138.1,79.1 139.3,77.4 136.4,76.3"/><path class="m" d="M136.4,76.3L139.3,77.4"/><polygon class="q207" points="73.7,83.4 75.0,82.7 76.6,81.4 75.2,82.3"/><polygon class="q281" points="142.2,78.6 145.1,79.8 146.2,78.2 143.3,77.0"/><polygon class="q2" points="24.5,95.3 27.0,96.3 28.9,94.5 26.4,93.6"/><polygon class="q282" points="69.4,84.2 70.7,83.7 72.4,84.1 71.1,84.5"/><path class="m" d="M71.1,84.5L72.4,84.1"/><polygon class="q283" points="104.7,70.7 106.1,71.7 107.5,69.8 106.1,68.9"/><path class="m" d="M106.1,68.9L107.5,69.8"/><polygon class="q284" points="114.4,74.6 117.2,76.5 118.5,74.7 115.7,72.8"/><polygon class="q285" points="103.4,69.2 104.7,70.7 106.1,68.9 104.8,66.6"/><path class="m" d="M104.8,66.6L106.1,68.9"/><path class="m" d="M104.7,70.7L106.1,68.9"/><polygon class="q286" points="82.3,75.2 83.7,71.3 85.2,69.2 83.8,73.3"/><path class="m" d="M82.3,75.2L83.8,73.3"/><path class="m" d="M83.8,73.3L85.2,69.2"/><polygon class="q287" points="102.2,60.6 103.5,64.1 104.9,62.0 103.6,58.1"/><polygon class="q113" points="93.4,49.5 94.1,49.6 95.5,48.2 94.8,48.0"/><polygon class="q288" points="92.6,54.7 93.4,49.5 94.8,48.0 94.0,52.8"/><polygon class="q41" points="35.7,94.0 38.2,94.7 40.0,93.0 37.5,92.4"/><polygon class="q289" points="106.1,71.7 107.5,72.7 108.8,70.8 107.5,69.8"/><path class="m" d="M107.5,69.8L108.8,70.8"/><polygon class="q290" points="59.6,87.5 62.2,87.0 63.9,86.2 61.3,86.3"/><path class="m" d="M61.3,86.3L63.9,86.2"/><polygon class="q113" points="101.1,47.9 102.5,48.3 103.9,46.9 102.5,46.5"/><polygon class="q113" points="95.5,48.2 96.9,48.6 98.3,47.2 96.9,46.8"/><polygon class="q291" points="65.2,85.7 66.5,85.3 68.1,84.6 66.8,85.1"/><polygon class="q292" points="102.0,66.6 103.4,69.2 104.8,66.6 103.5,64.1"/><path class="m" d="M103.5,64.1L104.8,66.6"/><polygon class="q293" points="55.4,88.9 57.9,88.7 59.6,87.5 57.0,87.6"/><path class="m" d="M55.4,88.9L57.0,87.6"/><polygon class="q146" points="124.1,77.7 127.0,78.8 128.2,77.2 125.4,76.0"/><path class="m" d="M124.1,77.7L125.4,76.0"/><path class="m" d="M125.4,76.0L128.2,77.2"/><polygon class="q294" points="117.2,76.5 120.0,78.2 121.3,76.5 118.5,74.7"/><path class="m" d="M117.2,76.5L118.5,74.7"/><polygon class="q295" points="107.5,72.7 110.3,74.6 111.6,72.7 108.8,70.8"/><path class="m" d="M108.8,70.8L111.6,72.7"/><polygon class="q270" points="131.1,78.3 134.0,79.5 135.2,77.9 132.3,76.7"/><path class="m" d="M131.1,78.3L132.3,76.7"/><polygon class="q108" points="31.4,95.1 33.9,95.8 35.7,94.0 33.2,93.4"/><path class="m" d="M31.4,95.1L33.2,93.4"/><path class="m" d="M33.2,93.4L35.7,94.0"/><polygon class="q113" points="102.5,48.3 103.9,48.6 104.7,47.9 105.3,47.2 103.9,46.9"/><polygon class="q165" points="103.9,48.6 103.9,49.5 104.7,47.9"/><path class="m" d="M103.9,49.5L105.3,47.2"/><polygon class="q189" points="138.1,79.1 141.0,80.3 142.2,78.6 139.3,77.4"/><path class="m" d="M138.1,79.1L139.3,77.4"/><path class="m" d="M139.3,77.4L142.2,78.6"/><polygon class="q296" points="102.4,52.4 103.6,58.1 105.0,55.6 103.9,49.5"/><path class="m" d="M103.9,49.5L105.0,55.6"/><polygon class="q297" points="51.1,90.4 53.6,90.2 55.4,88.9 52.8,89.0"/><path class="m" d="M52.8,89.0L55.4,88.9"/><polygon class="q298" points="77.9,80.5 79.3,79.0 80.8,77.1 79.4,78.8"/><path class="m" d="M79.4,78.8L80.8,77.1"/><polygon class="q113" points="96.9,48.6 98.3,48.9 99.7,47.5 98.3,47.2"/><polygon class="q299" points="86.7,67.0 88.1,60.2 89.6,58.3 88.2,64.9"/><path class="m" d="M88.2,64.9L89.6,58.3"/><polygon class="q300" points="46.8,92.0 49.3,91.8 51.1,90.4 48.6,90.6"/><path class="m" d="M46.8,92.0L48.6,90.6"/><polygon class="q301" points="70.7,83.7 72.1,83.3 73.7,83.4 72.4,84.1"/><path class="m" d="M70.7,83.7L72.4,84.1"/><path class="m" d="M72.4,84.1L73.7,83.4"/><polygon class="q302" points="110.3,74.6 113.1,76.5 114.4,74.6 111.6,72.7"/><path class="m" d="M110.3,74.6L111.6,72.7"/><path class="m" d="M111.6,72.7L114.4,74.6"/><polygon class="q252" points="75.0,82.7 76.4,82.0 77.9,80.5 76.6,81.4"/><polygon class="q68" points="42.6,93.6 45.0,93.5 46.8,92.0 44.3,92.0"/><path class="m" d="M44.3,92.0L46.8,92.0"/><polygon class="q21" points="27.0,96.3 29.5,96.9 31.4,95.1 28.9,94.5"/><polygon class="q303" points="100.7,63.8 102.0,66.6 103.5,64.1 102.2,60.6"/><path class="m" d="M102.2,60.6L103.5,64.1"/><polygon class="q184" points="120.0,78.2 122.9,79.3 124.1,77.7 121.3,76.5"/><polygon class="q190" points="101.9,71.6 103.3,72.6 104.7,70.7 103.4,69.2"/><polygon class="q113" points="98.3,48.9 99.7,49.3 101.1,47.9 99.7,47.5"/><polygon class="q304" points="127.0,78.8 129.9,80.0 131.1,78.3 128.2,77.2"/><path class="m" d="M128.2,77.2L131.1,78.3"/><polygon class="q191" points="38.2,94.7 40.8,95.3 42.6,93.6 40.0,93.0"/><path class="m" d="M38.2,94.7L40.0,93.0"/><polygon class="q305" points="80.8,77.1 82.2,73.5 83.7,71.3 82.3,75.2"/><path class="m" d="M80.8,77.1L82.3,75.2"/><polygon class="q306" points="66.5,85.3 67.8,84.8 69.4,84.2 68.1,84.6"/><polygon class="q307" points="134.0,79.5 137.0,80.7 138.1,79.1 135.2,77.9"/><polygon class="q164" points="103.3,72.6 104.7,73.5 106.1,71.7 104.7,70.7"/><path class="m" d="M103.3,72.6L104.7,70.7"/><polygon class="q308" points="113.1,76.5 115.9,78.5 117.2,76.5 114.4,74.6"/><path class="m" d="M114.4,74.6L117.2,76.5"/><polygon class="q281" points="141.0,80.3 144.0,81.5 145.1,79.8 142.2,78.6"/><path class="m" d="M142.2,78.6L145.1,79.8"/><polygon class="q309" points="62.2,87.0 63.5,86.6 65.2,85.7 63.9,86.2"/><path class="m" d="M62.2,87.0L63.9,86.2"/><path class="m" d="M63.9,86.2L65.2,85.7"/><polygon class="q2" points="22.6,97.1 25.2,98.0 27.0,96.3 24.5,95.3"/><path class="m" d="M24.5,95.3L27.0,96.3"/><polygon class="q310" points="100.6,69.1 101.9,71.6 103.4,69.2 102.0,66.6"/><polygon class="q113" points="91.9,50.9 92.6,51.1 94.1,49.6 93.4,49.5"/><polygon class="q311" points="91.1,56.4 91.9,50.9 93.4,49.5 92.6,54.7"/><path class="m" d="M92.6,54.7L94.1,49.6"/><polygon class="q312" points="104.7,73.5 106.1,74.5 107.5,72.7 106.1,71.7"/><polygon class="q313" points="101.0,55.3 102.2,60.6 103.6,58.1 102.4,52.4"/><polygon class="q41" points="33.9,95.8 36.4,96.4 38.2,94.7 35.7,94.0"/><path class="m" d="M35.7,94.0L38.2,94.7"/><polygon class="q113" points="99.7,49.3 101.1,49.7 102.5,48.3 101.1,47.9"/><polygon class="q113" points="94.1,49.6 95.5,50.0 96.9,48.6 95.5,48.2"/><polygon class="q113" points="101.1,49.7 102.4,50.0 103.9,48.6 102.5,48.3"/><polygon class="q194" points="102.4,50.0 102.4,52.4 103.9,49.5 103.9,48.6"/><path class="m" d="M102.5,48.3L103.9,49.5"/><path class="m" d="M102.4,52.4L103.9,49.5"/><polygon class="q314" points="72.1,83.3 73.4,82.8 75.0,82.7 73.7,83.4"/><path class="m" d="M73.7,83.4L75.0,82.7"/><polygon class="q315" points="106.1,74.5 108.9,76.5 110.3,74.6 107.5,72.7"/><polygon class="q316" points="115.9,78.5 118.7,79.9 120.0,78.2 117.2,76.5"/><path class="m" d="M115.9,78.5L117.2,76.5"/><path class="m" d="M117.2,76.5L120.0,78.2"/><polygon class="q146" points="122.9,79.3 125.8,80.5 127.0,78.8 124.1,77.7"/><path class="m" d="M122.9,79.3L124.1,77.7"/><polygon class="q317" points="57.9,88.7 60.5,88.0 62.2,87.0 59.6,87.5"/><polygon class="q318" points="85.2,69.2 86.6,62.2 88.1,60.2 86.7,67.0"/><polygon class="q319" points="129.9,80.0 132.8,81.2 134.0,79.5 131.1,78.3"/><path class="m" d="M129.9,80.0L131.1,78.3"/><path class="m" d="M131.1,78.3L134.0,79.5"/><polygon class="q320" points="99.3,66.3 100.6,69.1 102.0,66.6 100.7,63.8"/><polygon class="q108" points="29.5,96.9 32.0,97.5 33.9,95.8 31.4,95.1"/><path class="m" d="M29.5,96.9L31.4,95.1"/><polygon class="q189" points="137.0,80.7 139.9,81.9 141.0,80.3 138.1,79.1"/><path class="m" d="M137.0,80.7L138.1,79.1"/><polygon class="q321" points="53.6,90.2 56.2,89.8 57.9,88.7 55.4,88.9"/><path class="m" d="M53.6,90.2L55.4,88.9"/><path class="m" d="M55.4,88.9L57.9,88.7"/><polygon class="q322" points="76.4,82.0 77.7,80.6 79.3,79.0 77.9,80.5"/><polygon class="q323" points="67.8,84.8 69.1,84.3 70.7,83.7 69.4,84.2"/><polygon class="q113" points="95.5,50.0 96.9,50.4 98.3,48.9 96.9,48.6"/><polygon class="q324" points="108.9,76.5 111.7,78.4 113.1,76.5 110.3,74.6"/><path class="m" d="M108.9,76.5L110.3,74.6"/><polygon class="q325" points="49.3,91.8 51.9,91.6 53.6,90.2 51.1,90.4"/><polygon class="q306" points="63.5,86.6 64.8,86.1 66.5,85.3 65.2,85.7"/><path class="m" d="M65.2,85.7L66.5,85.3"/><polygon class="q326" points="99.5,58.6 100.7,63.8 102.2,60.6 101.0,55.3"/><path class="m" d="M101.0,55.3L102.2,60.6"/><polygon class="q327" points="45.0,93.5 47.6,93.2 49.3,91.8 46.8,92.0"/><path class="m" d="M45.0,93.5L46.8,92.0"/><path class="m" d="M46.8,92.0L49.3,91.8"/><polygon class="q21" points="25.2,98.0 27.6,98.6 29.5,96.9 27.0,96.3"/><path class="m" d="M27.0,96.3L29.5,96.9"/><polygon class="q328" points="100.5,73.4 101.9,74.4 103.3,72.6 101.9,71.6"/><path class="m" d="M101.9,71.6L103.3,72.6"/><polygon class="q58" points="40.8,95.3 43.2,94.9 45.0,93.5 42.6,93.6"/><polygon class="q329" points="99.2,71.7 100.5,73.4 101.9,71.6 100.6,69.1"/><path class="m" d="M100.6,69.1L101.9,71.6"/><polygon class="q219" points="118.7,79.9 121.6,81.0 122.9,79.3 120.0,78.2"/><path class="m" d="M120.0,78.2L122.9,79.3"/><polygon class="q330" points="79.3,79.0 80.6,75.5 82.2,73.5 80.8,77.1"/><path class="m" d="M79.3,79.0L80.8,77.1"/><path class="m" d="M80.8,77.1L82.2,73.5"/><polygon class="q125" points="111.7,78.4 114.5,80.4 115.9,78.5 113.1,76.5"/><polygon class="q304" points="125.8,80.5 128.7,81.7 129.9,80.0 127.0,78.8"/><polygon class="q331" points="101.9,74.4 103.3,75.4 104.7,73.5 103.3,72.6"/><path class="m" d="M101.9,74.4L103.3,72.6"/><path class="m" d="M103.3,72.6L104.7,73.5"/><polygon class="q113" points="96.9,50.4 98.3,50.8 99.7,49.3 98.3,48.9"/><polygon class="q151" points="36.4,96.4 38.9,96.8 40.8,95.3 38.2,94.7"/><path class="m" d="M36.4,96.4L38.2,94.7"/><path class="m" d="M38.2,94.7L40.8,95.3"/><polygon class="q307" points="132.8,81.2 135.8,82.4 137.0,80.7 134.0,79.5"/><path class="m" d="M134.0,79.5L137.0,80.7"/><polygon class="q281" points="139.9,81.9 142.9,83.1 144.0,81.5 141.0,80.3"/><polygon class="q272" points="103.3,75.4 104.7,76.4 106.1,74.5 104.7,73.5"/><path class="m" d="M104.7,73.5L106.1,74.5"/><polygon class="q2" points="20.7,98.8 23.2,99.8 25.2,98.0 22.6,97.1"/><polygon class="q113" points="90.5,52.4 91.1,52.5 92.6,51.1 91.9,50.9"/><polygon class="q332" points="89.6,58.3 90.5,52.4 91.9,50.9 91.1,56.4"/><polygon class="q333" points="73.4,82.8 74.8,81.2 76.4,82.0 75.0,82.7"/><path class="m" d="M75.0,82.7L76.4,82.0"/><polygon class="q113" points="99.7,51.1 100.7,51.4 102.4,50.0 101.1,49.7"/><polygon class="q334" points="100.7,51.4 101.0,55.3 102.4,52.4 102.4,50.0"/><path class="m" d="M101.0,55.3L102.4,52.4"/><polygon class="q335" points="97.8,68.8 99.2,71.7 100.6,69.1 99.3,66.3"/><path class="m" d="M99.3,66.3L100.6,69.1"/><polygon class="q336" points="69.1,84.3 70.4,83.8 72.1,83.3 70.7,83.7"/><path class="m" d="M69.1,84.3L70.7,83.7"/><polygon class="q41" points="32.0,97.5 34.6,98.1 36.4,96.4 33.9,95.8"/><polygon class="q337" points="98.0,61.6 99.3,66.3 100.7,63.8 99.5,58.6"/><polygon class="q113" points="98.3,50.8 99.7,51.1 101.1,49.7 99.7,49.3"/><polygon class="q323" points="64.8,86.1 66.1,85.7 67.8,84.8 66.5,85.3"/><path class="m" d="M66.5,85.3L67.8,84.8"/><polygon class="q338" points="104.7,76.4 107.5,78.4 108.9,76.5 106.1,74.5"/><path class="m" d="M106.1,74.5L108.9,76.5"/><polygon class="q339" points="83.7,71.3 85.1,64.5 86.6,62.2 85.2,69.2"/><path class="m" d="M85.2,69.2L86.6,62.2"/><polygon class="q340" points="114.5,80.4 117.4,81.6 118.7,79.9 115.9,78.5"/><path class="m" d="M114.5,80.4L115.9,78.5"/><polygon class="q113" points="92.6,51.1 94.0,51.5 95.5,50.0 94.1,49.6"/><polygon class="q341" points="60.5,88.0 61.8,87.6 63.5,86.6 62.2,87.0"/><path class="m" d="M60.5,88.0L62.2,87.0"/><polygon class="q172" points="121.6,81.0 124.5,82.2 125.8,80.5 122.9,79.3"/><path class="m" d="M121.6,81.0L122.9,79.3"/><path class="m" d="M122.9,79.3L125.8,80.5"/><polygon class="q342" points="128.7,81.7 131.6,82.9 132.8,81.2 129.9,80.0"/><path class="m" d="M128.7,81.7L129.9,80.0"/><polygon class="q108" points="27.6,98.6 30.1,99.2 32.0,97.5 29.5,96.9"/><path class="m" d="M27.6,98.6L29.5,96.9"/><path class="m" d="M29.5,96.9L32.0,97.5"/><polygon class="q189" points="135.8,82.4 138.7,83.6 139.9,81.9 137.0,80.7"/><path class="m" d="M135.8,82.4L137.0,80.7"/><path class="m" d="M137.0,80.7L139.9,81.9"/><polygon class="q260" points="107.5,78.4 110.3,80.4 111.7,78.4 108.9,76.5"/><path class="m" d="M107.5,78.4L108.9,76.5"/><path class="m" d="M108.9,76.5L111.7,78.4"/><polygon class="q113" points="94.0,51.5 95.4,51.8 96.9,50.4 95.5,50.0"/><polygon class="q343" points="97.7,74.4 99.1,75.4 100.5,73.4 99.2,71.7"/><polygon class="q344" points="56.2,89.8 58.8,89.1 60.5,88.0 57.9,88.7"/><path class="m" d="M57.9,88.7L60.5,88.0"/><polygon class="q278" points="51.9,91.6 54.5,91.0 56.2,89.8 53.6,90.2"/><path class="m" d="M51.9,91.6L53.6,90.2"/><polygon class="q164" points="99.1,75.4 100.5,76.4 101.9,74.4 100.5,73.4"/><polygon class="q98" points="47.6,93.2 50.1,93.0 51.9,91.6 49.3,91.8"/><path class="m" d="M49.3,91.8L51.9,91.6"/><polygon class="q21" points="23.2,99.8 25.7,100.4 27.6,98.6 25.2,98.0"/><polygon class="q345" points="77.7,80.6 79.1,77.1 80.6,75.5 79.3,79.0"/><path class="m" d="M77.7,80.6L79.3,79.0"/><polygon class="q346" points="117.4,81.6 120.3,82.8 121.6,81.0 118.7,79.9"/><polygon class="q269" points="110.3,80.4 113.2,82.2 114.5,80.4 111.7,78.4"/><path class="m" d="M111.7,78.4L114.5,80.4"/><polygon class="q347" points="100.5,76.4 101.9,77.4 103.3,75.4 101.9,74.4"/><path class="m" d="M100.5,76.4L101.9,74.4"/><polygon class="q15" points="43.2,94.9 45.8,94.6 47.6,93.2 45.0,93.5"/><path class="m" d="M43.2,94.9L45.0,93.5"/><polygon class="q348" points="96.4,71.6 97.7,74.4 99.2,71.7 97.8,68.8"/><polygon class="q113" points="98.3,52.6 98.8,52.8 100.7,51.4 99.7,51.1"/><polygon class="q152" points="98.8,52.8 99.5,58.6 101.0,55.3 100.7,51.4"/><path class="m" d="M99.7,51.1L101.0,55.3"/><path class="m" d="M99.5,58.6L101.0,55.3"/><polygon class="q287" points="96.5,64.8 97.8,68.8 99.3,66.3 98.0,61.6"/><path class="m" d="M98.0,61.6L99.3,66.3"/><polygon class="q336" points="66.1,85.7 67.5,85.3 69.1,84.3 67.8,84.8"/><path class="m" d="M67.8,84.8L69.1,84.3"/><polygon class="q17" points="38.9,96.8 41.4,96.4 43.2,94.9 40.8,95.3"/><path class="m" d="M40.8,95.3L43.2,94.9"/><polygon class="q349" points="70.4,83.8 71.8,82.1 73.4,82.8 72.1,83.3"/><polygon class="q350" points="61.8,87.6 63.1,87.2 64.8,86.1 63.5,86.6"/><polygon class="q351" points="124.5,82.2 127.4,83.4 128.7,81.7 125.8,80.5"/><path class="m" d="M125.8,80.5L128.7,81.7"/><polygon class="q113" points="95.4,51.8 96.9,52.2 98.3,50.8 96.9,50.4"/><polygon class="q352" points="101.9,77.4 103.3,78.4 104.7,76.4 103.3,75.4"/><polygon class="q353" points="131.6,82.9 134.6,84.1 135.8,82.4 132.8,81.2"/><polygon class="q354" points="34.6,98.1 37.1,98.3 38.9,96.8 36.4,96.4"/><path class="m" d="M34.6,98.1L36.4,96.4"/><polygon class="q113" points="89.0,53.8 89.7,54.0 91.1,52.5 90.5,52.4"/><polygon class="q355" points="88.1,60.2 89.0,53.8 90.5,52.4 89.6,58.3"/><path class="m" d="M89.6,58.3L91.1,52.5"/><polygon class="q281" points="138.7,83.6 141.7,84.8 142.9,83.1 139.9,81.9"/><path class="m" d="M139.9,81.9L142.9,83.1"/><polygon class="q356" points="82.2,73.5 83.6,66.9 85.1,64.5 83.7,71.3"/><polygon class="q2" points="18.8,100.6 21.3,101.6 23.2,99.8 20.7,98.8"/><path class="m" d="M20.7,98.8L23.2,99.8"/><polygon class="q357" points="74.8,81.2 76.1,78.3 77.7,80.6 76.4,82.0"/><path class="m" d="M76.4,82.0L77.7,80.6"/><polygon class="q358" points="103.3,78.4 106.1,80.4 107.5,78.4 104.7,76.4"/><polygon class="q33" points="30.1,99.2 32.7,99.9 34.6,98.1 32.0,97.5"/><path class="m" d="M32.0,97.5L34.6,98.1"/><polygon class="q113" points="96.9,52.2 98.3,52.6 99.7,51.1 98.3,50.8"/><polygon class="q155" points="113.2,82.2 116.1,83.3 117.4,81.6 114.5,80.4"/><path class="m" d="M113.2,82.2L114.5,80.4"/><path class="m" d="M114.5,80.4L117.4,81.6"/><polygon class="q113" points="91.1,52.5 92.6,52.9 94.0,51.5 92.6,51.1"/><polygon class="q359" points="120.3,82.8 123.2,83.9 124.5,82.2 121.6,81.0"/><path class="m" d="M120.3,82.8L121.6,81.0"/><polygon class="q360" points="95.0,68.5 96.4,71.6 97.8,68.8 96.5,64.8"/><polygon class="q361" points="106.1,80.4 109.0,82.4 110.3,80.4 107.5,78.4"/><path class="m" d="M106.1,80.4L107.5,78.4"/><polygon class="q362" points="127.4,83.4 130.4,84.6 131.6,82.9 128.7,81.7"/><path class="m" d="M127.4,83.4L128.7,81.7"/><path class="m" d="M128.7,81.7L131.6,82.9"/><polygon class="q283" points="96.2,76.3 97.7,77.3 99.1,75.4 97.7,74.4"/><path class="m" d="M97.7,74.4L99.1,75.4"/><polygon class="q108" points="25.7,100.4 28.2,101.0 30.1,99.2 27.6,98.6"/><path class="m" d="M25.7,100.4L27.6,98.6"/><polygon class="q363" points="63.1,87.2 64.4,86.8 66.1,85.7 64.8,86.1"/><polygon class="q364" points="134.6,84.1 137.6,85.3 138.7,83.6 135.8,82.4"/><path class="m" d="M134.6,84.1L135.8,82.4"/><polygon class="q365" points="58.8,89.1 60.1,88.7 61.8,87.6 60.5,88.0"/><path class="m" d="M58.8,89.1L60.5,88.0"/><path class="m" d="M60.5,88.0L61.8,87.6"/><polygon class="q366" points="67.5,85.3 68.8,84.1 70.4,83.8 69.1,84.3"/><path class="m" d="M67.5,85.3L69.1,84.3"/><path class="m" d="M69.1,84.3L70.4,83.8"/><polygon class="q367" points="94.9,74.4 96.2,76.3 97.7,74.4 96.4,71.6"/><path class="m" d="M96.4,71.6L97.7,74.4"/><polygon class="q368" points="97.7,77.3 99.1,78.4 100.5,76.4 99.1,75.4"/><path class="m" d="M99.1,75.4L100.5,76.4"/><polygon class="q113" points="96.8,54.1 97.0,54.1 98.8,52.8 98.3,52.6"/><polygon class="q369" points="97.0,54.1 98.0,61.6 99.5,58.6 98.8,52.8"/><path class="m" d="M98.0,61.6L99.5,58.6"/><polygon class="q113" points="92.6,52.9 94.0,53.3 95.4,51.8 94.0,51.5"/><polygon class="q370" points="99.1,78.4 100.5,79.5 101.9,77.4 100.5,76.4"/><path class="m" d="M99.1,78.4L100.5,76.4"/><path class="m" d="M100.5,76.4L101.9,77.4"/><polygon class="q21" points="21.3,101.6 23.8,102.2 25.7,100.4 23.2,99.8"/><path class="m" d="M23.2,99.8L25.7,100.4"/><polygon class="q204" points="109.0,82.4 111.8,83.9 113.2,82.2 110.3,80.4"/><polygon class="q267" points="116.1,83.3 119.0,84.5 120.3,82.8 117.4,81.6"/><path class="m" d="M117.4,81.6L120.3,82.8"/><polygon class="q341" points="54.5,91.0 57.0,90.4 58.8,89.1 56.2,89.8"/><polygon class="q317" points="50.1,93.0 52.7,92.3 54.5,91.0 51.9,91.6"/><path class="m" d="M50.1,93.0L51.9,91.6"/><path class="m" d="M51.9,91.6L54.5,91.0"/><polygon class="q371" points="100.5,79.5 101.9,80.5 103.3,78.4 101.9,77.4"/><path class="m" d="M101.9,77.4L103.3,78.4"/><polygon class="q372" points="80.6,75.5 82.0,69.4 83.6,66.9 82.2,73.5"/><path class="m" d="M82.2,73.5L83.6,66.9"/><polygon class="q373" points="71.8,82.1 73.1,79.6 74.8,81.2 73.4,82.8"/><polygon class="q374" points="45.8,94.6 48.3,94.2 50.1,93.0 47.6,93.2"/><polygon class="q187" points="123.2,83.9 126.2,85.1 127.4,83.4 124.5,82.2"/><polygon class="q113" points="94.0,53.3 95.4,53.7 96.9,52.2 95.4,51.8"/><polygon class="q375" points="41.4,96.4 43.9,96.0 45.8,94.6 43.2,94.9"/><path class="m" d="M41.4,96.4L43.2,94.9"/><path class="m" d="M43.2,94.9L45.8,94.6"/><polygon class="q113" points="87.4,55.3 88.1,55.5 89.7,54.0 89.0,53.8"/><polygon class="q376" points="86.6,62.2 87.4,55.3 89.0,53.8 88.1,60.2"/><polygon class="q201" points="93.5,71.2 94.9,74.4 96.4,71.6 95.0,68.5"/><path class="m" d="M95.0,68.5L96.4,71.6"/><polygon class="q353" points="130.4,84.6 133.4,85.8 134.6,84.1 131.6,82.9"/><path class="m" d="M131.6,82.9L134.6,84.1"/><polygon class="q377" points="37.1,98.3 39.5,97.8 41.4,96.4 38.9,96.8"/><polygon class="q378" points="101.9,80.5 104.7,82.7 106.1,80.4 103.3,78.4"/><path class="m" d="M103.3,78.4L106.1,80.4"/><polygon class="q281" points="137.6,85.3 140.6,86.5 141.7,84.8 138.7,83.6"/><polygon class="q180" points="32.7,99.9 35.2,99.9 37.1,98.3 34.6,98.1"/><path class="m" d="M32.7,99.9L34.6,98.1"/><path class="m" d="M34.6,98.1L37.1,98.3"/><polygon class="q2" points="16.8,102.4 19.3,103.4 21.3,101.6 18.8,100.6"/><polygon class="q379" points="60.1,88.7 61.4,88.3 63.1,87.2 61.8,87.6"/><path class="m" d="M61.8,87.6L63.1,87.2"/><polygon class="q380" points="64.4,86.8 65.8,86.2 67.5,85.3 66.1,85.7"/><polygon class="q184" points="111.8,83.9 114.8,85.1 116.1,83.3 113.2,82.2"/><path class="m" d="M111.8,83.9L113.2,82.2"/><polygon class="q113" points="95.4,53.7 96.8,54.1 98.3,52.6 96.9,52.2"/><polygon class="q33" points="28.2,101.0 30.8,101.6 32.7,99.9 30.1,99.2"/><polygon class="q113" points="97.0,54.1 96.8,54.1 96.3,54.7"/><polygon class="q381" points="95.3,56.9 96.5,64.8 98.0,61.6 97.0,54.1 96.3,54.7"/><path class="m" d="M96.8,54.1L98.0,61.6"/><path class="m" d="M96.5,64.8L98.0,61.6"/><polygon class="q382" points="104.7,82.7 107.6,84.6 109.0,82.4 106.1,80.4"/><path class="m" d="M104.7,82.7L106.1,80.4"/><path class="m" d="M106.1,80.4L109.0,82.4"/><polygon class="q113" points="89.7,54.0 91.1,54.4 92.6,52.9 91.1,52.5"/><polygon class="q343" points="93.4,77.2 94.8,78.4 96.2,76.3 94.9,74.4"/><polygon class="q233" points="119.0,84.5 122.0,85.7 123.2,83.9 120.3,82.8"/><path class="m" d="M119.0,84.5L120.3,82.8"/><path class="m" d="M120.3,82.8L123.2,83.9"/><polygon class="q383" points="94.8,78.4 96.2,79.5 97.7,77.3 96.2,76.3"/><polygon class="q384" points="126.2,85.1 129.2,86.3 130.4,84.6 127.4,83.4"/><path class="m" d="M126.2,85.1L127.4,83.4"/><polygon class="q385" points="96.2,79.5 97.6,80.7 99.1,78.4 97.7,77.3"/><polygon class="q386" points="68.8,84.1 70.1,81.9 71.8,82.1 70.4,83.8"/><path class="m" d="M70.4,83.8L71.8,82.1"/><polygon class="q108" points="23.8,102.2 26.3,102.8 28.2,101.0 25.7,100.4"/><path class="m" d="M23.8,102.2L25.7,100.4"/><path class="m" d="M25.7,100.4L28.2,101.0"/><polygon class="q387" points="76.1,78.3 77.4,73.7 79.1,77.1 77.7,80.6"/><path class="m" d="M76.1,78.3L77.7,80.6"/><path class="m" d="M77.7,80.6L79.1,77.1"/><polygon class="q364" points="133.4,85.8 136.4,87.0 137.6,85.3 134.6,84.1"/><path class="m" d="M133.4,85.8L134.6,84.1"/><path class="m" d="M134.6,84.1L137.6,85.3"/><polygon class="q388" points="97.6,80.7 99.0,81.8 100.5,79.5 99.1,78.4"/><path class="m" d="M97.6,80.7L99.1,78.4"/><polygon class="q389" points="92.0,74.1 93.4,77.2 94.9,74.4 93.5,71.2"/><polygon class="q113" points="91.1,54.4 92.5,54.8 94.0,53.3 92.6,52.9"/><polygon class="q390" points="99.0,81.8 100.4,83.0 101.9,80.5 100.5,79.5"/><polygon class="q391" points="93.8,61.2 95.0,68.5 96.5,64.8 95.3,56.9"/><path class="m" d="M95.0,68.5L96.5,64.8"/><polygon class="q340" points="107.6,84.6 110.5,85.8 111.8,83.9 109.0,82.4"/><path class="m" d="M109.0,82.4L111.8,83.9"/><polygon class="q392" points="57.0,90.4 58.4,90.0 60.1,88.7 58.8,89.1"/><path class="m" d="M57.0,90.4L58.8,89.1"/><polygon class="q393" points="61.4,88.3 62.7,87.9 64.4,86.8 63.1,87.2"/><path class="m" d="M63.1,87.2L64.4,86.8"/><polygon class="q394" points="79.1,77.1 80.4,71.4 82.0,69.4 80.6,75.5"/><polygon class="q21" points="19.3,103.4 21.8,104.0 23.8,102.2 21.3,101.6"/><polygon class="q146" points="114.8,85.1 117.7,86.3 119.0,84.5 116.1,83.3"/><polygon class="q361" points="100.4,83.0 103.2,85.3 104.7,82.7 101.9,80.5"/><polygon class="q113" points="86.0,56.9 86.6,57.1 88.1,55.5 87.4,55.3"/><polygon class="q395" points="85.1,64.5 86.0,56.9 87.4,55.3 86.6,62.2"/><path class="m" d="M86.6,62.2L88.1,55.5"/><polygon class="q187" points="122.0,85.7 124.9,86.9 126.2,85.1 123.2,83.9"/><path class="m" d="M123.2,83.9L126.2,85.1"/><polygon class="q396" points="65.8,86.2 67.1,84.2 68.8,84.1 67.5,85.3"/><path class="m" d="M65.8,86.2L67.5,85.3"/><polygon class="q113" points="92.5,54.8 93.9,55.2 95.4,53.7 94.0,53.3"/><polygon class="q397" points="52.7,92.3 55.3,91.7 57.0,90.4 54.5,91.0"/><path class="m" d="M54.5,91.0L57.0,90.4"/><polygon class="q398" points="48.3,94.2 50.9,93.6 52.7,92.3 50.1,93.0"/><path class="m" d="M48.3,94.2L50.1,93.0"/><polygon class="q399" points="129.2,86.3 132.2,87.5 133.4,85.8 130.4,84.6"/><polygon class="q400" points="43.9,96.0 46.5,95.5 48.3,94.2 45.8,94.6"/><path class="m" d="M45.8,94.6L48.3,94.2"/><polygon class="q141" points="92.2,65.2 93.5,71.2 95.0,68.5 93.8,61.2"/><path class="m" d="M93.8,61.2L95.0,68.5"/><path class="m" d="M93.5,71.2L95.0,68.5"/><polygon class="q281" points="136.4,87.0 139.4,88.2 140.6,86.5 137.6,85.3"/><path class="m" d="M137.6,85.3L140.6,86.5"/><polygon class="q401" points="35.2,99.9 37.7,99.4 39.5,97.8 37.1,98.3"/><path class="m" d="M37.1,98.3L39.5,97.8"/><polygon class="q402" points="39.5,97.8 42.1,97.4 43.9,96.0 41.4,96.4"/><path class="m" d="M39.5,97.8L41.4,96.4"/><polygon class="q2" points="14.8,104.2 17.3,105.2 19.3,103.4 16.8,102.4"/><path class="m" d="M16.8,102.4L19.3,103.4"/><polygon class="q403" points="30.8,101.6 33.3,101.6 35.2,99.9 32.7,99.9"/><path class="m" d="M30.8,101.6L32.7,99.9"/><polygon class="q404" points="91.9,79.3 93.3,80.5 94.8,78.4 93.4,77.2"/><path class="m" d="M93.4,77.2L94.8,78.4"/><polygon class="q316" points="103.2,85.3 106.1,86.5 107.6,84.6 104.7,82.7"/><path class="m" d="M103.2,85.3L104.7,82.7"/><polygon class="q113" points="93.9,55.2 95.3,55.6 96.3,54.7 96.8,54.1 95.4,53.7"/><polygon class="q405" points="95.3,55.6 95.3,56.9 96.3,54.7"/><polygon class="q406" points="93.3,80.5 94.7,81.8 96.2,79.5 94.8,78.4"/><path class="m" d="M94.8,78.4L96.2,79.5"/><polygon class="q219" points="110.5,85.8 113.4,86.9 114.8,85.1 111.8,83.9"/><path class="m" d="M110.5,85.8L111.8,83.9"/><path class="m" d="M111.8,83.9L114.8,85.1"/><polygon class="q407" points="73.1,79.6 74.4,75.1 76.1,78.3 74.8,81.2"/><polygon class="q408" points="94.7,81.8 96.1,83.1 97.6,80.7 96.2,79.5"/><path class="m" d="M96.2,79.5L97.6,80.7"/><polygon class="q133" points="26.3,102.8 28.9,103.4 30.8,101.6 28.2,101.0"/><path class="m" d="M28.2,101.0L30.8,101.6"/><polygon class="q409" points="90.5,77.1 91.9,79.3 93.4,77.2 92.0,74.1"/><path class="m" d="M92.0,74.1L93.4,77.2"/><polygon class="q410" points="58.4,90.0 59.7,89.7 61.4,88.3 60.1,88.7"/><polygon class="q113" points="88.1,55.5 89.6,55.9 91.1,54.4 89.7,54.0"/><polygon class="q411" points="96.1,83.1 97.5,84.4 99.0,81.8 97.6,80.7"/><path class="m" d="M96.1,83.1L97.6,80.7"/><path class="m" d="M97.6,80.7L99.0,81.8"/><polygon class="q280" points="117.7,86.3 120.7,87.5 122.0,85.7 119.0,84.5"/><path class="m" d="M117.7,86.3L119.0,84.5"/><polygon class="q412" points="62.7,87.9 64.0,86.5 65.8,86.2 64.4,86.8"/><path class="m" d="M64.4,86.8L65.8,86.2"/><polygon class="q163" points="97.5,84.4 98.9,85.7 100.4,83.0 99.0,81.8"/><path class="m" d="M99.0,81.8L100.4,83.0"/><polygon class="q413" points="90.6,70.0 92.0,74.1 93.5,71.2 92.2,65.2"/><path class="m" d="M92.0,74.1L93.5,71.2"/><polygon class="q173" points="124.9,86.9 127.9,88.1 129.2,86.3 126.2,85.1"/><path class="m" d="M124.9,86.9L126.2,85.1"/><path class="m" d="M126.2,85.1L129.2,86.3"/><polygon class="q108" points="21.8,104.0 24.4,104.6 26.3,102.8 23.8,102.2"/><path class="m" d="M21.8,104.0L23.8,102.2"/><polygon class="q364" points="132.2,87.5 135.2,88.7 136.4,87.0 133.4,85.8"/><path class="m" d="M132.2,87.5L133.4,85.8"/><polygon class="q414" points="98.9,85.7 101.8,87.2 103.2,85.3 100.4,83.0"/><path class="m" d="M100.4,83.0L103.2,85.3"/><polygon class="q184" points="106.1,86.5 109.1,87.7 110.5,85.8 107.6,84.6"/><polygon class="q113" points="89.6,55.9 91.0,56.3 92.5,54.8 91.1,54.4"/><polygon class="q415" points="70.1,81.9 71.4,78.6 73.1,79.6 71.8,82.1"/><path class="m" d="M71.8,82.1L73.1,79.6"/><polygon class="q113" points="84.6,58.5 85.0,58.6 86.6,57.1 86.0,56.9"/><polygon class="q416" points="83.6,66.9 84.6,58.5 86.0,56.9 85.1,64.5"/><polygon class="q172" points="113.4,86.9 116.4,88.1 117.7,86.3 114.8,85.1"/><path class="m" d="M114.8,85.1L117.7,86.3"/><polygon class="q21" points="17.3,105.2 19.9,105.9 21.8,104.0 19.3,103.4"/><path class="m" d="M19.3,103.4L21.8,104.0"/><polygon class="q177" points="89.1,73.5 90.5,77.1 92.0,74.1 90.6,70.0"/><path class="m" d="M90.6,70.0L92.0,74.1"/><path class="m" d="M90.5,77.1L92.0,74.1"/><polygon class="q417" points="55.3,91.7 56.6,91.4 58.4,90.0 57.0,90.4"/><path class="m" d="M55.3,91.7L57.0,90.4"/><path class="m" d="M57.0,90.4L58.4,90.0"/><polygon class="q113" points="92.4,56.7 93.7,57.1 95.3,55.6 93.9,55.2"/><polygon class="q220" points="93.7,57.1 93.8,61.2 95.3,56.9 95.3,55.6"/><polygon class="q418" points="59.7,89.7 61.0,89.1 62.7,87.9 61.4,88.3"/><polygon class="q222" points="120.7,87.5 123.6,88.6 124.9,86.9 122.0,85.7"/><polygon class="q113" points="91.0,56.3 92.4,56.7 93.9,55.2 92.5,54.8"/><polygon class="q226" points="90.3,81.5 91.8,82.8 93.3,80.5 91.9,79.3"/><polygon class="q419" points="67.1,84.2 68.4,82.3 70.1,81.9 68.8,84.1"/><polygon class="q420" points="127.9,88.1 130.9,89.3 132.2,87.5 129.2,86.3"/><path class="m" d="M129.2,86.3L132.2,87.5"/><polygon class="q205" points="91.8,82.8 93.2,84.2 94.7,81.8 93.3,80.5"/><polygon class="q421" points="88.9,80.1 90.3,81.5 91.9,79.3 90.5,77.1"/><polygon class="q155" points="101.8,87.2 104.7,88.4 106.1,86.5 103.2,85.3"/><path class="m" d="M101.8,87.2L103.2,85.3"/><path class="m" d="M103.2,85.3L106.1,86.5"/><polygon class="q390" points="93.2,84.2 94.6,85.6 96.1,83.1 94.7,81.8"/><polygon class="q281" points="135.2,88.7 138.2,89.9 139.4,88.2 136.4,87.0"/><polygon class="q422" points="94.6,85.6 96.0,87.0 97.5,84.4 96.1,83.1"/><path class="m" d="M94.6,85.6L96.1,83.1"/><polygon class="q2" points="12.8,106.1 15.3,107.1 17.3,105.2 14.8,104.2"/><polygon class="q423" points="50.9,93.6 53.5,93.0 55.3,91.7 52.7,92.3"/><polygon class="q269" points="96.0,87.0 97.5,88.0 98.9,85.7 97.5,84.4"/><polygon class="q424" points="46.5,95.5 49.1,95.0 50.9,93.6 48.3,94.2"/><path class="m" d="M46.5,95.5L48.3,94.2"/><path class="m" d="M48.3,94.2L50.9,93.6"/><polygon class="q425" points="33.3,101.6 35.8,101.0 37.7,99.4 35.2,99.9"/><polygon class="q68" points="28.9,103.4 31.3,103.2 33.3,101.6 30.8,101.6"/><path class="m" d="M28.9,103.4L30.8,101.6"/><path class="m" d="M30.8,101.6L33.3,101.6"/><polygon class="q426" points="42.1,97.4 44.6,96.9 46.5,95.5 43.9,96.0"/><polygon class="q267" points="109.1,87.7 112.0,88.8 113.4,86.9 110.5,85.8"/><path class="m" d="M109.1,87.7L110.5,85.8"/><polygon class="q427" points="37.7,99.4 40.2,98.9 42.1,97.4 39.5,97.8"/><path class="m" d="M37.7,99.4L39.5,97.8"/><path class="m" d="M39.5,97.8L42.1,97.4"/><polygon class="q133" points="24.4,104.6 26.9,105.3 28.9,103.4 26.3,102.8"/><polygon class="q428" points="64.0,86.5 65.3,84.8 67.1,84.2 65.8,86.2"/><path class="m" d="M64.0,86.5L65.8,86.2"/><path class="m" d="M65.8,86.2L67.1,84.2"/><polygon class="q304" points="116.4,88.1 119.3,89.3 120.7,87.5 117.7,86.3"/><path class="m" d="M116.4,88.1L117.7,86.3"/><path class="m" d="M117.7,86.3L120.7,87.5"/><polygon class="q113" points="86.6,57.1 88.0,57.5 89.6,55.9 88.1,55.5"/><polygon class="q429" points="87.5,76.5 88.9,80.1 90.5,77.1 89.1,73.5"/><path class="m" d="M88.9,80.1L90.5,77.1"/><polygon class="q430" points="56.6,91.4 57.9,91.1 59.7,89.7 58.4,90.0"/><path class="m" d="M58.4,90.0L59.7,89.7"/><polygon class="q173" points="123.6,88.6 126.6,89.8 127.9,88.1 124.9,86.9"/><path class="m" d="M123.6,88.6L124.9,86.9"/><polygon class="q340" points="97.5,88.0 100.4,89.1 101.8,87.2 98.9,85.7"/><polygon class="q113" points="90.9,58.3 92.1,58.6 93.7,57.1 92.4,56.7"/><polygon class="q259" points="92.1,58.6 92.2,65.2 93.8,61.2 93.7,57.1"/><path class="m" d="M92.4,56.7L93.8,61.2"/><polygon class="q431" points="77.4,73.7 78.8,68.1 80.4,71.4 79.1,77.1"/><path class="m" d="M79.1,77.1L80.4,71.4"/><polygon class="q364" points="130.9,89.3 134.0,90.5 135.2,88.7 132.2,87.5"/><path class="m" d="M130.9,89.3L132.2,87.5"/><path class="m" d="M132.2,87.5L135.2,88.7"/><polygon class="q100" points="19.9,105.9 22.4,106.5 24.4,104.6 21.8,104.0"/><path class="m" d="M19.9,105.9L21.8,104.0"/><path class="m" d="M21.8,104.0L24.4,104.6"/><polygon class="q245" points="104.7,88.4 107.7,89.5 109.1,87.7 106.1,86.5"/><path class="m" d="M106.1,86.5L109.1,87.7"/><polygon class="q113" points="83.1,60.1 83.5,60.2 85.0,58.6 84.6,58.5"/><polygon class="q432" points="82.0,69.4 83.1,60.1 84.6,58.5 83.6,66.9"/><path class="m" d="M83.6,66.9L85.0,58.6"/><polygon class="q113" points="88.0,57.5 89.5,57.9 91.0,56.3 89.6,55.9"/><polygon class="q433" points="61.0,89.1 62.3,87.4 64.0,86.5 62.7,87.9"/><polygon class="q233" points="112.0,88.8 115.0,90.0 116.4,88.1 113.4,86.9"/><polygon class="q434" points="87.4,82.5 88.8,83.8 90.3,81.5 88.9,80.1"/><path class="w" d="M88.9,80.1L90.3,81.5"/><polygon class="q21" points="15.3,107.1 17.8,107.8 19.9,105.9 17.3,105.2"/><polygon class="q435" points="88.8,83.8 90.2,85.1 91.8,82.8 90.3,81.5"/><path class="w" d="M90.3,81.5L91.8,82.8"/><polygon class="q436" points="90.2,85.1 91.7,86.4 93.2,84.2 91.8,82.8"/><path class="w" d="M91.8,82.8L93.2,84.2"/><polygon class="q437" points="91.7,86.4 93.1,87.7 94.6,85.6 93.2,84.2"/><path class="w" d="M93.2,84.2L94.6,85.6"/><polygon class="q270" points="119.3,89.3 122.3,90.5 123.6,88.6 120.7,87.5"/><path class="m" d="M120.7,87.5L123.6,88.6"/><polygon class="q382" points="93.1,87.7 94.5,89.0 96.0,87.0 94.6,85.6"/><path class="m" d="M93.1,87.7L94.6,85.6"/><path class="w" d="M94.6,85.6L96.0,87.0"/><polygon class="q329" points="86.0,80.8 87.4,82.5 88.9,80.1 87.5,76.5"/><path class="w" d="M87.5,76.5L88.9,80.1"/><path class="m" d="M87.4,82.5L88.9,80.1"/><polygon class="q438" points="74.4,75.1 75.8,71.1 77.4,73.7 76.1,78.3"/><path class="m" d="M74.4,75.1L76.1,78.3"/><polygon class="q113" points="89.5,57.9 90.9,58.3 92.4,56.7 91.0,56.3"/><polygon class="q219" points="100.4,89.1 103.3,90.3 104.7,88.4 101.8,87.2"/><path class="m" d="M100.4,89.1L101.8,87.2"/><polygon class="q439" points="53.5,93.0 54.8,92.7 56.6,91.4 55.3,91.7"/><path class="m" d="M53.5,93.0L55.3,91.7"/><polygon class="q420" points="126.6,89.8 129.7,91.1 130.9,89.3 127.9,88.1"/><polygon class="q440" points="94.5,89.0 96.0,89.7 97.5,88.0 96.0,87.0"/><path class="w" d="M96.0,87.0L97.5,88.0"/><polygon class="q113" points="89.4,59.8 90.1,60.0 92.1,58.6 90.9,58.3"/><polygon class="q441" points="90.1,60.0 90.6,70.0 92.2,65.2 92.1,58.6"/><polygon class="q442" points="57.9,91.1 59.2,90.0 61.0,89.1 59.7,89.7"/><path class="m" d="M59.7,89.7L61.0,89.1"/><polygon class="q281" points="134.0,90.5 137.0,91.7 138.2,89.9 135.2,88.7"/><path class="m" d="M135.2,88.7L138.2,89.9"/><polygon class="q172" points="107.7,89.5 110.6,90.7 112.0,88.8 109.1,87.7"/><path class="m" d="M107.7,89.5L109.1,87.7"/><path class="m" d="M109.1,87.7L112.0,88.8"/><polygon class="q443" points="26.9,105.3 29.4,104.9 31.3,103.2 28.9,103.4"/><path class="m" d="M26.9,105.3L28.9,103.4"/><polygon class="q444" points="31.3,103.2 33.8,102.6 35.8,101.0 33.3,101.6"/><path class="m" d="M33.3,101.6L35.8,101.0"/><polygon class="q113" points="82.7,61.0 83.5,60.2 83.1,60.1"/><polygon class="q445" points="80.4,71.4 81.9,65.4 82.7,61.0 83.1,60.1 82.0,69.4"/><polygon class="q446" points="71.4,78.6 72.7,74.5 74.4,75.1 73.1,79.6"/><path class="m" d="M73.1,79.6L74.4,75.1"/><polygon class="q447" points="49.1,95.0 51.7,94.5 53.5,93.0 50.9,93.6"/><path class="m" d="M50.9,93.6L53.5,93.0"/><polygon class="q448" points="35.8,101.0 38.3,100.5 40.2,98.9 37.7,99.4"/><path class="m" d="M35.8,101.0L37.7,99.4"/><polygon class="q449" points="44.6,96.9 47.2,96.4 49.1,95.0 46.5,95.5"/><path class="m" d="M44.6,96.9L46.5,95.5"/><polygon class="q187" points="115.0,90.0 118.0,91.2 119.3,89.3 116.4,88.1"/><path class="m" d="M115.0,90.0L116.4,88.1"/><polygon class="q450" points="40.2,98.9 42.7,98.4 44.6,96.9 42.1,97.4"/><path class="m" d="M42.1,97.4L44.6,96.9"/><polygon class="q451" points="68.4,82.3 69.7,78.5 71.4,78.6 70.1,81.9"/><polygon class="q133" points="22.4,106.5 24.9,107.1 26.9,105.3 24.4,104.6"/><path class="m" d="M24.4,104.6L26.9,105.3"/><polygon class="q113" points="85.0,58.6 86.5,59.0 88.0,57.5 86.6,57.1"/><polygon class="q155" points="96.0,89.7 98.9,90.9 100.4,89.1 97.5,88.0"/><path class="w" d="M97.5,88.0L100.4,89.1"/><polygon class="q206" points="122.3,90.5 125.3,91.7 126.6,89.8 123.6,88.6"/><path class="m" d="M122.3,90.5L123.6,88.6"/><path class="m" d="M123.6,88.6L126.6,89.8"/><polygon class="q452" points="65.3,84.8 66.6,82.1 68.4,82.3 67.1,84.2"/><path class="m" d="M67.1,84.2L68.4,82.3"/><polygon class="q172" points="103.3,90.3 106.2,91.5 107.7,89.5 104.7,88.4"/><polygon class="q364" points="129.7,91.1 132.7,92.3 134.0,90.5 130.9,89.3"/><path class="m" d="M129.7,91.1L130.9,89.3"/><polygon class="q100" points="17.8,107.8 20.4,108.4 22.4,106.5 19.9,105.9"/><path class="m" d="M17.8,107.8L19.9,105.9"/><polygon class="q453" points="54.8,92.7 56.1,92.3 57.9,91.1 56.6,91.4"/><polygon class="q454" points="84.4,83.0 85.8,84.3 87.4,82.5 86.0,80.8"/><polygon class="q113" points="86.5,59.0 87.9,59.4 89.5,57.9 88.0,57.5"/><polygon class="q455" points="85.8,84.3 87.3,85.6 88.8,83.8 87.4,82.5"/><path class="m" d="M85.8,84.3L87.4,82.5"/><polygon class="q456" points="62.3,87.4 63.6,85.7 65.3,84.8 64.0,86.5"/><path class="m" d="M62.3,87.4L64.0,86.5"/><polygon class="q113" points="87.8,61.4 88.0,61.5 90.1,60.0 89.4,59.8"/><polygon class="q457" points="88.0,61.5 89.1,73.5 90.6,70.0 90.1,60.0"/><path class="m" d="M89.4,59.8L90.6,70.0"/><polygon class="q458" points="87.3,85.6 88.7,86.9 90.2,85.1 88.8,83.8"/><polygon class="q304" points="110.6,90.7 113.6,91.8 115.0,90.0 112.0,88.8"/><path class="m" d="M112.0,88.8L115.0,90.0"/><polygon class="q459" points="88.7,86.9 90.1,88.2 91.7,86.4 90.2,85.1"/><polygon class="q460" points="90.1,88.2 91.6,89.5 93.1,87.7 91.7,86.4"/><polygon class="q362" points="118.0,91.2 121.0,92.3 122.3,90.5 119.3,89.3"/><polygon class="q461" points="91.6,89.5 93.0,90.8 94.5,89.0 93.1,87.7"/><path class="m" d="M91.6,89.5L93.1,87.7"/><polygon class="q462" points="59.2,90.0 60.5,88.4 62.3,87.4 61.0,89.1"/><path class="m" d="M61.0,89.1L62.3,87.4"/><polygon class="q267" points="98.9,90.9 101.8,92.1 103.3,90.3 100.4,89.1"/><path class="m" d="M98.9,90.9L100.4,89.1"/><path class="w" d="M100.4,89.1L103.3,90.3"/><polygon class="q113" points="87.9,59.4 89.4,59.8 90.9,58.3 89.5,57.9"/><polygon class="q463" points="125.3,91.7 128.4,92.9 129.7,91.1 126.6,89.8"/><path class="m" d="M126.6,89.8L129.7,91.1"/><polygon class="q231" points="93.0,90.8 94.5,91.5 96.0,89.7 94.5,89.0"/><polygon class="q464" points="84.6,74.3 86.0,80.8 87.5,76.5 86.2,67.7"/><polygon class="q113" points="88.0,61.5 87.8,61.4 87.5,61.7"/><polygon class="q465" points="86.2,67.7 87.5,76.5 89.1,73.5 88.0,61.5 87.5,61.7"/><path class="w" d="M86.2,67.7L87.5,76.5"/><polygon class="q281" points="132.7,92.3 135.8,93.5 137.0,91.7 134.0,90.5"/><polygon class="q466" points="106.2,91.5 109.2,92.7 110.6,90.7 107.7,89.5"/><path class="m" d="M106.2,91.5L107.7,89.5"/><polygon class="q467" points="51.7,94.5 53.0,94.2 54.8,92.7 53.5,93.0"/><path class="m" d="M51.7,94.5L53.5,93.0"/><path class="m" d="M53.5,93.0L54.8,92.7"/><polygon class="q468" points="24.9,107.1 27.4,106.5 29.4,104.9 26.9,105.3"/><path class="m" d="M24.9,107.1L26.9,105.3"/><path class="m" d="M26.9,105.3L29.4,104.9"/><polygon class="q222" points="113.6,91.8 116.6,93.0 118.0,91.2 115.0,90.0"/><path class="m" d="M113.6,91.8L115.0,90.0"/><path class="m" d="M115.0,90.0L118.0,91.2"/><polygon class="q469" points="56.1,92.3 57.4,90.8 59.2,90.0 57.9,91.1"/><polygon class="q133" points="20.4,108.4 22.9,109.0 24.9,107.1 22.4,106.5"/><polygon class="q470" points="29.4,104.9 31.8,104.2 33.8,102.6 31.3,103.2"/><polygon class="q113" points="83.5,60.2 84.9,60.6 86.5,59.0 85.0,58.6"/><polygon class="q160" points="33.8,102.6 36.3,102.0 38.3,100.5 35.8,101.0"/><path class="m" d="M33.8,102.6L35.8,101.0"/><path class="m" d="M35.8,101.0L38.3,100.5"/><polygon class="q471" points="38.3,100.5 40.8,100.0 42.7,98.4 40.2,98.9"/><polygon class="q155" points="94.5,91.5 97.4,92.7 98.9,90.9 96.0,89.7"/><polygon class="q472" points="47.2,96.4 49.8,95.9 51.7,94.5 49.1,95.0"/><polygon class="q473" points="42.7,98.4 45.3,98.0 47.2,96.4 44.6,96.9"/><path class="m" d="M42.7,98.4L44.6,96.9"/><path class="m" d="M44.6,96.9L47.2,96.4"/><polygon class="q257" points="121.0,92.3 124.0,93.5 125.3,91.7 122.3,90.5"/><path class="m" d="M121.0,92.3L122.3,90.5"/><polygon class="q474" points="83.0,75.9 84.4,83.0 86.0,80.8 84.6,74.3"/><polygon class="q359" points="101.8,92.1 104.8,93.3 106.2,91.5 103.3,90.3"/><path class="w" d="M103.3,90.3L106.2,91.5"/><polygon class="q364" points="128.4,92.9 131.5,94.1 132.7,92.3 129.7,91.1"/><path class="m" d="M128.4,92.9L129.7,91.1"/><path class="m" d="M129.7,91.1L132.7,92.3"/><polygon class="q475" points="82.8,84.8 84.3,86.1 85.8,84.3 84.4,83.0"/><path class="m" d="M84.4,83.0L85.8,84.3"/><polygon class="q113" points="79.5,63.2 80.2,63.4 81.2,62.5"/><polygon class="q476" points="78.8,68.1 79.5,63.2 81.2,62.5 81.9,65.4 80.4,71.4"/><path class="m" d="M80.4,71.4L81.9,65.4"/><polygon class="q477" points="84.3,86.1 85.7,87.4 87.3,85.6 85.8,84.3"/><path class="m" d="M84.3,86.1L85.8,84.3"/><path class="m" d="M85.8,84.3L87.3,85.6"/><polygon class="q113" points="84.9,60.6 86.4,61.0 87.9,59.4 86.5,59.0"/><polygon class="q222" points="109.2,92.7 112.2,93.9 113.6,91.8 110.6,90.7"/><polygon class="q478" points="85.7,87.4 87.1,88.7 88.7,86.9 87.3,85.6"/><path class="m" d="M87.3,85.6L88.7,86.9"/><polygon class="q479" points="53.0,94.2 54.3,93.3 56.1,92.3 54.8,92.7"/><path class="m" d="M54.8,92.7L56.1,92.3"/><polygon class="q480" points="87.1,88.7 88.6,90.0 90.1,88.2 88.7,86.9"/><path class="m" d="M88.7,86.9L90.1,88.2"/><polygon class="q481" points="88.6,90.0 90.0,91.3 91.6,89.5 90.1,88.2"/><path class="m" d="M90.1,88.2L91.6,89.5"/><polygon class="q482" points="66.6,82.1 67.9,78.5 69.7,78.5 68.4,82.3"/><path class="m" d="M68.4,82.3L69.7,78.5"/><polygon class="q384" points="116.6,93.0 119.7,94.2 121.0,92.3 118.0,91.2"/><path class="m" d="M118.0,91.2L121.0,92.3"/><polygon class="q483" points="63.6,85.7 64.9,82.6 66.6,82.1 65.3,84.8"/><polygon class="q484" points="90.0,91.3 91.5,92.6 93.0,90.8 91.6,89.5"/><path class="m" d="M90.0,91.3L91.6,89.5"/><path class="m" d="M91.6,89.5L93.0,90.8"/><polygon class="q485" points="75.8,71.1 77.2,65.9 78.8,68.1 77.4,73.7"/><polygon class="q486" points="69.7,78.5 71.0,74.7 72.7,74.5 71.4,78.6"/><polygon class="q487" points="60.5,88.4 61.8,86.6 63.6,85.7 62.3,87.4"/><path class="m" d="M60.5,88.4L62.3,87.4"/><path class="m" d="M62.3,87.4L63.6,85.7"/><polygon class="q267" points="97.4,92.7 100.4,93.9 101.8,92.1 98.9,90.9"/><path class="m" d="M97.4,92.7L98.9,90.9"/><polygon class="q113" points="86.4,61.0 87.8,61.4 89.4,59.8 87.9,59.4"/><polygon class="q463" points="124.0,93.5 127.1,94.7 128.4,92.9 125.3,91.7"/><polygon class="q488" points="72.7,74.5 74.1,70.6 75.8,71.1 74.4,75.1"/><path class="m" d="M72.7,74.5L74.4,75.1"/><path class="m" d="M74.4,75.1L75.8,71.1"/><polygon class="q231" points="91.5,92.6 92.9,93.3 94.5,91.5 93.0,90.8"/><path class="m" d="M93.0,90.8L94.5,91.5"/><polygon class="q156" points="104.8,93.3 107.8,94.6 109.2,92.7 106.2,91.5"/><path class="m" d="M104.8,93.3L106.2,91.5"/><path class="w" d="M106.2,91.5L109.2,92.7"/><polygon class="q113" points="82.1,61.8 83.3,62.2 84.9,60.6 83.5,60.2 82.7,61.0"/><polygon class="q114" points="81.9,65.4 82.1,61.8 82.7,61.0"/><polygon class="q281" points="131.5,94.1 134.5,95.3 135.8,93.5 132.7,92.3"/><path class="m" d="M132.7,92.3L135.8,93.5"/><polygon class="q489" points="57.4,90.8 58.7,89.4 60.5,88.4 59.2,90.0"/><polygon class="q384" points="112.2,93.9 115.2,95.2 116.6,93.0 113.6,91.8"/><path class="m" d="M112.2,93.9L113.6,91.8"/><polygon class="q490" points="49.8,95.9 51.2,95.5 53.0,94.2 51.7,94.5"/><path class="m" d="M49.8,95.9L51.7,94.5"/><polygon class="q491" points="22.9,109.0 25.3,108.1 27.4,106.5 24.9,107.1"/><path class="m" d="M22.9,109.0L24.9,107.1"/><polygon class="q155" points="92.9,93.3 95.9,94.6 97.4,92.7 94.5,91.5"/><path class="m" d="M94.5,91.5L97.4,92.7"/><polygon class="q353" points="119.7,94.2 122.7,95.4 124.0,93.5 121.0,92.3"/><path class="m" d="M119.7,94.2L121.0,92.3"/><path class="m" d="M121.0,92.3L124.0,93.5"/><polygon class="q274" points="81.4,77.7 82.8,84.8 84.4,83.0 83.0,75.9"/><path class="m" d="M83.0,75.9L84.4,83.0"/><polygon class="q492" points="27.4,106.5 29.8,105.7 31.8,104.2 29.4,104.9"/><path class="m" d="M29.4,104.9L31.8,104.2"/><polygon class="q278" points="31.8,104.2 34.4,103.7 36.3,102.0 33.8,102.6"/><path class="m" d="M31.8,104.2L33.8,102.6"/><polygon class="q493" points="36.3,102.0 38.9,101.6 40.8,100.0 38.3,100.5"/><path class="m" d="M38.3,100.5L40.8,100.0"/><polygon class="q423" points="40.8,100.0 43.4,99.5 45.3,98.0 42.7,98.4"/><path class="m" d="M40.8,100.0L42.7,98.4"/><polygon class="q233" points="100.4,93.9 103.3,95.2 104.8,93.3 101.8,92.1"/><polygon class="q494" points="45.3,98.0 48.0,97.5 49.8,95.9 47.2,96.4"/><path class="m" d="M47.2,96.4L49.8,95.9"/><polygon class="q495" points="127.1,94.7 130.2,95.9 131.5,94.1 128.4,92.9"/><path class="m" d="M127.1,94.7L128.4,92.9"/><polygon class="q496" points="54.3,93.3 55.6,91.9 57.4,90.8 56.1,92.3"/><path class="m" d="M56.1,92.3L57.4,90.8"/><polygon class="q283" points="81.2,86.6 82.7,87.9 84.3,86.1 82.8,84.8"/><polygon class="q342" points="107.8,94.6 110.8,95.8 112.2,93.9 109.2,92.7"/><path class="w" d="M109.2,92.7L112.2,93.9"/><polygon class="q113" points="84.8,62.6 86.2,63.0 87.5,61.7 87.8,61.4 86.4,61.0"/><polygon class="q334" points="86.2,63.0 86.2,67.7 87.5,61.7"/><polygon class="q497" points="82.7,87.9 84.1,89.2 85.7,87.4 84.3,86.1"/><path class="m" d="M82.7,87.9L84.3,86.1"/><polygon class="q113" points="83.3,62.2 84.8,62.6 86.4,61.0 84.9,60.6"/><polygon class="q498" points="84.1,89.2 85.6,90.5 87.1,88.7 85.7,87.4"/><polygon class="q390" points="85.6,90.5 87.0,91.8 88.6,90.0 87.1,88.7"/><polygon class="q307" points="115.2,95.2 118.3,96.4 119.7,94.2 116.6,93.0"/><polygon class="q163" points="87.0,91.8 88.5,93.1 90.0,91.3 88.6,90.0"/><polygon class="q148" points="88.5,93.1 89.9,94.5 91.5,92.6 90.0,91.3"/><path class="m" d="M88.5,93.1L90.0,91.3"/><polygon class="q113" points="83.2,64.2 84.5,64.6 86.2,63.0 84.8,62.6"/><polygon class="q499" points="84.5,64.6 84.6,74.3 86.2,67.7 86.2,63.0"/><path class="w" d="M84.8,62.6L86.2,67.7"/><polygon class="q500" points="51.2,95.5 52.4,94.3 54.3,93.3 53.0,94.2"/><polygon class="q267" points="95.9,94.6 98.9,95.8 100.4,93.9 97.4,92.7"/><path class="m" d="M95.9,94.6L97.4,92.7"/><path class="m" d="M97.4,92.7L100.4,93.9"/><polygon class="q501" points="122.7,95.4 125.8,96.6 127.1,94.7 124.0,93.5"/><path class="m" d="M124.0,93.5L127.1,94.7"/><polygon class="q340" points="89.9,94.5 91.4,95.2 92.9,93.3 91.5,92.6"/><polygon class="q156" points="103.3,95.2 106.3,96.4 107.8,94.6 104.8,93.3"/><path class="m" d="M103.3,95.2L104.8,93.3"/><polygon class="q113" points="80.2,63.4 81.7,63.8 83.3,62.2 82.1,61.8 81.2,62.5"/><polygon class="q114" points="82.1,61.8 81.9,65.4 81.2,62.5"/><path class="m" d="M81.9,65.4L83.3,62.2"/><polygon class="q281" points="130.2,95.9 133.3,97.2 134.5,95.3 131.5,94.1"/><polygon class="q502" points="61.8,86.6 63.1,83.0 64.9,82.6 63.6,85.7"/><path class="m" d="M63.6,85.7L64.9,82.6"/><polygon class="q206" points="110.8,95.8 113.8,97.0 115.2,95.2 112.2,93.9"/><path class="m" d="M110.8,95.8L112.2,93.9"/><path class="w" d="M112.2,93.9L115.2,95.2"/><polygon class="q503" points="58.7,89.4 60.0,86.9 61.8,86.6 60.5,88.4"/><path class="m" d="M58.7,89.4L60.5,88.4"/><polygon class="q504" points="64.9,82.6 66.2,79.0 67.9,78.5 66.6,82.1"/><polygon class="q501" points="118.3,96.4 121.3,97.6 122.7,95.4 119.7,94.2"/><path class="m" d="M118.3,96.4L119.7,94.2"/><polygon class="q505" points="48.0,97.5 49.3,96.8 51.2,95.5 49.8,95.9"/><path class="m" d="M48.0,97.5L49.8,95.9"/><path class="m" d="M49.8,95.9L51.2,95.5"/><polygon class="q155" points="91.4,95.2 94.4,96.4 95.9,94.6 92.9,93.3"/><polygon class="q274" points="79.7,79.3 81.2,86.6 82.8,84.8 81.4,77.7"/><polygon class="q506" points="67.9,78.5 69.3,74.8 71.0,74.7 69.7,78.5"/><path class="m" d="M69.7,78.5L71.0,74.7"/><polygon class="q507" points="55.6,91.9 56.9,90.5 58.7,89.4 57.4,90.8"/><path class="m" d="M57.4,90.8L58.7,89.4"/><polygon class="q233" points="98.9,95.8 101.9,97.0 103.3,95.2 100.4,93.9"/><path class="m" d="M100.4,93.9L103.3,95.2"/><polygon class="q508" points="25.3,108.1 27.8,107.4 29.8,105.7 27.4,106.5"/><polygon class="q509" points="125.8,96.6 128.9,97.8 130.2,95.9 127.1,94.7"/><path class="m" d="M125.8,96.6L127.1,94.7"/><path class="m" d="M127.1,94.7L130.2,95.9"/><polygon class="q113" points="81.5,65.9 82.8,66.3 84.5,64.6 83.2,64.2"/><polygon class="q510" points="82.8,66.3 83.0,75.9 84.6,74.3 84.5,64.6"/><polygon class="q113" points="77.2,64.6 78.6,65.0 80.2,63.4 79.5,63.2"/><polygon class="q186" points="77.2,65.9 77.2,64.6 79.5,63.2 78.8,68.1"/><polygon class="q283" points="79.6,88.4 81.0,89.7 82.7,87.9 81.2,86.6"/><path class="m" d="M81.2,86.6L82.7,87.9"/><polygon class="q426" points="29.8,105.7 32.4,105.3 34.4,103.7 31.8,104.2"/><path class="m" d="M29.8,105.7L31.8,104.2"/><path class="m" d="M31.8,104.2L34.4,103.7"/><polygon class="q511" points="34.4,103.7 36.9,103.2 38.9,101.6 36.3,102.0"/><polygon class="q512" points="71.0,74.7 72.4,70.2 74.1,70.6 72.7,74.5"/><path class="m" d="M71.0,74.7L72.7,74.5"/><polygon class="q513" points="38.9,101.6 41.5,101.1 43.4,99.5 40.8,100.0"/><path class="m" d="M38.9,101.6L40.8,100.0"/><path class="m" d="M40.8,100.0L43.4,99.5"/><polygon class="q514" points="43.4,99.5 46.1,99.0 48.0,97.5 45.3,98.0"/><polygon class="q342" points="106.3,96.4 109.4,97.6 110.8,95.8 107.8,94.6"/><polygon class="q515" points="81.0,89.7 82.5,91.1 84.1,89.2 82.7,87.9"/><path class="m" d="M81.0,89.7L82.7,87.9"/><path class="m" d="M82.7,87.9L84.1,89.2"/><polygon class="q113" points="81.7,63.8 83.2,64.2 84.8,62.6 83.3,62.2"/><polygon class="q516" points="82.5,91.1 84.0,92.4 85.6,90.5 84.1,89.2"/><path class="m" d="M84.1,89.2L85.6,90.5"/><polygon class="q517" points="84.0,92.4 85.4,93.8 87.0,91.8 85.6,90.5"/><path class="m" d="M85.6,90.5L87.0,91.8"/><polygon class="q463" points="113.8,97.0 116.9,98.3 118.3,96.4 115.2,95.2"/><path class="w" d="M115.2,95.2L118.3,96.4"/><polygon class="q113" points="75.1,66.1 75.5,66.2 76.4,65.3"/><polygon class="q518" points="74.1,70.6 75.1,66.1 76.4,65.3 77.2,65.9 75.8,71.1"/><path class="m" d="M75.8,71.1L77.2,65.9"/><polygon class="q519" points="85.4,93.8 86.9,95.1 88.5,93.1 87.0,91.8"/><path class="m" d="M87.0,91.8L88.5,93.1"/><polygon class="q520" points="52.4,94.3 53.7,93.0 55.6,91.9 54.3,93.3"/><polygon class="q414" points="86.9,95.1 88.4,96.4 89.9,94.5 88.5,93.1"/><path class="m" d="M86.9,95.1L88.5,93.1"/><path class="m" d="M88.5,93.1L89.9,94.5"/><polygon class="q509" points="121.3,97.6 124.4,98.9 125.8,96.6 122.7,95.4"/><polygon class="q267" points="94.4,96.4 97.4,97.7 98.9,95.8 95.9,94.6"/><path class="m" d="M94.4,96.4L95.9,94.6"/><polygon class="q340" points="88.4,96.4 89.8,97.1 91.4,95.2 89.9,94.5"/><path class="m" d="M89.9,94.5L91.4,95.2"/><polygon class="q156" points="101.9,97.0 104.9,98.3 106.3,96.4 103.3,95.2"/><path class="m" d="M101.9,97.0L103.3,95.2"/><path class="m" d="M103.3,95.2L106.3,96.4"/><polygon class="q281" points="128.9,97.8 132.0,99.0 133.3,97.2 130.2,95.9"/><path class="m" d="M130.2,95.9L133.3,97.2"/><polygon class="q521" points="49.3,96.8 50.6,95.6 52.4,94.3 51.2,95.5"/><path class="m" d="M51.2,95.5L52.4,94.3"/><polygon class="q206" points="109.4,97.6 112.4,98.9 113.8,97.0 110.8,95.8"/><path class="m" d="M109.4,97.6L110.8,95.8"/><polygon class="q495" points="116.9,98.3 120.0,99.5 121.3,97.6 118.3,96.4"/><path class="m" d="M116.9,98.3L118.3,96.4"/><path class="w" d="M118.3,96.4L121.3,97.6"/><polygon class="q113" points="78.6,65.0 80.1,65.4 81.7,63.8 80.2,63.4"/><polygon class="q184" points="89.8,97.1 92.8,98.3 94.4,96.4 91.4,95.2"/><path class="m" d="M91.4,95.2L94.4,96.4"/><polygon class="q522" points="78.1,80.7 79.6,88.4 81.2,86.6 79.7,79.3"/><path class="m" d="M79.7,79.3L81.2,86.6"/><polygon class="q208" points="124.4,98.9 127.5,100.2 128.9,97.8 125.8,96.6"/><path class="m" d="M124.4,98.9L125.8,96.6"/><polygon class="q233" points="97.4,97.7 100.4,98.9 101.9,97.0 98.9,95.8"/><polygon class="q523" points="46.1,99.0 47.4,98.0 49.3,96.8 48.0,97.5"/><path class="m" d="M46.1,99.0L48.0,97.5"/><polygon class="q113" points="79.9,67.6 81.2,67.9 82.8,66.3 81.5,65.9"/><polygon class="q510" points="81.2,67.9 81.4,77.7 83.0,75.9 82.8,66.3"/><path class="m" d="M81.5,65.9L83.0,75.9"/><polygon class="q524" points="77.9,90.2 79.4,91.6 81.0,89.7 79.6,88.4"/><polygon class="q525" points="56.9,90.5 58.1,87.4 60.0,86.9 58.7,89.4"/><path class="m" d="M56.9,90.5L58.7,89.4"/><path class="m" d="M58.7,89.4L60.0,86.9"/><polygon class="q526" points="60.0,86.9 61.2,83.3 63.1,83.0 61.8,86.6"/><polygon class="q127" points="79.4,91.6 80.9,93.0 82.5,91.1 81.0,89.7"/><path class="m" d="M79.4,91.6L81.0,89.7"/><polygon class="q342" points="104.9,98.3 107.9,99.5 109.4,97.6 106.3,96.4"/><path class="m" d="M106.3,96.4L109.4,97.6"/><polygon class="q110" points="80.9,93.0 82.3,94.4 84.0,92.4 82.5,91.1"/><polygon class="q113" points="80.1,65.4 81.5,65.9 83.2,64.2 81.7,63.8"/><polygon class="q450" points="27.8,107.4 30.3,106.9 32.4,105.3 29.8,105.7"/><path class="m" d="M27.8,107.4L29.8,105.7"/><polygon class="q527" points="82.3,94.4 83.8,95.8 85.4,93.8 84.0,92.4"/><polygon class="q449" points="32.4,105.3 34.9,104.8 36.9,103.2 34.4,103.7"/><path class="m" d="M34.4,103.7L36.9,103.2"/><polygon class="q528" points="63.1,83.0 64.4,79.5 66.2,79.0 64.9,82.6"/><path class="m" d="M64.9,82.6L66.2,79.0"/><polygon class="q529" points="53.7,93.0 55.0,91.4 56.9,90.5 55.6,91.9"/><polygon class="q530" points="36.9,103.2 39.6,102.7 41.5,101.1 38.9,101.6"/><path class="m" d="M36.9,103.2L38.9,101.6"/><polygon class="q531" points="41.5,101.1 44.1,100.4 46.1,99.0 43.4,99.5"/><path class="m" d="M43.4,99.5L46.1,99.0"/><polygon class="q463" points="112.4,98.9 115.5,100.2 116.9,98.3 113.8,97.0"/><polygon class="q196" points="83.8,95.8 85.3,97.2 86.9,95.1 85.4,93.8"/><polygon class="q294" points="85.3,97.2 86.8,98.3 88.4,96.4 86.9,95.1"/><path class="m" d="M85.3,97.2L86.9,95.1"/><polygon class="q281" points="120.0,99.5 123.1,100.8 124.4,98.9 121.3,97.6"/><path class="w" d="M121.3,97.6L124.4,98.9"/><polygon class="q532" points="66.2,79.0 67.5,75.2 69.3,74.8 67.9,78.5"/><polygon class="q113" points="75.5,66.2 76.9,66.7 78.6,65.0 77.2,64.6 76.4,65.3"/><polygon class="q533" points="77.2,64.6 77.2,65.9 76.4,65.3"/><path class="m" d="M77.2,65.9L78.6,65.0"/><polygon class="q267" points="92.8,98.3 95.8,99.6 97.4,97.7 94.4,96.4"/><path class="m" d="M92.8,98.3L94.4,96.4"/><path class="m" d="M94.4,96.4L97.4,97.7"/><polygon class="q134" points="86.8,98.3 88.2,99.0 89.8,97.1 88.4,96.4"/><polygon class="q534" points="50.6,95.6 51.9,94.3 53.7,93.0 52.4,94.3"/><path class="m" d="M52.4,94.3L53.7,93.0"/><polygon class="q535" points="127.5,100.2 130.7,101.4 132.0,99.0 128.9,97.8"/><polygon class="q156" points="100.4,98.9 103.4,100.2 104.9,98.3 101.9,97.0"/><path class="m" d="M100.4,98.9L101.9,97.0"/><polygon class="q536" points="69.3,74.8 70.6,69.9 72.4,70.2 71.0,74.7"/><path class="m" d="M69.3,74.8L71.0,74.7"/><path class="m" d="M71.0,74.7L72.4,70.2"/><polygon class="q113" points="72.8,67.6 73.8,67.9 75.5,66.2 75.1,66.1"/><polygon class="q537" points="72.4,70.2 72.8,67.6 75.1,66.1 74.1,70.6"/><polygon class="q206" points="107.9,99.5 111.0,100.8 112.4,98.9 109.4,97.6"/><path class="m" d="M107.9,99.5L109.4,97.6"/><path class="m" d="M109.4,97.6L112.4,98.9"/><polygon class="q495" points="115.5,100.2 118.6,101.4 120.0,99.5 116.9,98.3"/><path class="m" d="M115.5,100.2L116.9,98.3"/><polygon class="q538" points="47.4,98.0 48.6,96.9 50.6,95.6 49.3,96.8"/><polygon class="q113" points="76.9,66.7 78.4,67.1 80.1,65.4 78.6,65.0"/><polygon class="q535" points="123.1,100.8 126.2,102.1 127.5,100.2 124.4,98.9"/><path class="m" d="M123.1,100.8L124.4,98.9"/><path class="w" d="M124.4,98.9L127.5,100.2"/><polygon class="q184" points="88.2,99.0 91.2,100.2 92.8,98.3 89.8,97.1"/><polygon class="q233" points="95.8,99.6 98.8,100.8 100.4,98.9 97.4,97.7"/><path class="m" d="M97.4,97.7L100.4,98.9"/><polygon class="q539" points="76.4,81.9 77.9,90.2 79.6,88.4 78.1,80.7"/><polygon class="q113" points="78.2,69.2 79.5,69.6 81.2,67.9 79.9,67.6"/><polygon class="q510" points="79.5,69.6 79.7,79.3 81.4,77.7 81.2,67.9"/><polygon class="q243" points="76.2,92.1 77.7,93.5 79.4,91.6 77.9,90.2"/><path class="m" d="M77.9,90.2L79.4,91.6"/><polygon class="q540" points="77.7,93.5 79.2,94.9 80.9,93.0 79.4,91.6"/><path class="m" d="M77.7,93.5L79.4,91.6"/><path class="m" d="M79.4,91.6L80.9,93.0"/><polygon class="q541" points="79.2,94.9 80.7,96.4 82.3,94.4 80.9,93.0"/><path class="m" d="M80.9,93.0L82.3,94.4"/><polygon class="q342" points="103.4,100.2 106.5,101.4 107.9,99.5 104.9,98.3"/><polygon class="q542" points="80.7,96.4 82.2,97.8 83.8,95.8 82.3,94.4"/><path class="m" d="M82.3,94.4L83.8,95.8"/><polygon class="q113" points="78.4,67.1 79.9,67.6 81.5,65.9 80.1,65.4"/><polygon class="q543" points="82.2,97.8 83.7,99.2 85.3,97.2 83.8,95.8"/><path class="m" d="M83.8,95.8L85.3,97.2"/><polygon class="q544" points="44.1,100.4 45.4,99.3 47.4,98.0 46.1,99.0"/><path class="m" d="M44.1,100.4L46.1,99.0"/><path class="m" d="M46.1,99.0L47.4,98.0"/><polygon class="q463" points="111.0,100.8 114.1,102.1 115.5,100.2 112.4,98.9"/><path class="m" d="M112.4,98.9L115.5,100.2"/><polygon class="q204" points="83.7,99.2 85.1,100.3 86.8,98.3 85.3,97.2"/><path class="m" d="M83.7,99.2L85.3,97.2"/><path class="m" d="M85.3,97.2L86.8,98.3"/><polygon class="q473" points="30.3,106.9 32.9,106.5 34.9,104.8 32.4,105.3"/><polygon class="q545" points="34.9,104.8 37.6,104.3 39.6,102.7 36.9,103.2"/><path class="m" d="M34.9,104.8L36.9,103.2"/><path class="m" d="M36.9,103.2L39.6,102.7"/><polygon class="q281" points="118.6,101.4 121.7,102.7 123.1,100.8 120.0,99.5"/><polygon class="q546" points="39.6,102.7 42.2,101.7 44.1,100.4 41.5,101.1"/><polygon class="q547" points="55.0,91.4 56.2,87.8 58.1,87.4 56.9,90.5"/><path class="m" d="M55.0,91.4L56.9,90.5"/><polygon class="q548" points="126.2,102.1 129.4,103.3 130.7,101.4 127.5,100.2"/><path class="w" d="M127.5,100.2L130.7,101.4"/><polygon class="q549" points="51.9,94.3 53.1,92.3 55.0,91.4 53.7,93.0"/><path class="m" d="M53.7,93.0L55.0,91.4"/><polygon class="q267" points="91.2,100.2 94.3,101.5 95.8,99.6 92.8,98.3"/><path class="m" d="M91.2,100.2L92.8,98.3"/><polygon class="q550" points="85.1,100.3 86.6,100.9 88.2,99.0 86.8,98.3"/><path class="m" d="M86.8,98.3L88.2,99.0"/><polygon class="q551" points="58.1,87.4 59.4,83.9 61.2,83.3 60.0,86.9"/><path class="m" d="M60.0,86.9L61.2,83.3"/><polygon class="q113" points="73.8,67.9 75.2,68.3 76.9,66.7 75.5,66.2"/><polygon class="q156" points="98.8,100.8 101.9,102.1 103.4,100.2 100.4,98.9"/><path class="m" d="M98.8,100.8L100.4,98.9"/><path class="m" d="M100.4,98.9L103.4,100.2"/><polygon class="q552" points="61.2,83.3 62.5,79.9 64.4,79.5 63.1,83.0"/><polygon class="q553" points="48.6,96.9 49.9,95.7 51.9,94.3 50.6,95.6"/><polygon class="q206" points="106.5,101.4 109.5,102.7 111.0,100.8 107.9,99.5"/><path class="m" d="M106.5,101.4L107.9,99.5"/><polygon class="q554" points="64.4,79.5 65.7,75.4 67.5,75.2 66.2,79.0"/><path class="m" d="M66.2,79.0L67.5,75.2"/><polygon class="q495" points="114.1,102.1 117.2,103.4 118.6,101.4 115.5,100.2"/><path class="m" d="M114.1,102.1L115.5,100.2"/><path class="m" d="M115.5,100.2L118.6,101.4"/><polygon class="q113" points="75.2,68.3 76.7,68.8 78.4,67.1 76.9,66.7"/><polygon class="q184" points="86.6,100.9 89.6,102.2 91.2,100.2 88.2,99.0"/><path class="m" d="M88.2,99.0L91.2,100.2"/><polygon class="q535" points="121.7,102.7 124.9,104.0 126.2,102.1 123.1,100.8"/><path class="m" d="M121.7,102.7L123.1,100.8"/><polygon class="q113" points="70.6,69.2 72.0,69.6 73.8,67.9 72.8,67.6"/><polygon class="q555" points="70.6,69.9 70.6,69.2 72.8,67.6 72.4,70.2"/><path class="m" d="M72.4,70.2L73.8,67.9"/><polygon class="q233" points="94.3,101.5 97.3,102.8 98.8,100.8 95.8,99.6"/><polygon class="q556" points="45.4,99.3 46.7,98.2 48.6,96.9 47.4,98.0"/><path class="m" d="M47.4,98.0L48.6,96.9"/><polygon class="q557" points="74.5,94.0 76.0,95.5 77.7,93.5 76.2,92.1"/><polygon class="q113" points="68.5,70.8 68.8,70.9 69.9,69.8"/><polygon class="q558" points="67.5,75.2 68.5,70.8 69.9,69.8 70.6,69.9 69.3,74.8"/><path class="m" d="M67.5,75.2L69.3,74.8"/><polygon class="q559" points="76.0,95.5 77.5,96.9 79.2,94.9 77.7,93.5"/><path class="m" d="M76.0,95.5L77.7,93.5"/><polygon class="q320" points="74.7,83.4 76.2,92.1 77.9,90.2 76.4,81.9"/><path class="m" d="M76.4,81.9L77.9,90.2"/><polygon class="q254" points="77.5,96.9 79.0,98.4 80.7,96.4 79.2,94.9"/><polygon class="q113" points="76.5,71.0 77.8,71.4 79.5,69.6 78.2,69.2"/><polygon class="q81" points="77.8,71.4 78.1,80.7 79.7,79.3 79.5,69.6"/><polygon class="q560" points="79.0,98.4 80.5,99.9 82.2,97.8 80.7,96.4"/><polygon class="q342" points="101.9,102.1 105.0,103.4 106.5,101.4 103.4,100.2"/><path class="m" d="M103.4,100.2L106.5,101.4"/><polygon class="q561" points="80.5,99.9 82.0,101.4 83.7,99.2 82.2,97.8"/><polygon class="q113" points="76.7,68.8 78.2,69.2 79.9,67.6 78.4,67.1"/><polygon class="q440" points="82.0,101.4 83.5,102.2 85.1,100.3 83.7,99.2"/><path class="m" d="M82.0,101.4L83.7,99.2"/><polygon class="q463" points="109.5,102.7 112.6,104.0 114.1,102.1 111.0,100.8"/><polygon class="q281" points="117.2,103.4 120.3,104.7 121.7,102.7 118.6,101.4"/><path class="m" d="M118.6,101.4L121.7,102.7"/><polygon class="q562" points="42.2,101.7 43.4,100.7 45.4,99.3 44.1,100.4"/><path class="m" d="M42.2,101.7L44.1,100.4"/><polygon class="q494" points="32.9,106.5 35.5,106.0 37.6,104.3 34.9,104.8"/><path class="m" d="M32.9,106.5L34.9,104.8"/><polygon class="q146" points="89.6,102.2 92.7,103.5 94.3,101.5 91.2,100.2"/><path class="m" d="M89.6,102.2L91.2,100.2"/><path class="m" d="M91.2,100.2L94.3,101.5"/><polygon class="q548" points="124.9,104.0 128.0,105.3 129.4,103.3 126.2,102.1"/><polygon class="q550" points="83.5,102.2 85.0,102.9 86.6,100.9 85.1,100.3"/><polygon class="q563" points="37.6,104.3 40.1,103.1 42.2,101.7 39.6,102.7"/><path class="m" d="M39.6,102.7L42.2,101.7"/><polygon class="q113" points="72.0,69.6 73.5,70.1 75.2,68.3 73.8,67.9"/><polygon class="q187" points="97.3,102.8 100.4,104.1 101.9,102.1 98.8,100.8"/><path class="m" d="M97.3,102.8L98.8,100.8"/><polygon class="q564" points="49.9,95.7 51.2,93.3 53.1,92.3 51.9,94.3"/><polygon class="q206" points="105.0,103.4 108.1,104.7 109.5,102.7 106.5,101.4"/><path class="m" d="M105.0,103.4L106.5,101.4"/><path class="m" d="M106.5,101.4L109.5,102.7"/><polygon class="q565" points="53.1,92.3 54.3,89.0 56.2,87.8 55.0,91.4"/><path class="m" d="M53.1,92.3L55.0,91.4"/><path class="m" d="M55.0,91.4L56.2,87.8"/><polygon class="q495" points="112.6,104.0 115.8,105.3 117.2,103.4 114.1,102.1"/><path class="m" d="M112.6,104.0L114.1,102.1"/><polygon class="q566" points="46.7,98.2 48.0,97.1 49.9,95.7 48.6,96.9"/><path class="m" d="M48.6,96.9L49.9,95.7"/><polygon class="q113" points="73.5,70.1 75.0,70.5 76.7,68.8 75.2,68.3"/><polygon class="q219" points="85.0,102.9 88.0,104.1 89.6,102.2 86.6,100.9"/><polygon class="q567" points="56.2,87.8 57.5,84.5 59.4,83.9 58.1,87.4"/><polygon class="q535" points="120.3,104.7 123.5,106.0 124.9,104.0 121.7,102.7"/><path class="m" d="M120.3,104.7L121.7,102.7"/><path class="m" d="M121.7,102.7L124.9,104.0"/><polygon class="q233" points="92.7,103.5 95.7,104.7 97.3,102.8 94.3,101.5"/><path class="m" d="M94.3,101.5L97.3,102.8"/><polygon class="q568" points="59.4,83.9 60.7,80.4 62.5,79.9 61.2,83.3"/><path class="m" d="M61.2,83.3L62.5,79.9"/><polygon class="q404" points="72.8,95.9 74.3,97.4 76.0,95.5 74.5,94.0"/><path class="m" d="M74.5,94.0L76.0,95.5"/><polygon class="q149" points="74.3,97.4 75.8,99.0 77.5,96.9 76.0,95.5"/><path class="m" d="M74.3,97.4L76.0,95.5"/><path class="m" d="M76.0,95.5L77.5,96.9"/><polygon class="q436" points="75.8,99.0 77.3,100.5 79.0,98.4 77.5,96.9"/><path class="m" d="M77.5,96.9L79.0,98.4"/><polygon class="q260" points="77.3,100.5 78.8,102.0 80.5,99.9 79.0,98.4"/><path class="m" d="M79.0,98.4L80.5,99.9"/><polygon class="q461" points="78.8,102.0 80.3,103.6 82.0,101.4 80.5,99.9"/><path class="m" d="M80.5,99.9L82.0,101.4"/><polygon class="q569" points="72.9,85.2 74.5,94.0 76.2,92.1 74.7,83.4"/><polygon class="q362" points="100.4,104.1 103.5,105.4 105.0,103.4 101.9,102.1"/><polygon class="q113" points="74.8,72.7 76.1,73.1 77.8,71.4 76.5,71.0"/><polygon class="q113" points="75.0,70.5 76.5,71.0 78.2,69.2 76.7,68.8"/><polygon class="q113" points="68.8,70.9 70.3,71.3 72.0,69.6 70.6,69.2 69.9,69.8"/><polygon class="q570" points="70.6,69.2 70.6,69.9 69.9,69.8"/><polygon class="q571" points="43.4,100.7 44.7,99.7 46.7,98.2 45.4,99.3"/><polygon class="q340" points="80.3,103.6 81.8,104.2 83.5,102.2 82.0,101.4"/><path class="m" d="M80.3,103.6L82.0,101.4"/><path class="m" d="M82.0,101.4L83.5,102.2"/><polygon class="q572" points="62.5,79.9 63.8,75.5 65.7,75.4 64.4,79.5"/><polygon class="q463" points="108.1,104.7 111.2,106.0 112.6,104.0 109.5,102.7"/><path class="m" d="M109.5,102.7L112.6,104.0"/><polygon class="q113" points="66.2,72.3 67.0,72.6 68.8,70.9 68.5,70.8"/><polygon class="q573" points="65.7,75.4 66.2,72.3 68.5,70.8 67.5,75.2"/><path class="m" d="M65.7,75.4L67.5,75.2"/><path class="m" d="M67.5,75.2L68.8,70.9"/><polygon class="q281" points="115.8,105.3 118.9,106.6 120.3,104.7 117.2,103.4"/><polygon class="q146" points="88.0,104.1 91.1,105.4 92.7,103.5 89.6,102.2"/><path class="m" d="M88.0,104.1L89.6,102.2"/><polygon class="q548" points="123.5,106.0 126.7,107.3 128.0,105.3 124.9,104.0"/><path class="m" d="M124.9,104.0L128.0,105.3"/><polygon class="q574" points="81.8,104.2 83.3,104.8 85.0,102.9 83.5,102.2"/><path class="m" d="M83.5,102.2L85.0,102.9"/><polygon class="q113" points="70.3,71.3 71.8,71.8 73.5,70.1 72.0,69.6"/><polygon class="q575" points="40.1,103.1 41.4,102.1 43.4,100.7 42.2,101.7"/><path class="m" d="M40.1,103.1L42.2,101.7"/><path class="m" d="M42.2,101.7L43.4,100.7"/><polygon class="q187" points="95.7,104.7 98.8,106.0 100.4,104.1 97.3,102.8"/><path class="m" d="M95.7,104.7L97.3,102.8"/><path class="m" d="M97.3,102.8L100.4,104.1"/><polygon class="q576" points="35.5,106.0 38.1,104.5 40.1,103.1 37.6,104.3"/><polygon class="q257" points="103.5,105.4 106.6,106.7 108.1,104.7 105.0,103.4"/><path class="m" d="M103.5,105.4L105.0,103.4"/><polygon class="q495" points="111.2,106.0 114.3,107.3 115.8,105.3 112.6,104.0"/><path class="m" d="M111.2,106.0L112.6,104.0"/><path class="m" d="M112.6,104.0L115.8,105.3"/><polygon class="q113" points="71.8,71.8 73.3,72.2 75.0,70.5 73.5,70.1"/><polygon class="q577" points="48.0,97.1 49.2,94.3 51.2,93.3 49.9,95.7"/><path class="m" d="M49.9,95.7L51.2,93.3"/><polygon class="q219" points="83.3,104.8 86.4,106.2 88.0,104.1 85.0,102.9"/><path class="m" d="M85.0,102.9L88.0,104.1"/><polygon class="q578" points="118.9,106.6 122.1,107.9 123.5,106.0 120.3,104.7"/><path class="m" d="M118.9,106.6L120.3,104.7"/><polygon class="q579" points="51.2,93.3 52.4,90.2 54.3,89.0 53.1,92.3"/><path class="m" d="M51.2,93.3L53.1,92.3"/><polygon class="q163" points="75.6,102.6 77.1,104.2 78.8,102.0 77.3,100.5"/><polygon class="q358" points="74.1,101.0 75.6,102.6 77.3,100.5 75.8,99.0"/><polygon class="q280" points="91.1,105.4 94.1,106.8 95.7,104.7 92.7,103.5"/><polygon class="q435" points="72.6,99.5 74.1,101.0 75.8,99.0 74.3,97.4"/><polygon class="q580" points="71.1,97.9 72.6,99.5 74.3,97.4 72.8,95.9"/><path class="m" d="M72.6,99.5L74.3,97.4"/><polygon class="q414" points="77.1,104.2 78.6,105.6 80.3,103.6 78.8,102.0"/><polygon class="q581" points="44.7,99.7 46.0,98.2 48.0,97.1 46.7,98.2"/><polygon class="q362" points="98.8,106.0 101.9,107.4 103.5,105.4 100.4,104.1"/><path class="m" d="M100.4,104.1L103.5,105.4"/><polygon class="q253" points="71.1,86.9 72.8,95.9 74.5,94.0 72.9,85.2"/><path class="m" d="M72.9,85.2L74.5,94.0"/><polygon class="q113" points="73.3,72.2 74.8,72.7 76.5,71.0 75.0,70.5"/><polygon class="q134" points="78.6,105.6 80.1,106.2 81.8,104.2 80.3,103.6"/><path class="m" d="M78.6,105.6L80.3,103.6"/><polygon class="q582" points="54.3,89.0 55.6,85.7 57.5,84.5 56.2,87.8"/><path class="m" d="M56.2,87.8L57.5,84.5"/><polygon class="q113" points="73.0,74.5 74.3,74.9 76.1,73.1 74.8,72.7"/><polygon class="q113" points="67.0,72.6 68.5,73.1 70.3,71.3 68.8,70.9"/><polygon class="q463" points="106.6,106.7 109.7,108.0 111.2,106.0 108.1,104.7"/><polygon class="q583" points="41.4,102.1 42.7,101.1 44.7,99.7 43.4,100.7"/><path class="m" d="M43.4,100.7L44.7,99.7"/><polygon class="q281" points="114.3,107.3 117.5,108.6 118.9,106.6 115.8,105.3"/><path class="m" d="M115.8,105.3L118.9,106.6"/><polygon class="q584" points="57.5,84.5 58.7,80.7 60.7,80.4 59.4,83.9"/><polygon class="q146" points="86.4,106.2 89.4,107.5 91.1,105.4 88.0,104.1"/><path class="m" d="M86.4,106.2L88.0,104.1"/><path class="m" d="M88.0,104.1L91.1,105.4"/><polygon class="q155" points="80.1,106.2 81.7,106.9 83.3,104.8 81.8,104.2"/><polygon class="q548" points="122.1,107.9 125.3,109.3 126.7,107.3 123.5,106.0"/><polygon class="q113" points="68.5,73.1 70.0,73.5 71.8,71.8 70.3,71.3"/><polygon class="q187" points="94.1,106.8 97.2,108.1 98.8,106.0 95.7,104.7"/><path class="m" d="M94.1,106.8L95.7,104.7"/><polygon class="q113" points="63.9,73.9 65.2,74.4 67.0,72.6 66.2,72.3"/><polygon class="q114" points="63.8,75.5 63.9,73.9 66.2,72.3 65.7,75.4"/><path class="m" d="M63.8,75.5L65.7,75.4"/><polygon class="q585" points="60.7,80.4 61.9,75.9 63.8,75.5 62.5,79.9"/><path class="m" d="M62.5,79.9L63.8,75.5"/><polygon class="q257" points="101.9,107.4 105.1,108.7 106.6,106.7 103.5,105.4"/><path class="m" d="M101.9,107.4L103.5,105.4"/><path class="m" d="M103.5,105.4L106.6,106.7"/><polygon class="q586" points="38.1,104.5 39.4,103.6 41.4,102.1 40.1,103.1"/><path class="m" d="M38.1,104.5L40.1,103.1"/><polygon class="q495" points="109.7,108.0 112.9,109.3 114.3,107.3 111.2,106.0"/><path class="m" d="M109.7,108.0L111.2,106.0"/><polygon class="q113" points="70.0,73.5 71.5,74.0 73.3,72.2 71.8,71.8"/><polygon class="q219" points="81.7,106.9 84.7,108.2 86.4,106.2 83.3,104.8"/><polygon class="q578" points="117.5,108.6 120.7,110.0 122.1,107.9 118.9,106.6"/><path class="m" d="M117.5,108.6L118.9,106.6"/><path class="m" d="M118.9,106.6L122.1,107.9"/><polygon class="q361" points="73.9,104.7 75.4,106.4 77.1,104.2 75.6,102.6"/><path class="m" d="M75.6,102.6L77.1,104.2"/><polygon class="q587" points="72.3,103.1 73.9,104.7 75.6,102.6 74.1,101.0"/><path class="m" d="M74.1,101.0L75.6,102.6"/><polygon class="q588" points="70.8,101.5 72.3,103.1 74.1,101.0 72.6,99.5"/><path class="m" d="M72.6,99.5L74.1,101.0"/><polygon class="q589" points="75.4,106.4 76.9,107.6 78.6,105.6 77.1,104.2"/><path class="m" d="M77.1,104.2L78.6,105.6"/><polygon class="q266" points="69.3,99.9 70.8,101.5 72.6,99.5 71.1,97.9"/><path class="m" d="M71.1,97.9L72.6,99.5"/><path class="m" d="M70.8,101.5L72.6,99.5"/><polygon class="q280" points="89.4,107.5 92.5,108.8 94.1,106.8 91.1,105.4"/><path class="m" d="M91.1,105.4L94.1,106.8"/><polygon class="q590" points="46.0,98.2 47.2,95.6 49.2,94.3 48.0,97.1"/><polygon class="q362" points="97.2,108.1 100.4,109.4 101.9,107.4 98.8,106.0"/><polygon class="q591" points="69.4,88.7 71.1,97.9 72.8,95.9 71.1,86.9"/><polygon class="q134" points="76.9,107.6 78.4,108.2 80.1,106.2 78.6,105.6"/><path class="m" d="M76.9,107.6L78.6,105.6"/><path class="m" d="M78.6,105.6L80.1,106.2"/><polygon class="q113" points="71.5,74.0 73.0,74.5 74.8,72.7 73.3,72.2"/><polygon class="q592" points="49.2,94.3 50.4,91.3 52.4,90.2 51.2,93.3"/><path class="m" d="M49.2,94.3L51.2,93.3"/><path class="m" d="M51.2,93.3L52.4,90.2"/><polygon class="q593" points="42.7,101.1 44.0,99.3 46.0,98.2 44.7,99.7"/><path class="m" d="M44.7,99.7L46.0,98.2"/><polygon class="q113" points="65.2,74.4 66.7,74.8 68.5,73.1 67.0,72.6"/><polygon class="q463" points="105.1,108.7 108.2,110.0 109.7,108.0 106.6,106.7"/><path class="m" d="M106.6,106.7L109.7,108.0"/><polygon class="q113" points="71.2,76.3 72.5,76.7 74.3,74.9 73.0,74.5"/><polygon class="q281" points="112.9,109.3 116.1,110.7 117.5,108.6 114.3,107.3"/><polygon class="q594" points="52.4,90.2 53.6,86.9 55.6,85.7 54.3,89.0"/><polygon class="q172" points="84.7,108.2 87.8,109.5 89.4,107.5 86.4,106.2"/><path class="m" d="M84.7,108.2L86.4,106.2"/><polygon class="q155" points="78.4,108.2 80.0,108.9 81.7,106.9 80.1,106.2"/><path class="m" d="M80.1,106.2L81.7,106.9"/><polygon class="q548" points="120.7,110.0 123.9,111.3 125.3,109.3 122.1,107.9"/><path class="m" d="M122.1,107.9L125.3,109.3"/><polygon class="q595" points="39.4,103.6 40.7,102.7 42.7,101.1 41.4,102.1"/><polygon class="q113" points="66.7,74.8 68.2,75.3 70.0,73.5 68.5,73.1"/><polygon class="q187" points="92.5,108.8 95.7,110.1 97.2,108.1 94.1,106.8"/><path class="m" d="M92.5,108.8L94.1,106.8"/><path class="m" d="M94.1,106.8L97.2,108.1"/><polygon class="q257" points="100.4,109.4 103.5,110.7 105.1,108.7 101.9,107.4"/><path class="m" d="M100.4,109.4L101.9,107.4"/><polygon class="q596" points="55.6,85.7 56.8,81.7 58.7,80.7 57.5,84.5"/><path class="m" d="M57.5,84.5L58.7,80.7"/><polygon class="q113" points="61.9,75.7 63.4,76.2 65.2,74.4 63.9,73.9"/><polygon class="q533" points="61.9,75.9 61.9,75.7 63.9,73.9 63.8,75.5"/><path class="m" d="M61.9,75.9L63.8,75.5"/><path class="m" d="M63.8,75.5L65.2,74.4"/><polygon class="q495" points="108.2,110.0 111.4,111.4 112.9,109.3 109.7,108.0"/><path class="m" d="M108.2,110.0L109.7,108.0"/><path class="m" d="M109.7,108.0L112.9,109.3"/><polygon class="q113" points="68.2,75.3 69.7,75.8 71.5,74.0 70.0,73.5"/><polygon class="q346" points="80.0,108.9 83.0,110.2 84.7,108.2 81.7,106.9"/><path class="m" d="M81.7,106.9L84.7,108.2"/><polygon class="q597" points="72.1,106.9 73.6,108.6 75.4,106.4 73.9,104.7"/><polygon class="q578" points="116.1,110.7 119.3,112.0 120.7,110.0 117.5,108.6"/><path class="m" d="M116.1,110.7L117.5,108.6"/><polygon class="q411" points="70.6,105.2 72.1,106.9 73.9,104.7 72.3,103.1"/><polygon class="q113" points="59.4,77.3 60.0,77.5 61.8,75.8"/><polygon class="q598" points="58.7,80.7 59.4,77.3 61.8,75.8 61.9,75.9 60.7,80.4"/><polygon class="q352" points="69.0,103.5 70.6,105.2 72.3,103.1 70.8,101.5"/><polygon class="q204" points="73.6,108.6 75.2,109.6 76.9,107.6 75.4,106.4"/><polygon class="q434" points="67.5,101.9 69.0,103.5 70.8,101.5 69.3,99.9"/><path class="m" d="M69.0,103.5L70.8,101.5"/><polygon class="q466" points="87.8,109.5 90.9,110.9 92.5,108.8 89.4,107.5"/><polygon class="q384" points="95.7,110.1 98.8,111.5 100.4,109.4 97.2,108.1"/><path class="m" d="M97.2,108.1L100.4,109.4"/><polygon class="q550" points="75.2,109.6 76.7,110.3 78.4,108.2 76.9,107.6"/><path class="m" d="M75.2,109.6L76.9,107.6"/><polygon class="q599" points="67.5,90.1 69.3,99.9 71.1,97.9 69.4,88.7"/><polygon class="q113" points="69.7,75.8 71.2,76.3 73.0,74.5 71.5,74.0"/><polygon class="q113" points="63.4,76.2 64.9,76.6 66.7,74.8 65.2,74.4"/><polygon class="q463" points="103.5,110.7 106.7,112.1 108.2,110.0 105.1,108.7"/><polygon class="q113" points="69.4,78.1 70.7,78.5 72.5,76.7 71.2,76.3"/><polygon class="q600" points="44.0,99.3 45.2,96.9 47.2,95.6 46.0,98.2"/><path class="m" d="M46.0,98.2L47.2,95.6"/><polygon class="q281" points="111.4,111.4 114.6,112.7 116.1,110.7 112.9,109.3"/><path class="m" d="M112.9,109.3L116.1,110.7"/><polygon class="q601" points="40.7,102.7 41.9,100.6 44.0,99.3 42.7,101.1"/><polygon class="q602" points="47.2,95.6 48.4,92.6 50.4,91.3 49.2,94.3"/><path class="m" d="M47.2,95.6L49.2,94.3"/><polygon class="q172" points="83.0,110.2 86.1,111.6 87.8,109.5 84.7,108.2"/><path class="m" d="M83.0,110.2L84.7,108.2"/><path class="m" d="M84.7,108.2L87.8,109.5"/><polygon class="q155" points="76.7,110.3 78.2,111.0 80.0,108.9 78.4,108.2"/><polygon class="q603" points="119.3,112.0 122.5,113.4 123.9,111.3 120.7,110.0"/><polygon class="q113" points="64.9,76.6 66.4,77.1 68.2,75.3 66.7,74.8"/><polygon class="q187" points="90.9,110.9 94.0,112.2 95.7,110.1 92.5,108.8"/><path class="m" d="M90.9,110.9L92.5,108.8"/><polygon class="q604" points="50.4,91.3 51.6,88.0 53.6,86.9 52.4,90.2"/><path class="m" d="M52.4,90.2L53.6,86.9"/><polygon class="q307" points="98.8,111.5 102.0,112.8 103.5,110.7 100.4,109.4"/><path class="m" d="M98.8,111.5L100.4,109.4"/><path class="m" d="M100.4,109.4L103.5,110.7"/><polygon class="q495" points="106.7,112.1 109.9,113.5 111.4,111.4 108.2,110.0"/><path class="m" d="M106.7,112.1L108.2,110.0"/><polygon class="q224" points="70.3,109.1 71.9,110.8 73.6,108.6 72.1,106.9"/><path class="m" d="M72.1,106.9L73.6,108.6"/><polygon class="q113" points="66.4,77.1 67.9,77.6 69.7,75.8 68.2,75.3"/><polygon class="q346" points="78.2,111.0 81.3,112.3 83.0,110.2 80.0,108.9"/><polygon class="q527" points="68.8,107.4 70.3,109.1 72.1,106.9 70.6,105.2"/><path class="m" d="M70.6,105.2L72.1,106.9"/><polygon class="q113" points="60.0,77.5 61.5,78.0 63.4,76.2 61.9,75.7 61.8,75.8"/><polygon class="q605" points="61.9,75.7 61.9,75.9 61.8,75.8"/><path class="m" d="M60.0,77.5L61.9,75.9"/><polygon class="q578" points="114.6,112.7 117.8,114.1 119.3,112.0 116.1,110.7"/><path class="m" d="M114.6,112.7L116.1,110.7"/><path class="m" d="M116.1,110.7L119.3,112.0"/><polygon class="q606" points="67.2,105.7 68.8,107.4 70.6,105.2 69.0,103.5"/><path class="m" d="M69.0,103.5L70.6,105.2"/><polygon class="q607" points="53.6,86.9 54.8,82.8 56.8,81.7 55.6,85.7"/><polygon class="q440" points="71.9,110.8 73.4,111.7 75.2,109.6 73.6,108.6"/><path class="m" d="M73.6,108.6L75.2,109.6"/><polygon class="q383" points="65.7,103.9 67.2,105.7 69.0,103.5 67.5,101.9"/><path class="m" d="M67.5,101.9L69.0,103.5"/><path class="m" d="M67.2,105.7L69.0,103.5"/><polygon class="q466" points="86.1,111.6 89.2,112.9 90.9,110.9 87.8,109.5"/><path class="m" d="M87.8,109.5L90.9,110.9"/><polygon class="q384" points="94.0,112.2 97.2,113.6 98.8,111.5 95.7,110.1"/><polygon class="q113" points="57.2,79.0 58.2,79.3 60.0,77.5 59.4,77.3"/><polygon class="q608" points="56.8,81.7 57.2,79.0 59.4,77.3 58.7,80.7"/><path class="m" d="M58.7,80.7L60.0,77.5"/><polygon class="q550" points="73.4,111.7 74.9,112.4 76.7,110.3 75.2,109.6"/><path class="m" d="M73.4,111.7L75.2,109.6"/><path class="m" d="M75.2,109.6L76.7,110.3"/><polygon class="q113" points="67.9,77.6 69.4,78.1 71.2,76.3 69.7,75.8"/><polygon class="q609" points="65.7,91.6 67.5,101.9 69.3,99.9 67.5,90.1"/><polygon class="q113" points="61.5,78.0 63.0,78.5 64.9,76.6 63.4,76.2"/><polygon class="q463" points="102.0,112.8 105.1,114.2 106.7,112.1 103.5,110.7"/><path class="m" d="M103.5,110.7L106.7,112.1"/><polygon class="q113" points="67.6,79.9 68.9,80.4 70.7,78.5 69.4,78.1"/><polygon class="q281" points="109.9,113.5 113.1,114.8 114.6,112.7 111.4,111.4"/><polygon class="q172" points="81.3,112.3 84.4,113.7 86.1,111.6 83.0,110.2"/><path class="m" d="M81.3,112.3L83.0,110.2"/><polygon class="q184" points="74.9,112.4 76.5,113.1 78.2,111.0 76.7,110.3"/><path class="m" d="M76.7,110.3L78.2,111.0"/><polygon class="q603" points="117.8,114.1 121.1,115.5 122.5,113.4 119.3,112.0"/><path class="m" d="M119.3,112.0L122.5,113.4"/><polygon class="q610" points="41.9,100.6 43.1,98.3 45.2,96.9 44.0,99.3"/><polygon class="q113" points="63.0,78.5 64.6,79.0 66.4,77.1 64.9,76.6"/><polygon class="q222" points="89.2,112.9 92.4,114.3 94.0,112.2 90.9,110.9"/><path class="m" d="M89.2,112.9L90.9,110.9"/><path class="m" d="M90.9,110.9L94.0,112.2"/><polygon class="q611" points="45.2,96.9 46.4,93.8 48.4,92.6 47.2,95.6"/><path class="m" d="M45.2,96.9L47.2,95.6"/><path class="m" d="M47.2,95.6L48.4,92.6"/><polygon class="q307" points="97.2,113.6 100.4,114.9 102.0,112.8 98.8,111.5"/><path class="m" d="M97.2,113.6L98.8,111.5"/><polygon class="q248" points="68.5,111.4 70.1,113.1 71.9,110.8 70.3,109.1"/><polygon class="q495" points="105.1,114.2 108.4,115.6 109.9,113.5 106.7,112.1"/><path class="m" d="M105.1,114.2L106.7,112.1"/><path class="m" d="M106.7,112.1L109.9,113.5"/><polygon class="q612" points="48.4,92.6 49.6,89.2 51.6,88.0 50.4,91.3"/><polygon class="q324" points="66.9,109.6 68.5,111.4 70.3,109.1 68.8,107.4"/><polygon class="q245" points="76.5,113.1 79.6,114.4 81.3,112.3 78.2,111.0"/><path class="m" d="M78.2,111.0L81.3,112.3"/><polygon class="q113" points="64.6,79.0 66.1,79.5 67.9,77.6 66.4,77.1"/><polygon class="q498" points="65.4,107.8 66.9,109.6 68.8,107.4 67.2,105.7"/><polygon class="q340" points="70.1,113.1 71.6,113.8 73.4,111.7 71.9,110.8"/><polygon class="q578" points="113.1,114.8 116.4,116.2 117.8,114.1 114.6,112.7"/><path class="m" d="M113.1,114.8L114.6,112.7"/><polygon class="q113" points="58.2,79.3 59.7,79.8 61.5,78.0 60.0,77.5"/><polygon class="q613" points="63.8,106.0 65.4,107.8 67.2,105.7 65.7,103.9"/><path class="m" d="M65.4,107.8L67.2,105.7"/><polygon class="q466" points="84.4,113.7 87.6,115.1 89.2,112.9 86.1,111.6"/><polygon class="q384" points="92.4,114.3 95.6,115.7 97.2,113.6 94.0,112.2"/><path class="m" d="M94.0,112.2L97.2,113.6"/><polygon class="q574" points="71.6,113.8 73.1,114.5 74.9,112.4 73.4,111.7"/><path class="m" d="M71.6,113.8L73.4,111.7"/><polygon class="q614" points="51.6,88.0 52.8,83.6 54.8,82.8 53.6,86.9"/><path class="m" d="M53.6,86.9L54.8,82.8"/><polygon class="q113" points="66.1,79.5 67.6,79.9 69.4,78.1 67.9,77.6"/><polygon class="q501" points="100.4,114.9 103.6,116.3 105.1,114.2 102.0,112.8"/><polygon class="q113" points="59.7,79.8 61.2,80.3 63.0,78.5 61.5,78.0"/><polygon class="q113" points="55.0,80.8 56.2,81.2 58.2,79.3 57.2,79.0"/><polygon class="q615" points="54.8,82.8 55.0,80.8 57.2,79.0 56.8,81.7"/><polygon class="q113" points="65.7,81.8 67.0,82.2 68.9,80.4 67.6,79.9"/><polygon class="q281" points="108.4,115.6 111.6,117.0 113.1,114.8 109.9,113.5"/><path class="m" d="M109.9,113.5L113.1,114.8"/><polygon class="q172" points="79.6,114.4 82.7,115.8 84.4,113.7 81.3,112.3"/><path class="m" d="M79.6,114.4L81.3,112.3"/><path class="m" d="M81.3,112.3L84.4,113.7"/><polygon class="q184" points="73.1,114.5 74.7,115.2 76.5,113.1 74.9,112.4"/><polygon class="q603" points="116.4,116.2 119.7,117.6 121.1,115.5 117.8,114.1"/><polygon class="q222" points="87.6,115.1 90.7,116.4 92.4,114.3 89.2,112.9"/><path class="m" d="M87.6,115.1L89.2,112.9"/><polygon class="q113" points="61.2,80.3 62.7,80.8 64.6,79.0 63.0,78.5"/><polygon class="q307" points="95.6,115.7 98.8,117.1 100.4,114.9 97.2,113.6"/><path class="m" d="M95.6,115.7L97.2,113.6"/><path class="m" d="M97.2,113.6L100.4,114.9"/><polygon class="q616" points="66.7,113.7 68.2,115.3 70.1,113.1 68.5,111.4"/><path class="m" d="M68.5,111.4L70.1,113.1"/><polygon class="q617" points="65.1,111.8 66.7,113.7 68.5,111.4 66.9,109.6"/><path class="m" d="M66.9,109.6L68.5,111.4"/><polygon class="q495" points="103.6,116.3 106.8,117.7 108.4,115.6 105.1,114.2"/><path class="m" d="M103.6,116.3L105.1,114.2"/><polygon class="q618" points="43.1,98.3 44.3,95.1 46.4,93.8 45.2,96.9"/><path class="m" d="M43.1,98.3L45.2,96.9"/><polygon class="q408" points="63.5,110.0 65.1,111.8 66.9,109.6 65.4,107.8"/><path class="m" d="M65.4,107.8L66.9,109.6"/><polygon class="q619" points="74.7,115.2 77.8,116.6 79.6,114.4 76.5,113.1"/><polygon class="q113" points="62.7,80.8 64.2,81.3 66.1,79.5 64.6,79.0"/><polygon class="q134" points="68.2,115.3 69.8,116.0 71.6,113.8 70.1,113.1"/><path class="m" d="M70.1,113.1L71.6,113.8"/><polygon class="q578" points="111.6,117.0 114.9,118.4 116.4,116.2 113.1,114.8"/><path class="m" d="M111.6,117.0L113.1,114.8"/><path class="m" d="M113.1,114.8L116.4,116.2"/><polygon class="q620" points="61.9,108.1 63.5,110.0 65.4,107.8 63.8,106.0"/><path class="m" d="M63.8,106.0L65.4,107.8"/><path class="m" d="M63.5,110.0L65.4,107.8"/><polygon class="q113" points="56.2,81.2 57.7,81.7 59.7,79.8 58.2,79.3"/><polygon class="q304" points="82.7,115.8 85.9,117.2 87.6,115.1 84.4,113.7"/><path class="m" d="M84.4,113.7L87.6,115.1"/><polygon class="q621" points="46.4,93.8 47.5,90.1 49.6,89.2 48.4,92.6"/><path class="m" d="M48.4,92.6L49.6,89.2"/><polygon class="q384" points="90.7,116.4 93.9,117.8 95.6,115.7 92.4,114.3"/><polygon class="q155" points="69.8,116.0 71.3,116.7 73.1,114.5 71.6,113.8"/><path class="m" d="M69.8,116.0L71.6,113.8"/><path class="m" d="M71.6,113.8L73.1,114.5"/><polygon class="q113" points="64.2,81.3 65.7,81.8 67.6,79.9 66.1,79.5"/><polygon class="q501" points="98.8,117.1 102.0,118.5 103.6,116.3 100.4,114.9"/><path class="m" d="M100.4,114.9L103.6,116.3"/><polygon class="q113" points="57.7,81.7 59.3,82.2 61.2,80.3 59.7,79.8"/><polygon class="q281" points="106.8,117.7 110.1,119.1 111.6,117.0 108.4,115.6"/><polygon class="q113" points="52.8,82.6 54.3,83.1 56.2,81.2 55.0,80.8"/><polygon class="q555" points="52.8,83.6 52.8,82.6 55.0,80.8 54.8,82.8"/><path class="m" d="M54.8,82.8L56.2,81.2"/><polygon class="q113" points="63.9,83.7 65.2,84.2 67.0,82.2 65.7,81.8"/><polygon class="q622" points="49.6,89.2 50.8,84.7 52.8,83.6 51.6,88.0"/><polygon class="q203" points="77.8,116.6 80.9,118.0 82.7,115.8 79.6,114.4"/><path class="m" d="M77.8,116.6L79.6,114.4"/><polygon class="q184" points="71.3,116.7 72.9,117.4 74.7,115.2 73.1,114.5"/><path class="m" d="M73.1,114.5L74.7,115.2"/><polygon class="q603" points="114.9,118.4 118.2,119.8 119.7,117.6 116.4,116.2"/><path class="m" d="M116.4,116.2L119.7,117.6"/><polygon class="q222" points="85.9,117.2 89.0,118.6 90.7,116.4 87.6,115.1"/><path class="m" d="M85.9,117.2L87.6,115.1"/><path class="m" d="M87.6,115.1L90.7,116.4"/><polygon class="q113" points="59.3,82.2 60.8,82.7 62.7,80.8 61.2,80.3"/><polygon class="q307" points="93.9,117.8 97.1,119.2 98.8,117.1 95.6,115.7"/><path class="m" d="M93.9,117.8L95.6,115.7"/><polygon class="q414" points="64.8,116.0 66.4,117.5 68.2,115.3 66.7,113.7"/><polygon class="q260" points="63.2,114.1 64.8,116.0 66.7,113.7 65.1,111.8"/><polygon class="q495" points="102.0,118.5 105.2,119.9 106.8,117.7 103.6,116.3"/><path class="m" d="M102.0,118.5L103.6,116.3"/><path class="m" d="M103.6,116.3L106.8,117.7"/><polygon class="q541" points="61.6,112.2 63.2,114.1 65.1,111.8 63.5,110.0"/><polygon class="q267" points="72.9,117.4 76.0,118.8 77.8,116.6 74.7,115.2"/><path class="m" d="M74.7,115.2L77.8,116.6"/><polygon class="q134" points="66.4,117.5 67.9,118.2 69.8,116.0 68.2,115.3"/><polygon class="q113" points="60.8,82.7 62.3,83.2 64.2,81.3 62.7,80.8"/><polygon class="q623" points="60.0,110.3 61.6,112.2 63.5,110.0 61.9,108.1"/><path class="m" d="M61.6,112.2L63.5,110.0"/><polygon class="q578" points="110.1,119.1 113.4,120.5 114.9,118.4 111.6,117.0"/><path class="m" d="M110.1,119.1L111.6,117.0"/><polygon class="q113" points="54.3,83.1 55.8,83.6 57.7,81.7 56.2,81.2"/><polygon class="q304" points="80.9,118.0 84.1,119.4 85.9,117.2 82.7,115.8"/><polygon class="q384" points="89.0,118.6 92.2,120.0 93.9,117.8 90.7,116.4"/><path class="m" d="M90.7,116.4L93.9,117.8"/><polygon class="q155" points="67.9,118.2 69.5,118.9 71.3,116.7 69.8,116.0"/><path class="m" d="M67.9,118.2L69.8,116.0"/><polygon class="q113" points="62.3,83.2 63.9,83.7 65.7,81.8 64.2,81.3"/><polygon class="q501" points="97.1,119.2 100.4,120.7 102.0,118.5 98.8,117.1"/><polygon class="q113" points="55.8,83.6 57.3,84.1 59.3,82.2 57.7,81.7"/><polygon class="q624" points="44.3,95.1 45.4,91.2 47.5,90.1 46.4,93.8"/><polygon class="q281" points="105.2,119.9 108.5,121.3 110.1,119.1 106.8,117.7"/><path class="m" d="M106.8,117.7L110.1,119.1"/><polygon class="q203" points="76.0,118.8 79.2,120.2 80.9,118.0 77.8,116.6"/><path class="m" d="M76.0,118.8L77.8,116.6"/><path class="m" d="M77.8,116.6L80.9,118.0"/><polygon class="q184" points="69.5,118.9 71.0,119.6 72.9,117.4 71.3,116.7"/><polygon class="q113" points="61.9,85.7 63.3,86.1 65.2,84.2 63.9,83.7"/><polygon class="q603" points="113.4,120.5 116.7,122.0 118.2,119.8 114.9,118.4"/><polygon class="q113" points="50.8,84.5 52.3,85.0 54.3,83.1 52.8,82.6"/><polygon class="q570" points="50.8,84.7 50.8,84.5 52.8,82.6 52.8,83.6"/><polygon class="q222" points="84.1,119.4 87.3,120.8 89.0,118.6 85.9,117.2"/><path class="m" d="M84.1,119.4L85.9,117.2"/><polygon class="q113" points="57.3,84.1 58.9,84.6 60.8,82.7 59.3,82.2"/><polygon class="q113" points="48.3,86.3 48.8,86.4 50.6,84.6"/><polygon class="q625" points="47.5,90.1 48.3,86.3 50.6,84.6 50.8,84.7 49.6,89.2"/><path class="m" d="M49.6,89.2L50.8,84.7"/><polygon class="q307" points="92.2,120.0 95.5,121.5 97.1,119.2 93.9,117.8"/><path class="m" d="M92.2,120.0L93.9,117.8"/><path class="m" d="M93.9,117.8L97.1,119.2"/><polygon class="q495" points="100.4,120.7 103.6,122.1 105.2,119.9 102.0,118.5"/><path class="m" d="M100.4,120.7L102.0,118.5"/><polygon class="q267" points="71.0,119.6 74.2,121.0 76.0,118.8 72.9,117.4"/><polygon class="q113" points="58.9,84.6 60.4,85.1 62.3,83.2 60.8,82.7"/><polygon class="q578" points="108.5,121.3 111.8,122.7 113.4,120.5 110.1,119.1"/><path class="m" d="M108.5,121.3L110.1,119.1"/><path class="m" d="M110.1,119.1L113.4,120.5"/><polygon class="q113" points="52.3,85.0 53.8,85.5 55.8,83.6 54.3,83.1"/><polygon class="q304" points="79.2,120.2 82.4,121.6 84.1,119.4 80.9,118.0"/><path class="m" d="M80.9,118.0L84.1,119.4"/><polygon class="q384" points="87.3,120.8 90.5,122.2 92.2,120.0 89.0,118.6"/><polygon class="q113" points="60.4,85.1 61.9,85.7 63.9,83.7 62.3,83.2"/><polygon class="q501" points="95.5,121.5 98.7,122.9 100.4,120.7 97.1,119.2"/><path class="m" d="M97.1,119.2L100.4,120.7"/><polygon class="q113" points="53.8,85.5 55.4,86.1 57.3,84.1 55.8,83.6"/><polygon class="q281" points="103.6,122.1 106.9,123.5 108.5,121.3 105.2,119.9"/><polygon class="q203" points="74.2,121.0 77.4,122.4 79.2,120.2 76.0,118.8"/><path class="m" d="M74.2,121.0L76.0,118.8"/><polygon class="q603" points="111.8,122.7 115.2,124.2 116.7,122.0 113.4,120.5"/><path class="m" d="M113.4,120.5L116.7,122.0"/><polygon class="q113" points="60.0,87.6 61.4,88.1 63.3,86.1 61.9,85.7"/><polygon class="q222" points="82.4,121.6 85.6,123.1 87.3,120.8 84.1,119.4"/><path class="m" d="M82.4,121.6L84.1,119.4"/><path class="m" d="M84.1,119.4L87.3,120.8"/><polygon class="q113" points="55.4,86.1 56.9,86.6 58.9,84.6 57.3,84.1"/><polygon class="q113" points="48.8,86.4 50.3,87.0 52.3,85.0 50.8,84.5 50.6,84.6"/><polygon class="q605" points="50.8,84.5 50.8,84.7 50.6,84.6"/><path class="m" d="M50.8,84.7L52.3,85.0"/><polygon class="q353" points="90.5,122.2 93.8,123.7 95.5,121.5 92.2,120.0"/><path class="m" d="M90.5,122.2L92.2,120.0"/><polygon class="q113" points="45.9,88.1 46.7,88.4 48.8,86.4 48.3,86.3"/><polygon class="q626" points="45.4,91.2 45.9,88.1 48.3,86.3 47.5,90.1"/><polygon class="q495" points="98.7,122.9 102.0,124.3 103.6,122.1 100.4,120.7"/><path class="m" d="M98.7,122.9L100.4,120.7"/><path class="m" d="M100.4,120.7L103.6,122.1"/><polygon class="q113" points="56.9,86.6 58.4,87.1 60.4,85.1 58.9,84.6"/><polygon class="q578" points="106.9,123.5 110.3,125.0 111.8,122.7 108.5,121.3"/><path class="m" d="M106.9,123.5L108.5,121.3"/><polygon class="q113" points="50.3,87.0 51.8,87.5 53.8,85.5 52.3,85.0"/><polygon class="q304" points="77.4,122.4 80.6,123.9 82.4,121.6 79.2,120.2"/><polygon class="q384" points="85.6,123.1 88.8,124.5 90.5,122.2 87.3,120.8"/><path class="m" d="M87.3,120.8L90.5,122.2"/><polygon class="q113" points="58.4,87.1 60.0,87.6 61.9,85.7 60.4,85.1"/><polygon class="q501" points="93.8,123.7 97.1,125.1 98.7,122.9 95.5,121.5"/><polygon class="q113" points="51.8,87.5 53.4,88.0 55.4,86.1 53.8,85.5"/><polygon class="q281" points="102.0,124.3 105.3,125.8 106.9,123.5 103.6,122.1"/><path class="m" d="M103.6,122.1L106.9,123.5"/><polygon class="q603" points="110.3,125.0 113.6,126.5 115.2,124.2 111.8,122.7"/><polygon class="q222" points="80.6,123.9 83.8,125.3 85.6,123.1 82.4,121.6"/><path class="m" d="M80.6,123.9L82.4,121.6"/><polygon class="q113" points="53.4,88.0 54.9,88.6 56.9,86.6 55.4,86.1"/><polygon class="q113" points="46.7,88.4 48.2,88.9 50.3,87.0 48.8,86.4"/><polygon class="q113" points="58.0,89.6 59.4,90.1 61.4,88.1 60.0,87.6"/><polygon class="q353" points="88.8,124.5 92.1,126.0 93.8,123.7 90.5,122.2"/><path class="m" d="M88.8,124.5L90.5,122.2"/><path class="m" d="M90.5,122.2L93.8,123.7"/><polygon class="q495" points="97.1,125.1 100.4,126.6 102.0,124.3 98.7,122.9"/><path class="m" d="M97.1,125.1L98.7,122.9"/><polygon class="q113" points="54.9,88.6 56.5,89.1 58.4,87.1 56.9,86.6"/><polygon class="q578" points="105.3,125.8 108.7,127.3 110.3,125.0 106.9,123.5"/><path class="m" d="M105.3,125.8L106.9,123.5"/><path class="m" d="M106.9,123.5L110.3,125.0"/><polygon class="q113" points="48.2,88.9 49.8,89.5 51.8,87.5 50.3,87.0"/><polygon class="q173" points="83.8,125.3 87.1,126.8 88.8,124.5 85.6,123.1"/><polygon class="q113" points="56.5,89.1 58.0,89.6 60.0,87.6 58.4,87.1"/><polygon class="q501" points="92.1,126.0 95.4,127.4 97.1,125.1 93.8,123.7"/><path class="m" d="M93.8,123.7L97.1,125.1"/><polygon class="q113" points="49.8,89.5 51.3,90.0 53.4,88.0 51.8,87.5"/><polygon class="q281" points="100.4,126.6 103.7,128.1 105.3,125.8 102.0,124.3"/><polygon class="q603" points="108.7,127.3 112.1,128.8 113.6,126.5 110.3,125.0"/><path class="m" d="M110.3,125.0L113.6,126.5"/><polygon class="q113" points="51.3,90.0 52.9,90.6 54.9,88.6 53.4,88.0"/><polygon class="q353" points="87.1,126.8 90.3,128.3 92.1,126.0 88.8,124.5"/><path class="m" d="M87.1,126.8L88.8,124.5"/><polygon class="q113" points="56.0,91.7 57.4,92.2 59.4,90.1 58.0,89.6"/><polygon class="q495" points="95.4,127.4 98.7,128.9 100.4,126.6 97.1,125.1"/><path class="m" d="M95.4,127.4L97.1,125.1"/><path class="m" d="M97.1,125.1L100.4,126.6"/><polygon class="q113" points="52.9,90.6 54.4,91.1 56.5,89.1 54.9,88.6"/><polygon class="q578" points="103.7,128.1 107.1,129.6 108.7,127.3 105.3,125.8"/><path class="m" d="M103.7,128.1L105.3,125.8"/><polygon class="q113" points="54.4,91.1 56.0,91.7 58.0,89.6 56.5,89.1"/><polygon class="q501" points="90.3,128.3 93.7,129.8 95.4,127.4 92.1,126.0"/><polygon class="q281" points="98.7,128.9 102.1,130.4 103.7,128.1 100.4,126.6"/><path class="m" d="M100.4,126.6L103.7,128.1"/><polygon class="q603" points="107.1,129.6 110.5,131.1 112.1,128.8 108.7,127.3"/><polygon class="q495" points="93.7,129.8 97.0,131.3 98.7,128.9 95.4,127.4"/><path class="m" d="M93.7,129.8L95.4,127.4"/><polygon class="q578" points="102.1,130.4 105.5,131.9 107.1,129.6 103.7,128.1"/><path class="m" d="M102.1,130.4L103.7,128.1"/><path class="m" d="M103.7,128.1L107.1,129.6"/><polygon class="q281" points="97.0,131.3 100.4,132.8 102.1,130.4 98.7,128.9"/><polygon class="q603" points="105.5,131.9 108.9,133.5 110.5,131.1 107.1,129.6"/><path class="m" d="M107.1,129.6L110.5,131.1"/><polygon class="q578" points="100.4,132.8 103.8,134.3 105.5,131.9 102.1,130.4"/><path class="m" d="M100.4,132.8L102.1,130.4"/><polygon class="q603" points="103.8,134.3 107.2,135.9 108.9,133.5 105.5,131.9"/></g>
<defs><linearGradient id="spk" x1="0" y1="0" x2="0" y2="1"><stop offset="0" stop-color="#e03a20"/><stop offset="0.6" stop-color="#e8602a"/><stop offset="1" stop-color="#c87a30"/></linearGradient></defs>
<polygon points="54,88.6 59.6,89.6 57.4,104.5" fill="url(#spk)"/>
<polyline points="80.1,66.3 83.0,63.9 85.9,61.4 88.3,59.0 90.8,56.6 93.4,54.3 95.8,52.0 98.3,49.8 100.7,47.6 103.0,45.4 105.3,43.3 107.5,41.3" fill="none" stroke="#e8823a" stroke-width="0.7" stroke-dasharray="1.2 0.8"/>
<path d="M55.6,89.5L57.2,103M57.9,89.6L57.6,103" stroke="#5a2010" stroke-width="0.4" opacity="0.6"/>
<line x1="13.0" y1="107.4" x2="106.7" y2="144.9" stroke="#a0a0a0" stroke-width="0.7"/>
<line x1="106.7" y1="144.9" x2="148.2" y2="82.1" stroke="#a0a0a0" stroke-width="0.7"/>
<line x1="11.8" y1="109.2" x2="105.6" y2="147.1" stroke="#c0c0c0" stroke-width="0.6"/>
<line x1="108.3" y1="146.2" x2="149.5" y2="83.1" stroke="#c0c0c0" stroke-width="0.6"/>
<path d="M13.0,107.4L11.0,109.2M17.1,109.0L15.1,110.9M21.2,110.7L19.2,112.5M25.4,112.4L23.5,114.2M29.6,114.1L27.7,116.0M33.9,115.8L32.0,117.7M38.3,117.5L36.4,119.5M42.7,119.3L40.9,121.3M47.2,121.1L45.4,123.1M51.8,122.9L50.0,125.0M56.4,124.8L54.6,126.9M61.1,126.7L59.3,128.8M65.9,128.6L64.1,130.7M70.7,130.5L69.0,132.7M75.6,132.5L73.9,134.7M80.6,134.5L78.9,136.7M85.6,136.5L84.0,138.8M90.8,138.6L89.1,140.8M96.0,140.7L94.4,143.0M101.3,142.8L99.7,145.1M106.7,144.9L105.1,147.3M106.7,144.9L109.9,146.3M109.2,141.1L112.5,142.3M111.7,137.3L114.9,138.5M114.2,133.6L117.4,134.8M116.6,130.0L119.7,131.2M118.9,126.5L122.0,127.6M121.1,123.0L124.3,124.2M123.4,119.7L126.4,120.8M125.5,116.4L128.6,117.5M127.7,113.2L130.7,114.2M129.7,110.0L132.7,111.1M131.8,107.0L134.7,108.0M133.7,104.0L136.7,104.9M135.7,101.0L138.6,102.0M137.6,98.2L140.5,99.1M139.4,95.4L142.3,96.3M141.3,92.6L144.1,93.5M143.0,89.9L145.9,90.8M144.8,87.3L147.6,88.1M146.5,84.7L149.3,85.5M148.2,82.1L150.9,82.9M12.8,106.3L10.8,105.5M12.4,103.9L10.4,103.1M12.1,101.4L10.0,100.6M11.7,98.9L9.6,98.1M11.3,96.3L9.2,95.5M10.9,93.7L8.8,93.0M10.5,91.1L8.4,90.4M10.1,88.5L8.0,87.7M9.7,85.8L7.6,85.1M9.2,83.2L7.1,82.4M8.8,80.4L6.7,79.7M8.4,77.7L6.3,76.9M8.0,74.9L5.8,74.1" stroke="#808080" stroke-width="0.5" fill="none"/>
<text transform="translate(6.2,122) scale(0.87,1)" text-anchor="middle" style="font-family:'Liberation Sans',sans-serif;font-weight:bold;font-size:11.14px" fill="#000" >−2</text>
<text transform="translate(27,130.7) scale(0.87,1)" text-anchor="middle" style="font-family:'Liberation Sans',sans-serif;font-weight:bold;font-size:11.14px" fill="#000" >−1</text>
<text transform="translate(53.2,138.3) scale(0.87,1)" text-anchor="middle" style="font-family:'Liberation Sans',sans-serif;font-weight:bold;font-size:11.14px" fill="#000" >0</text>
<text transform="translate(77.1,147.1) scale(0.87,1)" text-anchor="middle" style="font-family:'Liberation Sans',sans-serif;font-weight:bold;font-size:11.14px" fill="#000" >1</text>
<text transform="translate(101.7,157.2) scale(0.87,1)" text-anchor="middle" style="font-family:'Liberation Sans',sans-serif;font-weight:bold;font-size:11.14px" fill="#000" >2</text>
<text transform="translate(116.2,151) scale(0.87,1)" text-anchor="middle" style="font-family:'Liberation Sans',sans-serif;font-weight:bold;font-size:11.14px" fill="#000" >−2</text>
<text transform="translate(127.1,134.3) scale(0.87,1)" text-anchor="middle" style="font-family:'Liberation Sans',sans-serif;font-weight:bold;font-size:11.14px" fill="#000" >−1</text>
<text transform="translate(134.5,118.5) scale(0.87,1)" text-anchor="middle" style="font-family:'Liberation Sans',sans-serif;font-weight:bold;font-size:11.14px" fill="#000" >0</text>
<text transform="translate(143,103.9) scale(0.87,1)" text-anchor="middle" style="font-family:'Liberation Sans',sans-serif;font-weight:bold;font-size:11.14px" fill="#000" >1</text>
<text transform="translate(151.4,90.3) scale(0.87,1)" text-anchor="middle" style="font-family:'Liberation Sans',sans-serif;font-weight:bold;font-size:11.14px" fill="#000" >2</text>
<text transform="translate(11.2,109.6) scale(0.87,1)" text-anchor="end" style="font-family:'Liberation Sans',sans-serif;font-weight:bold;font-size:11.14px" fill="#000" >0</text>
<text transform="translate(9.5,99.8) scale(0.87,1)" text-anchor="end" style="font-family:'Liberation Sans',sans-serif;font-weight:bold;font-size:11.14px" fill="#000" >2</text>
<text transform="translate(8.3,89.9) scale(0.87,1)" text-anchor="end" style="font-family:'Liberation Sans',sans-serif;font-weight:bold;font-size:11.14px" fill="#000" >4</text>
<text transform="translate(6,77.8) scale(0.87,1)" text-anchor="end" style="font-family:'Liberation Sans',sans-serif;font-weight:bold;font-size:11.14px" fill="#000" >6</text>
<text x="45.8" y="146.4" text-anchor="middle" style="font-family:'Liberation Sans',sans-serif;font-weight:bold;font-style:italic;font-size:11px">x</text>
<text x="140.8" y="119.6" text-anchor="middle" style="font-family:'Liberation Sans',sans-serif;font-weight:bold;font-style:italic;font-size:11px">t</text>
<defs><linearGradient id="cba" x1="0" x2="0" y1="0" y2="1"><stop offset="0.000" stop-color="#db2122"/><stop offset="0.130" stop-color="#e85c2a"/><stop offset="0.240" stop-color="#e49137"/><stop offset="0.350" stop-color="#c8b644"/><stop offset="0.450" stop-color="#8cbc6e"/><stop offset="0.540" stop-color="#64aa96"/><stop offset="0.640" stop-color="#4b91be"/><stop offset="0.760" stop-color="#4169d4"/><stop offset="0.860" stop-color="#4b3ec8"/><stop offset="0.940" stop-color="#6c28a5"/><stop offset="1.000" stop-color="#781c86"/></linearGradient></defs>
<rect x="165.8" y="57.8" width="5" height="47.8" fill="url(#cba)"/>
<text transform="translate(174.6,101.5) scale(0.87,1)" text-anchor="start" style="font-family:'Liberation Sans',sans-serif;font-weight:bold;font-size:9.98px" fill="#000" >1</text>
<text transform="translate(174.6,93.4) scale(0.87,1)" text-anchor="start" style="font-family:'Liberation Sans',sans-serif;font-weight:bold;font-size:9.98px" fill="#000" >2</text>
<text transform="translate(174.6,85.3) scale(0.87,1)" text-anchor="start" style="font-family:'Liberation Sans',sans-serif;font-weight:bold;font-size:9.98px" fill="#000" >3</text>
<text transform="translate(174.6,77.2) scale(0.87,1)" text-anchor="start" style="font-family:'Liberation Sans',sans-serif;font-weight:bold;font-size:9.98px" fill="#000" >4</text>
<text transform="translate(174.6,69.1) scale(0.87,1)" text-anchor="start" style="font-family:'Liberation Sans',sans-serif;font-weight:bold;font-size:9.98px" fill="#000" >5</text>
<text transform="translate(174.6,61) scale(0.87,1)" text-anchor="start" style="font-family:'Liberation Sans',sans-serif;font-weight:bold;font-size:9.98px" fill="#000" >6</text>
</svg></body></html>
